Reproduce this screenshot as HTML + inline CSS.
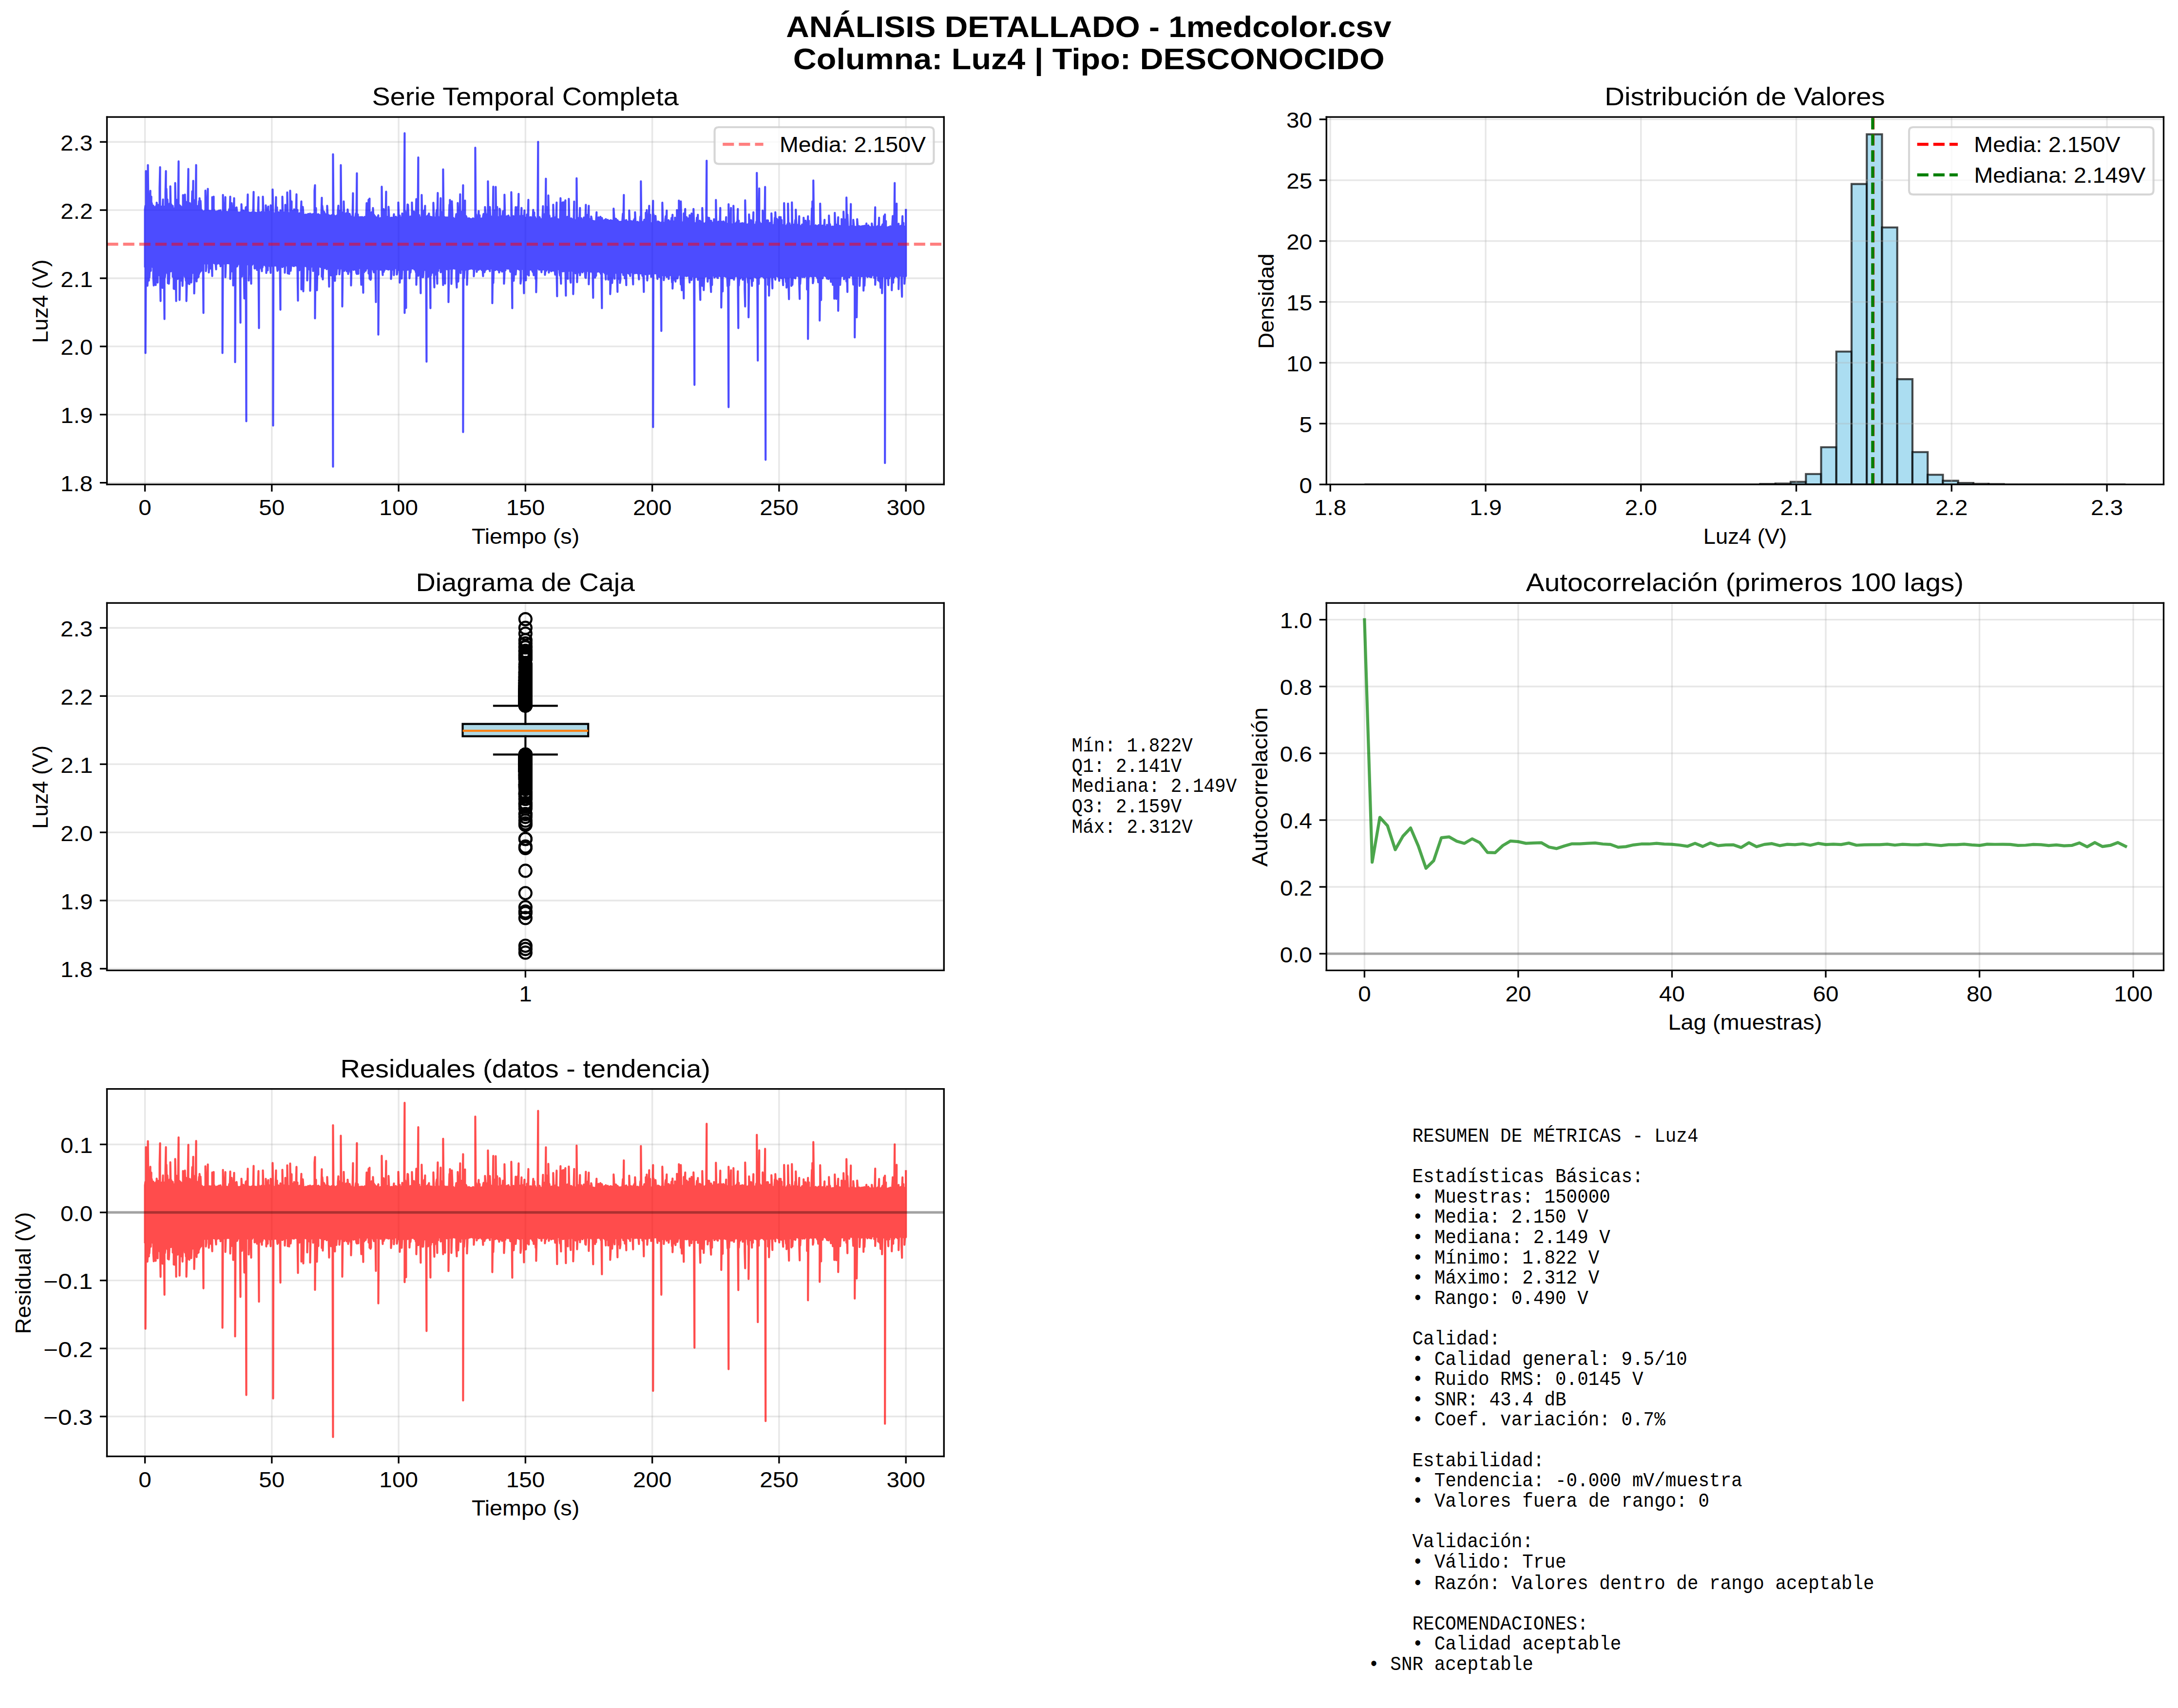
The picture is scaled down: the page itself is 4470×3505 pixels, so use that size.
<!DOCTYPE html>
<html><head><meta charset="utf-8"><title>Análisis detallado - 1medcolor.csv</title>
<style>html,body{margin:0;padding:0;background:#fff;overflow:hidden}svg{display:block}</style>
</head><body>
<svg width="4470" height="3505" viewBox="0 0 1072.8 841.2" version="1.1">
<defs>
<style type="text/css">*{stroke-linejoin: round; stroke-linecap: butt}</style>
</defs>
<g id="figure_1">
<g id="patch_1">
<path d="M 0 841.2 
L 1072.8 841.2 
L 1072.8 0 
L 0 0 
z
" style="fill: #ffffff"/>
</g>
<g id="axes_1">
<g id="patch_2">
<path d="M 52.68 238.60 
L 464.95 238.60 
L 464.95 57.64 
L 52.68 57.64 
z
" style="fill: #ffffff"/>
</g>
<g id="matplotlib.axis_1">
<g id="xtick_1">
<g id="line2d_1">
<path d="M 71.41 238.60 
L 71.41 57.64 
" clip-path="url(#pfc996ee8aa)" style="fill: none; stroke: #b0b0b0; stroke-opacity: 0.3; stroke-width: 0.8; stroke-linecap: square"/>
</g>
<g id="line2d_2">
<defs>
<path id="m7c25c535dc" d="M 0 0 
L 0 3.5 
" style="stroke: #000000; stroke-width: 0.8"/>
</defs>
<g>
<use href="#m7c25c535dc" x="71.41" y="238.60" style="stroke: #000000; stroke-width: 0.8"/>
</g>
</g>
</g>
<g id="xtick_2">
<g id="line2d_3">
<path d="M 133.88 238.60 
L 133.88 57.64 
" clip-path="url(#pfc996ee8aa)" style="fill: none; stroke: #b0b0b0; stroke-opacity: 0.3; stroke-width: 0.8; stroke-linecap: square"/>
</g>
<g id="line2d_4">
<g>
<use href="#m7c25c535dc" x="133.88" y="238.60" style="stroke: #000000; stroke-width: 0.8"/>
</g>
</g>
</g>
<g id="xtick_3">
<g id="line2d_5">
<path d="M 196.35 238.60 
L 196.35 57.64 
" clip-path="url(#pfc996ee8aa)" style="fill: none; stroke: #b0b0b0; stroke-opacity: 0.3; stroke-width: 0.8; stroke-linecap: square"/>
</g>
<g id="line2d_6">
<g>
<use href="#m7c25c535dc" x="196.35" y="238.60" style="stroke: #000000; stroke-width: 0.8"/>
</g>
</g>
</g>
<g id="xtick_4">
<g id="line2d_7">
<path d="M 258.81 238.60 
L 258.81 57.64 
" clip-path="url(#pfc996ee8aa)" style="fill: none; stroke: #b0b0b0; stroke-opacity: 0.3; stroke-width: 0.8; stroke-linecap: square"/>
</g>
<g id="line2d_8">
<g>
<use href="#m7c25c535dc" x="258.81" y="238.60" style="stroke: #000000; stroke-width: 0.8"/>
</g>
</g>
</g>
<g id="xtick_5">
<g id="line2d_9">
<path d="M 321.28 238.60 
L 321.28 57.64 
" clip-path="url(#pfc996ee8aa)" style="fill: none; stroke: #b0b0b0; stroke-opacity: 0.3; stroke-width: 0.8; stroke-linecap: square"/>
</g>
<g id="line2d_10">
<g>
<use href="#m7c25c535dc" x="321.28" y="238.60" style="stroke: #000000; stroke-width: 0.8"/>
</g>
</g>
</g>
<g id="xtick_6">
<g id="line2d_11">
<path d="M 383.74 238.60 
L 383.74 57.64 
" clip-path="url(#pfc996ee8aa)" style="fill: none; stroke: #b0b0b0; stroke-opacity: 0.3; stroke-width: 0.8; stroke-linecap: square"/>
</g>
<g id="line2d_12">
<g>
<use href="#m7c25c535dc" x="383.74" y="238.60" style="stroke: #000000; stroke-width: 0.8"/>
</g>
</g>
</g>
<g id="xtick_7">
<g id="line2d_13">
<path d="M 446.21 238.60 
L 446.21 57.64 
" clip-path="url(#pfc996ee8aa)" style="fill: none; stroke: #b0b0b0; stroke-opacity: 0.3; stroke-width: 0.8; stroke-linecap: square"/>
</g>
<g id="line2d_14">
<g>
<use href="#m7c25c535dc" x="446.21" y="238.60" style="stroke: #000000; stroke-width: 0.8"/>
</g>
</g>
</g>
</g>
<g id="matplotlib.axis_2">
<g id="ytick_1">
<g id="line2d_15">
<path d="M 52.68 237.76 
L 464.95 237.76 
" clip-path="url(#pfc996ee8aa)" style="fill: none; stroke: #b0b0b0; stroke-opacity: 0.3; stroke-width: 0.8; stroke-linecap: square"/>
</g>
<g id="line2d_16">
<defs>
<path id="mb258c49b38" d="M 0 0 
L -3.5 0 
" style="stroke: #000000; stroke-width: 0.8"/>
</defs>
<g>
<use href="#mb258c49b38" x="52.68" y="237.76" style="stroke: #000000; stroke-width: 0.8"/>
</g>
</g>
</g>
<g id="ytick_2">
<g id="line2d_17">
<path d="M 52.68 204.19 
L 464.95 204.19 
" clip-path="url(#pfc996ee8aa)" style="fill: none; stroke: #b0b0b0; stroke-opacity: 0.3; stroke-width: 0.8; stroke-linecap: square"/>
</g>
<g id="line2d_18">
<g>
<use href="#mb258c49b38" x="52.68" y="204.19" style="stroke: #000000; stroke-width: 0.8"/>
</g>
</g>
</g>
<g id="ytick_3">
<g id="line2d_19">
<path d="M 52.68 170.62 
L 464.95 170.62 
" clip-path="url(#pfc996ee8aa)" style="fill: none; stroke: #b0b0b0; stroke-opacity: 0.3; stroke-width: 0.8; stroke-linecap: square"/>
</g>
<g id="line2d_20">
<g>
<use href="#mb258c49b38" x="52.68" y="170.62" style="stroke: #000000; stroke-width: 0.8"/>
</g>
</g>
</g>
<g id="ytick_4">
<g id="line2d_21">
<path d="M 52.68 137.04 
L 464.95 137.04 
" clip-path="url(#pfc996ee8aa)" style="fill: none; stroke: #b0b0b0; stroke-opacity: 0.3; stroke-width: 0.8; stroke-linecap: square"/>
</g>
<g id="line2d_22">
<g>
<use href="#mb258c49b38" x="52.68" y="137.04" style="stroke: #000000; stroke-width: 0.8"/>
</g>
</g>
</g>
<g id="ytick_5">
<g id="line2d_23">
<path d="M 52.68 103.47 
L 464.95 103.47 
" clip-path="url(#pfc996ee8aa)" style="fill: none; stroke: #b0b0b0; stroke-opacity: 0.3; stroke-width: 0.8; stroke-linecap: square"/>
</g>
<g id="line2d_24">
<g>
<use href="#mb258c49b38" x="52.68" y="103.47" style="stroke: #000000; stroke-width: 0.8"/>
</g>
</g>
</g>
<g id="ytick_6">
<g id="line2d_25">
<path d="M 52.68 69.90 
L 464.95 69.90 
" clip-path="url(#pfc996ee8aa)" style="fill: none; stroke: #b0b0b0; stroke-opacity: 0.3; stroke-width: 0.8; stroke-linecap: square"/>
</g>
<g id="line2d_26">
<g>
<use href="#mb258c49b38" x="52.68" y="69.90" style="stroke: #000000; stroke-width: 0.8"/>
</g>
</g>
</g>
</g>
<g id="ts">
<path d="M 71.41 131.20 
L 71.41 103.12 
L 71.65 101.37 
L 71.65 173.87 
L 71.89 131.36 
L 71.89 84.28 
L 72.13 95.76 
L 72.13 130.62 
L 72.37 129.58 
L 72.37 101.44 
L 72.61 102.81 
L 72.61 140.74 
L 72.85 135.61 
L 72.85 81.29 
L 73.09 103.29 
L 73.09 135.78 
L 73.33 138.19 
L 73.33 102.63 
L 73.57 101.86 
L 73.57 136.66 
L 73.81 132.14 
L 73.81 100.90 
L 74.05 93.96 
L 74.05 133.02 
L 74.29 133.38 
L 74.29 100.57 
L 74.53 96.85 
L 74.53 130.32 
L 74.77 130.83 
L 74.77 100.03 
L 75.01 102.69 
L 75.01 131.04 
L 75.25 131.55 
L 75.25 102.08 
L 75.49 101.28 
L 75.49 136.65 
L 75.73 140.59 
L 75.73 103.20 
L 75.97 101.87 
L 75.97 132.51 
L 76.21 132.22 
L 76.21 102.40 
L 76.45 103.72 
L 76.45 130.67 
L 76.69 140.39 
L 76.69 103.32 
L 76.93 101.38 
L 76.93 133.29 
L 77.17 130.01 
L 77.17 99.77 
L 77.41 102.21 
L 77.41 138.42 
L 77.65 139.14 
L 77.65 103.32 
L 77.89 100.95 
L 77.89 133.10 
L 78.13 132.94 
L 78.13 102.79 
L 78.37 102.05 
L 78.37 130.60 
L 78.61 135.72 
L 78.61 92.55 
L 78.85 82.36 
L 78.85 134.28 
L 79.09 148.27 
L 79.09 102.39 
L 79.33 103.22 
L 79.33 132.04 
L 79.57 131.12 
L 79.57 101.78 
L 79.81 102.52 
L 79.81 131.00 
L 80.05 141.79 
L 80.05 103.15 
L 80.29 98.22 
L 80.29 135.05 
L 80.53 132.53 
L 80.53 102.16 
L 80.77 101.72 
L 80.77 133.81 
L 81.01 157.12 
L 81.01 103.97 
L 81.25 103.95 
L 81.25 136.53 
L 81.49 133.87 
L 81.49 95.18 
L 81.73 84.28 
L 81.73 130.38 
L 81.97 133.82 
L 81.97 92.99 
L 82.21 102.98 
L 82.21 130.24 
L 82.45 134.62 
L 82.45 98.24 
L 82.69 103.36 
L 82.69 139.49 
L 82.93 132.28 
L 82.93 101.78 
L 83.17 102.17 
L 83.17 139.74 
L 83.41 135.13 
L 83.41 100.56 
L 83.65 100.15 
L 83.65 131.28 
L 83.89 133.13 
L 83.89 91.74 
L 84.13 103.89 
L 84.13 133.65 
L 84.37 130.43 
L 84.37 100.61 
L 84.61 102.30 
L 84.61 133.24 
L 84.85 133.00 
L 84.85 101.75 
L 85.09 101.44 
L 85.09 136.32 
L 85.33 130.53 
L 85.33 102.85 
L 85.57 102.71 
L 85.57 142.22 
L 85.81 131.42 
L 85.81 104.20 
L 86.05 102.57 
L 86.05 135.28 
L 86.29 142.44 
L 86.29 90.14 
L 86.53 103.54 
L 86.53 130.28 
L 86.77 148.27 
L 86.77 102.97 
L 87.01 98.42 
L 87.01 131.09 
L 87.25 136.47 
L 87.25 101.80 
L 87.49 102.61 
L 87.49 137.37 
L 87.73 133.43 
L 87.73 99.93 
L 87.97 79.48 
L 87.97 132.11 
L 88.21 132.06 
L 88.21 102.75 
L 88.45 101.04 
L 88.45 147.74 
L 88.69 133.10 
L 88.69 104.01 
L 88.93 101.55 
L 88.93 135.98 
L 89.17 133.72 
L 89.17 101.90 
L 89.41 102.40 
L 89.41 138.24 
L 89.65 132.77 
L 89.65 101.98 
L 89.89 104.00 
L 89.89 140.80 
L 90.13 131.78 
L 90.13 96.08 
L 90.37 97.94 
L 90.37 132.09 
L 90.61 131.67 
L 90.61 103.77 
L 90.85 103.48 
L 90.85 133.38 
L 91.09 136.31 
L 91.09 95.84 
L 91.33 103.69 
L 91.33 130.64 
L 91.57 138.21 
L 91.57 99.38 
L 91.81 102.22 
L 91.81 148.27 
L 92.05 139.44 
L 92.05 102.88 
L 92.29 100.37 
L 92.29 139.70 
L 92.53 131.61 
L 92.53 98.41 
L 92.77 83.21 
L 92.77 131.76 
L 93.01 136.79 
L 93.01 104.08 
L 93.25 102.87 
L 93.25 139.90 
L 93.49 137.55 
L 93.49 100.04 
L 93.73 103.66 
L 93.73 134.15 
L 93.97 133.03 
L 93.97 103.66 
L 94.21 103.07 
L 94.21 139.11 
L 94.45 133.42 
L 94.45 102.94 
L 94.69 94.21 
L 94.69 133.46 
L 94.93 134.38 
L 94.93 103.67 
L 95.17 89.08 
L 95.17 133.43 
L 95.41 132.86 
L 95.41 98.38 
L 95.65 100.31 
L 95.65 144.51 
L 95.89 135.11 
L 95.89 103.65 
L 96.13 103.35 
L 96.13 132.37 
L 96.37 135.03 
L 96.37 101.17 
L 96.61 81.29 
L 96.61 134.94 
L 96.85 138.60 
L 96.85 102.54 
L 97.09 101.47 
L 97.09 130.99 
L 97.33 136.79 
L 97.33 103.34 
L 97.57 103.14 
L 97.57 130.64 
L 97.81 136.37 
L 97.81 102.59 
L 98.05 99.06 
L 98.05 134.96 
L 98.29 133.51 
L 98.29 97.61 
L 98.53 102.09 
L 98.53 133.96 
L 98.77 130.25 
L 98.77 98.95 
L 99.01 104.06 
L 99.01 133.40 
L 99.25 129.39 
L 99.25 103.73 
L 99.49 103.62 
L 99.49 132.07 
L 99.73 129.16 
L 99.73 104.44 
L 99.97 104.17 
L 99.97 129.07 
L 100.21 154.14 
L 100.21 104.11 
L 100.45 104.51 
L 100.45 129.01 
L 100.69 128.89 
L 100.69 103.96 
L 100.93 104.40 
L 100.93 129.78 
L 101.17 129.31 
L 101.17 93.87 
L 101.41 104.45 
L 101.41 133.54 
L 101.65 131.59 
L 101.65 102.44 
L 101.89 104.33 
L 101.89 129.46 
L 102.13 129.09 
L 102.13 100.84 
L 102.37 93.02 
L 102.37 129.74 
L 102.61 129.13 
L 102.61 104.43 
L 102.85 104.07 
L 102.85 134.20 
L 103.09 130.50 
L 103.09 103.84 
L 103.33 104.58 
L 103.33 129.97 
L 103.57 129.38 
L 103.57 104.54 
L 103.81 103.90 
L 103.81 132.27 
L 104.05 129.20 
L 104.05 104.54 
L 104.29 104.38 
L 104.29 129.11 
L 104.53 135.97 
L 104.53 97.07 
L 104.77 104.28 
L 104.77 129.44 
L 105.01 128.92 
L 105.01 104.32 
L 105.25 96.86 
L 105.25 129.53 
L 105.49 128.95 
L 105.49 103.35 
L 105.73 104.39 
L 105.73 129.35 
L 105.97 129.87 
L 105.97 104.11 
L 106.21 104.34 
L 106.21 129.78 
L 106.45 132.66 
L 106.45 104.66 
L 106.69 104.74 
L 106.69 129.59 
L 106.93 129.96 
L 106.93 104.05 
L 107.17 104.08 
L 107.17 129.48 
L 107.41 129.19 
L 107.41 104.66 
L 107.65 103.89 
L 107.65 129.44 
L 107.89 129.73 
L 107.89 103.69 
L 108.13 104.48 
L 108.13 129.91 
L 108.37 129.79 
L 108.37 104.50 
L 108.61 103.56 
L 108.61 131.16 
L 108.85 129.53 
L 108.85 104.37 
L 109.09 104.55 
L 109.09 129.08 
L 109.33 129.35 
L 109.33 104.80 
L 109.57 104.31 
L 109.57 173.87 
L 109.81 130.06 
L 109.81 96.01 
L 110.05 104.40 
L 110.05 129.16 
L 110.29 129.44 
L 110.29 104.82 
L 110.53 104.67 
L 110.53 129.81 
L 110.77 129.39 
L 110.77 104.85 
L 111.01 97.07 
L 111.01 136.54 
L 111.25 129.51 
L 111.25 104.53 
L 111.49 104.52 
L 111.49 129.27 
L 111.73 129.67 
L 111.73 104.33 
L 111.97 104.87 
L 111.97 129.19 
L 112.21 129.59 
L 112.21 104.86 
L 112.45 104.44 
L 112.45 129.53 
L 112.69 129.68 
L 112.69 104.29 
L 112.92 103.00 
L 112.92 129.26 
L 113.16 129.48 
L 113.16 104.72 
L 113.40 96.86 
L 113.40 137.37 
L 113.64 129.38 
L 113.64 104.80 
L 113.88 104.86 
L 113.88 129.26 
L 114.12 131.05 
L 114.12 100.03 
L 114.36 104.81 
L 114.36 133.67 
L 114.60 130.76 
L 114.60 104.65 
L 114.84 104.96 
L 114.84 140.59 
L 115.08 130.17 
L 115.08 104.29 
L 115.32 97.61 
L 115.32 131.27 
L 115.56 130.77 
L 115.56 102.23 
L 115.80 103.22 
L 115.80 178.35 
L 116.04 130.04 
L 116.04 104.42 
L 116.28 103.93 
L 116.28 130.21 
L 116.52 131.30 
L 116.52 102.14 
L 116.76 104.94 
L 116.76 131.25 
L 117.00 130.57 
L 117.00 104.49 
L 117.24 104.60 
L 117.24 129.70 
L 117.48 129.95 
L 117.48 104.93 
L 117.72 104.75 
L 117.72 129.70 
L 117.96 129.91 
L 117.96 104.94 
L 118.20 104.72 
L 118.20 129.96 
L 118.44 158.94 
L 118.44 104.46 
L 118.68 104.97 
L 118.68 129.73 
L 118.92 129.46 
L 118.92 100.59 
L 119.16 104.81 
L 119.16 136.21 
L 119.40 130.09 
L 119.40 103.94 
L 119.64 104.73 
L 119.64 129.67 
L 119.88 130.08 
L 119.88 103.65 
L 120.12 104.88 
L 120.12 129.65 
L 120.36 146.99 
L 120.36 105.07 
L 120.60 104.96 
L 120.60 131.63 
L 120.84 129.76 
L 120.84 104.34 
L 121.08 102.13 
L 121.08 130.02 
L 121.32 207.47 
L 121.32 101.95 
L 121.56 104.95 
L 121.56 130.32 
L 121.80 130.09 
L 121.80 104.82 
L 122.04 95.79 
L 122.04 130.10 
L 122.28 130.20 
L 122.28 104.55 
L 122.52 104.58 
L 122.52 138.15 
L 122.76 129.94 
L 122.76 104.97 
L 123.00 104.83 
L 123.00 129.61 
L 123.24 129.90 
L 123.24 104.92 
L 123.48 104.90 
L 123.48 129.82 
L 123.72 139.74 
L 123.72 104.71 
L 123.96 104.70 
L 123.96 130.06 
L 124.20 130.37 
L 124.20 105.05 
L 124.44 104.43 
L 124.44 129.71 
L 124.68 129.79 
L 124.68 104.81 
L 124.92 94.51 
L 124.92 129.76 
L 125.16 129.92 
L 125.16 104.64 
L 125.40 104.66 
L 125.40 132.23 
L 125.64 130.22 
L 125.64 104.74 
L 125.88 105.12 
L 125.88 130.00 
L 126.12 132.05 
L 126.12 104.85 
L 126.36 105.18 
L 126.36 130.09 
L 126.60 132.94 
L 126.60 104.84 
L 126.84 105.17 
L 126.84 130.09 
L 127.08 129.91 
L 127.08 104.46 
L 127.32 97.07 
L 127.32 131.09 
L 127.56 161.60 
L 127.56 104.29 
L 127.80 105.09 
L 127.80 132.39 
L 128.04 130.38 
L 128.04 104.74 
L 128.28 105.30 
L 128.28 130.43 
L 128.52 130.53 
L 128.52 105.13 
L 128.76 104.46 
L 128.76 131.12 
L 129.00 133.55 
L 129.00 104.92 
L 129.24 104.77 
L 129.24 131.75 
L 129.48 130.65 
L 129.48 96.86 
L 129.72 104.13 
L 129.72 129.95 
L 129.96 130.23 
L 129.96 104.46 
L 130.20 105.12 
L 130.20 130.45 
L 130.44 130.38 
L 130.44 104.97 
L 130.68 104.94 
L 130.68 129.93 
L 130.92 131.11 
L 130.92 101.10 
L 131.16 104.02 
L 131.16 134.45 
L 131.40 131.34 
L 131.40 104.86 
L 131.64 104.95 
L 131.64 130.08 
L 131.88 133.11 
L 131.88 104.07 
L 132.12 101.73 
L 132.12 130.13 
L 132.36 130.17 
L 132.36 104.88 
L 132.60 105.19 
L 132.60 130.13 
L 132.84 131.01 
L 132.84 104.31 
L 133.08 105.33 
L 133.08 130.37 
L 133.32 134.40 
L 133.32 101.12 
L 133.56 102.36 
L 133.56 130.13 
L 133.80 130.34 
L 133.80 105.25 
L 134.04 104.54 
L 134.04 130.94 
L 134.28 130.04 
L 134.28 93.34 
L 134.52 105.12 
L 134.52 209.60 
L 134.76 104.98 
L 135.00 105.50 
L 135.00 130.92 
L 135.24 130.62 
L 135.24 105.34 
L 135.48 105.34 
L 135.48 130.70 
L 135.72 130.23 
L 135.72 105.44 
L 135.96 97.07 
L 135.96 130.81 
L 136.20 130.19 
L 136.20 104.93 
L 136.44 102.12 
L 136.44 130.66 
L 136.68 133.37 
L 136.68 105.28 
L 136.92 104.85 
L 136.92 130.22 
L 137.16 132.78 
L 137.16 104.53 
L 137.40 104.79 
L 137.40 131.21 
L 137.64 130.39 
L 137.64 105.25 
L 137.88 105.18 
L 137.88 130.36 
L 138.12 152.54 
L 138.12 103.55 
L 138.36 105.33 
L 138.36 130.23 
L 138.60 130.36 
L 138.60 104.96 
L 138.84 105.48 
L 138.84 130.92 
L 139.08 131.54 
L 139.08 96.86 
L 139.32 105.55 
L 139.32 131.30 
L 139.56 131.04 
L 139.56 104.62 
L 139.80 105.30 
L 139.80 130.67 
L 140.04 130.30 
L 140.04 104.57 
L 140.28 105.40 
L 140.28 134.33 
L 140.52 130.55 
L 140.52 100.87 
L 140.76 105.13 
L 140.76 130.58 
L 141.00 130.72 
L 141.00 105.61 
L 141.24 105.28 
L 141.24 130.34 
L 141.48 130.47 
L 141.48 94.73 
L 141.72 105.12 
L 141.72 134.63 
L 141.96 133.55 
L 141.96 104.88 
L 142.20 105.05 
L 142.20 130.75 
L 142.44 134.86 
L 142.44 105.46 
L 142.68 105.67 
L 142.68 131.66 
L 142.92 132.76 
L 142.92 93.91 
L 143.16 105.03 
L 143.16 133.37 
L 143.40 130.80 
L 143.40 105.64 
L 143.64 99.21 
L 143.64 130.40 
L 143.88 130.50 
L 143.88 105.58 
L 144.12 105.21 
L 144.12 130.77 
L 144.36 130.93 
L 144.36 103.86 
L 144.60 105.66 
L 144.60 130.56 
L 144.84 131.06 
L 144.84 103.09 
L 145.08 105.68 
L 145.08 130.69 
L 145.32 130.58 
L 145.32 105.51 
L 145.56 105.12 
L 145.56 130.64 
L 145.80 130.75 
L 145.80 104.23 
L 146.04 95.69 
L 146.04 130.81 
L 146.28 130.62 
L 146.28 104.96 
L 146.52 103.37 
L 146.52 131.90 
L 146.76 148.06 
L 146.76 105.30 
L 147.00 105.65 
L 147.00 131.43 
L 147.24 131.29 
L 147.24 105.51 
L 147.48 105.06 
L 147.48 133.09 
L 147.72 131.16 
L 147.72 105.47 
L 147.96 105.80 
L 147.96 130.82 
L 148.20 130.72 
L 148.20 104.86 
L 148.44 99.21 
L 148.44 142.54 
L 148.68 131.29 
L 148.68 105.79 
L 148.92 105.61 
L 148.92 131.85 
L 149.16 131.65 
L 149.16 101.92 
L 149.40 105.19 
L 149.40 143.47 
L 149.64 130.62 
L 149.64 105.77 
L 149.88 105.81 
L 149.88 130.70 
L 150.12 130.98 
L 150.12 106.00 
L 150.36 106.05 
L 150.36 130.92 
L 150.60 130.68 
L 150.60 105.65 
L 150.84 106.07 
L 150.84 131.22 
L 151.08 130.93 
L 151.08 105.78 
L 151.32 105.75 
L 151.32 138.13 
L 151.56 131.01 
L 151.56 106.09 
L 151.80 105.37 
L 151.80 130.88 
L 152.04 131.02 
L 152.04 105.61 
L 152.28 105.58 
L 152.28 132.36 
L 152.52 132.88 
L 152.52 105.86 
L 152.76 105.20 
L 152.76 143.21 
L 153.00 131.06 
L 153.00 105.94 
L 153.24 105.85 
L 153.24 131.48 
L 153.48 130.87 
L 153.48 106.03 
L 153.72 105.55 
L 153.72 131.04 
L 153.96 131.23 
L 153.96 105.96 
L 154.20 106.06 
L 154.20 133.48 
L 154.44 131.01 
L 154.44 105.34 
L 154.68 105.93 
L 154.68 130.86 
L 154.92 132.63 
L 154.92 93.94 
L 155.16 91.21 
L 155.16 156.80 
L 155.40 131.24 
L 155.40 106.19 
L 155.64 102.48 
L 155.64 131.60 
L 155.87 131.42 
L 155.87 105.86 
L 156.11 106.18 
L 156.11 142.94 
L 156.35 131.12 
L 156.35 105.63 
L 156.59 106.00 
L 156.59 131.41 
L 156.83 135.26 
L 156.83 105.47 
L 157.07 106.03 
L 157.07 131.11 
L 157.31 131.28 
L 157.31 105.87 
L 157.55 106.00 
L 157.55 131.04 
L 157.79 131.00 
L 157.79 106.31 
L 158.03 106.47 
L 158.03 131.54 
L 158.27 131.53 
L 158.27 106.25 
L 158.51 97.40 
L 158.51 136.28 
L 158.75 131.05 
L 158.75 101.36 
L 158.99 104.05 
L 158.99 137.60 
L 159.23 131.23 
L 159.23 106.45 
L 159.47 104.17 
L 159.47 131.57 
L 159.71 131.24 
L 159.71 104.49 
L 159.95 105.79 
L 159.95 132.08 
L 160.19 131.23 
L 160.19 106.62 
L 160.43 105.52 
L 160.43 131.47 
L 160.67 131.50 
L 160.67 106.28 
L 160.91 106.23 
L 160.91 132.60 
L 161.15 131.21 
L 161.15 101.34 
L 161.39 106.20 
L 161.39 131.49 
L 161.63 131.57 
L 161.63 106.47 
L 161.87 105.91 
L 161.87 131.31 
L 162.11 141.19 
L 162.11 106.22 
L 162.35 106.22 
L 162.35 131.69 
L 162.59 131.16 
L 162.59 106.25 
L 162.83 106.44 
L 162.83 131.59 
L 163.07 135.63 
L 163.07 106.76 
L 163.31 106.06 
L 163.31 131.79 
L 163.55 131.37 
L 163.55 106.55 
L 163.79 105.84 
L 163.79 132.11 
L 164.03 229.86 
L 164.03 75.96 
L 164.27 106.10 
L 164.27 133.19 
L 164.51 131.26 
L 164.51 106.00 
L 164.75 106.74 
L 164.75 132.91 
L 164.99 138.31 
L 164.99 106.61 
L 165.23 106.48 
L 165.23 131.58 
L 165.47 132.30 
L 165.47 106.74 
L 165.71 106.68 
L 165.71 135.16 
L 165.95 131.27 
L 165.95 106.11 
L 166.19 106.86 
L 166.19 132.14 
L 166.43 132.15 
L 166.43 104.25 
L 166.67 101.30 
L 166.67 131.99 
L 166.91 132.03 
L 166.91 106.90 
L 167.15 103.84 
L 167.15 135.11 
L 167.39 132.67 
L 167.39 106.15 
L 167.63 106.56 
L 167.63 131.82 
L 167.87 132.17 
L 167.87 81.29 
L 168.11 106.65 
L 168.11 131.91 
L 168.35 131.98 
L 168.35 106.63 
L 168.59 104.67 
L 168.59 150.94 
L 168.83 131.99 
L 168.83 106.93 
L 169.07 106.72 
L 169.07 131.71 
L 169.31 132.00 
L 169.31 99.21 
L 169.55 107.16 
L 169.55 133.43 
L 169.79 132.60 
L 169.79 106.63 
L 170.03 106.85 
L 170.03 132.23 
L 170.27 132.11 
L 170.27 106.75 
L 170.51 105.00 
L 170.51 131.74 
L 170.75 133.58 
L 170.75 107.01 
L 170.99 106.77 
L 170.99 131.55 
L 171.23 131.96 
L 171.23 103.17 
L 171.47 106.25 
L 171.47 134.94 
L 171.71 131.51 
L 171.71 106.73 
L 171.95 106.97 
L 171.95 131.56 
L 172.19 132.40 
L 172.19 105.34 
L 172.43 106.13 
L 172.43 132.30 
L 172.67 134.08 
L 172.67 107.19 
L 172.91 106.75 
L 172.91 140.59 
L 173.15 131.90 
L 173.15 107.34 
L 173.39 106.96 
L 173.39 131.78 
L 173.63 132.28 
L 173.63 107.18 
L 173.87 95.15 
L 173.87 131.80 
L 174.11 132.92 
L 174.11 107.25 
L 174.35 107.44 
L 174.35 131.77 
L 174.59 131.95 
L 174.59 107.20 
L 174.83 107.44 
L 174.83 132.79 
L 175.07 132.18 
L 175.07 106.85 
L 175.31 105.08 
L 175.31 132.28 
L 175.55 134.55 
L 175.55 106.61 
L 175.79 85.34 
L 175.79 134.91 
L 176.03 131.92 
L 176.03 107.40 
L 176.27 105.64 
L 176.27 132.37 
L 176.51 134.83 
L 176.51 106.82 
L 176.75 107.01 
L 176.75 131.64 
L 176.99 131.89 
L 176.99 107.57 
L 177.23 107.26 
L 177.23 132.06 
L 177.47 132.08 
L 177.47 106.95 
L 177.71 107.46 
L 177.71 133.23 
L 177.95 140.27 
L 177.95 107.54 
L 178.19 106.97 
L 178.19 131.96 
L 178.43 131.92 
L 178.43 106.96 
L 178.67 107.10 
L 178.67 131.78 
L 178.91 144.19 
L 178.91 107.26 
L 179.15 107.17 
L 179.15 132.37 
L 179.39 134.02 
L 179.39 107.12 
L 179.63 106.84 
L 179.63 132.48 
L 179.87 132.66 
L 179.87 107.18 
L 180.11 107.58 
L 180.11 133.38 
L 180.35 131.91 
L 180.35 107.73 
L 180.59 100.06 
L 180.59 132.27 
L 180.83 132.13 
L 180.83 107.27 
L 181.07 107.79 
L 181.07 131.97 
L 181.31 131.96 
L 181.31 107.44 
L 181.55 98.35 
L 181.55 134.72 
L 181.79 133.76 
L 181.79 107.11 
L 182.03 97.80 
L 182.03 137.27 
L 182.27 132.35 
L 182.27 107.87 
L 182.51 107.43 
L 182.51 137.82 
L 182.75 137.09 
L 182.75 105.75 
L 182.99 104.56 
L 182.99 132.44 
L 183.23 132.36 
L 183.23 107.79 
L 183.47 107.92 
L 183.47 132.47 
L 183.71 132.74 
L 183.71 102.45 
L 183.95 106.81 
L 183.95 133.28 
L 184.19 134.14 
L 184.19 105.71 
L 184.43 107.47 
L 184.43 132.12 
L 184.67 133.25 
L 184.67 106.41 
L 184.91 107.37 
L 184.91 132.09 
L 185.15 148.80 
L 185.15 107.03 
L 185.39 107.21 
L 185.39 132.30 
L 185.63 132.31 
L 185.63 107.85 
L 185.87 107.68 
L 185.87 132.58 
L 186.11 132.36 
L 186.11 106.83 
L 186.35 106.02 
L 186.35 164.80 
L 186.59 132.40 
L 186.59 107.79 
L 186.83 107.57 
L 186.83 132.88 
L 187.07 131.94 
L 187.07 107.72 
L 187.31 107.46 
L 187.31 132.26 
L 187.55 132.83 
L 187.55 107.62 
L 187.79 107.31 
L 187.79 132.62 
L 188.03 132.55 
L 188.03 91.96 
L 188.27 107.78 
L 188.27 132.09 
L 188.51 135.47 
L 188.51 107.51 
L 188.75 107.24 
L 188.75 132.58 
L 188.99 133.91 
L 188.99 102.97 
L 189.23 107.82 
L 189.23 133.23 
L 189.47 132.90 
L 189.47 104.82 
L 189.71 107.37 
L 189.71 132.14 
L 189.95 132.00 
L 189.95 107.71 
L 190.19 94.41 
L 190.19 131.91 
L 190.43 132.49 
L 190.43 107.16 
L 190.67 107.12 
L 190.67 132.00 
L 190.91 132.18 
L 190.91 106.76 
L 191.15 107.39 
L 191.15 132.72 
L 191.39 132.76 
L 191.39 101.83 
L 191.63 106.71 
L 191.63 131.90 
L 191.87 131.97 
L 191.87 107.73 
L 192.11 107.31 
L 192.11 132.17 
L 192.35 132.78 
L 192.35 107.56 
L 192.59 107.37 
L 192.59 137.39 
L 192.83 134.82 
L 192.83 107.19 
L 193.07 107.27 
L 193.07 132.37 
L 193.31 132.80 
L 193.31 107.53 
L 193.55 107.62 
L 193.55 132.07 
L 193.79 132.45 
L 193.79 107.65 
L 194.03 105.52 
L 194.03 135.53 
L 194.27 132.02 
L 194.27 107.69 
L 194.51 107.66 
L 194.51 132.14 
L 194.75 132.03 
L 194.75 107.45 
L 194.99 106.76 
L 194.99 132.02 
L 195.23 132.10 
L 195.23 107.52 
L 195.47 107.32 
L 195.47 135.22 
L 195.71 134.05 
L 195.71 107.11 
L 195.95 107.59 
L 195.95 132.18 
L 196.19 132.46 
L 196.19 99.74 
L 196.43 107.33 
L 196.43 133.00 
L 196.67 132.24 
L 196.67 107.51 
L 196.91 106.18 
L 196.91 139.20 
L 197.15 132.15 
L 197.15 107.36 
L 197.39 107.08 
L 197.39 131.95 
L 197.63 132.52 
L 197.63 107.53 
L 197.87 107.46 
L 197.87 137.22 
L 198.11 131.97 
L 198.11 105.14 
L 198.35 107.28 
L 198.35 132.07 
L 198.59 132.52 
L 198.59 107.16 
L 198.82 107.18 
L 198.82 132.87 
L 199.06 132.00 
L 199.06 107.42 
L 199.30 65.61 
L 199.30 154.14 
L 199.54 132.80 
L 199.54 103.89 
L 199.78 107.46 
L 199.78 132.06 
L 200.02 151.68 
L 200.02 107.20 
L 200.26 106.83 
L 200.26 132.98 
L 200.50 132.89 
L 200.50 107.28 
L 200.74 100.71 
L 200.74 131.90 
L 200.98 132.75 
L 200.98 100.87 
L 201.22 106.91 
L 201.22 132.37 
L 201.46 132.32 
L 201.46 107.52 
L 201.70 107.03 
L 201.70 137.06 
L 201.94 132.49 
L 201.94 107.17 
L 202.18 106.63 
L 202.18 134.20 
L 202.42 131.93 
L 202.42 106.83 
L 202.66 106.83 
L 202.66 132.03 
L 202.90 132.09 
L 202.90 99.74 
L 203.14 107.05 
L 203.14 132.26 
L 203.38 132.10 
L 203.38 107.32 
L 203.62 106.59 
L 203.62 132.17 
L 203.86 132.10 
L 203.86 104.14 
L 204.10 107.05 
L 204.10 132.78 
L 204.34 132.53 
L 204.34 107.23 
L 204.58 106.49 
L 204.58 132.06 
L 204.82 133.99 
L 204.82 107.11 
L 205.06 98.08 
L 205.06 140.27 
L 205.30 131.91 
L 205.30 106.24 
L 205.54 106.78 
L 205.54 132.42 
L 205.78 134.04 
L 205.78 107.25 
L 206.02 77.56 
L 206.02 135.79 
L 206.26 132.05 
L 206.26 105.78 
L 206.50 105.98 
L 206.50 133.02 
L 206.74 132.99 
L 206.74 107.10 
L 206.98 107.24 
L 206.98 131.90 
L 207.22 144.40 
L 207.22 107.16 
L 207.46 106.95 
L 207.46 132.15 
L 207.70 132.06 
L 207.70 96.01 
L 207.94 107.20 
L 207.94 132.02 
L 208.18 136.52 
L 208.18 106.71 
L 208.42 106.55 
L 208.42 136.45 
L 208.66 132.76 
L 208.66 106.78 
L 208.90 103.63 
L 208.90 132.11 
L 209.14 132.15 
L 209.14 107.01 
L 209.38 101.34 
L 209.38 132.93 
L 209.62 132.08 
L 209.62 107.32 
L 209.86 106.99 
L 209.86 132.72 
L 210.10 178.13 
L 210.10 107.26 
L 210.34 106.52 
L 210.34 132.00 
L 210.58 133.51 
L 210.58 106.87 
L 210.82 106.11 
L 210.82 136.37 
L 211.06 132.04 
L 211.06 105.93 
L 211.30 105.15 
L 211.30 133.09 
L 211.54 132.59 
L 211.54 107.33 
L 211.78 106.73 
L 211.78 131.95 
L 212.02 151.79 
L 212.02 106.88 
L 212.26 107.03 
L 212.26 135.61 
L 212.50 132.23 
L 212.50 106.86 
L 212.74 107.37 
L 212.74 132.19 
L 212.98 134.29 
L 212.98 107.22 
L 213.22 107.43 
L 213.22 131.86 
L 213.46 132.87 
L 213.46 99.87 
L 213.70 106.71 
L 213.70 133.87 
L 213.94 141.55 
L 213.94 107.15 
L 214.18 107.47 
L 214.18 135.50 
L 214.42 131.90 
L 214.42 107.10 
L 214.66 107.17 
L 214.66 133.83 
L 214.90 132.20 
L 214.90 105.32 
L 215.14 103.43 
L 215.14 133.34 
L 215.38 139.74 
L 215.38 107.31 
L 215.62 95.03 
L 215.62 133.07 
L 215.86 133.41 
L 215.86 106.82 
L 216.10 107.46 
L 216.10 132.03 
L 216.34 131.92 
L 216.34 107.60 
L 216.58 107.63 
L 216.58 131.99 
L 216.82 132.22 
L 216.82 107.07 
L 217.06 97.61 
L 217.06 134.10 
L 217.30 133.81 
L 217.30 104.27 
L 217.54 107.15 
L 217.54 132.17 
L 217.78 131.99 
L 217.78 105.81 
L 218.02 105.77 
L 218.02 132.39 
L 218.26 140.40 
L 218.26 83.42 
L 218.50 106.50 
L 218.50 131.90 
L 218.74 134.76 
L 218.74 107.26 
L 218.98 106.90 
L 218.98 132.13 
L 219.22 139.66 
L 219.22 107.58 
L 219.46 107.73 
L 219.46 132.24 
L 219.70 132.41 
L 219.70 107.14 
L 219.94 107.59 
L 219.94 132.10 
L 220.18 132.60 
L 220.18 107.11 
L 220.42 107.18 
L 220.42 132.20 
L 220.66 132.13 
L 220.66 107.28 
L 220.90 107.10 
L 220.90 148.80 
L 221.14 131.96 
L 221.14 107.82 
L 221.38 100.85 
L 221.38 132.35 
L 221.62 131.97 
L 221.62 98.46 
L 221.86 105.86 
L 221.86 132.42 
L 222.10 132.00 
L 222.10 106.97 
L 222.34 107.77 
L 222.34 139.84 
L 222.58 132.46 
L 222.58 99.12 
L 222.82 105.18 
L 222.82 132.00 
L 223.06 132.26 
L 223.06 107.84 
L 223.30 107.33 
L 223.30 132.12 
L 223.54 131.86 
L 223.54 107.69 
L 223.78 107.79 
L 223.78 131.92 
L 224.02 132.31 
L 224.02 107.87 
L 224.26 107.93 
L 224.26 131.95 
L 224.50 132.07 
L 224.50 107.33 
L 224.74 105.44 
L 224.74 137.34 
L 224.98 141.61 
L 224.98 107.91 
L 225.22 107.89 
L 225.22 132.20 
L 225.46 132.01 
L 225.46 99.95 
L 225.70 106.89 
L 225.70 138.67 
L 225.94 131.91 
L 225.94 107.85 
L 226.18 106.59 
L 226.18 132.50 
L 226.42 132.23 
L 226.42 107.27 
L 226.66 95.69 
L 226.66 132.18 
L 226.90 134.52 
L 226.90 107.85 
L 227.14 107.64 
L 227.14 131.84 
L 227.38 132.46 
L 227.38 104.31 
L 227.62 107.80 
L 227.62 131.87 
L 227.86 132.96 
L 227.86 107.91 
L 228.10 91.21 
L 228.10 212.80 
L 228.34 107.97 
L 228.58 107.50 
L 228.58 136.91 
L 228.82 132.90 
L 228.82 107.00 
L 229.06 98.79 
L 229.06 132.95 
L 229.30 132.12 
L 229.30 107.86 
L 229.54 106.42 
L 229.54 132.10 
L 229.78 132.06 
L 229.78 106.96 
L 230.02 107.78 
L 230.02 140.27 
L 230.26 134.65 
L 230.26 107.70 
L 230.50 107.82 
L 230.50 131.85 
L 230.74 132.65 
L 230.74 107.95 
L 230.98 107.50 
L 230.98 132.31 
L 231.22 132.05 
L 231.22 107.95 
L 231.46 107.79 
L 231.46 132.42 
L 231.70 132.28 
L 231.70 108.22 
L 231.94 107.96 
L 231.94 132.19 
L 232.18 132.16 
L 232.18 108.19 
L 232.42 107.99 
L 232.42 132.20 
L 232.66 132.37 
L 232.66 107.74 
L 232.90 107.58 
L 232.90 132.07 
L 233.14 131.92 
L 233.14 107.60 
L 233.38 107.87 
L 233.38 136.05 
L 233.62 132.70 
L 233.62 108.00 
L 233.86 108.12 
L 233.86 132.62 
L 234.10 132.29 
L 234.10 72.76 
L 234.34 108.08 
L 234.34 132.15 
L 234.58 131.90 
L 234.58 105.64 
L 234.82 108.27 
L 234.82 133.90 
L 235.06 132.07 
L 235.06 107.42 
L 235.30 108.13 
L 235.30 132.68 
L 235.54 131.93 
L 235.54 108.21 
L 235.78 103.96 
L 235.78 132.85 
L 236.02 131.87 
L 236.02 107.92 
L 236.26 106.02 
L 236.26 132.19 
L 236.50 132.38 
L 236.50 108.07 
L 236.74 108.15 
L 236.74 132.21 
L 236.98 131.90 
L 236.98 107.66 
L 237.22 107.84 
L 237.22 132.95 
L 237.46 131.91 
L 237.46 107.56 
L 237.70 108.10 
L 237.70 132.31 
L 237.94 136.00 
L 237.94 106.63 
L 238.18 105.38 
L 238.18 132.07 
L 238.42 132.02 
L 238.42 106.01 
L 238.66 107.91 
L 238.66 134.06 
L 238.90 132.52 
L 238.90 101.95 
L 239.14 104.66 
L 239.14 132.22 
L 239.38 132.81 
L 239.38 107.94 
L 239.62 107.55 
L 239.62 132.16 
L 239.86 131.85 
L 239.86 107.76 
L 240.10 105.39 
L 240.10 131.96 
L 240.34 132.48 
L 240.34 89.29 
L 240.58 107.18 
L 240.58 132.14 
L 240.82 132.19 
L 240.82 107.33 
L 241.06 105.33 
L 241.06 132.11 
L 241.30 133.53 
L 241.30 101.95 
L 241.54 107.90 
L 241.54 132.35 
L 241.77 131.85 
L 241.77 106.53 
L 242.01 107.87 
L 242.01 132.14 
L 242.25 131.88 
L 242.25 107.37 
L 242.49 107.02 
L 242.49 149.34 
L 242.73 132.17 
L 242.73 107.55 
L 242.97 91.96 
L 242.97 139.37 
L 243.21 131.88 
L 243.21 107.45 
L 243.45 107.08 
L 243.45 132.11 
L 243.69 133.02 
L 243.69 103.57 
L 243.93 107.20 
L 243.93 133.00 
L 244.17 132.37 
L 244.17 92.06 
L 244.41 107.44 
L 244.41 131.99 
L 244.65 132.68 
L 244.65 107.74 
L 244.89 101.94 
L 244.89 132.57 
L 245.13 132.27 
L 245.13 106.80 
L 245.37 107.16 
L 245.37 133.07 
L 245.61 131.99 
L 245.61 107.56 
L 245.85 107.49 
L 245.85 134.22 
L 246.09 132.67 
L 246.09 102.80 
L 246.33 103.78 
L 246.33 132.21 
L 246.57 132.77 
L 246.57 106.91 
L 246.81 107.50 
L 246.81 133.15 
L 247.05 132.02 
L 247.05 107.30 
L 247.29 106.39 
L 247.29 133.80 
L 247.53 131.91 
L 247.53 106.81 
L 247.77 104.01 
L 247.77 132.28 
L 248.01 132.77 
L 248.01 107.23 
L 248.25 106.96 
L 248.25 139.74 
L 248.49 134.86 
L 248.49 95.88 
L 248.73 107.48 
L 248.73 132.07 
L 248.97 133.12 
L 248.97 107.43 
L 249.21 107.25 
L 249.21 132.10 
L 249.45 131.90 
L 249.45 106.68 
L 249.69 106.54 
L 249.69 132.12 
L 249.93 132.26 
L 249.93 107.02 
L 250.17 107.33 
L 250.17 132.29 
L 250.41 131.92 
L 250.41 106.16 
L 250.65 106.89 
L 250.65 132.30 
L 250.89 132.00 
L 250.89 107.08 
L 251.13 107.14 
L 251.13 132.45 
L 251.37 133.82 
L 251.37 107.21 
L 251.61 107.09 
L 251.61 131.92 
L 251.85 132.48 
L 251.85 94.62 
L 252.09 107.33 
L 252.09 131.92 
L 252.33 151.79 
L 252.33 106.99 
L 252.57 106.66 
L 252.57 137.06 
L 252.81 136.78 
L 252.81 106.47 
L 253.05 106.67 
L 253.05 138.30 
L 253.29 132.16 
L 253.29 107.02 
L 253.53 107.24 
L 253.53 132.80 
L 253.77 132.36 
L 253.77 107.01 
L 254.01 102.00 
L 254.01 135.20 
L 254.25 132.36 
L 254.25 106.74 
L 254.49 107.41 
L 254.49 131.95 
L 254.73 132.40 
L 254.73 107.25 
L 254.97 101.90 
L 254.97 132.22 
L 255.21 132.16 
L 255.21 107.45 
L 255.45 95.47 
L 255.45 132.58 
L 255.69 132.69 
L 255.69 107.42 
L 255.93 106.46 
L 255.93 132.90 
L 256.17 131.93 
L 256.17 107.47 
L 256.41 106.99 
L 256.41 139.68 
L 256.65 137.60 
L 256.65 107.45 
L 256.89 102.41 
L 256.89 132.07 
L 257.13 132.41 
L 257.13 107.37 
L 257.37 106.31 
L 257.37 132.15 
L 257.61 132.57 
L 257.61 107.25 
L 257.85 106.90 
L 257.85 132.46 
L 258.09 144.43 
L 258.09 107.55 
L 258.33 103.62 
L 258.33 132.39 
L 258.57 138.13 
L 258.57 107.59 
L 258.81 107.19 
L 258.81 132.63 
L 259.05 138.03 
L 259.05 107.36 
L 259.29 107.50 
L 259.29 132.00 
L 259.53 131.98 
L 259.53 105.68 
L 259.77 106.38 
L 259.77 135.19 
L 260.01 132.80 
L 260.01 107.59 
L 260.25 98.43 
L 260.25 132.14 
L 260.49 135.69 
L 260.49 107.10 
L 260.73 107.50 
L 260.73 132.97 
L 260.97 132.16 
L 260.97 107.05 
L 261.21 107.70 
L 261.21 132.55 
L 261.45 132.75 
L 261.45 106.95 
L 261.69 107.72 
L 261.69 132.47 
L 261.93 132.66 
L 261.93 107.79 
L 262.17 107.75 
L 262.17 133.31 
L 262.41 133.92 
L 262.41 107.83 
L 262.65 103.37 
L 262.65 133.08 
L 262.89 135.53 
L 262.89 106.89 
L 263.13 104.63 
L 263.13 132.92 
L 263.37 132.20 
L 263.37 107.87 
L 263.61 106.99 
L 263.61 132.10 
L 263.85 137.36 
L 263.85 107.88 
L 264.09 107.91 
L 264.09 143.91 
L 264.33 132.62 
L 264.33 107.79 
L 264.57 107.83 
L 264.57 132.12 
L 264.81 132.22 
L 264.81 107.86 
L 265.05 69.88 
L 265.05 132.13 
L 265.29 132.08 
L 265.29 107.80 
L 265.53 107.97 
L 265.53 132.81 
L 265.77 132.28 
L 265.77 106.92 
L 266.01 107.87 
L 266.01 132.42 
L 266.25 132.80 
L 266.25 107.97 
L 266.49 107.95 
L 266.49 132.10 
L 266.73 134.06 
L 266.73 108.05 
L 266.97 108.05 
L 266.97 132.48 
L 267.21 132.19 
L 267.21 107.52 
L 267.45 101.55 
L 267.45 132.78 
L 267.69 132.39 
L 267.69 107.17 
L 267.93 107.78 
L 267.93 132.18 
L 268.17 132.15 
L 268.17 105.50 
L 268.41 107.50 
L 268.41 135.38 
L 268.65 133.36 
L 268.65 108.16 
L 268.89 88.01 
L 268.89 132.33 
L 269.13 133.29 
L 269.13 101.75 
L 269.37 108.02 
L 269.37 132.76 
L 269.61 132.33 
L 269.61 108.03 
L 269.85 107.89 
L 269.85 132.55 
L 270.09 132.66 
L 270.09 96.23 
L 270.33 107.95 
L 270.33 134.28 
L 270.57 132.78 
L 270.57 106.11 
L 270.81 107.72 
L 270.81 132.93 
L 271.05 132.21 
L 271.05 107.63 
L 271.29 107.69 
L 271.29 132.37 
L 271.53 133.59 
L 271.53 108.10 
L 271.77 107.51 
L 271.77 133.31 
L 272.01 132.44 
L 272.01 107.89 
L 272.25 108.15 
L 272.25 132.52 
L 272.49 133.29 
L 272.49 100.81 
L 272.73 108.22 
L 272.73 132.48 
L 272.97 132.74 
L 272.97 108.32 
L 273.21 108.21 
L 273.21 132.45 
L 273.45 135.28 
L 273.45 107.87 
L 273.69 106.87 
L 273.69 133.09 
L 273.93 133.07 
L 273.93 107.83 
L 274.17 99.73 
L 274.17 132.96 
L 274.41 145.92 
L 274.41 108.17 
L 274.65 107.88 
L 274.65 132.51 
L 274.89 132.48 
L 274.89 108.28 
L 275.13 108.13 
L 275.13 132.38 
L 275.37 132.75 
L 275.37 108.29 
L 275.61 108.40 
L 275.61 133.95 
L 275.85 135.77 
L 275.85 108.22 
L 276.09 97.61 
L 276.09 134.10 
L 276.33 139.74 
L 276.33 107.59 
L 276.57 106.29 
L 276.57 132.59 
L 276.81 133.15 
L 276.81 108.42 
L 277.05 99.74 
L 277.05 132.86 
L 277.29 133.65 
L 277.29 108.18 
L 277.53 99.60 
L 277.53 133.54 
L 277.77 132.80 
L 277.77 107.95 
L 278.01 108.43 
L 278.01 132.68 
L 278.25 133.67 
L 278.25 100.38 
L 278.49 98.67 
L 278.49 132.88 
L 278.73 145.60 
L 278.73 108.46 
L 278.97 107.89 
L 278.97 132.98 
L 279.21 133.31 
L 279.21 108.46 
L 279.45 106.74 
L 279.45 132.58 
L 279.69 137.33 
L 279.69 108.43 
L 279.93 108.61 
L 279.93 133.56 
L 280.17 132.89 
L 280.17 97.93 
L 280.41 108.22 
L 280.41 133.29 
L 280.65 132.64 
L 280.65 107.60 
L 280.89 108.25 
L 280.89 137.30 
L 281.13 139.20 
L 281.13 108.12 
L 281.37 107.58 
L 281.37 132.76 
L 281.61 132.73 
L 281.61 108.63 
L 281.85 108.01 
L 281.85 132.93 
L 282.09 133.48 
L 282.09 108.42 
L 282.33 108.24 
L 282.33 144.86 
L 282.57 136.65 
L 282.57 108.73 
L 282.81 99.28 
L 282.81 132.96 
L 283.05 133.16 
L 283.05 108.25 
L 283.29 108.52 
L 283.29 133.53 
L 283.53 134.60 
L 283.53 108.44 
L 283.77 108.50 
L 283.77 132.86 
L 284.01 133.44 
L 284.01 87.80 
L 284.25 108.64 
L 284.25 138.97 
L 284.49 132.93 
L 284.49 108.38 
L 284.72 107.33 
L 284.72 133.64 
L 284.96 133.81 
L 284.96 108.73 
L 285.20 108.78 
L 285.20 132.89 
L 285.44 134.45 
L 285.44 108.55 
L 285.68 102.41 
L 285.68 135.57 
L 285.92 133.36 
L 285.92 108.30 
L 286.16 108.27 
L 286.16 133.23 
L 286.40 133.16 
L 286.40 107.47 
L 286.64 108.87 
L 286.64 132.85 
L 286.88 134.13 
L 286.88 108.54 
L 287.12 108.61 
L 287.12 133.20 
L 287.36 133.53 
L 287.36 108.86 
L 287.60 107.12 
L 287.60 133.15 
L 287.84 133.11 
L 287.84 108.66 
L 288.08 108.80 
L 288.08 133.51 
L 288.32 136.65 
L 288.32 108.78 
L 288.56 100.87 
L 288.56 136.89 
L 288.80 133.10 
L 288.80 107.63 
L 289.04 108.26 
L 289.04 133.23 
L 289.28 133.23 
L 289.28 105.84 
L 289.52 108.15 
L 289.52 133.43 
L 289.76 133.18 
L 289.76 106.72 
L 290.00 101.34 
L 290.00 140.02 
L 290.24 133.02 
L 290.24 107.73 
L 290.48 108.84 
L 290.48 133.64 
L 290.72 133.75 
L 290.72 108.63 
L 290.96 108.99 
L 290.96 133.35 
L 291.20 133.58 
L 291.20 106.62 
L 291.44 107.73 
L 291.44 133.07 
L 291.68 134.09 
L 291.68 108.81 
L 291.92 108.77 
L 291.92 134.27 
L 292.16 146.67 
L 292.16 108.85 
L 292.40 108.88 
L 292.40 133.50 
L 292.64 133.15 
L 292.64 109.07 
L 292.88 109.00 
L 292.88 133.38 
L 293.12 136.74 
L 293.12 109.00 
L 293.36 109.11 
L 293.36 134.40 
L 293.60 135.80 
L 293.60 108.69 
L 293.84 104.54 
L 293.84 133.31 
L 294.08 133.28 
L 294.08 109.11 
L 294.32 108.92 
L 294.32 133.80 
L 294.56 133.57 
L 294.56 108.91 
L 294.80 107.06 
L 294.80 133.31 
L 295.04 133.44 
L 295.04 108.91 
L 295.28 109.02 
L 295.28 133.88 
L 295.52 133.67 
L 295.52 108.54 
L 295.76 106.76 
L 295.76 134.06 
L 296.00 134.91 
L 296.00 109.24 
L 296.24 108.75 
L 296.24 134.81 
L 296.48 151.79 
L 296.48 107.33 
L 296.72 108.66 
L 296.72 133.95 
L 296.96 133.35 
L 296.96 109.09 
L 297.20 109.19 
L 297.20 133.72 
L 297.44 134.00 
L 297.44 109.26 
L 297.68 108.37 
L 297.68 133.63 
L 297.92 134.55 
L 297.92 108.47 
L 298.16 109.31 
L 298.16 133.47 
L 298.40 137.65 
L 298.40 107.90 
L 298.64 108.89 
L 298.64 135.05 
L 298.88 133.51 
L 298.88 109.20 
L 299.12 108.61 
L 299.12 133.48 
L 299.36 133.48 
L 299.36 108.23 
L 299.60 109.12 
L 299.60 137.72 
L 299.84 134.39 
L 299.84 109.11 
L 300.08 108.74 
L 300.08 133.92 
L 300.32 134.27 
L 300.32 108.71 
L 300.56 109.11 
L 300.56 144.86 
L 300.80 140.35 
L 300.80 108.44 
L 301.04 109.40 
L 301.04 133.75 
L 301.28 136.98 
L 301.28 108.63 
L 301.52 109.06 
L 301.52 139.36 
L 301.76 133.90 
L 301.76 108.83 
L 302.00 108.68 
L 302.00 135.39 
L 302.24 135.34 
L 302.24 102.74 
L 302.48 106.38 
L 302.48 133.87 
L 302.72 137.27 
L 302.72 107.43 
L 302.96 109.37 
L 302.96 133.98 
L 303.20 133.65 
L 303.20 109.27 
L 303.44 107.77 
L 303.44 134.35 
L 303.68 133.66 
L 303.68 108.53 
L 303.92 108.86 
L 303.92 133.65 
L 304.16 143.75 
L 304.16 108.45 
L 304.40 108.92 
L 304.40 137.59 
L 304.64 137.16 
L 304.64 109.11 
L 304.88 109.39 
L 304.88 133.70 
L 305.12 133.86 
L 305.12 109.27 
L 305.36 109.26 
L 305.36 139.37 
L 305.60 137.63 
L 305.60 109.29 
L 305.84 109.35 
L 305.84 133.79 
L 306.08 133.75 
L 306.08 109.18 
L 306.32 109.59 
L 306.32 134.13 
L 306.56 133.88 
L 306.56 108.52 
L 306.80 105.28 
L 306.80 133.89 
L 307.04 135.45 
L 307.04 109.02 
L 307.28 96.01 
L 307.28 134.08 
L 307.52 134.45 
L 307.52 108.41 
L 307.76 109.60 
L 307.76 137.07 
L 308.00 134.24 
L 308.00 109.18 
L 308.24 109.43 
L 308.24 134.02 
L 308.48 140.45 
L 308.48 108.40 
L 308.72 109.33 
L 308.72 134.59 
L 308.96 133.98 
L 308.96 109.69 
L 309.20 109.33 
L 309.20 134.39 
L 309.44 133.99 
L 309.44 109.20 
L 309.68 109.11 
L 309.68 134.75 
L 309.92 134.03 
L 309.92 103.66 
L 310.16 109.63 
L 310.16 134.16 
L 310.40 135.93 
L 310.40 109.67 
L 310.64 109.47 
L 310.64 134.19 
L 310.88 134.00 
L 310.88 108.84 
L 311.12 109.69 
L 311.12 134.06 
L 311.36 133.94 
L 311.36 109.23 
L 311.60 109.22 
L 311.60 134.09 
L 311.84 140.10 
L 311.84 109.47 
L 312.08 108.49 
L 312.08 134.85 
L 312.32 133.98 
L 312.32 108.91 
L 312.56 107.71 
L 312.56 134.31 
L 312.80 134.08 
L 312.80 104.54 
L 313.04 109.26 
L 313.04 134.55 
L 313.28 134.09 
L 313.28 109.79 
L 313.52 109.61 
L 313.52 134.25 
L 313.76 134.46 
L 313.76 109.43 
L 314.00 109.23 
L 314.00 134.48 
L 314.24 134.71 
L 314.24 109.79 
L 314.48 109.61 
L 314.48 134.30 
L 314.72 137.60 
L 314.72 109.81 
L 314.96 109.54 
L 314.96 134.37 
L 315.20 134.50 
L 315.20 109.67 
L 315.44 106.65 
L 315.44 134.60 
L 315.68 134.38 
L 315.68 89.29 
L 315.92 109.75 
L 315.92 134.72 
L 316.16 134.53 
L 316.16 109.93 
L 316.40 109.44 
L 316.40 135.81 
L 316.64 136.05 
L 316.64 109.84 
L 316.88 109.25 
L 316.88 134.20 
L 317.12 143.78 
L 317.12 109.73 
L 317.36 108.18 
L 317.36 134.34 
L 317.60 134.44 
L 317.60 110.02 
L 317.84 109.81 
L 317.84 134.58 
L 318.08 135.10 
L 318.08 104.75 
L 318.32 109.78 
L 318.32 134.32 
L 318.56 134.50 
L 318.56 103.47 
L 318.80 109.59 
L 318.80 138.14 
L 319.04 134.64 
L 319.04 109.31 
L 319.28 110.01 
L 319.28 134.35 
L 319.52 134.69 
L 319.52 109.85 
L 319.76 101.34 
L 319.76 134.86 
L 320.00 134.72 
L 320.00 110.07 
L 320.24 105.71 
L 320.24 134.42 
L 320.48 134.67 
L 320.48 110.04 
L 320.72 109.95 
L 320.72 136.38 
L 320.96 134.79 
L 320.96 110.07 
L 321.20 109.92 
L 321.20 134.52 
L 321.44 135.01 
L 321.44 109.56 
L 321.68 98.89 
L 321.68 210.35 
L 321.92 105.53 
L 322.16 109.92 
L 322.16 134.39 
L 322.40 134.61 
L 322.40 109.61 
L 322.64 110.20 
L 322.64 134.50 
L 322.88 134.59 
L 322.88 106.33 
L 323.12 110.13 
L 323.12 134.54 
L 323.36 134.44 
L 323.36 109.67 
L 323.60 109.86 
L 323.60 134.77 
L 323.84 137.38 
L 323.84 109.70 
L 324.08 109.06 
L 324.08 135.45 
L 324.32 134.93 
L 324.32 109.16 
L 324.56 109.48 
L 324.56 134.72 
L 324.80 136.43 
L 324.80 109.44 
L 325.04 110.14 
L 325.04 134.87 
L 325.28 134.95 
L 325.28 110.05 
L 325.52 109.82 
L 325.52 134.86 
L 325.76 162.99 
L 325.76 110.07 
L 326.00 109.46 
L 326.00 135.01 
L 326.24 135.00 
L 326.24 99.82 
L 326.48 108.41 
L 326.48 135.56 
L 326.72 134.67 
L 326.72 109.87 
L 326.96 109.77 
L 326.96 137.99 
L 327.20 134.88 
L 327.20 110.18 
L 327.44 110.19 
L 327.44 134.72 
L 327.67 134.86 
L 327.67 108.59 
L 327.91 106.44 
L 327.91 135.61 
L 328.15 134.61 
L 328.15 109.60 
L 328.39 103.69 
L 328.39 136.41 
L 328.63 134.88 
L 328.63 109.86 
L 328.87 108.57 
L 328.87 135.12 
L 329.11 134.95 
L 329.11 110.17 
L 329.35 108.46 
L 329.35 137.39 
L 329.59 134.74 
L 329.59 110.02 
L 329.83 110.26 
L 329.83 135.39 
L 330.07 135.13 
L 330.07 109.78 
L 330.31 108.93 
L 330.31 135.54 
L 330.55 134.98 
L 330.55 109.27 
L 330.79 107.30 
L 330.79 134.97 
L 331.03 139.10 
L 331.03 110.01 
L 331.27 105.77 
L 331.27 142.13 
L 331.51 135.02 
L 331.51 110.14 
L 331.75 109.96 
L 331.75 137.89 
L 331.99 135.28 
L 331.99 109.05 
L 332.23 110.33 
L 332.23 134.74 
L 332.47 135.18 
L 332.47 107.18 
L 332.71 109.90 
L 332.71 138.67 
L 332.95 135.28 
L 332.95 109.93 
L 333.19 110.31 
L 333.19 134.92 
L 333.43 134.88 
L 333.43 103.47 
L 333.67 110.01 
L 333.67 137.13 
L 333.91 135.96 
L 333.91 110.34 
L 334.15 109.93 
L 334.15 135.52 
L 334.39 134.78 
L 334.39 98.77 
L 334.63 110.35 
L 334.63 135.21 
L 334.87 135.00 
L 334.87 110.36 
L 335.11 109.99 
L 335.11 134.85 
L 335.35 140.05 
L 335.35 99.21 
L 335.59 109.73 
L 335.59 135.31 
L 335.83 142.94 
L 335.83 110.29 
L 336.07 109.73 
L 336.07 134.93 
L 336.31 135.35 
L 336.31 109.85 
L 336.55 109.36 
L 336.55 135.08 
L 336.79 147.00 
L 336.79 105.16 
L 337.03 109.75 
L 337.03 136.02 
L 337.27 135.19 
L 337.27 106.33 
L 337.51 102.94 
L 337.51 134.98 
L 337.75 135.16 
L 337.75 109.19 
L 337.99 110.36 
L 337.99 135.97 
L 338.23 135.47 
L 338.23 106.93 
L 338.47 109.33 
L 338.47 135.07 
L 338.71 135.80 
L 338.71 110.43 
L 338.95 110.00 
L 338.95 135.08 
L 339.19 134.97 
L 339.19 107.55 
L 339.43 109.57 
L 339.43 135.44 
L 339.67 139.13 
L 339.67 105.95 
L 339.91 110.17 
L 339.91 135.38 
L 340.15 135.21 
L 340.15 110.09 
L 340.39 110.03 
L 340.39 135.09 
L 340.63 137.89 
L 340.63 105.16 
L 340.87 107.29 
L 340.87 136.34 
L 341.11 135.23 
L 341.11 109.92 
L 341.35 109.87 
L 341.35 135.30 
L 341.59 135.08 
L 341.59 102.94 
L 341.83 110.19 
L 341.83 135.71 
L 342.07 189.55 
L 342.07 110.12 
L 342.31 109.96 
L 342.31 136.65 
L 342.55 135.96 
L 342.55 110.48 
L 342.79 110.13 
L 342.79 135.66 
L 343.03 136.35 
L 343.03 110.12 
L 343.27 107.21 
L 343.27 135.34 
L 343.51 135.23 
L 343.51 110.48 
L 343.75 105.77 
L 343.75 137.84 
L 343.99 135.32 
L 343.99 109.12 
L 344.23 110.47 
L 344.23 136.99 
L 344.47 136.21 
L 344.47 110.30 
L 344.71 108.70 
L 344.71 140.59 
L 344.95 147.69 
L 344.95 108.95 
L 345.19 110.52 
L 345.19 135.61 
L 345.43 136.10 
L 345.43 110.21 
L 345.67 110.25 
L 345.67 135.52 
L 345.91 140.79 
L 345.91 102.41 
L 346.15 110.58 
L 346.15 136.28 
L 346.39 135.88 
L 346.39 109.87 
L 346.63 110.42 
L 346.63 142.88 
L 346.87 135.14 
L 346.87 110.19 
L 347.11 110.37 
L 347.11 135.28 
L 347.35 135.22 
L 347.35 110.28 
L 347.59 109.66 
L 347.59 136.21 
L 347.83 135.30 
L 347.83 110.22 
L 348.07 79.16 
L 348.07 135.39 
L 348.31 135.82 
L 348.31 110.26 
L 348.55 107.14 
L 348.55 138.72 
L 348.79 135.55 
L 348.79 110.33 
L 349.03 110.55 
L 349.03 137.06 
L 349.27 135.57 
L 349.27 107.28 
L 349.51 110.39 
L 349.51 136.01 
L 349.75 136.99 
L 349.75 110.61 
L 349.99 110.41 
L 349.99 139.33 
L 350.23 143.79 
L 350.23 108.66 
L 350.47 109.71 
L 350.47 136.50 
L 350.71 140.36 
L 350.71 110.62 
L 350.95 110.59 
L 350.95 135.85 
L 351.19 135.43 
L 351.19 109.84 
L 351.43 109.47 
L 351.43 135.68 
L 351.67 135.74 
L 351.67 107.97 
L 351.91 110.38 
L 351.91 136.69 
L 352.15 135.82 
L 352.15 110.22 
L 352.39 110.09 
L 352.39 136.18 
L 352.63 136.04 
L 352.63 98.46 
L 352.87 110.59 
L 352.87 135.57 
L 353.11 135.46 
L 353.11 110.35 
L 353.35 110.30 
L 353.35 136.79 
L 353.59 136.95 
L 353.59 109.80 
L 353.83 109.17 
L 353.83 135.39 
L 354.07 135.80 
L 354.07 110.35 
L 354.31 110.24 
L 354.31 135.47 
L 354.55 135.63 
L 354.55 110.72 
L 354.79 102.41 
L 354.79 136.09 
L 355.03 136.07 
L 355.03 110.39 
L 355.27 109.13 
L 355.27 151.47 
L 355.51 135.64 
L 355.51 110.15 
L 355.75 110.17 
L 355.75 138.76 
L 355.99 143.49 
L 355.99 110.00 
L 356.23 109.05 
L 356.23 136.20 
L 356.47 135.77 
L 356.47 109.19 
L 356.71 110.49 
L 356.71 135.43 
L 356.95 135.94 
L 356.95 110.53 
L 357.19 110.14 
L 357.19 135.89 
L 357.43 136.25 
L 357.43 110.73 
L 357.67 106.92 
L 357.67 135.96 
L 357.91 135.86 
L 357.91 110.33 
L 358.15 110.24 
L 358.15 135.90 
L 358.39 140.90 
L 358.39 110.48 
L 358.63 110.39 
L 358.63 136.54 
L 358.87 200.53 
L 358.87 100.59 
L 359.11 110.66 
L 359.11 140.57 
L 359.35 135.75 
L 359.35 108.71 
L 359.59 110.31 
L 359.59 136.72 
L 359.83 137.02 
L 359.83 109.48 
L 360.07 102.41 
L 360.07 135.58 
L 360.31 135.64 
L 360.31 110.79 
L 360.55 110.82 
L 360.55 137.10 
L 360.79 135.89 
L 360.79 110.48 
L 361.03 110.51 
L 361.03 136.29 
L 361.27 136.52 
L 361.27 101.34 
L 361.51 110.83 
L 361.51 137.75 
L 361.75 135.71 
L 361.75 110.49 
L 361.99 110.39 
L 361.99 136.27 
L 362.23 135.60 
L 362.23 110.63 
L 362.47 109.97 
L 362.47 135.82 
L 362.71 135.61 
L 362.71 110.64 
L 362.95 109.30 
L 362.95 135.91 
L 363.19 136.37 
L 363.19 110.14 
L 363.43 102.94 
L 363.43 135.75 
L 363.67 161.60 
L 363.67 109.73 
L 363.91 108.67 
L 363.91 140.60 
L 364.15 136.51 
L 364.15 110.60 
L 364.39 110.24 
L 364.39 136.82 
L 364.63 137.16 
L 364.63 110.64 
L 364.87 110.08 
L 364.87 135.71 
L 365.11 135.91 
L 365.11 110.81 
L 365.35 110.55 
L 365.35 136.02 
L 365.59 136.67 
L 365.59 109.86 
L 365.83 110.55 
L 365.83 137.77 
L 366.07 137.68 
L 366.07 110.60 
L 366.31 110.89 
L 366.31 136.44 
L 366.55 136.14 
L 366.55 109.96 
L 366.79 110.72 
L 366.79 142.42 
L 367.03 150.94 
L 367.03 98.67 
L 367.27 109.89 
L 367.27 136.16 
L 367.51 136.23 
L 367.51 110.77 
L 367.75 110.53 
L 367.75 136.32 
L 367.99 136.33 
L 367.99 110.82 
L 368.23 110.78 
L 368.23 136.14 
L 368.47 139.29 
L 368.47 110.67 
L 368.71 110.23 
L 368.71 156.27 
L 368.95 139.00 
L 368.95 105.60 
L 369.19 110.33 
L 369.19 135.83 
L 369.43 136.24 
L 369.43 110.95 
L 369.67 109.26 
L 369.67 137.10 
L 369.91 136.49 
L 369.91 108.45 
L 370.15 110.56 
L 370.15 135.97 
L 370.39 140.80 
L 370.39 110.67 
L 370.62 110.60 
L 370.62 137.24 
L 370.86 138.41 
L 370.86 110.49 
L 371.10 104.54 
L 371.10 135.87 
L 371.34 136.07 
L 371.34 110.52 
L 371.58 110.92 
L 371.58 136.07 
L 371.82 136.45 
L 371.82 110.92 
L 372.06 111.00 
L 372.06 135.87 
L 372.30 136.33 
L 372.30 110.62 
L 372.54 109.16 
L 372.54 136.78 
L 372.78 135.87 
L 372.78 85.13 
L 373.02 110.52 
L 373.02 136.38 
L 373.26 177.60 
L 373.26 109.74 
L 373.50 110.82 
L 373.50 136.10 
L 373.74 139.87 
L 373.74 110.90 
L 373.98 92.81 
L 373.98 136.21 
L 374.22 136.61 
L 374.22 109.43 
L 374.46 110.71 
L 374.46 135.99 
L 374.70 135.87 
L 374.70 110.15 
L 374.94 110.80 
L 374.94 136.01 
L 375.18 136.15 
L 375.18 111.05 
L 375.42 110.07 
L 375.42 136.12 
L 375.66 136.10 
L 375.66 103.69 
L 375.90 111.05 
L 375.90 135.96 
L 376.14 136.62 
L 376.14 110.40 
L 376.38 108.70 
L 376.38 135.98 
L 376.62 137.12 
L 376.62 110.48 
L 376.86 92.06 
L 376.86 137.52 
L 377.10 226.45 
L 377.10 111.12 
L 377.34 110.37 
L 377.34 136.01 
L 377.58 136.37 
L 377.58 109.93 
L 377.82 108.49 
L 377.82 136.52 
L 378.06 136.20 
L 378.06 110.35 
L 378.30 108.55 
L 378.30 140.30 
L 378.54 135.78 
L 378.54 110.51 
L 378.78 111.09 
L 378.78 145.60 
L 379.02 136.21 
L 379.02 111.11 
L 379.26 109.75 
L 379.26 136.56 
L 379.50 135.99 
L 379.50 110.74 
L 379.74 110.49 
L 379.74 136.04 
L 379.98 136.12 
L 379.98 105.07 
L 380.22 110.75 
L 380.22 136.19 
L 380.46 142.04 
L 380.46 110.96 
L 380.70 110.93 
L 380.70 136.20 
L 380.94 136.37 
L 380.94 111.13 
L 381.18 110.99 
L 381.18 136.41 
L 381.42 135.94 
L 381.42 110.73 
L 381.66 107.22 
L 381.66 136.28 
L 381.90 137.76 
L 381.90 104.54 
L 382.14 109.95 
L 382.14 135.88 
L 382.38 135.95 
L 382.38 110.86 
L 382.62 107.76 
L 382.62 135.86 
L 382.86 135.82 
L 382.86 108.19 
L 383.10 111.27 
L 383.10 136.23 
L 383.34 135.71 
L 383.34 110.52 
L 383.58 111.23 
L 383.58 135.98 
L 383.82 138.31 
L 383.82 106.90 
L 384.06 111.24 
L 384.06 135.88 
L 384.30 135.79 
L 384.30 111.25 
L 384.54 106.94 
L 384.54 136.09 
L 384.78 136.97 
L 384.78 110.86 
L 385.02 108.38 
L 385.02 135.84 
L 385.26 136.22 
L 385.26 111.12 
L 385.50 110.99 
L 385.50 136.60 
L 385.74 140.45 
L 385.74 111.39 
L 385.98 110.77 
L 385.98 135.61 
L 386.22 135.67 
L 386.22 100.06 
L 386.46 111.08 
L 386.46 135.75 
L 386.70 136.66 
L 386.70 111.16 
L 386.94 111.31 
L 386.94 136.26 
L 387.18 138.93 
L 387.18 111.33 
L 387.42 111.39 
L 387.42 141.66 
L 387.66 136.43 
L 387.66 110.84 
L 387.90 110.32 
L 387.90 135.77 
L 388.14 135.86 
L 388.14 100.27 
L 388.38 110.94 
L 388.38 139.23 
L 388.62 147.33 
L 388.62 111.33 
L 388.86 109.97 
L 388.86 136.40 
L 389.10 136.07 
L 389.10 111.08 
L 389.34 111.36 
L 389.34 136.39 
L 389.58 135.92 
L 389.58 111.44 
L 389.82 110.83 
L 389.82 140.80 
L 390.06 136.42 
L 390.06 99.69 
L 390.30 111.16 
L 390.30 140.27 
L 390.54 135.72 
L 390.54 110.83 
L 390.78 111.46 
L 390.78 136.50 
L 391.02 135.91 
L 391.02 110.64 
L 391.26 111.28 
L 391.26 136.79 
L 391.50 136.06 
L 391.50 111.14 
L 391.74 108.35 
L 391.74 137.11 
L 391.98 135.52 
L 391.98 103.30 
L 392.22 110.79 
L 392.22 135.55 
L 392.46 135.53 
L 392.46 111.29 
L 392.70 110.75 
L 392.70 135.82 
L 392.94 135.81 
L 392.94 111.31 
L 393.18 111.23 
L 393.18 135.69 
L 393.42 136.30 
L 393.42 111.27 
L 393.66 106.46 
L 393.66 139.16 
L 393.90 147.23 
L 393.90 111.08 
L 394.14 111.41 
L 394.14 139.84 
L 394.38 135.68 
L 394.38 111.51 
L 394.62 111.49 
L 394.62 135.75 
L 394.86 135.57 
L 394.86 111.37 
L 395.10 110.57 
L 395.10 136.23 
L 395.34 136.46 
L 395.34 111.34 
L 395.58 111.28 
L 395.58 135.87 
L 395.82 136.27 
L 395.82 107.21 
L 396.06 111.00 
L 396.06 135.98 
L 396.30 136.45 
L 396.30 111.50 
L 396.54 111.18 
L 396.54 136.06 
L 396.78 135.50 
L 396.78 108.67 
L 397.02 111.58 
L 397.02 135.66 
L 397.26 135.42 
L 397.26 110.55 
L 397.50 111.57 
L 397.50 142.57 
L 397.74 136.80 
L 397.74 111.33 
L 397.98 106.52 
L 397.98 166.94 
L 398.22 135.73 
L 398.22 109.95 
L 398.46 108.73 
L 398.46 135.46 
L 398.70 136.22 
L 398.70 111.70 
L 398.94 111.71 
L 398.94 135.41 
L 399.18 135.57 
L 399.18 111.49 
L 399.42 111.26 
L 399.42 135.42 
L 399.66 136.10 
L 399.66 110.99 
L 399.90 102.58 
L 399.90 135.37 
L 400.14 135.71 
L 400.14 99.21 
L 400.38 111.44 
L 400.38 139.49 
L 400.62 138.48 
L 400.62 88.86 
L 400.86 108.75 
L 400.86 136.11 
L 401.10 135.39 
L 401.10 111.56 
L 401.34 111.33 
L 401.34 135.86 
L 401.58 135.52 
L 401.58 111.64 
L 401.82 111.00 
L 401.82 136.02 
L 402.06 135.39 
L 402.06 111.65 
L 402.30 111.51 
L 402.30 135.49 
L 402.54 136.91 
L 402.54 111.45 
L 402.78 111.52 
L 402.78 135.97 
L 403.02 139.03 
L 403.02 111.06 
L 403.26 110.90 
L 403.26 135.34 
L 403.50 135.30 
L 403.50 111.85 
L 403.74 111.74 
L 403.74 157.87 
L 403.98 135.70 
L 403.98 100.27 
L 404.22 111.79 
L 404.22 135.81 
L 404.46 147.75 
L 404.46 111.06 
L 404.70 111.78 
L 404.70 135.44 
L 404.94 135.43 
L 404.94 111.37 
L 405.18 111.14 
L 405.18 137.08 
L 405.42 135.55 
L 405.42 111.76 
L 405.66 111.74 
L 405.66 135.56 
L 405.90 135.68 
L 405.90 111.59 
L 406.14 108.27 
L 406.14 135.34 
L 406.38 135.78 
L 406.38 111.86 
L 406.62 111.86 
L 406.62 135.90 
L 406.86 136.15 
L 406.86 111.59 
L 407.10 111.83 
L 407.10 135.40 
L 407.34 137.21 
L 407.34 110.74 
L 407.58 111.84 
L 407.58 136.23 
L 407.82 135.43 
L 407.82 111.73 
L 408.06 111.71 
L 408.06 137.44 
L 408.30 136.63 
L 408.30 106.14 
L 408.54 111.66 
L 408.54 135.90 
L 408.78 135.23 
L 408.78 110.38 
L 409.02 111.89 
L 409.02 135.78 
L 409.26 138.83 
L 409.26 111.97 
L 409.50 111.85 
L 409.50 135.89 
L 409.74 136.11 
L 409.74 111.93 
L 409.98 111.61 
L 409.98 135.59 
L 410.22 140.32 
L 410.22 111.95 
L 410.46 111.84 
L 410.46 136.88 
L 410.70 136.17 
L 410.70 111.56 
L 410.94 111.95 
L 410.94 147.09 
L 411.18 135.82 
L 411.18 104.86 
L 411.42 111.33 
L 411.42 135.81 
L 411.66 135.49 
L 411.66 111.83 
L 411.90 110.63 
L 411.90 147.20 
L 412.14 138.13 
L 412.14 112.03 
L 412.38 111.67 
L 412.38 135.68 
L 412.62 136.51 
L 412.62 111.08 
L 412.86 106.98 
L 412.86 153.07 
L 413.10 135.72 
L 413.10 111.95 
L 413.34 111.15 
L 413.34 138.31 
L 413.57 135.30 
L 413.57 111.63 
L 413.81 111.35 
L 413.81 140.31 
L 414.05 135.82 
L 414.05 112.00 
L 414.29 111.49 
L 414.29 136.03 
L 414.53 135.21 
L 414.53 107.89 
L 414.77 111.04 
L 414.77 136.02 
L 415.01 135.23 
L 415.01 111.71 
L 415.25 111.44 
L 415.25 135.33 
L 415.49 135.27 
L 415.49 104.22 
L 415.73 111.55 
L 415.73 137.53 
L 415.97 135.24 
L 415.97 112.02 
L 416.21 112.06 
L 416.21 136.34 
L 416.45 135.44 
L 416.45 108.05 
L 416.69 110.64 
L 416.69 135.41 
L 416.93 138.65 
L 416.93 97.29 
L 417.17 111.21 
L 417.17 135.30 
L 417.41 143.79 
L 417.41 105.67 
L 417.65 111.41 
L 417.65 136.10 
L 417.89 135.30 
L 417.89 111.57 
L 418.13 111.87 
L 418.13 135.44 
L 418.37 136.66 
L 418.37 111.93 
L 418.61 111.84 
L 418.61 135.29 
L 418.85 135.65 
L 418.85 111.92 
L 419.09 100.49 
L 419.09 135.34 
L 419.33 135.70 
L 419.33 111.86 
L 419.57 111.34 
L 419.57 135.50 
L 419.81 135.32 
L 419.81 111.55 
L 420.05 111.44 
L 420.05 135.78 
L 420.29 140.15 
L 420.29 108.23 
L 420.53 110.72 
L 420.53 135.72 
L 420.77 136.75 
L 420.77 112.13 
L 421.01 112.07 
L 421.01 166.19 
L 421.25 135.50 
L 421.25 111.69 
L 421.49 111.78 
L 421.49 135.23 
L 421.73 135.25 
L 421.73 111.89 
L 421.97 112.11 
L 421.97 156.27 
L 422.21 135.65 
L 422.21 107.93 
L 422.45 111.21 
L 422.45 135.90 
L 422.69 135.83 
L 422.69 111.74 
L 422.93 111.72 
L 422.93 135.76 
L 423.17 135.21 
L 423.17 111.37 
L 423.41 112.08 
L 423.41 140.79 
L 423.65 135.49 
L 423.65 111.77 
L 423.89 112.00 
L 423.89 135.52 
L 424.13 135.28 
L 424.13 111.48 
L 424.37 112.01 
L 424.37 136.08 
L 424.61 136.02 
L 424.61 111.51 
L 424.85 112.05 
L 424.85 135.26 
L 425.09 135.34 
L 425.09 111.34 
L 425.33 111.42 
L 425.33 143.15 
L 425.57 135.65 
L 425.57 112.00 
L 425.81 111.20 
L 425.81 140.66 
L 426.05 135.23 
L 426.05 111.89 
L 426.29 111.95 
L 426.29 135.25 
L 426.53 135.37 
L 426.53 112.12 
L 426.77 110.07 
L 426.77 135.88 
L 427.01 135.31 
L 427.01 111.66 
L 427.25 111.55 
L 427.25 136.46 
L 427.49 135.44 
L 427.49 111.83 
L 427.73 111.01 
L 427.73 135.71 
L 427.97 135.93 
L 427.97 111.54 
L 428.21 112.01 
L 428.21 136.22 
L 428.45 135.51 
L 428.45 111.78 
L 428.69 112.17 
L 428.69 136.44 
L 428.93 135.38 
L 428.93 112.10 
L 429.17 112.17 
L 429.17 136.54 
L 429.41 135.39 
L 429.41 110.04 
L 429.65 111.71 
L 429.65 135.21 
L 429.89 135.44 
L 429.89 111.68 
L 430.13 112.10 
L 430.13 135.20 
L 430.37 135.20 
L 430.37 112.01 
L 430.61 112.03 
L 430.61 136.85 
L 430.85 136.18 
L 430.85 112.09 
L 431.09 102.09 
L 431.09 140.27 
L 431.33 135.22 
L 431.33 111.58 
L 431.57 112.09 
L 431.57 135.52 
L 431.81 135.23 
L 431.81 112.08 
L 432.05 111.98 
L 432.05 135.84 
L 432.29 135.58 
L 432.29 111.40 
L 432.53 111.55 
L 432.53 138.07 
L 432.77 135.29 
L 432.77 112.18 
L 433.01 107.21 
L 433.01 137.70 
L 433.25 138.64 
L 433.25 112.11 
L 433.49 111.97 
L 433.49 136.10 
L 433.73 141.73 
L 433.73 112.07 
L 433.97 111.72 
L 433.97 135.75 
L 434.21 137.43 
L 434.21 111.98 
L 434.45 111.20 
L 434.45 144.39 
L 434.69 135.30 
L 434.69 110.56 
L 434.93 111.24 
L 434.93 135.36 
L 435.17 135.67 
L 435.17 111.97 
L 435.41 106.40 
L 435.41 135.29 
L 435.65 136.31 
L 435.65 111.60 
L 435.89 105.61 
L 435.89 228.05 
L 436.13 111.71 
L 436.37 108.92 
L 436.37 135.52 
L 436.61 137.06 
L 436.61 112.21 
L 436.85 112.07 
L 436.85 135.70 
L 437.09 135.24 
L 437.09 112.03 
L 437.33 112.25 
L 437.33 135.63 
L 437.57 140.43 
L 437.57 111.90 
L 437.81 111.80 
L 437.81 135.30 
L 438.05 137.02 
L 438.05 112.09 
L 438.29 112.24 
L 438.29 135.80 
L 438.53 135.66 
L 438.53 111.46 
L 438.77 111.81 
L 438.77 135.25 
L 439.01 136.12 
L 439.01 112.06 
L 439.25 112.11 
L 439.25 142.94 
L 439.49 135.27 
L 439.49 111.08 
L 439.73 106.41 
L 439.73 135.37 
L 439.97 139.18 
L 439.97 112.12 
L 440.21 111.45 
L 440.21 136.32 
L 440.45 136.68 
L 440.45 112.30 
L 440.69 90.14 
L 440.69 136.05 
L 440.93 135.28 
L 440.93 111.69 
L 441.17 112.23 
L 441.17 135.26 
L 441.41 136.00 
L 441.41 111.14 
L 441.65 100.27 
L 441.65 135.20 
L 441.89 135.88 
L 441.89 111.72 
L 442.13 111.49 
L 442.13 136.55 
L 442.37 136.01 
L 442.37 112.30 
L 442.61 110.19 
L 442.61 142.40 
L 442.85 135.23 
L 442.85 111.93 
L 443.09 112.09 
L 443.09 135.49 
L 443.33 135.66 
L 443.33 111.36 
L 443.57 112.01 
L 443.57 135.73 
L 443.81 135.39 
L 443.81 111.18 
L 444.05 112.30 
L 444.05 140.16 
L 444.29 146.15 
L 444.29 112.21 
L 444.53 106.46 
L 444.53 136.18 
L 444.77 135.35 
L 444.77 112.27 
L 445.01 109.80 
L 445.01 135.61 
L 445.25 135.51 
L 445.25 112.20 
L 445.49 111.58 
L 445.49 139.74 
L 445.73 136.26 
L 445.73 112.16 
L 445.97 112.14 
L 445.97 135.39 
L 446.21 135.95 
L 446.21 103.39 
L 446.21 103.39 
" clip-path="url(#pfc996ee8aa)" style="fill: none; stroke: #0000ff; stroke-opacity: 0.7; stroke-linecap: square"/>
</g>
<g id="line2d_27">
<path d="M 52.68 120.26 
L 464.95 120.26 
" clip-path="url(#pfc996ee8aa)" style="fill: none; stroke-dasharray: 5.55,2.4; stroke-dashoffset: 0; stroke: #ff0000; stroke-opacity: 0.5; stroke-width: 1.5"/>
</g>
<g id="patch_3">
<path d="M 52.68 238.60 
L 52.68 57.64 
" style="fill: none; stroke: #000000; stroke-width: 0.8; stroke-linejoin: miter; stroke-linecap: square"/>
</g>
<g id="patch_4">
<path d="M 464.95 238.60 
L 464.95 57.64 
" style="fill: none; stroke: #000000; stroke-width: 0.8; stroke-linejoin: miter; stroke-linecap: square"/>
</g>
<g id="patch_5">
<path d="M 52.68 238.60 
L 464.95 238.60 
" style="fill: none; stroke: #000000; stroke-width: 0.8; stroke-linejoin: miter; stroke-linecap: square"/>
</g>
<g id="patch_6">
<path d="M 52.68 57.64 
L 464.95 57.64 
" style="fill: none; stroke: #000000; stroke-width: 0.8; stroke-linejoin: miter; stroke-linecap: square"/>
</g>
<g id="legend_1">
<g id="patch_7">
<path d="M 353.98 80.72 
L 457.95 80.72 
Q 459.95 80.72 459.95 78.72 
L 459.95 64.64 
Q 459.95 62.64 457.95 62.64 
L 353.98 62.64 
Q 351.98 62.64 351.98 64.64 
L 351.98 78.72 
Q 351.98 80.72 353.98 80.72 
z
" style="fill: #ffffff; fill-opacity: 0.8; stroke-opacity: 0.8; stroke: #cccccc; stroke-linejoin: miter"/>
</g>
<g id="line2d_28">
<path d="M 355.98 71.06 
L 365.98 71.06 
L 375.98 71.06 
" style="fill: none; stroke-dasharray: 5.55,2.4; stroke-dashoffset: 0; stroke: #ff0000; stroke-opacity: 0.5; stroke-width: 1.5"/>
</g>
</g>
</g>
<g id="axes_2">
<g id="patch_8">
<path d="M 653.35 238.60 
L 1065.72 238.60 
L 1065.72 57.64 
L 653.35 57.64 
z
" style="fill: #ffffff"/>
</g>
<g id="patch_9">
<path d="M 672.09 238.60 
L 679.59 238.60 
L 679.59 238.60 
L 672.09 238.60 
z
" clip-path="url(#p48c5f17e4d)" style="fill: #87ceeb; fill-opacity: 0.7; stroke-opacity: 0.7; stroke: #000000; stroke-linejoin: miter"/>
</g>
<g id="patch_10">
<path d="M 679.59 238.60 
L 687.09 238.60 
L 687.09 238.60 
L 679.59 238.60 
z
" clip-path="url(#p48c5f17e4d)" style="fill: #87ceeb; fill-opacity: 0.7; stroke-opacity: 0.7; stroke: #000000; stroke-linejoin: miter"/>
</g>
<g id="patch_11">
<path d="M 687.09 238.60 
L 694.58 238.60 
L 694.58 238.60 
L 687.09 238.60 
z
" clip-path="url(#p48c5f17e4d)" style="fill: #87ceeb; fill-opacity: 0.7; stroke-opacity: 0.7; stroke: #000000; stroke-linejoin: miter"/>
</g>
<g id="patch_12">
<path d="M 694.58 238.60 
L 702.08 238.60 
L 702.08 238.60 
L 694.58 238.60 
z
" clip-path="url(#p48c5f17e4d)" style="fill: #87ceeb; fill-opacity: 0.7; stroke-opacity: 0.7; stroke: #000000; stroke-linejoin: miter"/>
</g>
<g id="patch_13">
<path d="M 702.08 238.60 
L 709.58 238.60 
L 709.58 238.60 
L 702.08 238.60 
z
" clip-path="url(#p48c5f17e4d)" style="fill: #87ceeb; fill-opacity: 0.7; stroke-opacity: 0.7; stroke: #000000; stroke-linejoin: miter"/>
</g>
<g id="patch_14">
<path d="M 709.58 238.60 
L 717.08 238.60 
L 717.08 238.60 
L 709.58 238.60 
z
" clip-path="url(#p48c5f17e4d)" style="fill: #87ceeb; fill-opacity: 0.7; stroke-opacity: 0.7; stroke: #000000; stroke-linejoin: miter"/>
</g>
<g id="patch_15">
<path d="M 717.08 238.60 
L 724.57 238.60 
L 724.57 238.60 
L 717.08 238.60 
z
" clip-path="url(#p48c5f17e4d)" style="fill: #87ceeb; fill-opacity: 0.7; stroke-opacity: 0.7; stroke: #000000; stroke-linejoin: miter"/>
</g>
<g id="patch_16">
<path d="M 724.57 238.60 
L 732.07 238.60 
L 732.07 238.60 
L 724.57 238.60 
z
" clip-path="url(#p48c5f17e4d)" style="fill: #87ceeb; fill-opacity: 0.7; stroke-opacity: 0.7; stroke: #000000; stroke-linejoin: miter"/>
</g>
<g id="patch_17">
<path d="M 732.07 238.60 
L 739.57 238.60 
L 739.57 238.60 
L 732.07 238.60 
z
" clip-path="url(#p48c5f17e4d)" style="fill: #87ceeb; fill-opacity: 0.7; stroke-opacity: 0.7; stroke: #000000; stroke-linejoin: miter"/>
</g>
<g id="patch_18">
<path d="M 739.57 238.60 
L 747.07 238.60 
L 747.07 238.60 
L 739.57 238.60 
z
" clip-path="url(#p48c5f17e4d)" style="fill: #87ceeb; fill-opacity: 0.7; stroke-opacity: 0.7; stroke: #000000; stroke-linejoin: miter"/>
</g>
<g id="patch_19">
<path d="M 747.07 238.60 
L 754.56 238.60 
L 754.56 238.60 
L 747.07 238.60 
z
" clip-path="url(#p48c5f17e4d)" style="fill: #87ceeb; fill-opacity: 0.7; stroke-opacity: 0.7; stroke: #000000; stroke-linejoin: miter"/>
</g>
<g id="patch_20">
<path d="M 754.56 238.60 
L 762.06 238.60 
L 762.06 238.60 
L 754.56 238.60 
z
" clip-path="url(#p48c5f17e4d)" style="fill: #87ceeb; fill-opacity: 0.7; stroke-opacity: 0.7; stroke: #000000; stroke-linejoin: miter"/>
</g>
<g id="patch_21">
<path d="M 762.06 238.60 
L 769.56 238.60 
L 769.56 238.60 
L 762.06 238.60 
z
" clip-path="url(#p48c5f17e4d)" style="fill: #87ceeb; fill-opacity: 0.7; stroke-opacity: 0.7; stroke: #000000; stroke-linejoin: miter"/>
</g>
<g id="patch_22">
<path d="M 769.56 238.60 
L 777.06 238.60 
L 777.06 238.60 
L 769.56 238.60 
z
" clip-path="url(#p48c5f17e4d)" style="fill: #87ceeb; fill-opacity: 0.7; stroke-opacity: 0.7; stroke: #000000; stroke-linejoin: miter"/>
</g>
<g id="patch_23">
<path d="M 777.06 238.60 
L 784.56 238.60 
L 784.56 238.60 
L 777.06 238.60 
z
" clip-path="url(#p48c5f17e4d)" style="fill: #87ceeb; fill-opacity: 0.7; stroke-opacity: 0.7; stroke: #000000; stroke-linejoin: miter"/>
</g>
<g id="patch_24">
<path d="M 784.56 238.60 
L 792.05 238.60 
L 792.05 238.60 
L 784.56 238.60 
z
" clip-path="url(#p48c5f17e4d)" style="fill: #87ceeb; fill-opacity: 0.7; stroke-opacity: 0.7; stroke: #000000; stroke-linejoin: miter"/>
</g>
<g id="patch_25">
<path d="M 792.05 238.60 
L 799.55 238.60 
L 799.55 238.60 
L 792.05 238.60 
z
" clip-path="url(#p48c5f17e4d)" style="fill: #87ceeb; fill-opacity: 0.7; stroke-opacity: 0.7; stroke: #000000; stroke-linejoin: miter"/>
</g>
<g id="patch_26">
<path d="M 799.55 238.60 
L 807.05 238.60 
L 807.05 238.60 
L 799.55 238.60 
z
" clip-path="url(#p48c5f17e4d)" style="fill: #87ceeb; fill-opacity: 0.7; stroke-opacity: 0.7; stroke: #000000; stroke-linejoin: miter"/>
</g>
<g id="patch_27">
<path d="M 807.05 238.60 
L 814.55 238.60 
L 814.55 238.60 
L 807.05 238.60 
z
" clip-path="url(#p48c5f17e4d)" style="fill: #87ceeb; fill-opacity: 0.7; stroke-opacity: 0.7; stroke: #000000; stroke-linejoin: miter"/>
</g>
<g id="patch_28">
<path d="M 814.55 238.60 
L 822.04 238.60 
L 822.04 238.60 
L 814.55 238.60 
z
" clip-path="url(#p48c5f17e4d)" style="fill: #87ceeb; fill-opacity: 0.7; stroke-opacity: 0.7; stroke: #000000; stroke-linejoin: miter"/>
</g>
<g id="patch_29">
<path d="M 822.04 238.60 
L 829.54 238.60 
L 829.54 238.60 
L 822.04 238.60 
z
" clip-path="url(#p48c5f17e4d)" style="fill: #87ceeb; fill-opacity: 0.7; stroke-opacity: 0.7; stroke: #000000; stroke-linejoin: miter"/>
</g>
<g id="patch_30">
<path d="M 829.54 238.60 
L 837.04 238.60 
L 837.04 238.60 
L 829.54 238.60 
z
" clip-path="url(#p48c5f17e4d)" style="fill: #87ceeb; fill-opacity: 0.7; stroke-opacity: 0.7; stroke: #000000; stroke-linejoin: miter"/>
</g>
<g id="patch_31">
<path d="M 837.04 238.60 
L 844.54 238.60 
L 844.54 238.60 
L 837.04 238.60 
z
" clip-path="url(#p48c5f17e4d)" style="fill: #87ceeb; fill-opacity: 0.7; stroke-opacity: 0.7; stroke: #000000; stroke-linejoin: miter"/>
</g>
<g id="patch_32">
<path d="M 844.54 238.60 
L 852.03 238.60 
L 852.03 238.60 
L 844.54 238.60 
z
" clip-path="url(#p48c5f17e4d)" style="fill: #87ceeb; fill-opacity: 0.7; stroke-opacity: 0.7; stroke: #000000; stroke-linejoin: miter"/>
</g>
<g id="patch_33">
<path d="M 852.03 238.60 
L 859.53 238.60 
L 859.53 238.60 
L 852.03 238.60 
z
" clip-path="url(#p48c5f17e4d)" style="fill: #87ceeb; fill-opacity: 0.7; stroke-opacity: 0.7; stroke: #000000; stroke-linejoin: miter"/>
</g>
<g id="patch_34">
<path d="M 859.53 238.60 
L 867.03 238.60 
L 867.03 238.60 
L 859.53 238.60 
z
" clip-path="url(#p48c5f17e4d)" style="fill: #87ceeb; fill-opacity: 0.7; stroke-opacity: 0.7; stroke: #000000; stroke-linejoin: miter"/>
</g>
<g id="patch_35">
<path d="M 867.03 238.60 
L 874.53 238.60 
L 874.53 238.36 
L 867.03 238.36 
z
" clip-path="url(#p48c5f17e4d)" style="fill: #87ceeb; fill-opacity: 0.7; stroke-opacity: 0.7; stroke: #000000; stroke-linejoin: miter"/>
</g>
<g id="patch_36">
<path d="M 874.53 238.60 
L 882.02 238.60 
L 882.02 238.18 
L 874.53 238.18 
z
" clip-path="url(#p48c5f17e4d)" style="fill: #87ceeb; fill-opacity: 0.7; stroke-opacity: 0.7; stroke: #000000; stroke-linejoin: miter"/>
</g>
<g id="patch_37">
<path d="M 882.02 238.60 
L 889.52 238.60 
L 889.52 237.34 
L 882.02 237.34 
z
" clip-path="url(#p48c5f17e4d)" style="fill: #87ceeb; fill-opacity: 0.7; stroke-opacity: 0.7; stroke: #000000; stroke-linejoin: miter"/>
</g>
<g id="patch_38">
<path d="M 889.52 238.60 
L 897.02 238.60 
L 897.02 233.45 
L 889.52 233.45 
z
" clip-path="url(#p48c5f17e4d)" style="fill: #87ceeb; fill-opacity: 0.7; stroke-opacity: 0.7; stroke: #000000; stroke-linejoin: miter"/>
</g>
<g id="patch_39">
<path d="M 897.02 238.60 
L 904.52 238.60 
L 904.52 220.26 
L 897.02 220.26 
z
" clip-path="url(#p48c5f17e4d)" style="fill: #87ceeb; fill-opacity: 0.7; stroke-opacity: 0.7; stroke: #000000; stroke-linejoin: miter"/>
</g>
<g id="patch_40">
<path d="M 904.52 238.60 
L 912.01 238.60 
L 912.01 173.15 
L 904.52 173.15 
z
" clip-path="url(#p48c5f17e4d)" style="fill: #87ceeb; fill-opacity: 0.7; stroke-opacity: 0.7; stroke: #000000; stroke-linejoin: miter"/>
</g>
<g id="patch_41">
<path d="M 912.01 238.60 
L 919.51 238.60 
L 919.51 90.61 
L 912.01 90.61 
z
" clip-path="url(#p48c5f17e4d)" style="fill: #87ceeb; fill-opacity: 0.7; stroke-opacity: 0.7; stroke: #000000; stroke-linejoin: miter"/>
</g>
<g id="patch_42">
<path d="M 919.51 238.60 
L 927.01 238.60 
L 927.01 66.15 
L 919.51 66.15 
z
" clip-path="url(#p48c5f17e4d)" style="fill: #87ceeb; fill-opacity: 0.7; stroke-opacity: 0.7; stroke: #000000; stroke-linejoin: miter"/>
</g>
<g id="patch_43">
<path d="M 927.01 238.60 
L 934.51 238.60 
L 934.51 112.01 
L 927.01 112.01 
z
" clip-path="url(#p48c5f17e4d)" style="fill: #87ceeb; fill-opacity: 0.7; stroke-opacity: 0.7; stroke: #000000; stroke-linejoin: miter"/>
</g>
<g id="patch_44">
<path d="M 934.51 238.60 
L 942.00 238.60 
L 942.00 186.75 
L 934.51 186.75 
z
" clip-path="url(#p48c5f17e4d)" style="fill: #87ceeb; fill-opacity: 0.7; stroke-opacity: 0.7; stroke: #000000; stroke-linejoin: miter"/>
</g>
<g id="patch_45">
<path d="M 942.00 238.60 
L 949.50 238.60 
L 949.50 222.66 
L 942.00 222.66 
z
" clip-path="url(#p48c5f17e4d)" style="fill: #87ceeb; fill-opacity: 0.7; stroke-opacity: 0.7; stroke: #000000; stroke-linejoin: miter"/>
</g>
<g id="patch_46">
<path d="M 949.50 238.60 
L 957.00 238.60 
L 957.00 233.81 
L 949.50 233.81 
z
" clip-path="url(#p48c5f17e4d)" style="fill: #87ceeb; fill-opacity: 0.7; stroke-opacity: 0.7; stroke: #000000; stroke-linejoin: miter"/>
</g>
<g id="patch_47">
<path d="M 957.00 238.60 
L 964.50 238.60 
L 964.50 236.80 
L 957.00 236.80 
z
" clip-path="url(#p48c5f17e4d)" style="fill: #87ceeb; fill-opacity: 0.7; stroke-opacity: 0.7; stroke: #000000; stroke-linejoin: miter"/>
</g>
<g id="patch_48">
<path d="M 964.50 238.60 
L 972 238.60 
L 972 237.88 
L 964.50 237.88 
z
" clip-path="url(#p48c5f17e4d)" style="fill: #87ceeb; fill-opacity: 0.7; stroke-opacity: 0.7; stroke: #000000; stroke-linejoin: miter"/>
</g>
<g id="patch_49">
<path d="M 972 238.60 
L 979.49 238.60 
L 979.49 238.30 
L 972 238.30 
z
" clip-path="url(#p48c5f17e4d)" style="fill: #87ceeb; fill-opacity: 0.7; stroke-opacity: 0.7; stroke: #000000; stroke-linejoin: miter"/>
</g>
<g id="patch_50">
<path d="M 979.49 238.60 
L 986.99 238.60 
L 986.99 238.42 
L 979.49 238.42 
z
" clip-path="url(#p48c5f17e4d)" style="fill: #87ceeb; fill-opacity: 0.7; stroke-opacity: 0.7; stroke: #000000; stroke-linejoin: miter"/>
</g>
<g id="patch_51">
<path d="M 986.99 238.60 
L 994.49 238.60 
L 994.49 238.60 
L 986.99 238.60 
z
" clip-path="url(#p48c5f17e4d)" style="fill: #87ceeb; fill-opacity: 0.7; stroke-opacity: 0.7; stroke: #000000; stroke-linejoin: miter"/>
</g>
<g id="patch_52">
<path d="M 994.49 238.60 
L 1001.99 238.60 
L 1001.99 238.60 
L 994.49 238.60 
z
" clip-path="url(#p48c5f17e4d)" style="fill: #87ceeb; fill-opacity: 0.7; stroke-opacity: 0.7; stroke: #000000; stroke-linejoin: miter"/>
</g>
<g id="patch_53">
<path d="M 1001.99 238.60 
L 1009.48 238.60 
L 1009.48 238.60 
L 1001.99 238.60 
z
" clip-path="url(#p48c5f17e4d)" style="fill: #87ceeb; fill-opacity: 0.7; stroke-opacity: 0.7; stroke: #000000; stroke-linejoin: miter"/>
</g>
<g id="patch_54">
<path d="M 1009.48 238.60 
L 1016.98 238.60 
L 1016.98 238.60 
L 1009.48 238.60 
z
" clip-path="url(#p48c5f17e4d)" style="fill: #87ceeb; fill-opacity: 0.7; stroke-opacity: 0.7; stroke: #000000; stroke-linejoin: miter"/>
</g>
<g id="patch_55">
<path d="M 1016.98 238.60 
L 1024.48 238.60 
L 1024.48 238.60 
L 1016.98 238.60 
z
" clip-path="url(#p48c5f17e4d)" style="fill: #87ceeb; fill-opacity: 0.7; stroke-opacity: 0.7; stroke: #000000; stroke-linejoin: miter"/>
</g>
<g id="patch_56">
<path d="M 1024.48 238.60 
L 1031.98 238.60 
L 1031.98 238.60 
L 1024.48 238.60 
z
" clip-path="url(#p48c5f17e4d)" style="fill: #87ceeb; fill-opacity: 0.7; stroke-opacity: 0.7; stroke: #000000; stroke-linejoin: miter"/>
</g>
<g id="patch_57">
<path d="M 1031.98 238.60 
L 1039.47 238.60 
L 1039.47 238.60 
L 1031.98 238.60 
z
" clip-path="url(#p48c5f17e4d)" style="fill: #87ceeb; fill-opacity: 0.7; stroke-opacity: 0.7; stroke: #000000; stroke-linejoin: miter"/>
</g>
<g id="patch_58">
<path d="M 1039.47 238.60 
L 1046.97 238.60 
L 1046.97 238.60 
L 1039.47 238.60 
z
" clip-path="url(#p48c5f17e4d)" style="fill: #87ceeb; fill-opacity: 0.7; stroke-opacity: 0.7; stroke: #000000; stroke-linejoin: miter"/>
</g>
<g id="matplotlib.axis_3">
<g id="xtick_8">
<g id="line2d_29">
<path d="M 655.26 238.60 
L 655.26 57.64 
" clip-path="url(#p48c5f17e4d)" style="fill: none; stroke: #b0b0b0; stroke-opacity: 0.3; stroke-width: 0.8; stroke-linecap: square"/>
</g>
<g id="line2d_30">
<g>
<use href="#m7c25c535dc" x="655.26" y="238.60" style="stroke: #000000; stroke-width: 0.8"/>
</g>
</g>
</g>
<g id="xtick_9">
<g id="line2d_31">
<path d="M 731.77 238.60 
L 731.77 57.64 
" clip-path="url(#p48c5f17e4d)" style="fill: none; stroke: #b0b0b0; stroke-opacity: 0.3; stroke-width: 0.8; stroke-linecap: square"/>
</g>
<g id="line2d_32">
<g>
<use href="#m7c25c535dc" x="731.77" y="238.60" style="stroke: #000000; stroke-width: 0.8"/>
</g>
</g>
</g>
<g id="xtick_10">
<g id="line2d_33">
<path d="M 808.27 238.60 
L 808.27 57.64 
" clip-path="url(#p48c5f17e4d)" style="fill: none; stroke: #b0b0b0; stroke-opacity: 0.3; stroke-width: 0.8; stroke-linecap: square"/>
</g>
<g id="line2d_34">
<g>
<use href="#m7c25c535dc" x="808.27" y="238.60" style="stroke: #000000; stroke-width: 0.8"/>
</g>
</g>
</g>
<g id="xtick_11">
<g id="line2d_35">
<path d="M 884.78 238.60 
L 884.78 57.64 
" clip-path="url(#p48c5f17e4d)" style="fill: none; stroke: #b0b0b0; stroke-opacity: 0.3; stroke-width: 0.8; stroke-linecap: square"/>
</g>
<g id="line2d_36">
<g>
<use href="#m7c25c535dc" x="884.78" y="238.60" style="stroke: #000000; stroke-width: 0.8"/>
</g>
</g>
</g>
<g id="xtick_12">
<g id="line2d_37">
<path d="M 961.28 238.60 
L 961.28 57.64 
" clip-path="url(#p48c5f17e4d)" style="fill: none; stroke: #b0b0b0; stroke-opacity: 0.3; stroke-width: 0.8; stroke-linecap: square"/>
</g>
<g id="line2d_38">
<g>
<use href="#m7c25c535dc" x="961.28" y="238.60" style="stroke: #000000; stroke-width: 0.8"/>
</g>
</g>
</g>
<g id="xtick_13">
<g id="line2d_39">
<path d="M 1037.79 238.60 
L 1037.79 57.64 
" clip-path="url(#p48c5f17e4d)" style="fill: none; stroke: #b0b0b0; stroke-opacity: 0.3; stroke-width: 0.8; stroke-linecap: square"/>
</g>
<g id="line2d_40">
<g>
<use href="#m7c25c535dc" x="1037.79" y="238.60" style="stroke: #000000; stroke-width: 0.8"/>
</g>
</g>
</g>
</g>
<g id="matplotlib.axis_4">
<g id="ytick_7">
<g id="line2d_41">
<path d="M 653.35 238.60 
L 1065.72 238.60 
" clip-path="url(#p48c5f17e4d)" style="fill: none; stroke: #b0b0b0; stroke-opacity: 0.3; stroke-width: 0.8; stroke-linecap: square"/>
</g>
<g id="line2d_42">
<g>
<use href="#mb258c49b38" x="653.35" y="238.60" style="stroke: #000000; stroke-width: 0.8"/>
</g>
</g>
</g>
<g id="ytick_8">
<g id="line2d_43">
<path d="M 653.35 208.63 
L 1065.72 208.63 
" clip-path="url(#p48c5f17e4d)" style="fill: none; stroke: #b0b0b0; stroke-opacity: 0.3; stroke-width: 0.8; stroke-linecap: square"/>
</g>
<g id="line2d_44">
<g>
<use href="#mb258c49b38" x="653.35" y="208.63" style="stroke: #000000; stroke-width: 0.8"/>
</g>
</g>
</g>
<g id="ytick_9">
<g id="line2d_45">
<path d="M 653.35 178.66 
L 1065.72 178.66 
" clip-path="url(#p48c5f17e4d)" style="fill: none; stroke: #b0b0b0; stroke-opacity: 0.3; stroke-width: 0.8; stroke-linecap: square"/>
</g>
<g id="line2d_46">
<g>
<use href="#mb258c49b38" x="653.35" y="178.66" style="stroke: #000000; stroke-width: 0.8"/>
</g>
</g>
</g>
<g id="ytick_10">
<g id="line2d_47">
<path d="M 653.35 148.69 
L 1065.72 148.69 
" clip-path="url(#p48c5f17e4d)" style="fill: none; stroke: #b0b0b0; stroke-opacity: 0.3; stroke-width: 0.8; stroke-linecap: square"/>
</g>
<g id="line2d_48">
<g>
<use href="#mb258c49b38" x="653.35" y="148.69" style="stroke: #000000; stroke-width: 0.8"/>
</g>
</g>
</g>
<g id="ytick_11">
<g id="line2d_49">
<path d="M 653.35 118.72 
L 1065.72 118.72 
" clip-path="url(#p48c5f17e4d)" style="fill: none; stroke: #b0b0b0; stroke-opacity: 0.3; stroke-width: 0.8; stroke-linecap: square"/>
</g>
<g id="line2d_50">
<g>
<use href="#mb258c49b38" x="653.35" y="118.72" style="stroke: #000000; stroke-width: 0.8"/>
</g>
</g>
</g>
<g id="ytick_12">
<g id="line2d_51">
<path d="M 653.35 88.75 
L 1065.72 88.75 
" clip-path="url(#p48c5f17e4d)" style="fill: none; stroke: #b0b0b0; stroke-opacity: 0.3; stroke-width: 0.8; stroke-linecap: square"/>
</g>
<g id="line2d_52">
<g>
<use href="#mb258c49b38" x="653.35" y="88.75" style="stroke: #000000; stroke-width: 0.8"/>
</g>
</g>
</g>
<g id="ytick_13">
<g id="line2d_53">
<path d="M 653.35 58.78 
L 1065.72 58.78 
" clip-path="url(#p48c5f17e4d)" style="fill: none; stroke: #b0b0b0; stroke-opacity: 0.3; stroke-width: 0.8; stroke-linecap: square"/>
</g>
<g id="line2d_54">
<g>
<use href="#mb258c49b38" x="653.35" y="58.78" style="stroke: #000000; stroke-width: 0.8"/>
</g>
</g>
</g>
</g>
<g id="line2d_55">
<path d="M 922.57 238.60 
L 922.57 57.64 
" clip-path="url(#p48c5f17e4d)" style="fill: none; stroke-dasharray: 5.55,2.4; stroke-dashoffset: 0; stroke: #ff0000; stroke-width: 1.5"/>
</g>
<g id="line2d_56">
<path d="M 922.42 238.60 
L 922.42 57.64 
" clip-path="url(#p48c5f17e4d)" style="fill: none; stroke-dasharray: 5.55,2.4; stroke-dashoffset: 0; stroke: #008000; stroke-width: 1.5"/>
</g>
<g id="patch_59">
<path d="M 653.35 238.60 
L 653.35 57.64 
" style="fill: none; stroke: #000000; stroke-width: 0.8; stroke-linejoin: miter; stroke-linecap: square"/>
</g>
<g id="patch_60">
<path d="M 1065.72 238.60 
L 1065.72 57.64 
" style="fill: none; stroke: #000000; stroke-width: 0.8; stroke-linejoin: miter; stroke-linecap: square"/>
</g>
<g id="patch_61">
<path d="M 653.35 238.60 
L 1065.72 238.60 
" style="fill: none; stroke: #000000; stroke-width: 0.8; stroke-linejoin: miter; stroke-linecap: square"/>
</g>
<g id="patch_62">
<path d="M 653.35 57.64 
L 1065.72 57.64 
" style="fill: none; stroke: #000000; stroke-width: 0.8; stroke-linejoin: miter; stroke-linecap: square"/>
</g>
<g id="legend_2">
<g id="patch_63">
<path d="M 942.33 95.80 
L 1058.72 95.80 
Q 1060.72 95.80 1060.72 93.80 
L 1060.72 64.64 
Q 1060.72 62.64 1058.72 62.64 
L 942.33 62.64 
Q 940.33 62.64 940.33 64.64 
L 940.33 93.80 
Q 940.33 95.80 942.33 95.80 
z
" style="fill: #ffffff; fill-opacity: 0.8; stroke-opacity: 0.8; stroke: #cccccc; stroke-linejoin: miter"/>
</g>
<g id="line2d_57">
<path d="M 944.33 71.06 
L 954.33 71.06 
L 964.33 71.06 
" style="fill: none; stroke-dasharray: 5.55,2.4; stroke-dashoffset: 0; stroke: #ff0000; stroke-width: 1.5"/>
</g>
<g id="line2d_58">
<path d="M 944.33 86.14 
L 954.33 86.14 
L 964.33 86.14 
" style="fill: none; stroke-dasharray: 5.55,2.4; stroke-dashoffset: 0; stroke: #008000; stroke-width: 1.5"/>
</g>
</g>
</g>
<g id="axes_3">
<g id="patch_64">
<path d="M 52.68 477.93 
L 464.95 477.93 
L 464.95 296.97 
L 52.68 296.97 
z
" style="fill: #ffffff"/>
</g>
<g id="matplotlib.axis_5">
<g id="xtick_14">
<g id="line2d_59">
<path d="M 258.81 477.93 
L 258.81 296.97 
" clip-path="url(#p7c2e4f9756)" style="fill: none; stroke: #b0b0b0; stroke-opacity: 0.3; stroke-width: 0.8; stroke-linecap: square"/>
</g>
<g id="line2d_60">
<g>
<use href="#m7c25c535dc" x="258.81" y="477.93" style="stroke: #000000; stroke-width: 0.8"/>
</g>
</g>
</g>
</g>
<g id="matplotlib.axis_6">
<g id="ytick_14">
<g id="line2d_61">
<path d="M 52.68 477.09 
L 464.95 477.09 
" clip-path="url(#p7c2e4f9756)" style="fill: none; stroke: #b0b0b0; stroke-opacity: 0.3; stroke-width: 0.8; stroke-linecap: square"/>
</g>
<g id="line2d_62">
<g>
<use href="#mb258c49b38" x="52.68" y="477.09" style="stroke: #000000; stroke-width: 0.8"/>
</g>
</g>
</g>
<g id="ytick_15">
<g id="line2d_63">
<path d="M 52.68 443.52 
L 464.95 443.52 
" clip-path="url(#p7c2e4f9756)" style="fill: none; stroke: #b0b0b0; stroke-opacity: 0.3; stroke-width: 0.8; stroke-linecap: square"/>
</g>
<g id="line2d_64">
<g>
<use href="#mb258c49b38" x="52.68" y="443.52" style="stroke: #000000; stroke-width: 0.8"/>
</g>
</g>
</g>
<g id="ytick_16">
<g id="line2d_65">
<path d="M 52.68 409.95 
L 464.95 409.95 
" clip-path="url(#p7c2e4f9756)" style="fill: none; stroke: #b0b0b0; stroke-opacity: 0.3; stroke-width: 0.8; stroke-linecap: square"/>
</g>
<g id="line2d_66">
<g>
<use href="#mb258c49b38" x="52.68" y="409.95" style="stroke: #000000; stroke-width: 0.8"/>
</g>
</g>
</g>
<g id="ytick_17">
<g id="line2d_67">
<path d="M 52.68 376.37 
L 464.95 376.37 
" clip-path="url(#p7c2e4f9756)" style="fill: none; stroke: #b0b0b0; stroke-opacity: 0.3; stroke-width: 0.8; stroke-linecap: square"/>
</g>
<g id="line2d_68">
<g>
<use href="#mb258c49b38" x="52.68" y="376.37" style="stroke: #000000; stroke-width: 0.8"/>
</g>
</g>
</g>
<g id="ytick_18">
<g id="line2d_69">
<path d="M 52.68 342.80 
L 464.95 342.80 
" clip-path="url(#p7c2e4f9756)" style="fill: none; stroke: #b0b0b0; stroke-opacity: 0.3; stroke-width: 0.8; stroke-linecap: square"/>
</g>
<g id="line2d_70">
<g>
<use href="#mb258c49b38" x="52.68" y="342.80" style="stroke: #000000; stroke-width: 0.8"/>
</g>
</g>
</g>
<g id="ytick_19">
<g id="line2d_71">
<path d="M 52.68 309.23 
L 464.95 309.23 
" clip-path="url(#p7c2e4f9756)" style="fill: none; stroke: #b0b0b0; stroke-opacity: 0.3; stroke-width: 0.8; stroke-linecap: square"/>
</g>
<g id="line2d_72">
<g>
<use href="#mb258c49b38" x="52.68" y="309.23" style="stroke: #000000; stroke-width: 0.8"/>
</g>
</g>
</g>
</g>
<g id="patch_65">
<path d="M 227.89 362.61 
L 289.73 362.61 
L 289.73 356.56 
L 227.89 356.56 
L 227.89 362.61 
z
" clip-path="url(#p7c2e4f9756)" style="fill: #add8e6; stroke: #000000; stroke-linejoin: miter"/>
</g>
<g id="line2d_73">
<path d="M 258.81 362.61 
L 258.81 371.60 
" clip-path="url(#p7c2e4f9756)" style="fill: none; stroke: #000000; stroke-linecap: square"/>
</g>
<g id="line2d_74">
<path d="M 258.81 356.56 
L 258.81 347.60 
" clip-path="url(#p7c2e4f9756)" style="fill: none; stroke: #000000; stroke-linecap: square"/>
</g>
<g id="line2d_75">
<path d="M 243.35 371.60 
L 274.27 371.60 
" clip-path="url(#p7c2e4f9756)" style="fill: none; stroke: #000000; stroke-linecap: square"/>
</g>
<g id="line2d_76">
<path d="M 243.35 347.60 
L 274.27 347.60 
" clip-path="url(#p7c2e4f9756)" style="fill: none; stroke: #000000; stroke-linecap: square"/>
</g>
<g id="line2d_77">
<defs>
<path id="mf7107f1a10" d="M 0 3 
C 0.79 3 1.55 2.68 2.12 2.12 
C 2.68 1.55 3 0.79 3 0 
C 3 -0.79 2.68 -1.55 2.12 -2.12 
C 1.55 -2.68 0.79 -3 0 -3 
C -0.79 -3 -1.55 -2.68 -2.12 -2.12 
C -2.68 -1.55 -3 -0.79 -3 0 
C -3 0.79 -2.68 1.55 -2.12 2.12 
C -1.55 2.68 -0.79 3 0 3 
z
" style="stroke: #000000"/>
</defs>
<g clip-path="url(#p7c2e4f9756)">
<use href="#mf7107f1a10" x="258.81" y="342.44" style="fill-opacity: 0; stroke: #000000"/>
<use href="#mf7107f1a10" x="258.81" y="340.70" style="fill-opacity: 0; stroke: #000000"/>
<use href="#mf7107f1a10" x="258.81" y="323.60" style="fill-opacity: 0; stroke: #000000"/>
<use href="#mf7107f1a10" x="258.81" y="335.09" style="fill-opacity: 0; stroke: #000000"/>
<use href="#mf7107f1a10" x="258.81" y="340.77" style="fill-opacity: 0; stroke: #000000"/>
<use href="#mf7107f1a10" x="258.81" y="342.14" style="fill-opacity: 0; stroke: #000000"/>
<use href="#mf7107f1a10" x="258.81" y="320.62" style="fill-opacity: 0; stroke: #000000"/>
<use href="#mf7107f1a10" x="258.81" y="342.62" style="fill-opacity: 0; stroke: #000000"/>
<use href="#mf7107f1a10" x="258.81" y="341.95" style="fill-opacity: 0; stroke: #000000"/>
<use href="#mf7107f1a10" x="258.81" y="341.19" style="fill-opacity: 0; stroke: #000000"/>
<use href="#mf7107f1a10" x="258.81" y="340.23" style="fill-opacity: 0; stroke: #000000"/>
<use href="#mf7107f1a10" x="258.81" y="333.29" style="fill-opacity: 0; stroke: #000000"/>
<use href="#mf7107f1a10" x="258.81" y="339.90" style="fill-opacity: 0; stroke: #000000"/>
<use href="#mf7107f1a10" x="258.81" y="336.18" style="fill-opacity: 0; stroke: #000000"/>
<use href="#mf7107f1a10" x="258.81" y="339.36" style="fill-opacity: 0; stroke: #000000"/>
<use href="#mf7107f1a10" x="258.81" y="342.02" style="fill-opacity: 0; stroke: #000000"/>
<use href="#mf7107f1a10" x="258.81" y="341.41" style="fill-opacity: 0; stroke: #000000"/>
<use href="#mf7107f1a10" x="258.81" y="340.61" style="fill-opacity: 0; stroke: #000000"/>
<use href="#mf7107f1a10" x="258.81" y="342.53" style="fill-opacity: 0; stroke: #000000"/>
<use href="#mf7107f1a10" x="258.81" y="341.20" style="fill-opacity: 0; stroke: #000000"/>
<use href="#mf7107f1a10" x="258.81" y="341.73" style="fill-opacity: 0; stroke: #000000"/>
<use href="#mf7107f1a10" x="258.81" y="343.04" style="fill-opacity: 0; stroke: #000000"/>
<use href="#mf7107f1a10" x="258.81" y="342.65" style="fill-opacity: 0; stroke: #000000"/>
<use href="#mf7107f1a10" x="258.81" y="340.71" style="fill-opacity: 0; stroke: #000000"/>
<use href="#mf7107f1a10" x="258.81" y="339.09" style="fill-opacity: 0; stroke: #000000"/>
<use href="#mf7107f1a10" x="258.81" y="341.54" style="fill-opacity: 0; stroke: #000000"/>
<use href="#mf7107f1a10" x="258.81" y="342.64" style="fill-opacity: 0; stroke: #000000"/>
<use href="#mf7107f1a10" x="258.81" y="340.28" style="fill-opacity: 0; stroke: #000000"/>
<use href="#mf7107f1a10" x="258.81" y="342.11" style="fill-opacity: 0; stroke: #000000"/>
<use href="#mf7107f1a10" x="258.81" y="341.38" style="fill-opacity: 0; stroke: #000000"/>
<use href="#mf7107f1a10" x="258.81" y="331.88" style="fill-opacity: 0; stroke: #000000"/>
<use href="#mf7107f1a10" x="258.81" y="321.68" style="fill-opacity: 0; stroke: #000000"/>
<use href="#mf7107f1a10" x="258.81" y="341.72" style="fill-opacity: 0; stroke: #000000"/>
<use href="#mf7107f1a10" x="258.81" y="342.55" style="fill-opacity: 0; stroke: #000000"/>
<use href="#mf7107f1a10" x="258.81" y="341.11" style="fill-opacity: 0; stroke: #000000"/>
<use href="#mf7107f1a10" x="258.81" y="341.85" style="fill-opacity: 0; stroke: #000000"/>
<use href="#mf7107f1a10" x="258.81" y="342.48" style="fill-opacity: 0; stroke: #000000"/>
<use href="#mf7107f1a10" x="258.81" y="337.55" style="fill-opacity: 0; stroke: #000000"/>
<use href="#mf7107f1a10" x="258.81" y="341.49" style="fill-opacity: 0; stroke: #000000"/>
<use href="#mf7107f1a10" x="258.81" y="341.05" style="fill-opacity: 0; stroke: #000000"/>
<use href="#mf7107f1a10" x="258.81" y="343.30" style="fill-opacity: 0; stroke: #000000"/>
<use href="#mf7107f1a10" x="258.81" y="343.28" style="fill-opacity: 0; stroke: #000000"/>
<use href="#mf7107f1a10" x="258.81" y="334.51" style="fill-opacity: 0; stroke: #000000"/>
<use href="#mf7107f1a10" x="258.81" y="323.60" style="fill-opacity: 0; stroke: #000000"/>
<use href="#mf7107f1a10" x="258.81" y="332.32" style="fill-opacity: 0; stroke: #000000"/>
<use href="#mf7107f1a10" x="258.81" y="342.31" style="fill-opacity: 0; stroke: #000000"/>
<use href="#mf7107f1a10" x="258.81" y="337.56" style="fill-opacity: 0; stroke: #000000"/>
<use href="#mf7107f1a10" x="258.81" y="342.69" style="fill-opacity: 0; stroke: #000000"/>
<use href="#mf7107f1a10" x="258.81" y="341.11" style="fill-opacity: 0; stroke: #000000"/>
<use href="#mf7107f1a10" x="258.81" y="341.50" style="fill-opacity: 0; stroke: #000000"/>
<use href="#mf7107f1a10" x="258.81" y="339.89" style="fill-opacity: 0; stroke: #000000"/>
<use href="#mf7107f1a10" x="258.81" y="339.48" style="fill-opacity: 0; stroke: #000000"/>
<use href="#mf7107f1a10" x="258.81" y="331.07" style="fill-opacity: 0; stroke: #000000"/>
<use href="#mf7107f1a10" x="258.81" y="343.22" style="fill-opacity: 0; stroke: #000000"/>
<use href="#mf7107f1a10" x="258.81" y="339.94" style="fill-opacity: 0; stroke: #000000"/>
<use href="#mf7107f1a10" x="258.81" y="341.63" style="fill-opacity: 0; stroke: #000000"/>
<use href="#mf7107f1a10" x="258.81" y="341.08" style="fill-opacity: 0; stroke: #000000"/>
<use href="#mf7107f1a10" x="258.81" y="340.77" style="fill-opacity: 0; stroke: #000000"/>
<use href="#mf7107f1a10" x="258.81" y="342.18" style="fill-opacity: 0; stroke: #000000"/>
<use href="#mf7107f1a10" x="258.81" y="342.04" style="fill-opacity: 0; stroke: #000000"/>
<use href="#mf7107f1a10" x="258.81" y="343.52" style="fill-opacity: 0; stroke: #000000"/>
<use href="#mf7107f1a10" x="258.81" y="341.90" style="fill-opacity: 0; stroke: #000000"/>
<use href="#mf7107f1a10" x="258.81" y="329.47" style="fill-opacity: 0; stroke: #000000"/>
<use href="#mf7107f1a10" x="258.81" y="342.87" style="fill-opacity: 0; stroke: #000000"/>
<use href="#mf7107f1a10" x="258.81" y="342.30" style="fill-opacity: 0; stroke: #000000"/>
<use href="#mf7107f1a10" x="258.81" y="337.75" style="fill-opacity: 0; stroke: #000000"/>
<use href="#mf7107f1a10" x="258.81" y="341.13" style="fill-opacity: 0; stroke: #000000"/>
<use href="#mf7107f1a10" x="258.81" y="341.93" style="fill-opacity: 0; stroke: #000000"/>
<use href="#mf7107f1a10" x="258.81" y="339.26" style="fill-opacity: 0; stroke: #000000"/>
<use href="#mf7107f1a10" x="258.81" y="318.80" style="fill-opacity: 0; stroke: #000000"/>
<use href="#mf7107f1a10" x="258.81" y="342.08" style="fill-opacity: 0; stroke: #000000"/>
<use href="#mf7107f1a10" x="258.81" y="340.37" style="fill-opacity: 0; stroke: #000000"/>
<use href="#mf7107f1a10" x="258.81" y="343.33" style="fill-opacity: 0; stroke: #000000"/>
<use href="#mf7107f1a10" x="258.81" y="340.88" style="fill-opacity: 0; stroke: #000000"/>
<use href="#mf7107f1a10" x="258.81" y="341.23" style="fill-opacity: 0; stroke: #000000"/>
<use href="#mf7107f1a10" x="258.81" y="341.72" style="fill-opacity: 0; stroke: #000000"/>
<use href="#mf7107f1a10" x="258.81" y="341.31" style="fill-opacity: 0; stroke: #000000"/>
<use href="#mf7107f1a10" x="258.81" y="343.33" style="fill-opacity: 0; stroke: #000000"/>
<use href="#mf7107f1a10" x="258.81" y="335.40" style="fill-opacity: 0; stroke: #000000"/>
<use href="#mf7107f1a10" x="258.81" y="337.27" style="fill-opacity: 0; stroke: #000000"/>
<use href="#mf7107f1a10" x="258.81" y="343.09" style="fill-opacity: 0; stroke: #000000"/>
<use href="#mf7107f1a10" x="258.81" y="342.80" style="fill-opacity: 0; stroke: #000000"/>
<use href="#mf7107f1a10" x="258.81" y="335.17" style="fill-opacity: 0; stroke: #000000"/>
<use href="#mf7107f1a10" x="258.81" y="343.01" style="fill-opacity: 0; stroke: #000000"/>
<use href="#mf7107f1a10" x="258.81" y="338.71" style="fill-opacity: 0; stroke: #000000"/>
<use href="#mf7107f1a10" x="258.81" y="341.55" style="fill-opacity: 0; stroke: #000000"/>
<use href="#mf7107f1a10" x="258.81" y="342.21" style="fill-opacity: 0; stroke: #000000"/>
<use href="#mf7107f1a10" x="258.81" y="339.70" style="fill-opacity: 0; stroke: #000000"/>
<use href="#mf7107f1a10" x="258.81" y="337.74" style="fill-opacity: 0; stroke: #000000"/>
<use href="#mf7107f1a10" x="258.81" y="322.54" style="fill-opacity: 0; stroke: #000000"/>
<use href="#mf7107f1a10" x="258.81" y="343.41" style="fill-opacity: 0; stroke: #000000"/>
<use href="#mf7107f1a10" x="258.81" y="342.19" style="fill-opacity: 0; stroke: #000000"/>
<use href="#mf7107f1a10" x="258.81" y="339.36" style="fill-opacity: 0; stroke: #000000"/>
<use href="#mf7107f1a10" x="258.81" y="342.99" style="fill-opacity: 0; stroke: #000000"/>
<use href="#mf7107f1a10" x="258.81" y="342.99" style="fill-opacity: 0; stroke: #000000"/>
<use href="#mf7107f1a10" x="258.81" y="342.40" style="fill-opacity: 0; stroke: #000000"/>
<use href="#mf7107f1a10" x="258.81" y="342.27" style="fill-opacity: 0; stroke: #000000"/>
<use href="#mf7107f1a10" x="258.81" y="333.53" style="fill-opacity: 0; stroke: #000000"/>
<use href="#mf7107f1a10" x="258.81" y="343.00" style="fill-opacity: 0; stroke: #000000"/>
<use href="#mf7107f1a10" x="258.81" y="328.40" style="fill-opacity: 0; stroke: #000000"/>
<use href="#mf7107f1a10" x="258.81" y="337.70" style="fill-opacity: 0; stroke: #000000"/>
<use href="#mf7107f1a10" x="258.81" y="339.63" style="fill-opacity: 0; stroke: #000000"/>
<use href="#mf7107f1a10" x="258.81" y="342.98" style="fill-opacity: 0; stroke: #000000"/>
<use href="#mf7107f1a10" x="258.81" y="342.68" style="fill-opacity: 0; stroke: #000000"/>
<use href="#mf7107f1a10" x="258.81" y="340.50" style="fill-opacity: 0; stroke: #000000"/>
<use href="#mf7107f1a10" x="258.81" y="320.62" style="fill-opacity: 0; stroke: #000000"/>
<use href="#mf7107f1a10" x="258.81" y="341.87" style="fill-opacity: 0; stroke: #000000"/>
<use href="#mf7107f1a10" x="258.81" y="340.80" style="fill-opacity: 0; stroke: #000000"/>
<use href="#mf7107f1a10" x="258.81" y="342.67" style="fill-opacity: 0; stroke: #000000"/>
<use href="#mf7107f1a10" x="258.81" y="342.47" style="fill-opacity: 0; stroke: #000000"/>
<use href="#mf7107f1a10" x="258.81" y="341.92" style="fill-opacity: 0; stroke: #000000"/>
<use href="#mf7107f1a10" x="258.81" y="338.38" style="fill-opacity: 0; stroke: #000000"/>
<use href="#mf7107f1a10" x="258.81" y="336.94" style="fill-opacity: 0; stroke: #000000"/>
<use href="#mf7107f1a10" x="258.81" y="341.41" style="fill-opacity: 0; stroke: #000000"/>
<use href="#mf7107f1a10" x="258.81" y="338.28" style="fill-opacity: 0; stroke: #000000"/>
<use href="#mf7107f1a10" x="258.81" y="343.38" style="fill-opacity: 0; stroke: #000000"/>
<use href="#mf7107f1a10" x="258.81" y="343.06" style="fill-opacity: 0; stroke: #000000"/>
<use href="#mf7107f1a10" x="258.81" y="342.94" style="fill-opacity: 0; stroke: #000000"/>
<use href="#mf7107f1a10" x="258.81" y="343.77" style="fill-opacity: 0; stroke: #000000"/>
<use href="#mf7107f1a10" x="258.81" y="343.50" style="fill-opacity: 0; stroke: #000000"/>
<use href="#mf7107f1a10" x="258.81" y="343.43" style="fill-opacity: 0; stroke: #000000"/>
<use href="#mf7107f1a10" x="258.81" y="343.84" style="fill-opacity: 0; stroke: #000000"/>
<use href="#mf7107f1a10" x="258.81" y="343.29" style="fill-opacity: 0; stroke: #000000"/>
<use href="#mf7107f1a10" x="258.81" y="343.73" style="fill-opacity: 0; stroke: #000000"/>
<use href="#mf7107f1a10" x="258.81" y="333.20" style="fill-opacity: 0; stroke: #000000"/>
<use href="#mf7107f1a10" x="258.81" y="343.78" style="fill-opacity: 0; stroke: #000000"/>
<use href="#mf7107f1a10" x="258.81" y="341.76" style="fill-opacity: 0; stroke: #000000"/>
<use href="#mf7107f1a10" x="258.81" y="343.66" style="fill-opacity: 0; stroke: #000000"/>
<use href="#mf7107f1a10" x="258.81" y="340.17" style="fill-opacity: 0; stroke: #000000"/>
<use href="#mf7107f1a10" x="258.81" y="332.35" style="fill-opacity: 0; stroke: #000000"/>
<use href="#mf7107f1a10" x="258.81" y="343.76" style="fill-opacity: 0; stroke: #000000"/>
<use href="#mf7107f1a10" x="258.81" y="343.40" style="fill-opacity: 0; stroke: #000000"/>
<use href="#mf7107f1a10" x="258.81" y="343.17" style="fill-opacity: 0; stroke: #000000"/>
<use href="#mf7107f1a10" x="258.81" y="343.91" style="fill-opacity: 0; stroke: #000000"/>
<use href="#mf7107f1a10" x="258.81" y="343.87" style="fill-opacity: 0; stroke: #000000"/>
<use href="#mf7107f1a10" x="258.81" y="343.23" style="fill-opacity: 0; stroke: #000000"/>
<use href="#mf7107f1a10" x="258.81" y="343.87" style="fill-opacity: 0; stroke: #000000"/>
<use href="#mf7107f1a10" x="258.81" y="343.70" style="fill-opacity: 0; stroke: #000000"/>
<use href="#mf7107f1a10" x="258.81" y="336.40" style="fill-opacity: 0; stroke: #000000"/>
<use href="#mf7107f1a10" x="258.81" y="343.61" style="fill-opacity: 0; stroke: #000000"/>
<use href="#mf7107f1a10" x="258.81" y="343.65" style="fill-opacity: 0; stroke: #000000"/>
<use href="#mf7107f1a10" x="258.81" y="336.19" style="fill-opacity: 0; stroke: #000000"/>
<use href="#mf7107f1a10" x="258.81" y="342.68" style="fill-opacity: 0; stroke: #000000"/>
<use href="#mf7107f1a10" x="258.81" y="343.72" style="fill-opacity: 0; stroke: #000000"/>
<use href="#mf7107f1a10" x="258.81" y="343.44" style="fill-opacity: 0; stroke: #000000"/>
<use href="#mf7107f1a10" x="258.81" y="343.67" style="fill-opacity: 0; stroke: #000000"/>
<use href="#mf7107f1a10" x="258.81" y="343.99" style="fill-opacity: 0; stroke: #000000"/>
<use href="#mf7107f1a10" x="258.81" y="344.07" style="fill-opacity: 0; stroke: #000000"/>
<use href="#mf7107f1a10" x="258.81" y="343.37" style="fill-opacity: 0; stroke: #000000"/>
<use href="#mf7107f1a10" x="258.81" y="343.41" style="fill-opacity: 0; stroke: #000000"/>
<use href="#mf7107f1a10" x="258.81" y="343.99" style="fill-opacity: 0; stroke: #000000"/>
<use href="#mf7107f1a10" x="258.81" y="343.22" style="fill-opacity: 0; stroke: #000000"/>
<use href="#mf7107f1a10" x="258.81" y="343.02" style="fill-opacity: 0; stroke: #000000"/>
<use href="#mf7107f1a10" x="258.81" y="343.80" style="fill-opacity: 0; stroke: #000000"/>
<use href="#mf7107f1a10" x="258.81" y="343.82" style="fill-opacity: 0; stroke: #000000"/>
<use href="#mf7107f1a10" x="258.81" y="342.88" style="fill-opacity: 0; stroke: #000000"/>
<use href="#mf7107f1a10" x="258.81" y="343.70" style="fill-opacity: 0; stroke: #000000"/>
<use href="#mf7107f1a10" x="258.81" y="343.88" style="fill-opacity: 0; stroke: #000000"/>
<use href="#mf7107f1a10" x="258.81" y="344.13" style="fill-opacity: 0; stroke: #000000"/>
<use href="#mf7107f1a10" x="258.81" y="343.64" style="fill-opacity: 0; stroke: #000000"/>
<use href="#mf7107f1a10" x="258.81" y="335.34" style="fill-opacity: 0; stroke: #000000"/>
<use href="#mf7107f1a10" x="258.81" y="343.73" style="fill-opacity: 0; stroke: #000000"/>
<use href="#mf7107f1a10" x="258.81" y="344.14" style="fill-opacity: 0; stroke: #000000"/>
<use href="#mf7107f1a10" x="258.81" y="344.00" style="fill-opacity: 0; stroke: #000000"/>
<use href="#mf7107f1a10" x="258.81" y="344.18" style="fill-opacity: 0; stroke: #000000"/>
<use href="#mf7107f1a10" x="258.81" y="336.40" style="fill-opacity: 0; stroke: #000000"/>
<use href="#mf7107f1a10" x="258.81" y="343.86" style="fill-opacity: 0; stroke: #000000"/>
<use href="#mf7107f1a10" x="258.81" y="343.85" style="fill-opacity: 0; stroke: #000000"/>
<use href="#mf7107f1a10" x="258.81" y="343.65" style="fill-opacity: 0; stroke: #000000"/>
<use href="#mf7107f1a10" x="258.81" y="344.20" style="fill-opacity: 0; stroke: #000000"/>
<use href="#mf7107f1a10" x="258.81" y="344.19" style="fill-opacity: 0; stroke: #000000"/>
<use href="#mf7107f1a10" x="258.81" y="343.77" style="fill-opacity: 0; stroke: #000000"/>
<use href="#mf7107f1a10" x="258.81" y="343.62" style="fill-opacity: 0; stroke: #000000"/>
<use href="#mf7107f1a10" x="258.81" y="342.33" style="fill-opacity: 0; stroke: #000000"/>
<use href="#mf7107f1a10" x="258.81" y="344.05" style="fill-opacity: 0; stroke: #000000"/>
<use href="#mf7107f1a10" x="258.81" y="336.19" style="fill-opacity: 0; stroke: #000000"/>
<use href="#mf7107f1a10" x="258.81" y="344.12" style="fill-opacity: 0; stroke: #000000"/>
<use href="#mf7107f1a10" x="258.81" y="344.19" style="fill-opacity: 0; stroke: #000000"/>
<use href="#mf7107f1a10" x="258.81" y="339.35" style="fill-opacity: 0; stroke: #000000"/>
<use href="#mf7107f1a10" x="258.81" y="344.14" style="fill-opacity: 0; stroke: #000000"/>
<use href="#mf7107f1a10" x="258.81" y="343.97" style="fill-opacity: 0; stroke: #000000"/>
<use href="#mf7107f1a10" x="258.81" y="344.29" style="fill-opacity: 0; stroke: #000000"/>
<use href="#mf7107f1a10" x="258.81" y="343.62" style="fill-opacity: 0; stroke: #000000"/>
<use href="#mf7107f1a10" x="258.81" y="336.94" style="fill-opacity: 0; stroke: #000000"/>
<use href="#mf7107f1a10" x="258.81" y="341.56" style="fill-opacity: 0; stroke: #000000"/>
<use href="#mf7107f1a10" x="258.81" y="342.55" style="fill-opacity: 0; stroke: #000000"/>
<use href="#mf7107f1a10" x="258.81" y="343.75" style="fill-opacity: 0; stroke: #000000"/>
<use href="#mf7107f1a10" x="258.81" y="343.26" style="fill-opacity: 0; stroke: #000000"/>
<use href="#mf7107f1a10" x="258.81" y="341.47" style="fill-opacity: 0; stroke: #000000"/>
<use href="#mf7107f1a10" x="258.81" y="344.27" style="fill-opacity: 0; stroke: #000000"/>
<use href="#mf7107f1a10" x="258.81" y="343.82" style="fill-opacity: 0; stroke: #000000"/>
<use href="#mf7107f1a10" x="258.81" y="343.92" style="fill-opacity: 0; stroke: #000000"/>
<use href="#mf7107f1a10" x="258.81" y="344.26" style="fill-opacity: 0; stroke: #000000"/>
<use href="#mf7107f1a10" x="258.81" y="344.08" style="fill-opacity: 0; stroke: #000000"/>
<use href="#mf7107f1a10" x="258.81" y="344.27" style="fill-opacity: 0; stroke: #000000"/>
<use href="#mf7107f1a10" x="258.81" y="344.05" style="fill-opacity: 0; stroke: #000000"/>
<use href="#mf7107f1a10" x="258.81" y="343.79" style="fill-opacity: 0; stroke: #000000"/>
<use href="#mf7107f1a10" x="258.81" y="344.30" style="fill-opacity: 0; stroke: #000000"/>
<use href="#mf7107f1a10" x="258.81" y="339.92" style="fill-opacity: 0; stroke: #000000"/>
<use href="#mf7107f1a10" x="258.81" y="344.14" style="fill-opacity: 0; stroke: #000000"/>
<use href="#mf7107f1a10" x="258.81" y="343.27" style="fill-opacity: 0; stroke: #000000"/>
<use href="#mf7107f1a10" x="258.81" y="344.06" style="fill-opacity: 0; stroke: #000000"/>
<use href="#mf7107f1a10" x="258.81" y="342.98" style="fill-opacity: 0; stroke: #000000"/>
<use href="#mf7107f1a10" x="258.81" y="344.21" style="fill-opacity: 0; stroke: #000000"/>
<use href="#mf7107f1a10" x="258.81" y="344.40" style="fill-opacity: 0; stroke: #000000"/>
<use href="#mf7107f1a10" x="258.81" y="344.28" style="fill-opacity: 0; stroke: #000000"/>
<use href="#mf7107f1a10" x="258.81" y="343.66" style="fill-opacity: 0; stroke: #000000"/>
<use href="#mf7107f1a10" x="258.81" y="341.46" style="fill-opacity: 0; stroke: #000000"/>
<use href="#mf7107f1a10" x="258.81" y="341.28" style="fill-opacity: 0; stroke: #000000"/>
<use href="#mf7107f1a10" x="258.81" y="344.28" style="fill-opacity: 0; stroke: #000000"/>
<use href="#mf7107f1a10" x="258.81" y="344.15" style="fill-opacity: 0; stroke: #000000"/>
<use href="#mf7107f1a10" x="258.81" y="335.12" style="fill-opacity: 0; stroke: #000000"/>
<use href="#mf7107f1a10" x="258.81" y="343.88" style="fill-opacity: 0; stroke: #000000"/>
<use href="#mf7107f1a10" x="258.81" y="343.91" style="fill-opacity: 0; stroke: #000000"/>
<use href="#mf7107f1a10" x="258.81" y="344.30" style="fill-opacity: 0; stroke: #000000"/>
<use href="#mf7107f1a10" x="258.81" y="344.15" style="fill-opacity: 0; stroke: #000000"/>
<use href="#mf7107f1a10" x="258.81" y="344.25" style="fill-opacity: 0; stroke: #000000"/>
<use href="#mf7107f1a10" x="258.81" y="344.23" style="fill-opacity: 0; stroke: #000000"/>
<use href="#mf7107f1a10" x="258.81" y="344.04" style="fill-opacity: 0; stroke: #000000"/>
<use href="#mf7107f1a10" x="258.81" y="344.03" style="fill-opacity: 0; stroke: #000000"/>
<use href="#mf7107f1a10" x="258.81" y="344.38" style="fill-opacity: 0; stroke: #000000"/>
<use href="#mf7107f1a10" x="258.81" y="343.76" style="fill-opacity: 0; stroke: #000000"/>
<use href="#mf7107f1a10" x="258.81" y="344.14" style="fill-opacity: 0; stroke: #000000"/>
<use href="#mf7107f1a10" x="258.81" y="333.84" style="fill-opacity: 0; stroke: #000000"/>
<use href="#mf7107f1a10" x="258.81" y="343.97" style="fill-opacity: 0; stroke: #000000"/>
<use href="#mf7107f1a10" x="258.81" y="343.99" style="fill-opacity: 0; stroke: #000000"/>
<use href="#mf7107f1a10" x="258.81" y="344.07" style="fill-opacity: 0; stroke: #000000"/>
<use href="#mf7107f1a10" x="258.81" y="344.45" style="fill-opacity: 0; stroke: #000000"/>
<use href="#mf7107f1a10" x="258.81" y="344.18" style="fill-opacity: 0; stroke: #000000"/>
<use href="#mf7107f1a10" x="258.81" y="344.51" style="fill-opacity: 0; stroke: #000000"/>
<use href="#mf7107f1a10" x="258.81" y="344.16" style="fill-opacity: 0; stroke: #000000"/>
<use href="#mf7107f1a10" x="258.81" y="344.49" style="fill-opacity: 0; stroke: #000000"/>
<use href="#mf7107f1a10" x="258.81" y="343.79" style="fill-opacity: 0; stroke: #000000"/>
<use href="#mf7107f1a10" x="258.81" y="336.40" style="fill-opacity: 0; stroke: #000000"/>
<use href="#mf7107f1a10" x="258.81" y="343.62" style="fill-opacity: 0; stroke: #000000"/>
<use href="#mf7107f1a10" x="258.81" y="344.42" style="fill-opacity: 0; stroke: #000000"/>
<use href="#mf7107f1a10" x="258.81" y="344.06" style="fill-opacity: 0; stroke: #000000"/>
<use href="#mf7107f1a10" x="258.81" y="344.62" style="fill-opacity: 0; stroke: #000000"/>
<use href="#mf7107f1a10" x="258.81" y="344.46" style="fill-opacity: 0; stroke: #000000"/>
<use href="#mf7107f1a10" x="258.81" y="343.79" style="fill-opacity: 0; stroke: #000000"/>
<use href="#mf7107f1a10" x="258.81" y="344.25" style="fill-opacity: 0; stroke: #000000"/>
<use href="#mf7107f1a10" x="258.81" y="344.09" style="fill-opacity: 0; stroke: #000000"/>
<use href="#mf7107f1a10" x="258.81" y="336.19" style="fill-opacity: 0; stroke: #000000"/>
<use href="#mf7107f1a10" x="258.81" y="343.46" style="fill-opacity: 0; stroke: #000000"/>
<use href="#mf7107f1a10" x="258.81" y="343.79" style="fill-opacity: 0; stroke: #000000"/>
<use href="#mf7107f1a10" x="258.81" y="344.45" style="fill-opacity: 0; stroke: #000000"/>
<use href="#mf7107f1a10" x="258.81" y="344.30" style="fill-opacity: 0; stroke: #000000"/>
<use href="#mf7107f1a10" x="258.81" y="344.27" style="fill-opacity: 0; stroke: #000000"/>
<use href="#mf7107f1a10" x="258.81" y="340.43" style="fill-opacity: 0; stroke: #000000"/>
<use href="#mf7107f1a10" x="258.81" y="343.34" style="fill-opacity: 0; stroke: #000000"/>
<use href="#mf7107f1a10" x="258.81" y="344.18" style="fill-opacity: 0; stroke: #000000"/>
<use href="#mf7107f1a10" x="258.81" y="344.28" style="fill-opacity: 0; stroke: #000000"/>
<use href="#mf7107f1a10" x="258.81" y="343.40" style="fill-opacity: 0; stroke: #000000"/>
<use href="#mf7107f1a10" x="258.81" y="341.06" style="fill-opacity: 0; stroke: #000000"/>
<use href="#mf7107f1a10" x="258.81" y="344.21" style="fill-opacity: 0; stroke: #000000"/>
<use href="#mf7107f1a10" x="258.81" y="344.52" style="fill-opacity: 0; stroke: #000000"/>
<use href="#mf7107f1a10" x="258.81" y="343.64" style="fill-opacity: 0; stroke: #000000"/>
<use href="#mf7107f1a10" x="258.81" y="344.66" style="fill-opacity: 0; stroke: #000000"/>
<use href="#mf7107f1a10" x="258.81" y="340.45" style="fill-opacity: 0; stroke: #000000"/>
<use href="#mf7107f1a10" x="258.81" y="341.68" style="fill-opacity: 0; stroke: #000000"/>
<use href="#mf7107f1a10" x="258.81" y="344.58" style="fill-opacity: 0; stroke: #000000"/>
<use href="#mf7107f1a10" x="258.81" y="343.86" style="fill-opacity: 0; stroke: #000000"/>
<use href="#mf7107f1a10" x="258.81" y="332.67" style="fill-opacity: 0; stroke: #000000"/>
<use href="#mf7107f1a10" x="258.81" y="344.45" style="fill-opacity: 0; stroke: #000000"/>
<use href="#mf7107f1a10" x="258.81" y="344.31" style="fill-opacity: 0; stroke: #000000"/>
<use href="#mf7107f1a10" x="258.81" y="344.83" style="fill-opacity: 0; stroke: #000000"/>
<use href="#mf7107f1a10" x="258.81" y="344.67" style="fill-opacity: 0; stroke: #000000"/>
<use href="#mf7107f1a10" x="258.81" y="344.67" style="fill-opacity: 0; stroke: #000000"/>
<use href="#mf7107f1a10" x="258.81" y="344.77" style="fill-opacity: 0; stroke: #000000"/>
<use href="#mf7107f1a10" x="258.81" y="336.40" style="fill-opacity: 0; stroke: #000000"/>
<use href="#mf7107f1a10" x="258.81" y="344.26" style="fill-opacity: 0; stroke: #000000"/>
<use href="#mf7107f1a10" x="258.81" y="341.45" style="fill-opacity: 0; stroke: #000000"/>
<use href="#mf7107f1a10" x="258.81" y="344.60" style="fill-opacity: 0; stroke: #000000"/>
<use href="#mf7107f1a10" x="258.81" y="344.18" style="fill-opacity: 0; stroke: #000000"/>
<use href="#mf7107f1a10" x="258.81" y="343.86" style="fill-opacity: 0; stroke: #000000"/>
<use href="#mf7107f1a10" x="258.81" y="344.12" style="fill-opacity: 0; stroke: #000000"/>
<use href="#mf7107f1a10" x="258.81" y="344.58" style="fill-opacity: 0; stroke: #000000"/>
<use href="#mf7107f1a10" x="258.81" y="344.50" style="fill-opacity: 0; stroke: #000000"/>
<use href="#mf7107f1a10" x="258.81" y="342.88" style="fill-opacity: 0; stroke: #000000"/>
<use href="#mf7107f1a10" x="258.81" y="344.66" style="fill-opacity: 0; stroke: #000000"/>
<use href="#mf7107f1a10" x="258.81" y="344.29" style="fill-opacity: 0; stroke: #000000"/>
<use href="#mf7107f1a10" x="258.81" y="344.81" style="fill-opacity: 0; stroke: #000000"/>
<use href="#mf7107f1a10" x="258.81" y="336.19" style="fill-opacity: 0; stroke: #000000"/>
<use href="#mf7107f1a10" x="258.81" y="344.88" style="fill-opacity: 0; stroke: #000000"/>
<use href="#mf7107f1a10" x="258.81" y="343.94" style="fill-opacity: 0; stroke: #000000"/>
<use href="#mf7107f1a10" x="258.81" y="344.63" style="fill-opacity: 0; stroke: #000000"/>
<use href="#mf7107f1a10" x="258.81" y="343.90" style="fill-opacity: 0; stroke: #000000"/>
<use href="#mf7107f1a10" x="258.81" y="344.73" style="fill-opacity: 0; stroke: #000000"/>
<use href="#mf7107f1a10" x="258.81" y="340.20" style="fill-opacity: 0; stroke: #000000"/>
<use href="#mf7107f1a10" x="258.81" y="344.46" style="fill-opacity: 0; stroke: #000000"/>
<use href="#mf7107f1a10" x="258.81" y="344.94" style="fill-opacity: 0; stroke: #000000"/>
<use href="#mf7107f1a10" x="258.81" y="344.61" style="fill-opacity: 0; stroke: #000000"/>
<use href="#mf7107f1a10" x="258.81" y="334.06" style="fill-opacity: 0; stroke: #000000"/>
<use href="#mf7107f1a10" x="258.81" y="344.45" style="fill-opacity: 0; stroke: #000000"/>
<use href="#mf7107f1a10" x="258.81" y="344.20" style="fill-opacity: 0; stroke: #000000"/>
<use href="#mf7107f1a10" x="258.81" y="344.37" style="fill-opacity: 0; stroke: #000000"/>
<use href="#mf7107f1a10" x="258.81" y="344.79" style="fill-opacity: 0; stroke: #000000"/>
<use href="#mf7107f1a10" x="258.81" y="345.00" style="fill-opacity: 0; stroke: #000000"/>
<use href="#mf7107f1a10" x="258.81" y="333.24" style="fill-opacity: 0; stroke: #000000"/>
<use href="#mf7107f1a10" x="258.81" y="344.36" style="fill-opacity: 0; stroke: #000000"/>
<use href="#mf7107f1a10" x="258.81" y="344.97" style="fill-opacity: 0; stroke: #000000"/>
<use href="#mf7107f1a10" x="258.81" y="338.54" style="fill-opacity: 0; stroke: #000000"/>
<use href="#mf7107f1a10" x="258.81" y="344.90" style="fill-opacity: 0; stroke: #000000"/>
<use href="#mf7107f1a10" x="258.81" y="344.54" style="fill-opacity: 0; stroke: #000000"/>
<use href="#mf7107f1a10" x="258.81" y="343.19" style="fill-opacity: 0; stroke: #000000"/>
<use href="#mf7107f1a10" x="258.81" y="344.99" style="fill-opacity: 0; stroke: #000000"/>
<use href="#mf7107f1a10" x="258.81" y="342.42" style="fill-opacity: 0; stroke: #000000"/>
<use href="#mf7107f1a10" x="258.81" y="345.00" style="fill-opacity: 0; stroke: #000000"/>
<use href="#mf7107f1a10" x="258.81" y="344.84" style="fill-opacity: 0; stroke: #000000"/>
<use href="#mf7107f1a10" x="258.81" y="344.44" style="fill-opacity: 0; stroke: #000000"/>
<use href="#mf7107f1a10" x="258.81" y="343.56" style="fill-opacity: 0; stroke: #000000"/>
<use href="#mf7107f1a10" x="258.81" y="335.02" style="fill-opacity: 0; stroke: #000000"/>
<use href="#mf7107f1a10" x="258.81" y="344.29" style="fill-opacity: 0; stroke: #000000"/>
<use href="#mf7107f1a10" x="258.81" y="342.70" style="fill-opacity: 0; stroke: #000000"/>
<use href="#mf7107f1a10" x="258.81" y="344.63" style="fill-opacity: 0; stroke: #000000"/>
<use href="#mf7107f1a10" x="258.81" y="344.98" style="fill-opacity: 0; stroke: #000000"/>
<use href="#mf7107f1a10" x="258.81" y="344.84" style="fill-opacity: 0; stroke: #000000"/>
<use href="#mf7107f1a10" x="258.81" y="344.39" style="fill-opacity: 0; stroke: #000000"/>
<use href="#mf7107f1a10" x="258.81" y="344.80" style="fill-opacity: 0; stroke: #000000"/>
<use href="#mf7107f1a10" x="258.81" y="345.13" style="fill-opacity: 0; stroke: #000000"/>
<use href="#mf7107f1a10" x="258.81" y="344.19" style="fill-opacity: 0; stroke: #000000"/>
<use href="#mf7107f1a10" x="258.81" y="338.54" style="fill-opacity: 0; stroke: #000000"/>
<use href="#mf7107f1a10" x="258.81" y="345.12" style="fill-opacity: 0; stroke: #000000"/>
<use href="#mf7107f1a10" x="258.81" y="344.94" style="fill-opacity: 0; stroke: #000000"/>
<use href="#mf7107f1a10" x="258.81" y="341.25" style="fill-opacity: 0; stroke: #000000"/>
<use href="#mf7107f1a10" x="258.81" y="344.52" style="fill-opacity: 0; stroke: #000000"/>
<use href="#mf7107f1a10" x="258.81" y="345.10" style="fill-opacity: 0; stroke: #000000"/>
<use href="#mf7107f1a10" x="258.81" y="345.14" style="fill-opacity: 0; stroke: #000000"/>
<use href="#mf7107f1a10" x="258.81" y="345.33" style="fill-opacity: 0; stroke: #000000"/>
<use href="#mf7107f1a10" x="258.81" y="345.38" style="fill-opacity: 0; stroke: #000000"/>
<use href="#mf7107f1a10" x="258.81" y="344.98" style="fill-opacity: 0; stroke: #000000"/>
<use href="#mf7107f1a10" x="258.81" y="345.40" style="fill-opacity: 0; stroke: #000000"/>
<use href="#mf7107f1a10" x="258.81" y="345.10" style="fill-opacity: 0; stroke: #000000"/>
<use href="#mf7107f1a10" x="258.81" y="345.08" style="fill-opacity: 0; stroke: #000000"/>
<use href="#mf7107f1a10" x="258.81" y="345.42" style="fill-opacity: 0; stroke: #000000"/>
<use href="#mf7107f1a10" x="258.81" y="344.69" style="fill-opacity: 0; stroke: #000000"/>
<use href="#mf7107f1a10" x="258.81" y="344.94" style="fill-opacity: 0; stroke: #000000"/>
<use href="#mf7107f1a10" x="258.81" y="344.91" style="fill-opacity: 0; stroke: #000000"/>
<use href="#mf7107f1a10" x="258.81" y="345.19" style="fill-opacity: 0; stroke: #000000"/>
<use href="#mf7107f1a10" x="258.81" y="344.53" style="fill-opacity: 0; stroke: #000000"/>
<use href="#mf7107f1a10" x="258.81" y="345.27" style="fill-opacity: 0; stroke: #000000"/>
<use href="#mf7107f1a10" x="258.81" y="345.17" style="fill-opacity: 0; stroke: #000000"/>
<use href="#mf7107f1a10" x="258.81" y="345.36" style="fill-opacity: 0; stroke: #000000"/>
<use href="#mf7107f1a10" x="258.81" y="344.88" style="fill-opacity: 0; stroke: #000000"/>
<use href="#mf7107f1a10" x="258.81" y="345.29" style="fill-opacity: 0; stroke: #000000"/>
<use href="#mf7107f1a10" x="258.81" y="345.39" style="fill-opacity: 0; stroke: #000000"/>
<use href="#mf7107f1a10" x="258.81" y="344.67" style="fill-opacity: 0; stroke: #000000"/>
<use href="#mf7107f1a10" x="258.81" y="345.26" style="fill-opacity: 0; stroke: #000000"/>
<use href="#mf7107f1a10" x="258.81" y="333.27" style="fill-opacity: 0; stroke: #000000"/>
<use href="#mf7107f1a10" x="258.81" y="330.54" style="fill-opacity: 0; stroke: #000000"/>
<use href="#mf7107f1a10" x="258.81" y="345.51" style="fill-opacity: 0; stroke: #000000"/>
<use href="#mf7107f1a10" x="258.81" y="341.81" style="fill-opacity: 0; stroke: #000000"/>
<use href="#mf7107f1a10" x="258.81" y="345.19" style="fill-opacity: 0; stroke: #000000"/>
<use href="#mf7107f1a10" x="258.81" y="345.51" style="fill-opacity: 0; stroke: #000000"/>
<use href="#mf7107f1a10" x="258.81" y="344.96" style="fill-opacity: 0; stroke: #000000"/>
<use href="#mf7107f1a10" x="258.81" y="345.33" style="fill-opacity: 0; stroke: #000000"/>
<use href="#mf7107f1a10" x="258.81" y="344.80" style="fill-opacity: 0; stroke: #000000"/>
<use href="#mf7107f1a10" x="258.81" y="345.36" style="fill-opacity: 0; stroke: #000000"/>
<use href="#mf7107f1a10" x="258.81" y="345.20" style="fill-opacity: 0; stroke: #000000"/>
<use href="#mf7107f1a10" x="258.81" y="345.33" style="fill-opacity: 0; stroke: #000000"/>
<use href="#mf7107f1a10" x="258.81" y="345.64" style="fill-opacity: 0; stroke: #000000"/>
<use href="#mf7107f1a10" x="258.81" y="345.80" style="fill-opacity: 0; stroke: #000000"/>
<use href="#mf7107f1a10" x="258.81" y="345.58" style="fill-opacity: 0; stroke: #000000"/>
<use href="#mf7107f1a10" x="258.81" y="336.73" style="fill-opacity: 0; stroke: #000000"/>
<use href="#mf7107f1a10" x="258.81" y="340.69" style="fill-opacity: 0; stroke: #000000"/>
<use href="#mf7107f1a10" x="258.81" y="343.37" style="fill-opacity: 0; stroke: #000000"/>
<use href="#mf7107f1a10" x="258.81" y="345.78" style="fill-opacity: 0; stroke: #000000"/>
<use href="#mf7107f1a10" x="258.81" y="343.50" style="fill-opacity: 0; stroke: #000000"/>
<use href="#mf7107f1a10" x="258.81" y="343.82" style="fill-opacity: 0; stroke: #000000"/>
<use href="#mf7107f1a10" x="258.81" y="345.12" style="fill-opacity: 0; stroke: #000000"/>
<use href="#mf7107f1a10" x="258.81" y="345.95" style="fill-opacity: 0; stroke: #000000"/>
<use href="#mf7107f1a10" x="258.81" y="344.85" style="fill-opacity: 0; stroke: #000000"/>
<use href="#mf7107f1a10" x="258.81" y="345.61" style="fill-opacity: 0; stroke: #000000"/>
<use href="#mf7107f1a10" x="258.81" y="345.56" style="fill-opacity: 0; stroke: #000000"/>
<use href="#mf7107f1a10" x="258.81" y="340.67" style="fill-opacity: 0; stroke: #000000"/>
<use href="#mf7107f1a10" x="258.81" y="345.53" style="fill-opacity: 0; stroke: #000000"/>
<use href="#mf7107f1a10" x="258.81" y="345.80" style="fill-opacity: 0; stroke: #000000"/>
<use href="#mf7107f1a10" x="258.81" y="345.24" style="fill-opacity: 0; stroke: #000000"/>
<use href="#mf7107f1a10" x="258.81" y="345.55" style="fill-opacity: 0; stroke: #000000"/>
<use href="#mf7107f1a10" x="258.81" y="345.55" style="fill-opacity: 0; stroke: #000000"/>
<use href="#mf7107f1a10" x="258.81" y="345.58" style="fill-opacity: 0; stroke: #000000"/>
<use href="#mf7107f1a10" x="258.81" y="345.77" style="fill-opacity: 0; stroke: #000000"/>
<use href="#mf7107f1a10" x="258.81" y="346.09" style="fill-opacity: 0; stroke: #000000"/>
<use href="#mf7107f1a10" x="258.81" y="345.39" style="fill-opacity: 0; stroke: #000000"/>
<use href="#mf7107f1a10" x="258.81" y="345.88" style="fill-opacity: 0; stroke: #000000"/>
<use href="#mf7107f1a10" x="258.81" y="345.17" style="fill-opacity: 0; stroke: #000000"/>
<use href="#mf7107f1a10" x="258.81" y="315.28" style="fill-opacity: 0; stroke: #000000"/>
<use href="#mf7107f1a10" x="258.81" y="345.43" style="fill-opacity: 0; stroke: #000000"/>
<use href="#mf7107f1a10" x="258.81" y="345.32" style="fill-opacity: 0; stroke: #000000"/>
<use href="#mf7107f1a10" x="258.81" y="346.06" style="fill-opacity: 0; stroke: #000000"/>
<use href="#mf7107f1a10" x="258.81" y="345.94" style="fill-opacity: 0; stroke: #000000"/>
<use href="#mf7107f1a10" x="258.81" y="345.81" style="fill-opacity: 0; stroke: #000000"/>
<use href="#mf7107f1a10" x="258.81" y="346.07" style="fill-opacity: 0; stroke: #000000"/>
<use href="#mf7107f1a10" x="258.81" y="346.01" style="fill-opacity: 0; stroke: #000000"/>
<use href="#mf7107f1a10" x="258.81" y="345.43" style="fill-opacity: 0; stroke: #000000"/>
<use href="#mf7107f1a10" x="258.81" y="346.19" style="fill-opacity: 0; stroke: #000000"/>
<use href="#mf7107f1a10" x="258.81" y="343.57" style="fill-opacity: 0; stroke: #000000"/>
<use href="#mf7107f1a10" x="258.81" y="340.63" style="fill-opacity: 0; stroke: #000000"/>
<use href="#mf7107f1a10" x="258.81" y="346.23" style="fill-opacity: 0; stroke: #000000"/>
<use href="#mf7107f1a10" x="258.81" y="343.17" style="fill-opacity: 0; stroke: #000000"/>
<use href="#mf7107f1a10" x="258.81" y="345.48" style="fill-opacity: 0; stroke: #000000"/>
<use href="#mf7107f1a10" x="258.81" y="345.89" style="fill-opacity: 0; stroke: #000000"/>
<use href="#mf7107f1a10" x="258.81" y="320.62" style="fill-opacity: 0; stroke: #000000"/>
<use href="#mf7107f1a10" x="258.81" y="345.98" style="fill-opacity: 0; stroke: #000000"/>
<use href="#mf7107f1a10" x="258.81" y="345.96" style="fill-opacity: 0; stroke: #000000"/>
<use href="#mf7107f1a10" x="258.81" y="344.00" style="fill-opacity: 0; stroke: #000000"/>
<use href="#mf7107f1a10" x="258.81" y="346.26" style="fill-opacity: 0; stroke: #000000"/>
<use href="#mf7107f1a10" x="258.81" y="346.04" style="fill-opacity: 0; stroke: #000000"/>
<use href="#mf7107f1a10" x="258.81" y="338.54" style="fill-opacity: 0; stroke: #000000"/>
<use href="#mf7107f1a10" x="258.81" y="346.49" style="fill-opacity: 0; stroke: #000000"/>
<use href="#mf7107f1a10" x="258.81" y="345.96" style="fill-opacity: 0; stroke: #000000"/>
<use href="#mf7107f1a10" x="258.81" y="346.18" style="fill-opacity: 0; stroke: #000000"/>
<use href="#mf7107f1a10" x="258.81" y="346.08" style="fill-opacity: 0; stroke: #000000"/>
<use href="#mf7107f1a10" x="258.81" y="344.33" style="fill-opacity: 0; stroke: #000000"/>
<use href="#mf7107f1a10" x="258.81" y="346.34" style="fill-opacity: 0; stroke: #000000"/>
<use href="#mf7107f1a10" x="258.81" y="346.10" style="fill-opacity: 0; stroke: #000000"/>
<use href="#mf7107f1a10" x="258.81" y="342.50" style="fill-opacity: 0; stroke: #000000"/>
<use href="#mf7107f1a10" x="258.81" y="345.58" style="fill-opacity: 0; stroke: #000000"/>
<use href="#mf7107f1a10" x="258.81" y="346.06" style="fill-opacity: 0; stroke: #000000"/>
<use href="#mf7107f1a10" x="258.81" y="346.29" style="fill-opacity: 0; stroke: #000000"/>
<use href="#mf7107f1a10" x="258.81" y="344.66" style="fill-opacity: 0; stroke: #000000"/>
<use href="#mf7107f1a10" x="258.81" y="345.46" style="fill-opacity: 0; stroke: #000000"/>
<use href="#mf7107f1a10" x="258.81" y="346.52" style="fill-opacity: 0; stroke: #000000"/>
<use href="#mf7107f1a10" x="258.81" y="346.07" style="fill-opacity: 0; stroke: #000000"/>
<use href="#mf7107f1a10" x="258.81" y="346.67" style="fill-opacity: 0; stroke: #000000"/>
<use href="#mf7107f1a10" x="258.81" y="346.28" style="fill-opacity: 0; stroke: #000000"/>
<use href="#mf7107f1a10" x="258.81" y="346.50" style="fill-opacity: 0; stroke: #000000"/>
<use href="#mf7107f1a10" x="258.81" y="334.48" style="fill-opacity: 0; stroke: #000000"/>
<use href="#mf7107f1a10" x="258.81" y="346.58" style="fill-opacity: 0; stroke: #000000"/>
<use href="#mf7107f1a10" x="258.81" y="346.77" style="fill-opacity: 0; stroke: #000000"/>
<use href="#mf7107f1a10" x="258.81" y="346.53" style="fill-opacity: 0; stroke: #000000"/>
<use href="#mf7107f1a10" x="258.81" y="346.77" style="fill-opacity: 0; stroke: #000000"/>
<use href="#mf7107f1a10" x="258.81" y="346.18" style="fill-opacity: 0; stroke: #000000"/>
<use href="#mf7107f1a10" x="258.81" y="344.41" style="fill-opacity: 0; stroke: #000000"/>
<use href="#mf7107f1a10" x="258.81" y="345.93" style="fill-opacity: 0; stroke: #000000"/>
<use href="#mf7107f1a10" x="258.81" y="324.67" style="fill-opacity: 0; stroke: #000000"/>
<use href="#mf7107f1a10" x="258.81" y="346.73" style="fill-opacity: 0; stroke: #000000"/>
<use href="#mf7107f1a10" x="258.81" y="344.97" style="fill-opacity: 0; stroke: #000000"/>
<use href="#mf7107f1a10" x="258.81" y="346.14" style="fill-opacity: 0; stroke: #000000"/>
<use href="#mf7107f1a10" x="258.81" y="346.33" style="fill-opacity: 0; stroke: #000000"/>
<use href="#mf7107f1a10" x="258.81" y="346.89" style="fill-opacity: 0; stroke: #000000"/>
<use href="#mf7107f1a10" x="258.81" y="346.59" style="fill-opacity: 0; stroke: #000000"/>
<use href="#mf7107f1a10" x="258.81" y="346.28" style="fill-opacity: 0; stroke: #000000"/>
<use href="#mf7107f1a10" x="258.81" y="346.79" style="fill-opacity: 0; stroke: #000000"/>
<use href="#mf7107f1a10" x="258.81" y="346.87" style="fill-opacity: 0; stroke: #000000"/>
<use href="#mf7107f1a10" x="258.81" y="346.30" style="fill-opacity: 0; stroke: #000000"/>
<use href="#mf7107f1a10" x="258.81" y="346.29" style="fill-opacity: 0; stroke: #000000"/>
<use href="#mf7107f1a10" x="258.81" y="346.42" style="fill-opacity: 0; stroke: #000000"/>
<use href="#mf7107f1a10" x="258.81" y="346.58" style="fill-opacity: 0; stroke: #000000"/>
<use href="#mf7107f1a10" x="258.81" y="346.50" style="fill-opacity: 0; stroke: #000000"/>
<use href="#mf7107f1a10" x="258.81" y="346.45" style="fill-opacity: 0; stroke: #000000"/>
<use href="#mf7107f1a10" x="258.81" y="346.17" style="fill-opacity: 0; stroke: #000000"/>
<use href="#mf7107f1a10" x="258.81" y="346.51" style="fill-opacity: 0; stroke: #000000"/>
<use href="#mf7107f1a10" x="258.81" y="346.91" style="fill-opacity: 0; stroke: #000000"/>
<use href="#mf7107f1a10" x="258.81" y="347.06" style="fill-opacity: 0; stroke: #000000"/>
<use href="#mf7107f1a10" x="258.81" y="339.39" style="fill-opacity: 0; stroke: #000000"/>
<use href="#mf7107f1a10" x="258.81" y="346.60" style="fill-opacity: 0; stroke: #000000"/>
<use href="#mf7107f1a10" x="258.81" y="347.11" style="fill-opacity: 0; stroke: #000000"/>
<use href="#mf7107f1a10" x="258.81" y="346.77" style="fill-opacity: 0; stroke: #000000"/>
<use href="#mf7107f1a10" x="258.81" y="337.68" style="fill-opacity: 0; stroke: #000000"/>
<use href="#mf7107f1a10" x="258.81" y="346.44" style="fill-opacity: 0; stroke: #000000"/>
<use href="#mf7107f1a10" x="258.81" y="337.13" style="fill-opacity: 0; stroke: #000000"/>
<use href="#mf7107f1a10" x="258.81" y="347.20" style="fill-opacity: 0; stroke: #000000"/>
<use href="#mf7107f1a10" x="258.81" y="346.76" style="fill-opacity: 0; stroke: #000000"/>
<use href="#mf7107f1a10" x="258.81" y="345.08" style="fill-opacity: 0; stroke: #000000"/>
<use href="#mf7107f1a10" x="258.81" y="343.89" style="fill-opacity: 0; stroke: #000000"/>
<use href="#mf7107f1a10" x="258.81" y="347.12" style="fill-opacity: 0; stroke: #000000"/>
<use href="#mf7107f1a10" x="258.81" y="347.25" style="fill-opacity: 0; stroke: #000000"/>
<use href="#mf7107f1a10" x="258.81" y="341.77" style="fill-opacity: 0; stroke: #000000"/>
<use href="#mf7107f1a10" x="258.81" y="346.14" style="fill-opacity: 0; stroke: #000000"/>
<use href="#mf7107f1a10" x="258.81" y="345.04" style="fill-opacity: 0; stroke: #000000"/>
<use href="#mf7107f1a10" x="258.81" y="346.80" style="fill-opacity: 0; stroke: #000000"/>
<use href="#mf7107f1a10" x="258.81" y="345.74" style="fill-opacity: 0; stroke: #000000"/>
<use href="#mf7107f1a10" x="258.81" y="346.70" style="fill-opacity: 0; stroke: #000000"/>
<use href="#mf7107f1a10" x="258.81" y="346.35" style="fill-opacity: 0; stroke: #000000"/>
<use href="#mf7107f1a10" x="258.81" y="346.54" style="fill-opacity: 0; stroke: #000000"/>
<use href="#mf7107f1a10" x="258.81" y="347.18" style="fill-opacity: 0; stroke: #000000"/>
<use href="#mf7107f1a10" x="258.81" y="347.01" style="fill-opacity: 0; stroke: #000000"/>
<use href="#mf7107f1a10" x="258.81" y="346.16" style="fill-opacity: 0; stroke: #000000"/>
<use href="#mf7107f1a10" x="258.81" y="345.35" style="fill-opacity: 0; stroke: #000000"/>
<use href="#mf7107f1a10" x="258.81" y="347.12" style="fill-opacity: 0; stroke: #000000"/>
<use href="#mf7107f1a10" x="258.81" y="346.90" style="fill-opacity: 0; stroke: #000000"/>
<use href="#mf7107f1a10" x="258.81" y="347.05" style="fill-opacity: 0; stroke: #000000"/>
<use href="#mf7107f1a10" x="258.81" y="346.78" style="fill-opacity: 0; stroke: #000000"/>
<use href="#mf7107f1a10" x="258.81" y="346.95" style="fill-opacity: 0; stroke: #000000"/>
<use href="#mf7107f1a10" x="258.81" y="346.63" style="fill-opacity: 0; stroke: #000000"/>
<use href="#mf7107f1a10" x="258.81" y="331.28" style="fill-opacity: 0; stroke: #000000"/>
<use href="#mf7107f1a10" x="258.81" y="347.11" style="fill-opacity: 0; stroke: #000000"/>
<use href="#mf7107f1a10" x="258.81" y="346.84" style="fill-opacity: 0; stroke: #000000"/>
<use href="#mf7107f1a10" x="258.81" y="346.56" style="fill-opacity: 0; stroke: #000000"/>
<use href="#mf7107f1a10" x="258.81" y="342.30" style="fill-opacity: 0; stroke: #000000"/>
<use href="#mf7107f1a10" x="258.81" y="347.14" style="fill-opacity: 0; stroke: #000000"/>
<use href="#mf7107f1a10" x="258.81" y="344.14" style="fill-opacity: 0; stroke: #000000"/>
<use href="#mf7107f1a10" x="258.81" y="346.70" style="fill-opacity: 0; stroke: #000000"/>
<use href="#mf7107f1a10" x="258.81" y="347.03" style="fill-opacity: 0; stroke: #000000"/>
<use href="#mf7107f1a10" x="258.81" y="333.74" style="fill-opacity: 0; stroke: #000000"/>
<use href="#mf7107f1a10" x="258.81" y="346.48" style="fill-opacity: 0; stroke: #000000"/>
<use href="#mf7107f1a10" x="258.81" y="346.45" style="fill-opacity: 0; stroke: #000000"/>
<use href="#mf7107f1a10" x="258.81" y="346.09" style="fill-opacity: 0; stroke: #000000"/>
<use href="#mf7107f1a10" x="258.81" y="346.71" style="fill-opacity: 0; stroke: #000000"/>
<use href="#mf7107f1a10" x="258.81" y="341.16" style="fill-opacity: 0; stroke: #000000"/>
<use href="#mf7107f1a10" x="258.81" y="346.04" style="fill-opacity: 0; stroke: #000000"/>
<use href="#mf7107f1a10" x="258.81" y="347.06" style="fill-opacity: 0; stroke: #000000"/>
<use href="#mf7107f1a10" x="258.81" y="346.64" style="fill-opacity: 0; stroke: #000000"/>
<use href="#mf7107f1a10" x="258.81" y="346.89" style="fill-opacity: 0; stroke: #000000"/>
<use href="#mf7107f1a10" x="258.81" y="346.70" style="fill-opacity: 0; stroke: #000000"/>
<use href="#mf7107f1a10" x="258.81" y="346.52" style="fill-opacity: 0; stroke: #000000"/>
<use href="#mf7107f1a10" x="258.81" y="346.60" style="fill-opacity: 0; stroke: #000000"/>
<use href="#mf7107f1a10" x="258.81" y="346.86" style="fill-opacity: 0; stroke: #000000"/>
<use href="#mf7107f1a10" x="258.81" y="346.95" style="fill-opacity: 0; stroke: #000000"/>
<use href="#mf7107f1a10" x="258.81" y="346.98" style="fill-opacity: 0; stroke: #000000"/>
<use href="#mf7107f1a10" x="258.81" y="344.84" style="fill-opacity: 0; stroke: #000000"/>
<use href="#mf7107f1a10" x="258.81" y="347.02" style="fill-opacity: 0; stroke: #000000"/>
<use href="#mf7107f1a10" x="258.81" y="346.99" style="fill-opacity: 0; stroke: #000000"/>
<use href="#mf7107f1a10" x="258.81" y="346.77" style="fill-opacity: 0; stroke: #000000"/>
<use href="#mf7107f1a10" x="258.81" y="346.08" style="fill-opacity: 0; stroke: #000000"/>
<use href="#mf7107f1a10" x="258.81" y="346.85" style="fill-opacity: 0; stroke: #000000"/>
<use href="#mf7107f1a10" x="258.81" y="346.65" style="fill-opacity: 0; stroke: #000000"/>
<use href="#mf7107f1a10" x="258.81" y="346.44" style="fill-opacity: 0; stroke: #000000"/>
<use href="#mf7107f1a10" x="258.81" y="346.92" style="fill-opacity: 0; stroke: #000000"/>
<use href="#mf7107f1a10" x="258.81" y="339.07" style="fill-opacity: 0; stroke: #000000"/>
<use href="#mf7107f1a10" x="258.81" y="346.66" style="fill-opacity: 0; stroke: #000000"/>
<use href="#mf7107f1a10" x="258.81" y="346.84" style="fill-opacity: 0; stroke: #000000"/>
<use href="#mf7107f1a10" x="258.81" y="345.51" style="fill-opacity: 0; stroke: #000000"/>
<use href="#mf7107f1a10" x="258.81" y="346.68" style="fill-opacity: 0; stroke: #000000"/>
<use href="#mf7107f1a10" x="258.81" y="346.41" style="fill-opacity: 0; stroke: #000000"/>
<use href="#mf7107f1a10" x="258.81" y="346.86" style="fill-opacity: 0; stroke: #000000"/>
<use href="#mf7107f1a10" x="258.81" y="346.79" style="fill-opacity: 0; stroke: #000000"/>
<use href="#mf7107f1a10" x="258.81" y="344.47" style="fill-opacity: 0; stroke: #000000"/>
<use href="#mf7107f1a10" x="258.81" y="346.61" style="fill-opacity: 0; stroke: #000000"/>
<use href="#mf7107f1a10" x="258.81" y="346.49" style="fill-opacity: 0; stroke: #000000"/>
<use href="#mf7107f1a10" x="258.81" y="346.51" style="fill-opacity: 0; stroke: #000000"/>
<use href="#mf7107f1a10" x="258.81" y="346.74" style="fill-opacity: 0; stroke: #000000"/>
<use href="#mf7107f1a10" x="258.81" y="304.94" style="fill-opacity: 0; stroke: #000000"/>
<use href="#mf7107f1a10" x="258.81" y="343.22" style="fill-opacity: 0; stroke: #000000"/>
<use href="#mf7107f1a10" x="258.81" y="346.79" style="fill-opacity: 0; stroke: #000000"/>
<use href="#mf7107f1a10" x="258.81" y="346.53" style="fill-opacity: 0; stroke: #000000"/>
<use href="#mf7107f1a10" x="258.81" y="346.16" style="fill-opacity: 0; stroke: #000000"/>
<use href="#mf7107f1a10" x="258.81" y="346.61" style="fill-opacity: 0; stroke: #000000"/>
<use href="#mf7107f1a10" x="258.81" y="340.04" style="fill-opacity: 0; stroke: #000000"/>
<use href="#mf7107f1a10" x="258.81" y="340.20" style="fill-opacity: 0; stroke: #000000"/>
<use href="#mf7107f1a10" x="258.81" y="346.24" style="fill-opacity: 0; stroke: #000000"/>
<use href="#mf7107f1a10" x="258.81" y="346.85" style="fill-opacity: 0; stroke: #000000"/>
<use href="#mf7107f1a10" x="258.81" y="346.35" style="fill-opacity: 0; stroke: #000000"/>
<use href="#mf7107f1a10" x="258.81" y="346.49" style="fill-opacity: 0; stroke: #000000"/>
<use href="#mf7107f1a10" x="258.81" y="345.96" style="fill-opacity: 0; stroke: #000000"/>
<use href="#mf7107f1a10" x="258.81" y="346.16" style="fill-opacity: 0; stroke: #000000"/>
<use href="#mf7107f1a10" x="258.81" y="346.15" style="fill-opacity: 0; stroke: #000000"/>
<use href="#mf7107f1a10" x="258.81" y="339.07" style="fill-opacity: 0; stroke: #000000"/>
<use href="#mf7107f1a10" x="258.81" y="346.38" style="fill-opacity: 0; stroke: #000000"/>
<use href="#mf7107f1a10" x="258.81" y="346.64" style="fill-opacity: 0; stroke: #000000"/>
<use href="#mf7107f1a10" x="258.81" y="345.92" style="fill-opacity: 0; stroke: #000000"/>
<use href="#mf7107f1a10" x="258.81" y="343.46" style="fill-opacity: 0; stroke: #000000"/>
<use href="#mf7107f1a10" x="258.81" y="346.38" style="fill-opacity: 0; stroke: #000000"/>
<use href="#mf7107f1a10" x="258.81" y="346.55" style="fill-opacity: 0; stroke: #000000"/>
<use href="#mf7107f1a10" x="258.81" y="345.81" style="fill-opacity: 0; stroke: #000000"/>
<use href="#mf7107f1a10" x="258.81" y="346.44" style="fill-opacity: 0; stroke: #000000"/>
<use href="#mf7107f1a10" x="258.81" y="337.41" style="fill-opacity: 0; stroke: #000000"/>
<use href="#mf7107f1a10" x="258.81" y="345.57" style="fill-opacity: 0; stroke: #000000"/>
<use href="#mf7107f1a10" x="258.81" y="346.11" style="fill-opacity: 0; stroke: #000000"/>
<use href="#mf7107f1a10" x="258.81" y="346.58" style="fill-opacity: 0; stroke: #000000"/>
<use href="#mf7107f1a10" x="258.81" y="316.88" style="fill-opacity: 0; stroke: #000000"/>
<use href="#mf7107f1a10" x="258.81" y="345.11" style="fill-opacity: 0; stroke: #000000"/>
<use href="#mf7107f1a10" x="258.81" y="345.31" style="fill-opacity: 0; stroke: #000000"/>
<use href="#mf7107f1a10" x="258.81" y="346.43" style="fill-opacity: 0; stroke: #000000"/>
<use href="#mf7107f1a10" x="258.81" y="346.57" style="fill-opacity: 0; stroke: #000000"/>
<use href="#mf7107f1a10" x="258.81" y="346.49" style="fill-opacity: 0; stroke: #000000"/>
<use href="#mf7107f1a10" x="258.81" y="346.28" style="fill-opacity: 0; stroke: #000000"/>
<use href="#mf7107f1a10" x="258.81" y="335.34" style="fill-opacity: 0; stroke: #000000"/>
<use href="#mf7107f1a10" x="258.81" y="346.53" style="fill-opacity: 0; stroke: #000000"/>
<use href="#mf7107f1a10" x="258.81" y="346.04" style="fill-opacity: 0; stroke: #000000"/>
<use href="#mf7107f1a10" x="258.81" y="345.88" style="fill-opacity: 0; stroke: #000000"/>
<use href="#mf7107f1a10" x="258.81" y="346.11" style="fill-opacity: 0; stroke: #000000"/>
<use href="#mf7107f1a10" x="258.81" y="342.95" style="fill-opacity: 0; stroke: #000000"/>
<use href="#mf7107f1a10" x="258.81" y="346.34" style="fill-opacity: 0; stroke: #000000"/>
<use href="#mf7107f1a10" x="258.81" y="340.67" style="fill-opacity: 0; stroke: #000000"/>
<use href="#mf7107f1a10" x="258.81" y="346.64" style="fill-opacity: 0; stroke: #000000"/>
<use href="#mf7107f1a10" x="258.81" y="346.32" style="fill-opacity: 0; stroke: #000000"/>
<use href="#mf7107f1a10" x="258.81" y="346.59" style="fill-opacity: 0; stroke: #000000"/>
<use href="#mf7107f1a10" x="258.81" y="345.85" style="fill-opacity: 0; stroke: #000000"/>
<use href="#mf7107f1a10" x="258.81" y="346.20" style="fill-opacity: 0; stroke: #000000"/>
<use href="#mf7107f1a10" x="258.81" y="345.44" style="fill-opacity: 0; stroke: #000000"/>
<use href="#mf7107f1a10" x="258.81" y="345.26" style="fill-opacity: 0; stroke: #000000"/>
<use href="#mf7107f1a10" x="258.81" y="344.48" style="fill-opacity: 0; stroke: #000000"/>
<use href="#mf7107f1a10" x="258.81" y="346.65" style="fill-opacity: 0; stroke: #000000"/>
<use href="#mf7107f1a10" x="258.81" y="346.06" style="fill-opacity: 0; stroke: #000000"/>
<use href="#mf7107f1a10" x="258.81" y="346.21" style="fill-opacity: 0; stroke: #000000"/>
<use href="#mf7107f1a10" x="258.81" y="346.36" style="fill-opacity: 0; stroke: #000000"/>
<use href="#mf7107f1a10" x="258.81" y="346.18" style="fill-opacity: 0; stroke: #000000"/>
<use href="#mf7107f1a10" x="258.81" y="346.70" style="fill-opacity: 0; stroke: #000000"/>
<use href="#mf7107f1a10" x="258.81" y="346.55" style="fill-opacity: 0; stroke: #000000"/>
<use href="#mf7107f1a10" x="258.81" y="346.76" style="fill-opacity: 0; stroke: #000000"/>
<use href="#mf7107f1a10" x="258.81" y="339.20" style="fill-opacity: 0; stroke: #000000"/>
<use href="#mf7107f1a10" x="258.81" y="346.04" style="fill-opacity: 0; stroke: #000000"/>
<use href="#mf7107f1a10" x="258.81" y="346.48" style="fill-opacity: 0; stroke: #000000"/>
<use href="#mf7107f1a10" x="258.81" y="346.79" style="fill-opacity: 0; stroke: #000000"/>
<use href="#mf7107f1a10" x="258.81" y="346.42" style="fill-opacity: 0; stroke: #000000"/>
<use href="#mf7107f1a10" x="258.81" y="346.50" style="fill-opacity: 0; stroke: #000000"/>
<use href="#mf7107f1a10" x="258.81" y="344.65" style="fill-opacity: 0; stroke: #000000"/>
<use href="#mf7107f1a10" x="258.81" y="342.76" style="fill-opacity: 0; stroke: #000000"/>
<use href="#mf7107f1a10" x="258.81" y="346.64" style="fill-opacity: 0; stroke: #000000"/>
<use href="#mf7107f1a10" x="258.81" y="334.35" style="fill-opacity: 0; stroke: #000000"/>
<use href="#mf7107f1a10" x="258.81" y="346.15" style="fill-opacity: 0; stroke: #000000"/>
<use href="#mf7107f1a10" x="258.81" y="346.79" style="fill-opacity: 0; stroke: #000000"/>
<use href="#mf7107f1a10" x="258.81" y="346.92" style="fill-opacity: 0; stroke: #000000"/>
<use href="#mf7107f1a10" x="258.81" y="346.96" style="fill-opacity: 0; stroke: #000000"/>
<use href="#mf7107f1a10" x="258.81" y="346.39" style="fill-opacity: 0; stroke: #000000"/>
<use href="#mf7107f1a10" x="258.81" y="336.94" style="fill-opacity: 0; stroke: #000000"/>
<use href="#mf7107f1a10" x="258.81" y="343.59" style="fill-opacity: 0; stroke: #000000"/>
<use href="#mf7107f1a10" x="258.81" y="346.47" style="fill-opacity: 0; stroke: #000000"/>
<use href="#mf7107f1a10" x="258.81" y="345.14" style="fill-opacity: 0; stroke: #000000"/>
<use href="#mf7107f1a10" x="258.81" y="345.10" style="fill-opacity: 0; stroke: #000000"/>
<use href="#mf7107f1a10" x="258.81" y="322.75" style="fill-opacity: 0; stroke: #000000"/>
<use href="#mf7107f1a10" x="258.81" y="345.83" style="fill-opacity: 0; stroke: #000000"/>
<use href="#mf7107f1a10" x="258.81" y="346.59" style="fill-opacity: 0; stroke: #000000"/>
<use href="#mf7107f1a10" x="258.81" y="346.23" style="fill-opacity: 0; stroke: #000000"/>
<use href="#mf7107f1a10" x="258.81" y="346.91" style="fill-opacity: 0; stroke: #000000"/>
<use href="#mf7107f1a10" x="258.81" y="347.06" style="fill-opacity: 0; stroke: #000000"/>
<use href="#mf7107f1a10" x="258.81" y="346.47" style="fill-opacity: 0; stroke: #000000"/>
<use href="#mf7107f1a10" x="258.81" y="346.92" style="fill-opacity: 0; stroke: #000000"/>
<use href="#mf7107f1a10" x="258.81" y="346.44" style="fill-opacity: 0; stroke: #000000"/>
<use href="#mf7107f1a10" x="258.81" y="346.51" style="fill-opacity: 0; stroke: #000000"/>
<use href="#mf7107f1a10" x="258.81" y="346.61" style="fill-opacity: 0; stroke: #000000"/>
<use href="#mf7107f1a10" x="258.81" y="346.42" style="fill-opacity: 0; stroke: #000000"/>
<use href="#mf7107f1a10" x="258.81" y="347.15" style="fill-opacity: 0; stroke: #000000"/>
<use href="#mf7107f1a10" x="258.81" y="340.18" style="fill-opacity: 0; stroke: #000000"/>
<use href="#mf7107f1a10" x="258.81" y="337.79" style="fill-opacity: 0; stroke: #000000"/>
<use href="#mf7107f1a10" x="258.81" y="345.19" style="fill-opacity: 0; stroke: #000000"/>
<use href="#mf7107f1a10" x="258.81" y="346.30" style="fill-opacity: 0; stroke: #000000"/>
<use href="#mf7107f1a10" x="258.81" y="347.10" style="fill-opacity: 0; stroke: #000000"/>
<use href="#mf7107f1a10" x="258.81" y="338.45" style="fill-opacity: 0; stroke: #000000"/>
<use href="#mf7107f1a10" x="258.81" y="344.51" style="fill-opacity: 0; stroke: #000000"/>
<use href="#mf7107f1a10" x="258.81" y="347.17" style="fill-opacity: 0; stroke: #000000"/>
<use href="#mf7107f1a10" x="258.81" y="346.66" style="fill-opacity: 0; stroke: #000000"/>
<use href="#mf7107f1a10" x="258.81" y="347.02" style="fill-opacity: 0; stroke: #000000"/>
<use href="#mf7107f1a10" x="258.81" y="347.12" style="fill-opacity: 0; stroke: #000000"/>
<use href="#mf7107f1a10" x="258.81" y="347.20" style="fill-opacity: 0; stroke: #000000"/>
<use href="#mf7107f1a10" x="258.81" y="347.26" style="fill-opacity: 0; stroke: #000000"/>
<use href="#mf7107f1a10" x="258.81" y="346.66" style="fill-opacity: 0; stroke: #000000"/>
<use href="#mf7107f1a10" x="258.81" y="344.77" style="fill-opacity: 0; stroke: #000000"/>
<use href="#mf7107f1a10" x="258.81" y="347.24" style="fill-opacity: 0; stroke: #000000"/>
<use href="#mf7107f1a10" x="258.81" y="347.22" style="fill-opacity: 0; stroke: #000000"/>
<use href="#mf7107f1a10" x="258.81" y="339.28" style="fill-opacity: 0; stroke: #000000"/>
<use href="#mf7107f1a10" x="258.81" y="346.22" style="fill-opacity: 0; stroke: #000000"/>
<use href="#mf7107f1a10" x="258.81" y="347.18" style="fill-opacity: 0; stroke: #000000"/>
<use href="#mf7107f1a10" x="258.81" y="345.92" style="fill-opacity: 0; stroke: #000000"/>
<use href="#mf7107f1a10" x="258.81" y="346.60" style="fill-opacity: 0; stroke: #000000"/>
<use href="#mf7107f1a10" x="258.81" y="335.02" style="fill-opacity: 0; stroke: #000000"/>
<use href="#mf7107f1a10" x="258.81" y="347.18" style="fill-opacity: 0; stroke: #000000"/>
<use href="#mf7107f1a10" x="258.81" y="346.97" style="fill-opacity: 0; stroke: #000000"/>
<use href="#mf7107f1a10" x="258.81" y="343.64" style="fill-opacity: 0; stroke: #000000"/>
<use href="#mf7107f1a10" x="258.81" y="347.12" style="fill-opacity: 0; stroke: #000000"/>
<use href="#mf7107f1a10" x="258.81" y="347.23" style="fill-opacity: 0; stroke: #000000"/>
<use href="#mf7107f1a10" x="258.81" y="330.54" style="fill-opacity: 0; stroke: #000000"/>
<use href="#mf7107f1a10" x="258.81" y="347.30" style="fill-opacity: 0; stroke: #000000"/>
<use href="#mf7107f1a10" x="258.81" y="346.82" style="fill-opacity: 0; stroke: #000000"/>
<use href="#mf7107f1a10" x="258.81" y="346.33" style="fill-opacity: 0; stroke: #000000"/>
<use href="#mf7107f1a10" x="258.81" y="338.12" style="fill-opacity: 0; stroke: #000000"/>
<use href="#mf7107f1a10" x="258.81" y="347.19" style="fill-opacity: 0; stroke: #000000"/>
<use href="#mf7107f1a10" x="258.81" y="345.74" style="fill-opacity: 0; stroke: #000000"/>
<use href="#mf7107f1a10" x="258.81" y="346.29" style="fill-opacity: 0; stroke: #000000"/>
<use href="#mf7107f1a10" x="258.81" y="347.11" style="fill-opacity: 0; stroke: #000000"/>
<use href="#mf7107f1a10" x="258.81" y="347.03" style="fill-opacity: 0; stroke: #000000"/>
<use href="#mf7107f1a10" x="258.81" y="347.14" style="fill-opacity: 0; stroke: #000000"/>
<use href="#mf7107f1a10" x="258.81" y="347.27" style="fill-opacity: 0; stroke: #000000"/>
<use href="#mf7107f1a10" x="258.81" y="346.83" style="fill-opacity: 0; stroke: #000000"/>
<use href="#mf7107f1a10" x="258.81" y="347.28" style="fill-opacity: 0; stroke: #000000"/>
<use href="#mf7107f1a10" x="258.81" y="347.12" style="fill-opacity: 0; stroke: #000000"/>
<use href="#mf7107f1a10" x="258.81" y="347.29" style="fill-opacity: 0; stroke: #000000"/>
<use href="#mf7107f1a10" x="258.81" y="347.32" style="fill-opacity: 0; stroke: #000000"/>
<use href="#mf7107f1a10" x="258.81" y="347.07" style="fill-opacity: 0; stroke: #000000"/>
<use href="#mf7107f1a10" x="258.81" y="346.91" style="fill-opacity: 0; stroke: #000000"/>
<use href="#mf7107f1a10" x="258.81" y="346.93" style="fill-opacity: 0; stroke: #000000"/>
<use href="#mf7107f1a10" x="258.81" y="347.20" style="fill-opacity: 0; stroke: #000000"/>
<use href="#mf7107f1a10" x="258.81" y="347.33" style="fill-opacity: 0; stroke: #000000"/>
<use href="#mf7107f1a10" x="258.81" y="347.44" style="fill-opacity: 0; stroke: #000000"/>
<use href="#mf7107f1a10" x="258.81" y="312.08" style="fill-opacity: 0; stroke: #000000"/>
<use href="#mf7107f1a10" x="258.81" y="347.41" style="fill-opacity: 0; stroke: #000000"/>
<use href="#mf7107f1a10" x="258.81" y="344.97" style="fill-opacity: 0; stroke: #000000"/>
<use href="#mf7107f1a10" x="258.81" y="346.75" style="fill-opacity: 0; stroke: #000000"/>
<use href="#mf7107f1a10" x="258.81" y="347.46" style="fill-opacity: 0; stroke: #000000"/>
<use href="#mf7107f1a10" x="258.81" y="343.29" style="fill-opacity: 0; stroke: #000000"/>
<use href="#mf7107f1a10" x="258.81" y="347.25" style="fill-opacity: 0; stroke: #000000"/>
<use href="#mf7107f1a10" x="258.81" y="345.35" style="fill-opacity: 0; stroke: #000000"/>
<use href="#mf7107f1a10" x="258.81" y="347.40" style="fill-opacity: 0; stroke: #000000"/>
<use href="#mf7107f1a10" x="258.81" y="347.48" style="fill-opacity: 0; stroke: #000000"/>
<use href="#mf7107f1a10" x="258.81" y="346.98" style="fill-opacity: 0; stroke: #000000"/>
<use href="#mf7107f1a10" x="258.81" y="347.17" style="fill-opacity: 0; stroke: #000000"/>
<use href="#mf7107f1a10" x="258.81" y="346.89" style="fill-opacity: 0; stroke: #000000"/>
<use href="#mf7107f1a10" x="258.81" y="347.43" style="fill-opacity: 0; stroke: #000000"/>
<use href="#mf7107f1a10" x="258.81" y="345.96" style="fill-opacity: 0; stroke: #000000"/>
<use href="#mf7107f1a10" x="258.81" y="344.70" style="fill-opacity: 0; stroke: #000000"/>
<use href="#mf7107f1a10" x="258.81" y="345.34" style="fill-opacity: 0; stroke: #000000"/>
<use href="#mf7107f1a10" x="258.81" y="347.24" style="fill-opacity: 0; stroke: #000000"/>
<use href="#mf7107f1a10" x="258.81" y="341.28" style="fill-opacity: 0; stroke: #000000"/>
<use href="#mf7107f1a10" x="258.81" y="343.99" style="fill-opacity: 0; stroke: #000000"/>
<use href="#mf7107f1a10" x="258.81" y="347.27" style="fill-opacity: 0; stroke: #000000"/>
<use href="#mf7107f1a10" x="258.81" y="346.88" style="fill-opacity: 0; stroke: #000000"/>
<use href="#mf7107f1a10" x="258.81" y="347.08" style="fill-opacity: 0; stroke: #000000"/>
<use href="#mf7107f1a10" x="258.81" y="344.72" style="fill-opacity: 0; stroke: #000000"/>
<use href="#mf7107f1a10" x="258.81" y="328.62" style="fill-opacity: 0; stroke: #000000"/>
<use href="#mf7107f1a10" x="258.81" y="346.51" style="fill-opacity: 0; stroke: #000000"/>
<use href="#mf7107f1a10" x="258.81" y="346.65" style="fill-opacity: 0; stroke: #000000"/>
<use href="#mf7107f1a10" x="258.81" y="344.66" style="fill-opacity: 0; stroke: #000000"/>
<use href="#mf7107f1a10" x="258.81" y="341.28" style="fill-opacity: 0; stroke: #000000"/>
<use href="#mf7107f1a10" x="258.81" y="347.23" style="fill-opacity: 0; stroke: #000000"/>
<use href="#mf7107f1a10" x="258.81" y="345.86" style="fill-opacity: 0; stroke: #000000"/>
<use href="#mf7107f1a10" x="258.81" y="347.19" style="fill-opacity: 0; stroke: #000000"/>
<use href="#mf7107f1a10" x="258.81" y="346.69" style="fill-opacity: 0; stroke: #000000"/>
<use href="#mf7107f1a10" x="258.81" y="346.35" style="fill-opacity: 0; stroke: #000000"/>
<use href="#mf7107f1a10" x="258.81" y="346.87" style="fill-opacity: 0; stroke: #000000"/>
<use href="#mf7107f1a10" x="258.81" y="331.28" style="fill-opacity: 0; stroke: #000000"/>
<use href="#mf7107f1a10" x="258.81" y="346.78" style="fill-opacity: 0; stroke: #000000"/>
<use href="#mf7107f1a10" x="258.81" y="346.40" style="fill-opacity: 0; stroke: #000000"/>
<use href="#mf7107f1a10" x="258.81" y="342.90" style="fill-opacity: 0; stroke: #000000"/>
<use href="#mf7107f1a10" x="258.81" y="346.52" style="fill-opacity: 0; stroke: #000000"/>
<use href="#mf7107f1a10" x="258.81" y="331.39" style="fill-opacity: 0; stroke: #000000"/>
<use href="#mf7107f1a10" x="258.81" y="346.77" style="fill-opacity: 0; stroke: #000000"/>
<use href="#mf7107f1a10" x="258.81" y="347.07" style="fill-opacity: 0; stroke: #000000"/>
<use href="#mf7107f1a10" x="258.81" y="341.27" style="fill-opacity: 0; stroke: #000000"/>
<use href="#mf7107f1a10" x="258.81" y="346.13" style="fill-opacity: 0; stroke: #000000"/>
<use href="#mf7107f1a10" x="258.81" y="346.49" style="fill-opacity: 0; stroke: #000000"/>
<use href="#mf7107f1a10" x="258.81" y="346.89" style="fill-opacity: 0; stroke: #000000"/>
<use href="#mf7107f1a10" x="258.81" y="346.82" style="fill-opacity: 0; stroke: #000000"/>
<use href="#mf7107f1a10" x="258.81" y="342.13" style="fill-opacity: 0; stroke: #000000"/>
<use href="#mf7107f1a10" x="258.81" y="343.11" style="fill-opacity: 0; stroke: #000000"/>
<use href="#mf7107f1a10" x="258.81" y="346.24" style="fill-opacity: 0; stroke: #000000"/>
<use href="#mf7107f1a10" x="258.81" y="346.83" style="fill-opacity: 0; stroke: #000000"/>
<use href="#mf7107f1a10" x="258.81" y="346.62" style="fill-opacity: 0; stroke: #000000"/>
<use href="#mf7107f1a10" x="258.81" y="345.71" style="fill-opacity: 0; stroke: #000000"/>
<use href="#mf7107f1a10" x="258.81" y="346.14" style="fill-opacity: 0; stroke: #000000"/>
<use href="#mf7107f1a10" x="258.81" y="343.34" style="fill-opacity: 0; stroke: #000000"/>
<use href="#mf7107f1a10" x="258.81" y="346.56" style="fill-opacity: 0; stroke: #000000"/>
<use href="#mf7107f1a10" x="258.81" y="346.29" style="fill-opacity: 0; stroke: #000000"/>
<use href="#mf7107f1a10" x="258.81" y="335.21" style="fill-opacity: 0; stroke: #000000"/>
<use href="#mf7107f1a10" x="258.81" y="346.81" style="fill-opacity: 0; stroke: #000000"/>
<use href="#mf7107f1a10" x="258.81" y="346.76" style="fill-opacity: 0; stroke: #000000"/>
<use href="#mf7107f1a10" x="258.81" y="346.57" style="fill-opacity: 0; stroke: #000000"/>
<use href="#mf7107f1a10" x="258.81" y="346.01" style="fill-opacity: 0; stroke: #000000"/>
<use href="#mf7107f1a10" x="258.81" y="345.87" style="fill-opacity: 0; stroke: #000000"/>
<use href="#mf7107f1a10" x="258.81" y="346.35" style="fill-opacity: 0; stroke: #000000"/>
<use href="#mf7107f1a10" x="258.81" y="346.66" style="fill-opacity: 0; stroke: #000000"/>
<use href="#mf7107f1a10" x="258.81" y="345.49" style="fill-opacity: 0; stroke: #000000"/>
<use href="#mf7107f1a10" x="258.81" y="346.21" style="fill-opacity: 0; stroke: #000000"/>
<use href="#mf7107f1a10" x="258.81" y="346.40" style="fill-opacity: 0; stroke: #000000"/>
<use href="#mf7107f1a10" x="258.81" y="346.46" style="fill-opacity: 0; stroke: #000000"/>
<use href="#mf7107f1a10" x="258.81" y="346.54" style="fill-opacity: 0; stroke: #000000"/>
<use href="#mf7107f1a10" x="258.81" y="346.41" style="fill-opacity: 0; stroke: #000000"/>
<use href="#mf7107f1a10" x="258.81" y="333.95" style="fill-opacity: 0; stroke: #000000"/>
<use href="#mf7107f1a10" x="258.81" y="346.66" style="fill-opacity: 0; stroke: #000000"/>
<use href="#mf7107f1a10" x="258.81" y="346.32" style="fill-opacity: 0; stroke: #000000"/>
<use href="#mf7107f1a10" x="258.81" y="345.99" style="fill-opacity: 0; stroke: #000000"/>
<use href="#mf7107f1a10" x="258.81" y="345.79" style="fill-opacity: 0; stroke: #000000"/>
<use href="#mf7107f1a10" x="258.81" y="345.99" style="fill-opacity: 0; stroke: #000000"/>
<use href="#mf7107f1a10" x="258.81" y="346.35" style="fill-opacity: 0; stroke: #000000"/>
<use href="#mf7107f1a10" x="258.81" y="346.57" style="fill-opacity: 0; stroke: #000000"/>
<use href="#mf7107f1a10" x="258.81" y="346.34" style="fill-opacity: 0; stroke: #000000"/>
<use href="#mf7107f1a10" x="258.81" y="341.32" style="fill-opacity: 0; stroke: #000000"/>
<use href="#mf7107f1a10" x="258.81" y="346.07" style="fill-opacity: 0; stroke: #000000"/>
<use href="#mf7107f1a10" x="258.81" y="346.73" style="fill-opacity: 0; stroke: #000000"/>
<use href="#mf7107f1a10" x="258.81" y="346.57" style="fill-opacity: 0; stroke: #000000"/>
<use href="#mf7107f1a10" x="258.81" y="341.23" style="fill-opacity: 0; stroke: #000000"/>
<use href="#mf7107f1a10" x="258.81" y="346.78" style="fill-opacity: 0; stroke: #000000"/>
<use href="#mf7107f1a10" x="258.81" y="334.80" style="fill-opacity: 0; stroke: #000000"/>
<use href="#mf7107f1a10" x="258.81" y="346.75" style="fill-opacity: 0; stroke: #000000"/>
<use href="#mf7107f1a10" x="258.81" y="345.79" style="fill-opacity: 0; stroke: #000000"/>
<use href="#mf7107f1a10" x="258.81" y="346.80" style="fill-opacity: 0; stroke: #000000"/>
<use href="#mf7107f1a10" x="258.81" y="346.31" style="fill-opacity: 0; stroke: #000000"/>
<use href="#mf7107f1a10" x="258.81" y="346.78" style="fill-opacity: 0; stroke: #000000"/>
<use href="#mf7107f1a10" x="258.81" y="341.74" style="fill-opacity: 0; stroke: #000000"/>
<use href="#mf7107f1a10" x="258.81" y="346.70" style="fill-opacity: 0; stroke: #000000"/>
<use href="#mf7107f1a10" x="258.81" y="345.64" style="fill-opacity: 0; stroke: #000000"/>
<use href="#mf7107f1a10" x="258.81" y="346.57" style="fill-opacity: 0; stroke: #000000"/>
<use href="#mf7107f1a10" x="258.81" y="346.23" style="fill-opacity: 0; stroke: #000000"/>
<use href="#mf7107f1a10" x="258.81" y="346.87" style="fill-opacity: 0; stroke: #000000"/>
<use href="#mf7107f1a10" x="258.81" y="342.95" style="fill-opacity: 0; stroke: #000000"/>
<use href="#mf7107f1a10" x="258.81" y="346.92" style="fill-opacity: 0; stroke: #000000"/>
<use href="#mf7107f1a10" x="258.81" y="346.51" style="fill-opacity: 0; stroke: #000000"/>
<use href="#mf7107f1a10" x="258.81" y="346.69" style="fill-opacity: 0; stroke: #000000"/>
<use href="#mf7107f1a10" x="258.81" y="346.82" style="fill-opacity: 0; stroke: #000000"/>
<use href="#mf7107f1a10" x="258.81" y="345.01" style="fill-opacity: 0; stroke: #000000"/>
<use href="#mf7107f1a10" x="258.81" y="345.71" style="fill-opacity: 0; stroke: #000000"/>
<use href="#mf7107f1a10" x="258.81" y="346.92" style="fill-opacity: 0; stroke: #000000"/>
<use href="#mf7107f1a10" x="258.81" y="337.76" style="fill-opacity: 0; stroke: #000000"/>
<use href="#mf7107f1a10" x="258.81" y="346.43" style="fill-opacity: 0; stroke: #000000"/>
<use href="#mf7107f1a10" x="258.81" y="346.83" style="fill-opacity: 0; stroke: #000000"/>
<use href="#mf7107f1a10" x="258.81" y="346.37" style="fill-opacity: 0; stroke: #000000"/>
<use href="#mf7107f1a10" x="258.81" y="347.03" style="fill-opacity: 0; stroke: #000000"/>
<use href="#mf7107f1a10" x="258.81" y="346.28" style="fill-opacity: 0; stroke: #000000"/>
<use href="#mf7107f1a10" x="258.81" y="347.05" style="fill-opacity: 0; stroke: #000000"/>
<use href="#mf7107f1a10" x="258.81" y="347.12" style="fill-opacity: 0; stroke: #000000"/>
<use href="#mf7107f1a10" x="258.81" y="347.08" style="fill-opacity: 0; stroke: #000000"/>
<use href="#mf7107f1a10" x="258.81" y="347.16" style="fill-opacity: 0; stroke: #000000"/>
<use href="#mf7107f1a10" x="258.81" y="342.70" style="fill-opacity: 0; stroke: #000000"/>
<use href="#mf7107f1a10" x="258.81" y="346.22" style="fill-opacity: 0; stroke: #000000"/>
<use href="#mf7107f1a10" x="258.81" y="343.96" style="fill-opacity: 0; stroke: #000000"/>
<use href="#mf7107f1a10" x="258.81" y="347.19" style="fill-opacity: 0; stroke: #000000"/>
<use href="#mf7107f1a10" x="258.81" y="346.31" style="fill-opacity: 0; stroke: #000000"/>
<use href="#mf7107f1a10" x="258.81" y="347.21" style="fill-opacity: 0; stroke: #000000"/>
<use href="#mf7107f1a10" x="258.81" y="347.24" style="fill-opacity: 0; stroke: #000000"/>
<use href="#mf7107f1a10" x="258.81" y="347.12" style="fill-opacity: 0; stroke: #000000"/>
<use href="#mf7107f1a10" x="258.81" y="347.15" style="fill-opacity: 0; stroke: #000000"/>
<use href="#mf7107f1a10" x="258.81" y="347.19" style="fill-opacity: 0; stroke: #000000"/>
<use href="#mf7107f1a10" x="258.81" y="309.21" style="fill-opacity: 0; stroke: #000000"/>
<use href="#mf7107f1a10" x="258.81" y="347.13" style="fill-opacity: 0; stroke: #000000"/>
<use href="#mf7107f1a10" x="258.81" y="347.30" style="fill-opacity: 0; stroke: #000000"/>
<use href="#mf7107f1a10" x="258.81" y="346.25" style="fill-opacity: 0; stroke: #000000"/>
<use href="#mf7107f1a10" x="258.81" y="347.20" style="fill-opacity: 0; stroke: #000000"/>
<use href="#mf7107f1a10" x="258.81" y="347.30" style="fill-opacity: 0; stroke: #000000"/>
<use href="#mf7107f1a10" x="258.81" y="347.28" style="fill-opacity: 0; stroke: #000000"/>
<use href="#mf7107f1a10" x="258.81" y="347.38" style="fill-opacity: 0; stroke: #000000"/>
<use href="#mf7107f1a10" x="258.81" y="347.38" style="fill-opacity: 0; stroke: #000000"/>
<use href="#mf7107f1a10" x="258.81" y="346.85" style="fill-opacity: 0; stroke: #000000"/>
<use href="#mf7107f1a10" x="258.81" y="340.88" style="fill-opacity: 0; stroke: #000000"/>
<use href="#mf7107f1a10" x="258.81" y="346.50" style="fill-opacity: 0; stroke: #000000"/>
<use href="#mf7107f1a10" x="258.81" y="347.11" style="fill-opacity: 0; stroke: #000000"/>
<use href="#mf7107f1a10" x="258.81" y="344.83" style="fill-opacity: 0; stroke: #000000"/>
<use href="#mf7107f1a10" x="258.81" y="346.82" style="fill-opacity: 0; stroke: #000000"/>
<use href="#mf7107f1a10" x="258.81" y="347.49" style="fill-opacity: 0; stroke: #000000"/>
<use href="#mf7107f1a10" x="258.81" y="327.34" style="fill-opacity: 0; stroke: #000000"/>
<use href="#mf7107f1a10" x="258.81" y="341.08" style="fill-opacity: 0; stroke: #000000"/>
<use href="#mf7107f1a10" x="258.81" y="347.35" style="fill-opacity: 0; stroke: #000000"/>
<use href="#mf7107f1a10" x="258.81" y="347.36" style="fill-opacity: 0; stroke: #000000"/>
<use href="#mf7107f1a10" x="258.81" y="347.22" style="fill-opacity: 0; stroke: #000000"/>
<use href="#mf7107f1a10" x="258.81" y="335.56" style="fill-opacity: 0; stroke: #000000"/>
<use href="#mf7107f1a10" x="258.81" y="347.28" style="fill-opacity: 0; stroke: #000000"/>
<use href="#mf7107f1a10" x="258.81" y="345.44" style="fill-opacity: 0; stroke: #000000"/>
<use href="#mf7107f1a10" x="258.81" y="347.05" style="fill-opacity: 0; stroke: #000000"/>
<use href="#mf7107f1a10" x="258.81" y="346.96" style="fill-opacity: 0; stroke: #000000"/>
<use href="#mf7107f1a10" x="258.81" y="347.02" style="fill-opacity: 0; stroke: #000000"/>
<use href="#mf7107f1a10" x="258.81" y="347.43" style="fill-opacity: 0; stroke: #000000"/>
<use href="#mf7107f1a10" x="258.81" y="346.84" style="fill-opacity: 0; stroke: #000000"/>
<use href="#mf7107f1a10" x="258.81" y="347.22" style="fill-opacity: 0; stroke: #000000"/>
<use href="#mf7107f1a10" x="258.81" y="347.48" style="fill-opacity: 0; stroke: #000000"/>
<use href="#mf7107f1a10" x="258.81" y="340.14" style="fill-opacity: 0; stroke: #000000"/>
<use href="#mf7107f1a10" x="258.81" y="347.20" style="fill-opacity: 0; stroke: #000000"/>
<use href="#mf7107f1a10" x="258.81" y="346.20" style="fill-opacity: 0; stroke: #000000"/>
<use href="#mf7107f1a10" x="258.81" y="347.15" style="fill-opacity: 0; stroke: #000000"/>
<use href="#mf7107f1a10" x="258.81" y="339.05" style="fill-opacity: 0; stroke: #000000"/>
<use href="#mf7107f1a10" x="258.81" y="347.21" style="fill-opacity: 0; stroke: #000000"/>
<use href="#mf7107f1a10" x="258.81" y="347.45" style="fill-opacity: 0; stroke: #000000"/>
<use href="#mf7107f1a10" x="258.81" y="336.94" style="fill-opacity: 0; stroke: #000000"/>
<use href="#mf7107f1a10" x="258.81" y="346.92" style="fill-opacity: 0; stroke: #000000"/>
<use href="#mf7107f1a10" x="258.81" y="345.62" style="fill-opacity: 0; stroke: #000000"/>
<use href="#mf7107f1a10" x="258.81" y="339.07" style="fill-opacity: 0; stroke: #000000"/>
<use href="#mf7107f1a10" x="258.81" y="338.93" style="fill-opacity: 0; stroke: #000000"/>
<use href="#mf7107f1a10" x="258.81" y="347.28" style="fill-opacity: 0; stroke: #000000"/>
<use href="#mf7107f1a10" x="258.81" y="339.71" style="fill-opacity: 0; stroke: #000000"/>
<use href="#mf7107f1a10" x="258.81" y="338.00" style="fill-opacity: 0; stroke: #000000"/>
<use href="#mf7107f1a10" x="258.81" y="347.22" style="fill-opacity: 0; stroke: #000000"/>
<use href="#mf7107f1a10" x="258.81" y="346.07" style="fill-opacity: 0; stroke: #000000"/>
<use href="#mf7107f1a10" x="258.81" y="337.26" style="fill-opacity: 0; stroke: #000000"/>
<use href="#mf7107f1a10" x="258.81" y="346.92" style="fill-opacity: 0; stroke: #000000"/>
<use href="#mf7107f1a10" x="258.81" y="347.45" style="fill-opacity: 0; stroke: #000000"/>
<use href="#mf7107f1a10" x="258.81" y="346.91" style="fill-opacity: 0; stroke: #000000"/>
<use href="#mf7107f1a10" x="258.81" y="347.34" style="fill-opacity: 0; stroke: #000000"/>
<use href="#mf7107f1a10" x="258.81" y="338.61" style="fill-opacity: 0; stroke: #000000"/>
<use href="#mf7107f1a10" x="258.81" y="327.12" style="fill-opacity: 0; stroke: #000000"/>
<use href="#mf7107f1a10" x="258.81" y="346.66" style="fill-opacity: 0; stroke: #000000"/>
<use href="#mf7107f1a10" x="258.81" y="341.74" style="fill-opacity: 0; stroke: #000000"/>
<use href="#mf7107f1a10" x="258.81" y="346.80" style="fill-opacity: 0; stroke: #000000"/>
<use href="#mf7107f1a10" x="258.81" y="346.45" style="fill-opacity: 0; stroke: #000000"/>
<use href="#mf7107f1a10" x="258.81" y="340.20" style="fill-opacity: 0; stroke: #000000"/>
<use href="#mf7107f1a10" x="258.81" y="346.95" style="fill-opacity: 0; stroke: #000000"/>
<use href="#mf7107f1a10" x="258.81" y="345.16" style="fill-opacity: 0; stroke: #000000"/>
<use href="#mf7107f1a10" x="258.81" y="347.47" style="fill-opacity: 0; stroke: #000000"/>
<use href="#mf7107f1a10" x="258.81" y="346.05" style="fill-opacity: 0; stroke: #000000"/>
<use href="#mf7107f1a10" x="258.81" y="340.67" style="fill-opacity: 0; stroke: #000000"/>
<use href="#mf7107f1a10" x="258.81" y="347.06" style="fill-opacity: 0; stroke: #000000"/>
<use href="#mf7107f1a10" x="258.81" y="345.94" style="fill-opacity: 0; stroke: #000000"/>
<use href="#mf7107f1a10" x="258.81" y="347.05" style="fill-opacity: 0; stroke: #000000"/>
<use href="#mf7107f1a10" x="258.81" y="343.87" style="fill-opacity: 0; stroke: #000000"/>
<use href="#mf7107f1a10" x="258.81" y="346.39" style="fill-opacity: 0; stroke: #000000"/>
<use href="#mf7107f1a10" x="258.81" y="346.09" style="fill-opacity: 0; stroke: #000000"/>
<use href="#mf7107f1a10" x="258.81" y="346.66" style="fill-opacity: 0; stroke: #000000"/>
<use href="#mf7107f1a10" x="258.81" y="347.23" style="fill-opacity: 0; stroke: #000000"/>
<use href="#mf7107f1a10" x="258.81" y="342.07" style="fill-opacity: 0; stroke: #000000"/>
<use href="#mf7107f1a10" x="258.81" y="345.71" style="fill-opacity: 0; stroke: #000000"/>
<use href="#mf7107f1a10" x="258.81" y="346.76" style="fill-opacity: 0; stroke: #000000"/>
<use href="#mf7107f1a10" x="258.81" y="347.09" style="fill-opacity: 0; stroke: #000000"/>
<use href="#mf7107f1a10" x="258.81" y="344.61" style="fill-opacity: 0; stroke: #000000"/>
<use href="#mf7107f1a10" x="258.81" y="335.34" style="fill-opacity: 0; stroke: #000000"/>
<use href="#mf7107f1a10" x="258.81" y="342.99" style="fill-opacity: 0; stroke: #000000"/>
<use href="#mf7107f1a10" x="258.81" y="347.04" style="fill-opacity: 0; stroke: #000000"/>
<use href="#mf7107f1a10" x="258.81" y="343.87" style="fill-opacity: 0; stroke: #000000"/>
<use href="#mf7107f1a10" x="258.81" y="345.97" style="fill-opacity: 0; stroke: #000000"/>
<use href="#mf7107f1a10" x="258.81" y="328.62" style="fill-opacity: 0; stroke: #000000"/>
<use href="#mf7107f1a10" x="258.81" y="344.08" style="fill-opacity: 0; stroke: #000000"/>
<use href="#mf7107f1a10" x="258.81" y="342.80" style="fill-opacity: 0; stroke: #000000"/>
<use href="#mf7107f1a10" x="258.81" y="340.67" style="fill-opacity: 0; stroke: #000000"/>
<use href="#mf7107f1a10" x="258.81" y="345.03" style="fill-opacity: 0; stroke: #000000"/>
<use href="#mf7107f1a10" x="258.81" y="338.22" style="fill-opacity: 0; stroke: #000000"/>
<use href="#mf7107f1a10" x="258.81" y="344.86" style="fill-opacity: 0; stroke: #000000"/>
<use href="#mf7107f1a10" x="258.81" y="345.66" style="fill-opacity: 0; stroke: #000000"/>
<use href="#mf7107f1a10" x="258.81" y="339.14" style="fill-opacity: 0; stroke: #000000"/>
<use href="#mf7107f1a10" x="258.81" y="345.76" style="fill-opacity: 0; stroke: #000000"/>
<use href="#mf7107f1a10" x="258.81" y="343.02" style="fill-opacity: 0; stroke: #000000"/>
<use href="#mf7107f1a10" x="258.81" y="346.63" style="fill-opacity: 0; stroke: #000000"/>
<use href="#mf7107f1a10" x="258.81" y="345.10" style="fill-opacity: 0; stroke: #000000"/>
<use href="#mf7107f1a10" x="258.81" y="346.50" style="fill-opacity: 0; stroke: #000000"/>
<use href="#mf7107f1a10" x="258.81" y="342.80" style="fill-opacity: 0; stroke: #000000"/>
<use href="#mf7107f1a10" x="258.81" y="338.10" style="fill-opacity: 0; stroke: #000000"/>
<use href="#mf7107f1a10" x="258.81" y="338.54" style="fill-opacity: 0; stroke: #000000"/>
<use href="#mf7107f1a10" x="258.81" y="344.49" style="fill-opacity: 0; stroke: #000000"/>
<use href="#mf7107f1a10" x="258.81" y="345.66" style="fill-opacity: 0; stroke: #000000"/>
<use href="#mf7107f1a10" x="258.81" y="342.27" style="fill-opacity: 0; stroke: #000000"/>
<use href="#mf7107f1a10" x="258.81" y="346.26" style="fill-opacity: 0; stroke: #000000"/>
<use href="#mf7107f1a10" x="258.81" y="346.88" style="fill-opacity: 0; stroke: #000000"/>
<use href="#mf7107f1a10" x="258.81" y="345.28" style="fill-opacity: 0; stroke: #000000"/>
<use href="#mf7107f1a10" x="258.81" y="344.49" style="fill-opacity: 0; stroke: #000000"/>
<use href="#mf7107f1a10" x="258.81" y="346.62" style="fill-opacity: 0; stroke: #000000"/>
<use href="#mf7107f1a10" x="258.81" y="342.27" style="fill-opacity: 0; stroke: #000000"/>
<use href="#mf7107f1a10" x="258.81" y="346.54" style="fill-opacity: 0; stroke: #000000"/>
<use href="#mf7107f1a10" x="258.81" y="345.10" style="fill-opacity: 0; stroke: #000000"/>
<use href="#mf7107f1a10" x="258.81" y="341.74" style="fill-opacity: 0; stroke: #000000"/>
<use href="#mf7107f1a10" x="258.81" y="318.48" style="fill-opacity: 0; stroke: #000000"/>
<use href="#mf7107f1a10" x="258.81" y="346.47" style="fill-opacity: 0; stroke: #000000"/>
<use href="#mf7107f1a10" x="258.81" y="346.61" style="fill-opacity: 0; stroke: #000000"/>
<use href="#mf7107f1a10" x="258.81" y="347.29" style="fill-opacity: 0; stroke: #000000"/>
<use href="#mf7107f1a10" x="258.81" y="337.79" style="fill-opacity: 0; stroke: #000000"/>
<use href="#mf7107f1a10" x="258.81" y="341.74" style="fill-opacity: 0; stroke: #000000"/>
<use href="#mf7107f1a10" x="258.81" y="346.25" style="fill-opacity: 0; stroke: #000000"/>
<use href="#mf7107f1a10" x="258.81" y="339.92" style="fill-opacity: 0; stroke: #000000"/>
<use href="#mf7107f1a10" x="258.81" y="341.74" style="fill-opacity: 0; stroke: #000000"/>
<use href="#mf7107f1a10" x="258.81" y="340.67" style="fill-opacity: 0; stroke: #000000"/>
<use href="#mf7107f1a10" x="258.81" y="342.27" style="fill-opacity: 0; stroke: #000000"/>
<use href="#mf7107f1a10" x="258.81" y="338.00" style="fill-opacity: 0; stroke: #000000"/>
<use href="#mf7107f1a10" x="258.81" y="344.93" style="fill-opacity: 0; stroke: #000000"/>
<use href="#mf7107f1a10" x="258.81" y="343.87" style="fill-opacity: 0; stroke: #000000"/>
<use href="#mf7107f1a10" x="258.81" y="324.46" style="fill-opacity: 0; stroke: #000000"/>
<use href="#mf7107f1a10" x="258.81" y="332.14" style="fill-opacity: 0; stroke: #000000"/>
<use href="#mf7107f1a10" x="258.81" y="343.02" style="fill-opacity: 0; stroke: #000000"/>
<use href="#mf7107f1a10" x="258.81" y="331.39" style="fill-opacity: 0; stroke: #000000"/>
<use href="#mf7107f1a10" x="258.81" y="344.40" style="fill-opacity: 0; stroke: #000000"/>
<use href="#mf7107f1a10" x="258.81" y="346.55" style="fill-opacity: 0; stroke: #000000"/>
<use href="#mf7107f1a10" x="258.81" y="343.87" style="fill-opacity: 0; stroke: #000000"/>
<use href="#mf7107f1a10" x="258.81" y="347.09" style="fill-opacity: 0; stroke: #000000"/>
<use href="#mf7107f1a10" x="258.81" y="346.23" style="fill-opacity: 0; stroke: #000000"/>
<use href="#mf7107f1a10" x="258.81" y="346.27" style="fill-opacity: 0; stroke: #000000"/>
<use href="#mf7107f1a10" x="258.81" y="339.39" style="fill-opacity: 0; stroke: #000000"/>
<use href="#mf7107f1a10" x="258.81" y="339.60" style="fill-opacity: 0; stroke: #000000"/>
<use href="#mf7107f1a10" x="258.81" y="339.02" style="fill-opacity: 0; stroke: #000000"/>
<use href="#mf7107f1a10" x="258.81" y="342.63" style="fill-opacity: 0; stroke: #000000"/>
<use href="#mf7107f1a10" x="258.81" y="345.79" style="fill-opacity: 0; stroke: #000000"/>
<use href="#mf7107f1a10" x="258.81" y="346.54" style="fill-opacity: 0; stroke: #000000"/>
<use href="#mf7107f1a10" x="258.81" y="345.85" style="fill-opacity: 0; stroke: #000000"/>
<use href="#mf7107f1a10" x="258.81" y="341.91" style="fill-opacity: 0; stroke: #000000"/>
<use href="#mf7107f1a10" x="258.81" y="338.54" style="fill-opacity: 0; stroke: #000000"/>
<use href="#mf7107f1a10" x="258.81" y="328.19" style="fill-opacity: 0; stroke: #000000"/>
<use href="#mf7107f1a10" x="258.81" y="339.60" style="fill-opacity: 0; stroke: #000000"/>
<use href="#mf7107f1a10" x="258.81" y="345.47" style="fill-opacity: 0; stroke: #000000"/>
<use href="#mf7107f1a10" x="258.81" y="344.19" style="fill-opacity: 0; stroke: #000000"/>
<use href="#mf7107f1a10" x="258.81" y="346.30" style="fill-opacity: 0; stroke: #000000"/>
<use href="#mf7107f1a10" x="258.81" y="347.22" style="fill-opacity: 0; stroke: #000000"/>
<use href="#mf7107f1a10" x="258.81" y="343.55" style="fill-opacity: 0; stroke: #000000"/>
<use href="#mf7107f1a10" x="258.81" y="347.37" style="fill-opacity: 0; stroke: #000000"/>
<use href="#mf7107f1a10" x="258.81" y="336.62" style="fill-opacity: 0; stroke: #000000"/>
<use href="#mf7107f1a10" x="258.81" y="345.00" style="fill-opacity: 0; stroke: #000000"/>
<use href="#mf7107f1a10" x="258.81" y="339.82" style="fill-opacity: 0; stroke: #000000"/>
<use href="#mf7107f1a10" x="258.81" y="347.26" style="fill-opacity: 0; stroke: #000000"/>
<use href="#mf7107f1a10" x="258.81" y="341.42" style="fill-opacity: 0; stroke: #000000"/>
<use href="#mf7107f1a10" x="258.81" y="346.54" style="fill-opacity: 0; stroke: #000000"/>
<use href="#mf7107f1a10" x="258.81" y="345.73" style="fill-opacity: 0; stroke: #000000"/>
<use href="#mf7107f1a10" x="258.81" y="344.94" style="fill-opacity: 0; stroke: #000000"/>
<use href="#mf7107f1a10" x="258.81" y="345.74" style="fill-opacity: 0; stroke: #000000"/>
<use href="#mf7107f1a10" x="258.81" y="329.47" style="fill-opacity: 0; stroke: #000000"/>
<use href="#mf7107f1a10" x="258.81" y="339.60" style="fill-opacity: 0; stroke: #000000"/>
<use href="#mf7107f1a10" x="258.81" y="345.79" style="fill-opacity: 0; stroke: #000000"/>
<use href="#mf7107f1a10" x="258.81" y="342.71" style="fill-opacity: 0; stroke: #000000"/>
<use href="#mf7107f1a10" x="258.81" y="413.20" style="fill-opacity: 0; stroke: #000000"/>
<use href="#mf7107f1a10" x="258.81" y="380.07" style="fill-opacity: 0; stroke: #000000"/>
<use href="#mf7107f1a10" x="258.81" y="374.94" style="fill-opacity: 0; stroke: #000000"/>
<use href="#mf7107f1a10" x="258.81" y="375.11" style="fill-opacity: 0; stroke: #000000"/>
<use href="#mf7107f1a10" x="258.81" y="377.52" style="fill-opacity: 0; stroke: #000000"/>
<use href="#mf7107f1a10" x="258.81" y="375.98" style="fill-opacity: 0; stroke: #000000"/>
<use href="#mf7107f1a10" x="258.81" y="372.35" style="fill-opacity: 0; stroke: #000000"/>
<use href="#mf7107f1a10" x="258.81" y="372.71" style="fill-opacity: 0; stroke: #000000"/>
<use href="#mf7107f1a10" x="258.81" y="375.98" style="fill-opacity: 0; stroke: #000000"/>
<use href="#mf7107f1a10" x="258.81" y="379.92" style="fill-opacity: 0; stroke: #000000"/>
<use href="#mf7107f1a10" x="258.81" y="371.84" style="fill-opacity: 0; stroke: #000000"/>
<use href="#mf7107f1a10" x="258.81" y="379.71" style="fill-opacity: 0; stroke: #000000"/>
<use href="#mf7107f1a10" x="258.81" y="372.62" style="fill-opacity: 0; stroke: #000000"/>
<use href="#mf7107f1a10" x="258.81" y="377.75" style="fill-opacity: 0; stroke: #000000"/>
<use href="#mf7107f1a10" x="258.81" y="378.47" style="fill-opacity: 0; stroke: #000000"/>
<use href="#mf7107f1a10" x="258.81" y="372.43" style="fill-opacity: 0; stroke: #000000"/>
<use href="#mf7107f1a10" x="258.81" y="372.26" style="fill-opacity: 0; stroke: #000000"/>
<use href="#mf7107f1a10" x="258.81" y="375.04" style="fill-opacity: 0; stroke: #000000"/>
<use href="#mf7107f1a10" x="258.81" y="373.61" style="fill-opacity: 0; stroke: #000000"/>
<use href="#mf7107f1a10" x="258.81" y="387.60" style="fill-opacity: 0; stroke: #000000"/>
<use href="#mf7107f1a10" x="258.81" y="381.12" style="fill-opacity: 0; stroke: #000000"/>
<use href="#mf7107f1a10" x="258.81" y="374.38" style="fill-opacity: 0; stroke: #000000"/>
<use href="#mf7107f1a10" x="258.81" y="371.86" style="fill-opacity: 0; stroke: #000000"/>
<use href="#mf7107f1a10" x="258.81" y="373.14" style="fill-opacity: 0; stroke: #000000"/>
<use href="#mf7107f1a10" x="258.81" y="396.45" style="fill-opacity: 0; stroke: #000000"/>
<use href="#mf7107f1a10" x="258.81" y="375.86" style="fill-opacity: 0; stroke: #000000"/>
<use href="#mf7107f1a10" x="258.81" y="373.20" style="fill-opacity: 0; stroke: #000000"/>
<use href="#mf7107f1a10" x="258.81" y="373.15" style="fill-opacity: 0; stroke: #000000"/>
<use href="#mf7107f1a10" x="258.81" y="373.95" style="fill-opacity: 0; stroke: #000000"/>
<use href="#mf7107f1a10" x="258.81" y="378.81" style="fill-opacity: 0; stroke: #000000"/>
<use href="#mf7107f1a10" x="258.81" y="379.07" style="fill-opacity: 0; stroke: #000000"/>
<use href="#mf7107f1a10" x="258.81" y="374.46" style="fill-opacity: 0; stroke: #000000"/>
<use href="#mf7107f1a10" x="258.81" y="372.46" style="fill-opacity: 0; stroke: #000000"/>
<use href="#mf7107f1a10" x="258.81" y="372.97" style="fill-opacity: 0; stroke: #000000"/>
<use href="#mf7107f1a10" x="258.81" y="372.57" style="fill-opacity: 0; stroke: #000000"/>
<use href="#mf7107f1a10" x="258.81" y="372.33" style="fill-opacity: 0; stroke: #000000"/>
<use href="#mf7107f1a10" x="258.81" y="375.65" style="fill-opacity: 0; stroke: #000000"/>
<use href="#mf7107f1a10" x="258.81" y="381.55" style="fill-opacity: 0; stroke: #000000"/>
<use href="#mf7107f1a10" x="258.81" y="374.61" style="fill-opacity: 0; stroke: #000000"/>
<use href="#mf7107f1a10" x="258.81" y="381.77" style="fill-opacity: 0; stroke: #000000"/>
<use href="#mf7107f1a10" x="258.81" y="387.60" style="fill-opacity: 0; stroke: #000000"/>
<use href="#mf7107f1a10" x="258.81" y="375.79" style="fill-opacity: 0; stroke: #000000"/>
<use href="#mf7107f1a10" x="258.81" y="376.70" style="fill-opacity: 0; stroke: #000000"/>
<use href="#mf7107f1a10" x="258.81" y="372.76" style="fill-opacity: 0; stroke: #000000"/>
<use href="#mf7107f1a10" x="258.81" y="387.07" style="fill-opacity: 0; stroke: #000000"/>
<use href="#mf7107f1a10" x="258.81" y="372.42" style="fill-opacity: 0; stroke: #000000"/>
<use href="#mf7107f1a10" x="258.81" y="375.31" style="fill-opacity: 0; stroke: #000000"/>
<use href="#mf7107f1a10" x="258.81" y="373.04" style="fill-opacity: 0; stroke: #000000"/>
<use href="#mf7107f1a10" x="258.81" y="377.57" style="fill-opacity: 0; stroke: #000000"/>
<use href="#mf7107f1a10" x="258.81" y="372.10" style="fill-opacity: 0; stroke: #000000"/>
<use href="#mf7107f1a10" x="258.81" y="380.13" style="fill-opacity: 0; stroke: #000000"/>
<use href="#mf7107f1a10" x="258.81" y="372.71" style="fill-opacity: 0; stroke: #000000"/>
<use href="#mf7107f1a10" x="258.81" y="375.63" style="fill-opacity: 0; stroke: #000000"/>
<use href="#mf7107f1a10" x="258.81" y="377.54" style="fill-opacity: 0; stroke: #000000"/>
<use href="#mf7107f1a10" x="258.81" y="387.60" style="fill-opacity: 0; stroke: #000000"/>
<use href="#mf7107f1a10" x="258.81" y="378.76" style="fill-opacity: 0; stroke: #000000"/>
<use href="#mf7107f1a10" x="258.81" y="379.02" style="fill-opacity: 0; stroke: #000000"/>
<use href="#mf7107f1a10" x="258.81" y="376.12" style="fill-opacity: 0; stroke: #000000"/>
<use href="#mf7107f1a10" x="258.81" y="379.23" style="fill-opacity: 0; stroke: #000000"/>
<use href="#mf7107f1a10" x="258.81" y="376.88" style="fill-opacity: 0; stroke: #000000"/>
<use href="#mf7107f1a10" x="258.81" y="373.47" style="fill-opacity: 0; stroke: #000000"/>
<use href="#mf7107f1a10" x="258.81" y="372.36" style="fill-opacity: 0; stroke: #000000"/>
<use href="#mf7107f1a10" x="258.81" y="378.44" style="fill-opacity: 0; stroke: #000000"/>
<use href="#mf7107f1a10" x="258.81" y="372.75" style="fill-opacity: 0; stroke: #000000"/>
<use href="#mf7107f1a10" x="258.81" y="372.78" style="fill-opacity: 0; stroke: #000000"/>
<use href="#mf7107f1a10" x="258.81" y="373.70" style="fill-opacity: 0; stroke: #000000"/>
<use href="#mf7107f1a10" x="258.81" y="372.76" style="fill-opacity: 0; stroke: #000000"/>
<use href="#mf7107f1a10" x="258.81" y="372.19" style="fill-opacity: 0; stroke: #000000"/>
<use href="#mf7107f1a10" x="258.81" y="383.84" style="fill-opacity: 0; stroke: #000000"/>
<use href="#mf7107f1a10" x="258.81" y="374.44" style="fill-opacity: 0; stroke: #000000"/>
<use href="#mf7107f1a10" x="258.81" y="371.70" style="fill-opacity: 0; stroke: #000000"/>
<use href="#mf7107f1a10" x="258.81" y="374.36" style="fill-opacity: 0; stroke: #000000"/>
<use href="#mf7107f1a10" x="258.81" y="374.27" style="fill-opacity: 0; stroke: #000000"/>
<use href="#mf7107f1a10" x="258.81" y="377.92" style="fill-opacity: 0; stroke: #000000"/>
<use href="#mf7107f1a10" x="258.81" y="376.12" style="fill-opacity: 0; stroke: #000000"/>
<use href="#mf7107f1a10" x="258.81" y="375.70" style="fill-opacity: 0; stroke: #000000"/>
<use href="#mf7107f1a10" x="258.81" y="374.29" style="fill-opacity: 0; stroke: #000000"/>
<use href="#mf7107f1a10" x="258.81" y="372.84" style="fill-opacity: 0; stroke: #000000"/>
<use href="#mf7107f1a10" x="258.81" y="373.29" style="fill-opacity: 0; stroke: #000000"/>
<use href="#mf7107f1a10" x="258.81" y="372.73" style="fill-opacity: 0; stroke: #000000"/>
<use href="#mf7107f1a10" x="258.81" y="393.46" style="fill-opacity: 0; stroke: #000000"/>
<use href="#mf7107f1a10" x="258.81" y="372.87" style="fill-opacity: 0; stroke: #000000"/>
<use href="#mf7107f1a10" x="258.81" y="373.53" style="fill-opacity: 0; stroke: #000000"/>
<use href="#mf7107f1a10" x="258.81" y="375.30" style="fill-opacity: 0; stroke: #000000"/>
<use href="#mf7107f1a10" x="258.81" y="371.98" style="fill-opacity: 0; stroke: #000000"/>
<use href="#mf7107f1a10" x="258.81" y="413.20" style="fill-opacity: 0; stroke: #000000"/>
<use href="#mf7107f1a10" x="258.81" y="375.87" style="fill-opacity: 0; stroke: #000000"/>
<use href="#mf7107f1a10" x="258.81" y="376.70" style="fill-opacity: 0; stroke: #000000"/>
<use href="#mf7107f1a10" x="258.81" y="373.00" style="fill-opacity: 0; stroke: #000000"/>
<use href="#mf7107f1a10" x="258.81" y="379.92" style="fill-opacity: 0; stroke: #000000"/>
<use href="#mf7107f1a10" x="258.81" y="417.68" style="fill-opacity: 0; stroke: #000000"/>
<use href="#mf7107f1a10" x="258.81" y="398.26" style="fill-opacity: 0; stroke: #000000"/>
<use href="#mf7107f1a10" x="258.81" y="375.54" style="fill-opacity: 0; stroke: #000000"/>
<use href="#mf7107f1a10" x="258.81" y="386.32" style="fill-opacity: 0; stroke: #000000"/>
<use href="#mf7107f1a10" x="258.81" y="446.79" style="fill-opacity: 0; stroke: #000000"/>
<use href="#mf7107f1a10" x="258.81" y="377.48" style="fill-opacity: 0; stroke: #000000"/>
<use href="#mf7107f1a10" x="258.81" y="379.07" style="fill-opacity: 0; stroke: #000000"/>
<use href="#mf7107f1a10" x="258.81" y="372.27" style="fill-opacity: 0; stroke: #000000"/>
<use href="#mf7107f1a10" x="258.81" y="400.93" style="fill-opacity: 0; stroke: #000000"/>
<use href="#mf7107f1a10" x="258.81" y="371.71" style="fill-opacity: 0; stroke: #000000"/>
<use href="#mf7107f1a10" x="258.81" y="372.88" style="fill-opacity: 0; stroke: #000000"/>
<use href="#mf7107f1a10" x="258.81" y="373.78" style="fill-opacity: 0; stroke: #000000"/>
<use href="#mf7107f1a10" x="258.81" y="372.43" style="fill-opacity: 0; stroke: #000000"/>
<use href="#mf7107f1a10" x="258.81" y="373.73" style="fill-opacity: 0; stroke: #000000"/>
<use href="#mf7107f1a10" x="258.81" y="448.93" style="fill-opacity: 0; stroke: #000000"/>
<use href="#mf7107f1a10" x="258.81" y="372.70" style="fill-opacity: 0; stroke: #000000"/>
<use href="#mf7107f1a10" x="258.81" y="372.11" style="fill-opacity: 0; stroke: #000000"/>
<use href="#mf7107f1a10" x="258.81" y="391.86" style="fill-opacity: 0; stroke: #000000"/>
<use href="#mf7107f1a10" x="258.81" y="373.66" style="fill-opacity: 0; stroke: #000000"/>
<use href="#mf7107f1a10" x="258.81" y="373.96" style="fill-opacity: 0; stroke: #000000"/>
<use href="#mf7107f1a10" x="258.81" y="372.88" style="fill-opacity: 0; stroke: #000000"/>
<use href="#mf7107f1a10" x="258.81" y="374.19" style="fill-opacity: 0; stroke: #000000"/>
<use href="#mf7107f1a10" x="258.81" y="372.09" style="fill-opacity: 0; stroke: #000000"/>
<use href="#mf7107f1a10" x="258.81" y="372.69" style="fill-opacity: 0; stroke: #000000"/>
<use href="#mf7107f1a10" x="258.81" y="387.39" style="fill-opacity: 0; stroke: #000000"/>
<use href="#mf7107f1a10" x="258.81" y="372.42" style="fill-opacity: 0; stroke: #000000"/>
<use href="#mf7107f1a10" x="258.81" y="381.87" style="fill-opacity: 0; stroke: #000000"/>
<use href="#mf7107f1a10" x="258.81" y="382.80" style="fill-opacity: 0; stroke: #000000"/>
<use href="#mf7107f1a10" x="258.81" y="377.46" style="fill-opacity: 0; stroke: #000000"/>
<use href="#mf7107f1a10" x="258.81" y="371.69" style="fill-opacity: 0; stroke: #000000"/>
<use href="#mf7107f1a10" x="258.81" y="372.21" style="fill-opacity: 0; stroke: #000000"/>
<use href="#mf7107f1a10" x="258.81" y="382.54" style="fill-opacity: 0; stroke: #000000"/>
<use href="#mf7107f1a10" x="258.81" y="372.81" style="fill-opacity: 0; stroke: #000000"/>
<use href="#mf7107f1a10" x="258.81" y="371.95" style="fill-opacity: 0; stroke: #000000"/>
<use href="#mf7107f1a10" x="258.81" y="396.13" style="fill-opacity: 0; stroke: #000000"/>
<use href="#mf7107f1a10" x="258.81" y="382.27" style="fill-opacity: 0; stroke: #000000"/>
<use href="#mf7107f1a10" x="258.81" y="374.58" style="fill-opacity: 0; stroke: #000000"/>
<use href="#mf7107f1a10" x="258.81" y="375.61" style="fill-opacity: 0; stroke: #000000"/>
<use href="#mf7107f1a10" x="258.81" y="376.93" style="fill-opacity: 0; stroke: #000000"/>
<use href="#mf7107f1a10" x="258.81" y="371.93" style="fill-opacity: 0; stroke: #000000"/>
<use href="#mf7107f1a10" x="258.81" y="380.52" style="fill-opacity: 0; stroke: #000000"/>
<use href="#mf7107f1a10" x="258.81" y="374.96" style="fill-opacity: 0; stroke: #000000"/>
<use href="#mf7107f1a10" x="258.81" y="469.19" style="fill-opacity: 0; stroke: #000000"/>
<use href="#mf7107f1a10" x="258.81" y="372.52" style="fill-opacity: 0; stroke: #000000"/>
<use href="#mf7107f1a10" x="258.81" y="372.24" style="fill-opacity: 0; stroke: #000000"/>
<use href="#mf7107f1a10" x="258.81" y="377.64" style="fill-opacity: 0; stroke: #000000"/>
<use href="#mf7107f1a10" x="258.81" y="374.49" style="fill-opacity: 0; stroke: #000000"/>
<use href="#mf7107f1a10" x="258.81" y="374.44" style="fill-opacity: 0; stroke: #000000"/>
<use href="#mf7107f1a10" x="258.81" y="372.00" style="fill-opacity: 0; stroke: #000000"/>
<use href="#mf7107f1a10" x="258.81" y="390.26" style="fill-opacity: 0; stroke: #000000"/>
<use href="#mf7107f1a10" x="258.81" y="372.76" style="fill-opacity: 0; stroke: #000000"/>
<use href="#mf7107f1a10" x="258.81" y="371.93" style="fill-opacity: 0; stroke: #000000"/>
<use href="#mf7107f1a10" x="258.81" y="372.90" style="fill-opacity: 0; stroke: #000000"/>
<use href="#mf7107f1a10" x="258.81" y="374.26" style="fill-opacity: 0; stroke: #000000"/>
<use href="#mf7107f1a10" x="258.81" y="371.73" style="fill-opacity: 0; stroke: #000000"/>
<use href="#mf7107f1a10" x="258.81" y="373.41" style="fill-opacity: 0; stroke: #000000"/>
<use href="#mf7107f1a10" x="258.81" y="379.92" style="fill-opacity: 0; stroke: #000000"/>
<use href="#mf7107f1a10" x="258.81" y="372.25" style="fill-opacity: 0; stroke: #000000"/>
<use href="#mf7107f1a10" x="258.81" y="372.12" style="fill-opacity: 0; stroke: #000000"/>
<use href="#mf7107f1a10" x="258.81" y="373.88" style="fill-opacity: 0; stroke: #000000"/>
<use href="#mf7107f1a10" x="258.81" y="374.24" style="fill-opacity: 0; stroke: #000000"/>
<use href="#mf7107f1a10" x="258.81" y="371.70" style="fill-opacity: 0; stroke: #000000"/>
<use href="#mf7107f1a10" x="258.81" y="374.15" style="fill-opacity: 0; stroke: #000000"/>
<use href="#mf7107f1a10" x="258.81" y="372.55" style="fill-opacity: 0; stroke: #000000"/>
<use href="#mf7107f1a10" x="258.81" y="379.60" style="fill-opacity: 0; stroke: #000000"/>
<use href="#mf7107f1a10" x="258.81" y="383.52" style="fill-opacity: 0; stroke: #000000"/>
<use href="#mf7107f1a10" x="258.81" y="371.70" style="fill-opacity: 0; stroke: #000000"/>
<use href="#mf7107f1a10" x="258.81" y="373.35" style="fill-opacity: 0; stroke: #000000"/>
<use href="#mf7107f1a10" x="258.81" y="371.81" style="fill-opacity: 0; stroke: #000000"/>
<use href="#mf7107f1a10" x="258.81" y="371.99" style="fill-opacity: 0; stroke: #000000"/>
<use href="#mf7107f1a10" x="258.81" y="372.70" style="fill-opacity: 0; stroke: #000000"/>
<use href="#mf7107f1a10" x="258.81" y="374.05" style="fill-opacity: 0; stroke: #000000"/>
<use href="#mf7107f1a10" x="258.81" y="373.08" style="fill-opacity: 0; stroke: #000000"/>
<use href="#mf7107f1a10" x="258.81" y="376.60" style="fill-opacity: 0; stroke: #000000"/>
<use href="#mf7107f1a10" x="258.81" y="371.67" style="fill-opacity: 0; stroke: #000000"/>
<use href="#mf7107f1a10" x="258.81" y="377.15" style="fill-opacity: 0; stroke: #000000"/>
<use href="#mf7107f1a10" x="258.81" y="376.42" style="fill-opacity: 0; stroke: #000000"/>
<use href="#mf7107f1a10" x="258.81" y="371.77" style="fill-opacity: 0; stroke: #000000"/>
<use href="#mf7107f1a10" x="258.81" y="371.68" style="fill-opacity: 0; stroke: #000000"/>
<use href="#mf7107f1a10" x="258.81" y="371.80" style="fill-opacity: 0; stroke: #000000"/>
<use href="#mf7107f1a10" x="258.81" y="372.07" style="fill-opacity: 0; stroke: #000000"/>
<use href="#mf7107f1a10" x="258.81" y="372.61" style="fill-opacity: 0; stroke: #000000"/>
<use href="#mf7107f1a10" x="258.81" y="373.47" style="fill-opacity: 0; stroke: #000000"/>
<use href="#mf7107f1a10" x="258.81" y="372.58" style="fill-opacity: 0; stroke: #000000"/>
<use href="#mf7107f1a10" x="258.81" y="388.13" style="fill-opacity: 0; stroke: #000000"/>
<use href="#mf7107f1a10" x="258.81" y="371.91" style="fill-opacity: 0; stroke: #000000"/>
<use href="#mf7107f1a10" x="258.81" y="371.68" style="fill-opacity: 0; stroke: #000000"/>
<use href="#mf7107f1a10" x="258.81" y="404.13" style="fill-opacity: 0; stroke: #000000"/>
<use href="#mf7107f1a10" x="258.81" y="371.73" style="fill-opacity: 0; stroke: #000000"/>
<use href="#mf7107f1a10" x="258.81" y="372.20" style="fill-opacity: 0; stroke: #000000"/>
<use href="#mf7107f1a10" x="258.81" y="372.16" style="fill-opacity: 0; stroke: #000000"/>
<use href="#mf7107f1a10" x="258.81" y="371.95" style="fill-opacity: 0; stroke: #000000"/>
<use href="#mf7107f1a10" x="258.81" y="371.88" style="fill-opacity: 0; stroke: #000000"/>
<use href="#mf7107f1a10" x="258.81" y="374.80" style="fill-opacity: 0; stroke: #000000"/>
<use href="#mf7107f1a10" x="258.81" y="371.91" style="fill-opacity: 0; stroke: #000000"/>
<use href="#mf7107f1a10" x="258.81" y="373.24" style="fill-opacity: 0; stroke: #000000"/>
<use href="#mf7107f1a10" x="258.81" y="372.56" style="fill-opacity: 0; stroke: #000000"/>
<use href="#mf7107f1a10" x="258.81" y="372.23" style="fill-opacity: 0; stroke: #000000"/>
<use href="#mf7107f1a10" x="258.81" y="371.82" style="fill-opacity: 0; stroke: #000000"/>
<use href="#mf7107f1a10" x="258.81" y="372.05" style="fill-opacity: 0; stroke: #000000"/>
<use href="#mf7107f1a10" x="258.81" y="372.08" style="fill-opacity: 0; stroke: #000000"/>
<use href="#mf7107f1a10" x="258.81" y="372.11" style="fill-opacity: 0; stroke: #000000"/>
<use href="#mf7107f1a10" x="258.81" y="376.72" style="fill-opacity: 0; stroke: #000000"/>
<use href="#mf7107f1a10" x="258.81" y="374.15" style="fill-opacity: 0; stroke: #000000"/>
<use href="#mf7107f1a10" x="258.81" y="371.70" style="fill-opacity: 0; stroke: #000000"/>
<use href="#mf7107f1a10" x="258.81" y="372.13" style="fill-opacity: 0; stroke: #000000"/>
<use href="#mf7107f1a10" x="258.81" y="371.78" style="fill-opacity: 0; stroke: #000000"/>
<use href="#mf7107f1a10" x="258.81" y="374.86" style="fill-opacity: 0; stroke: #000000"/>
<use href="#mf7107f1a10" x="258.81" y="374.55" style="fill-opacity: 0; stroke: #000000"/>
<use href="#mf7107f1a10" x="258.81" y="373.38" style="fill-opacity: 0; stroke: #000000"/>
<use href="#mf7107f1a10" x="258.81" y="371.79" style="fill-opacity: 0; stroke: #000000"/>
<use href="#mf7107f1a10" x="258.81" y="372.33" style="fill-opacity: 0; stroke: #000000"/>
<use href="#mf7107f1a10" x="258.81" y="378.53" style="fill-opacity: 0; stroke: #000000"/>
<use href="#mf7107f1a10" x="258.81" y="371.85" style="fill-opacity: 0; stroke: #000000"/>
<use href="#mf7107f1a10" x="258.81" y="376.54" style="fill-opacity: 0; stroke: #000000"/>
<use href="#mf7107f1a10" x="258.81" y="371.85" style="fill-opacity: 0; stroke: #000000"/>
<use href="#mf7107f1a10" x="258.81" y="372.20" style="fill-opacity: 0; stroke: #000000"/>
<use href="#mf7107f1a10" x="258.81" y="393.46" style="fill-opacity: 0; stroke: #000000"/>
<use href="#mf7107f1a10" x="258.81" y="372.12" style="fill-opacity: 0; stroke: #000000"/>
<use href="#mf7107f1a10" x="258.81" y="391.01" style="fill-opacity: 0; stroke: #000000"/>
<use href="#mf7107f1a10" x="258.81" y="372.30" style="fill-opacity: 0; stroke: #000000"/>
<use href="#mf7107f1a10" x="258.81" y="372.22" style="fill-opacity: 0; stroke: #000000"/>
<use href="#mf7107f1a10" x="258.81" y="372.08" style="fill-opacity: 0; stroke: #000000"/>
<use href="#mf7107f1a10" x="258.81" y="371.70" style="fill-opacity: 0; stroke: #000000"/>
<use href="#mf7107f1a10" x="258.81" y="376.39" style="fill-opacity: 0; stroke: #000000"/>
<use href="#mf7107f1a10" x="258.81" y="371.82" style="fill-opacity: 0; stroke: #000000"/>
<use href="#mf7107f1a10" x="258.81" y="373.53" style="fill-opacity: 0; stroke: #000000"/>
<use href="#mf7107f1a10" x="258.81" y="372.11" style="fill-opacity: 0; stroke: #000000"/>
<use href="#mf7107f1a10" x="258.81" y="371.86" style="fill-opacity: 0; stroke: #000000"/>
<use href="#mf7107f1a10" x="258.81" y="373.32" style="fill-opacity: 0; stroke: #000000"/>
<use href="#mf7107f1a10" x="258.81" y="379.60" style="fill-opacity: 0; stroke: #000000"/>
<use href="#mf7107f1a10" x="258.81" y="371.74" style="fill-opacity: 0; stroke: #000000"/>
<use href="#mf7107f1a10" x="258.81" y="373.37" style="fill-opacity: 0; stroke: #000000"/>
<use href="#mf7107f1a10" x="258.81" y="375.12" style="fill-opacity: 0; stroke: #000000"/>
<use href="#mf7107f1a10" x="258.81" y="372.34" style="fill-opacity: 0; stroke: #000000"/>
<use href="#mf7107f1a10" x="258.81" y="372.32" style="fill-opacity: 0; stroke: #000000"/>
<use href="#mf7107f1a10" x="258.81" y="383.73" style="fill-opacity: 0; stroke: #000000"/>
<use href="#mf7107f1a10" x="258.81" y="375.85" style="fill-opacity: 0; stroke: #000000"/>
<use href="#mf7107f1a10" x="258.81" y="375.77" style="fill-opacity: 0; stroke: #000000"/>
<use href="#mf7107f1a10" x="258.81" y="372.09" style="fill-opacity: 0; stroke: #000000"/>
<use href="#mf7107f1a10" x="258.81" y="372.26" style="fill-opacity: 0; stroke: #000000"/>
<use href="#mf7107f1a10" x="258.81" y="372.05" style="fill-opacity: 0; stroke: #000000"/>
<use href="#mf7107f1a10" x="258.81" y="417.46" style="fill-opacity: 0; stroke: #000000"/>
<use href="#mf7107f1a10" x="258.81" y="372.84" style="fill-opacity: 0; stroke: #000000"/>
<use href="#mf7107f1a10" x="258.81" y="375.70" style="fill-opacity: 0; stroke: #000000"/>
<use href="#mf7107f1a10" x="258.81" y="372.42" style="fill-opacity: 0; stroke: #000000"/>
<use href="#mf7107f1a10" x="258.81" y="371.92" style="fill-opacity: 0; stroke: #000000"/>
<use href="#mf7107f1a10" x="258.81" y="391.12" style="fill-opacity: 0; stroke: #000000"/>
<use href="#mf7107f1a10" x="258.81" y="374.94" style="fill-opacity: 0; stroke: #000000"/>
<use href="#mf7107f1a10" x="258.81" y="373.62" style="fill-opacity: 0; stroke: #000000"/>
<use href="#mf7107f1a10" x="258.81" y="372.20" style="fill-opacity: 0; stroke: #000000"/>
<use href="#mf7107f1a10" x="258.81" y="373.20" style="fill-opacity: 0; stroke: #000000"/>
<use href="#mf7107f1a10" x="258.81" y="380.88" style="fill-opacity: 0; stroke: #000000"/>
<use href="#mf7107f1a10" x="258.81" y="374.83" style="fill-opacity: 0; stroke: #000000"/>
<use href="#mf7107f1a10" x="258.81" y="373.15" style="fill-opacity: 0; stroke: #000000"/>
<use href="#mf7107f1a10" x="258.81" y="372.66" style="fill-opacity: 0; stroke: #000000"/>
<use href="#mf7107f1a10" x="258.81" y="379.07" style="fill-opacity: 0; stroke: #000000"/>
<use href="#mf7107f1a10" x="258.81" y="372.39" style="fill-opacity: 0; stroke: #000000"/>
<use href="#mf7107f1a10" x="258.81" y="372.74" style="fill-opacity: 0; stroke: #000000"/>
<use href="#mf7107f1a10" x="258.81" y="373.43" style="fill-opacity: 0; stroke: #000000"/>
<use href="#mf7107f1a10" x="258.81" y="373.14" style="fill-opacity: 0; stroke: #000000"/>
<use href="#mf7107f1a10" x="258.81" y="371.72" style="fill-opacity: 0; stroke: #000000"/>
<use href="#mf7107f1a10" x="258.81" y="379.73" style="fill-opacity: 0; stroke: #000000"/>
<use href="#mf7107f1a10" x="258.81" y="374.08" style="fill-opacity: 0; stroke: #000000"/>
<use href="#mf7107f1a10" x="258.81" y="378.99" style="fill-opacity: 0; stroke: #000000"/>
<use href="#mf7107f1a10" x="258.81" y="371.74" style="fill-opacity: 0; stroke: #000000"/>
<use href="#mf7107f1a10" x="258.81" y="371.93" style="fill-opacity: 0; stroke: #000000"/>
<use href="#mf7107f1a10" x="258.81" y="388.13" style="fill-opacity: 0; stroke: #000000"/>
<use href="#mf7107f1a10" x="258.81" y="371.68" style="fill-opacity: 0; stroke: #000000"/>
<use href="#mf7107f1a10" x="258.81" y="371.75" style="fill-opacity: 0; stroke: #000000"/>
<use href="#mf7107f1a10" x="258.81" y="379.17" style="fill-opacity: 0; stroke: #000000"/>
<use href="#mf7107f1a10" x="258.81" y="371.78" style="fill-opacity: 0; stroke: #000000"/>
<use href="#mf7107f1a10" x="258.81" y="376.67" style="fill-opacity: 0; stroke: #000000"/>
<use href="#mf7107f1a10" x="258.81" y="380.94" style="fill-opacity: 0; stroke: #000000"/>
<use href="#mf7107f1a10" x="258.81" y="378.00" style="fill-opacity: 0; stroke: #000000"/>
<use href="#mf7107f1a10" x="258.81" y="371.82" style="fill-opacity: 0; stroke: #000000"/>
<use href="#mf7107f1a10" x="258.81" y="373.85" style="fill-opacity: 0; stroke: #000000"/>
<use href="#mf7107f1a10" x="258.81" y="371.79" style="fill-opacity: 0; stroke: #000000"/>
<use href="#mf7107f1a10" x="258.81" y="372.29" style="fill-opacity: 0; stroke: #000000"/>
<use href="#mf7107f1a10" x="258.81" y="452.13" style="fill-opacity: 0; stroke: #000000"/>
<use href="#mf7107f1a10" x="258.81" y="371.67" style="fill-opacity: 0; stroke: #000000"/>
<use href="#mf7107f1a10" x="258.81" y="376.24" style="fill-opacity: 0; stroke: #000000"/>
<use href="#mf7107f1a10" x="258.81" y="372.23" style="fill-opacity: 0; stroke: #000000"/>
<use href="#mf7107f1a10" x="258.81" y="372.28" style="fill-opacity: 0; stroke: #000000"/>
<use href="#mf7107f1a10" x="258.81" y="379.60" style="fill-opacity: 0; stroke: #000000"/>
<use href="#mf7107f1a10" x="258.81" y="373.98" style="fill-opacity: 0; stroke: #000000"/>
<use href="#mf7107f1a10" x="258.81" y="371.98" style="fill-opacity: 0; stroke: #000000"/>
<use href="#mf7107f1a10" x="258.81" y="371.75" style="fill-opacity: 0; stroke: #000000"/>
<use href="#mf7107f1a10" x="258.81" y="371.69" style="fill-opacity: 0; stroke: #000000"/>
<use href="#mf7107f1a10" x="258.81" y="375.38" style="fill-opacity: 0; stroke: #000000"/>
<use href="#mf7107f1a10" x="258.81" y="372.03" style="fill-opacity: 0; stroke: #000000"/>
<use href="#mf7107f1a10" x="258.81" y="371.95" style="fill-opacity: 0; stroke: #000000"/>
<use href="#mf7107f1a10" x="258.81" y="373.23" style="fill-opacity: 0; stroke: #000000"/>
<use href="#mf7107f1a10" x="258.81" y="372.00" style="fill-opacity: 0; stroke: #000000"/>
<use href="#mf7107f1a10" x="258.81" y="372.18" style="fill-opacity: 0; stroke: #000000"/>
<use href="#mf7107f1a10" x="258.81" y="371.71" style="fill-opacity: 0; stroke: #000000"/>
<use href="#mf7107f1a10" x="258.81" y="372.28" style="fill-opacity: 0; stroke: #000000"/>
<use href="#mf7107f1a10" x="258.81" y="375.33" style="fill-opacity: 0; stroke: #000000"/>
<use href="#mf7107f1a10" x="258.81" y="373.38" style="fill-opacity: 0; stroke: #000000"/>
<use href="#mf7107f1a10" x="258.81" y="371.85" style="fill-opacity: 0; stroke: #000000"/>
<use href="#mf7107f1a10" x="258.81" y="372.13" style="fill-opacity: 0; stroke: #000000"/>
<use href="#mf7107f1a10" x="258.81" y="371.81" style="fill-opacity: 0; stroke: #000000"/>
<use href="#mf7107f1a10" x="258.81" y="372.85" style="fill-opacity: 0; stroke: #000000"/>
<use href="#mf7107f1a10" x="258.81" y="371.67" style="fill-opacity: 0; stroke: #000000"/>
<use href="#mf7107f1a10" x="258.81" y="388.66" style="fill-opacity: 0; stroke: #000000"/>
<use href="#mf7107f1a10" x="258.81" y="378.70" style="fill-opacity: 0; stroke: #000000"/>
<use href="#mf7107f1a10" x="258.81" y="372.35" style="fill-opacity: 0; stroke: #000000"/>
<use href="#mf7107f1a10" x="258.81" y="372.33" style="fill-opacity: 0; stroke: #000000"/>
<use href="#mf7107f1a10" x="258.81" y="371.70" style="fill-opacity: 0; stroke: #000000"/>
<use href="#mf7107f1a10" x="258.81" y="372.01" style="fill-opacity: 0; stroke: #000000"/>
<use href="#mf7107f1a10" x="258.81" y="371.90" style="fill-opacity: 0; stroke: #000000"/>
<use href="#mf7107f1a10" x="258.81" y="372.39" style="fill-opacity: 0; stroke: #000000"/>
<use href="#mf7107f1a10" x="258.81" y="373.55" style="fill-opacity: 0; stroke: #000000"/>
<use href="#mf7107f1a10" x="258.81" y="372.00" style="fill-opacity: 0; stroke: #000000"/>
<use href="#mf7107f1a10" x="258.81" y="372.10" style="fill-opacity: 0; stroke: #000000"/>
<use href="#mf7107f1a10" x="258.81" y="372.47" style="fill-opacity: 0; stroke: #000000"/>
<use href="#mf7107f1a10" x="258.81" y="373.13" style="fill-opacity: 0; stroke: #000000"/>
<use href="#mf7107f1a10" x="258.81" y="372.10" style="fill-opacity: 0; stroke: #000000"/>
<use href="#mf7107f1a10" x="258.81" y="379.07" style="fill-opacity: 0; stroke: #000000"/>
<use href="#mf7107f1a10" x="258.81" y="374.19" style="fill-opacity: 0; stroke: #000000"/>
<use href="#mf7107f1a10" x="258.81" y="372.45" style="fill-opacity: 0; stroke: #000000"/>
<use href="#mf7107f1a10" x="258.81" y="371.77" style="fill-opacity: 0; stroke: #000000"/>
<use href="#mf7107f1a10" x="258.81" y="373.15" style="fill-opacity: 0; stroke: #000000"/>
<use href="#mf7107f1a10" x="258.81" y="371.81" style="fill-opacity: 0; stroke: #000000"/>
<use href="#mf7107f1a10" x="258.81" y="391.12" style="fill-opacity: 0; stroke: #000000"/>
<use href="#mf7107f1a10" x="258.81" y="376.39" style="fill-opacity: 0; stroke: #000000"/>
<use href="#mf7107f1a10" x="258.81" y="376.11" style="fill-opacity: 0; stroke: #000000"/>
<use href="#mf7107f1a10" x="258.81" y="377.62" style="fill-opacity: 0; stroke: #000000"/>
<use href="#mf7107f1a10" x="258.81" y="372.13" style="fill-opacity: 0; stroke: #000000"/>
<use href="#mf7107f1a10" x="258.81" y="371.69" style="fill-opacity: 0; stroke: #000000"/>
<use href="#mf7107f1a10" x="258.81" y="374.53" style="fill-opacity: 0; stroke: #000000"/>
<use href="#mf7107f1a10" x="258.81" y="371.69" style="fill-opacity: 0; stroke: #000000"/>
<use href="#mf7107f1a10" x="258.81" y="371.73" style="fill-opacity: 0; stroke: #000000"/>
<use href="#mf7107f1a10" x="258.81" y="371.91" style="fill-opacity: 0; stroke: #000000"/>
<use href="#mf7107f1a10" x="258.81" y="372.01" style="fill-opacity: 0; stroke: #000000"/>
<use href="#mf7107f1a10" x="258.81" y="372.23" style="fill-opacity: 0; stroke: #000000"/>
<use href="#mf7107f1a10" x="258.81" y="379.00" style="fill-opacity: 0; stroke: #000000"/>
<use href="#mf7107f1a10" x="258.81" y="376.93" style="fill-opacity: 0; stroke: #000000"/>
<use href="#mf7107f1a10" x="258.81" y="371.74" style="fill-opacity: 0; stroke: #000000"/>
<use href="#mf7107f1a10" x="258.81" y="371.90" style="fill-opacity: 0; stroke: #000000"/>
<use href="#mf7107f1a10" x="258.81" y="371.79" style="fill-opacity: 0; stroke: #000000"/>
<use href="#mf7107f1a10" x="258.81" y="383.76" style="fill-opacity: 0; stroke: #000000"/>
<use href="#mf7107f1a10" x="258.81" y="371.72" style="fill-opacity: 0; stroke: #000000"/>
<use href="#mf7107f1a10" x="258.81" y="377.45" style="fill-opacity: 0; stroke: #000000"/>
<use href="#mf7107f1a10" x="258.81" y="371.96" style="fill-opacity: 0; stroke: #000000"/>
<use href="#mf7107f1a10" x="258.81" y="377.36" style="fill-opacity: 0; stroke: #000000"/>
<use href="#mf7107f1a10" x="258.81" y="374.52" style="fill-opacity: 0; stroke: #000000"/>
<use href="#mf7107f1a10" x="258.81" y="372.12" style="fill-opacity: 0; stroke: #000000"/>
<use href="#mf7107f1a10" x="258.81" y="375.02" style="fill-opacity: 0; stroke: #000000"/>
<use href="#mf7107f1a10" x="258.81" y="372.30" style="fill-opacity: 0; stroke: #000000"/>
<use href="#mf7107f1a10" x="258.81" y="371.88" style="fill-opacity: 0; stroke: #000000"/>
<use href="#mf7107f1a10" x="258.81" y="372.08" style="fill-opacity: 0; stroke: #000000"/>
<use href="#mf7107f1a10" x="258.81" y="371.80" style="fill-opacity: 0; stroke: #000000"/>
<use href="#mf7107f1a10" x="258.81" y="371.99" style="fill-opacity: 0; stroke: #000000"/>
<use href="#mf7107f1a10" x="258.81" y="372.64" style="fill-opacity: 0; stroke: #000000"/>
<use href="#mf7107f1a10" x="258.81" y="373.25" style="fill-opacity: 0; stroke: #000000"/>
<use href="#mf7107f1a10" x="258.81" y="372.41" style="fill-opacity: 0; stroke: #000000"/>
<use href="#mf7107f1a10" x="258.81" y="374.86" style="fill-opacity: 0; stroke: #000000"/>
<use href="#mf7107f1a10" x="258.81" y="372.25" style="fill-opacity: 0; stroke: #000000"/>
<use href="#mf7107f1a10" x="258.81" y="376.69" style="fill-opacity: 0; stroke: #000000"/>
<use href="#mf7107f1a10" x="258.81" y="383.24" style="fill-opacity: 0; stroke: #000000"/>
<use href="#mf7107f1a10" x="258.81" y="371.95" style="fill-opacity: 0; stroke: #000000"/>
<use href="#mf7107f1a10" x="258.81" y="372.14" style="fill-opacity: 0; stroke: #000000"/>
<use href="#mf7107f1a10" x="258.81" y="371.75" style="fill-opacity: 0; stroke: #000000"/>
<use href="#mf7107f1a10" x="258.81" y="372.13" style="fill-opacity: 0; stroke: #000000"/>
<use href="#mf7107f1a10" x="258.81" y="373.39" style="fill-opacity: 0; stroke: #000000"/>
<use href="#mf7107f1a10" x="258.81" y="371.80" style="fill-opacity: 0; stroke: #000000"/>
<use href="#mf7107f1a10" x="258.81" y="372.10" style="fill-opacity: 0; stroke: #000000"/>
<use href="#mf7107f1a10" x="258.81" y="371.71" style="fill-opacity: 0; stroke: #000000"/>
<use href="#mf7107f1a10" x="258.81" y="374.71" style="fill-opacity: 0; stroke: #000000"/>
<use href="#mf7107f1a10" x="258.81" y="372.69" style="fill-opacity: 0; stroke: #000000"/>
<use href="#mf7107f1a10" x="258.81" y="372.62" style="fill-opacity: 0; stroke: #000000"/>
<use href="#mf7107f1a10" x="258.81" y="372.09" style="fill-opacity: 0; stroke: #000000"/>
<use href="#mf7107f1a10" x="258.81" y="371.88" style="fill-opacity: 0; stroke: #000000"/>
<use href="#mf7107f1a10" x="258.81" y="371.99" style="fill-opacity: 0; stroke: #000000"/>
<use href="#mf7107f1a10" x="258.81" y="373.61" style="fill-opacity: 0; stroke: #000000"/>
<use href="#mf7107f1a10" x="258.81" y="372.11" style="fill-opacity: 0; stroke: #000000"/>
<use href="#mf7107f1a10" x="258.81" y="372.26" style="fill-opacity: 0; stroke: #000000"/>
<use href="#mf7107f1a10" x="258.81" y="371.70" style="fill-opacity: 0; stroke: #000000"/>
<use href="#mf7107f1a10" x="258.81" y="372.92" style="fill-opacity: 0; stroke: #000000"/>
<use href="#mf7107f1a10" x="258.81" y="372.64" style="fill-opacity: 0; stroke: #000000"/>
<use href="#mf7107f1a10" x="258.81" y="371.76" style="fill-opacity: 0; stroke: #000000"/>
<use href="#mf7107f1a10" x="258.81" y="371.84" style="fill-opacity: 0; stroke: #000000"/>
<use href="#mf7107f1a10" x="258.81" y="372.62" style="fill-opacity: 0; stroke: #000000"/>
<use href="#mf7107f1a10" x="258.81" y="371.81" style="fill-opacity: 0; stroke: #000000"/>
<use href="#mf7107f1a10" x="258.81" y="372.07" style="fill-opacity: 0; stroke: #000000"/>
<use href="#mf7107f1a10" x="258.81" y="371.78" style="fill-opacity: 0; stroke: #000000"/>
<use href="#mf7107f1a10" x="258.81" y="374.61" style="fill-opacity: 0; stroke: #000000"/>
<use href="#mf7107f1a10" x="258.81" y="372.42" style="fill-opacity: 0; stroke: #000000"/>
<use href="#mf7107f1a10" x="258.81" y="372.40" style="fill-opacity: 0; stroke: #000000"/>
<use href="#mf7107f1a10" x="258.81" y="372.29" style="fill-opacity: 0; stroke: #000000"/>
<use href="#mf7107f1a10" x="258.81" y="385.25" style="fill-opacity: 0; stroke: #000000"/>
<use href="#mf7107f1a10" x="258.81" y="371.83" style="fill-opacity: 0; stroke: #000000"/>
<use href="#mf7107f1a10" x="258.81" y="371.81" style="fill-opacity: 0; stroke: #000000"/>
<use href="#mf7107f1a10" x="258.81" y="371.70" style="fill-opacity: 0; stroke: #000000"/>
<use href="#mf7107f1a10" x="258.81" y="372.08" style="fill-opacity: 0; stroke: #000000"/>
<use href="#mf7107f1a10" x="258.81" y="373.28" style="fill-opacity: 0; stroke: #000000"/>
<use href="#mf7107f1a10" x="258.81" y="375.09" style="fill-opacity: 0; stroke: #000000"/>
<use href="#mf7107f1a10" x="258.81" y="373.43" style="fill-opacity: 0; stroke: #000000"/>
<use href="#mf7107f1a10" x="258.81" y="379.07" style="fill-opacity: 0; stroke: #000000"/>
<use href="#mf7107f1a10" x="258.81" y="371.92" style="fill-opacity: 0; stroke: #000000"/>
<use href="#mf7107f1a10" x="258.81" y="372.48" style="fill-opacity: 0; stroke: #000000"/>
<use href="#mf7107f1a10" x="258.81" y="372.19" style="fill-opacity: 0; stroke: #000000"/>
<use href="#mf7107f1a10" x="258.81" y="372.98" style="fill-opacity: 0; stroke: #000000"/>
<use href="#mf7107f1a10" x="258.81" y="372.87" style="fill-opacity: 0; stroke: #000000"/>
<use href="#mf7107f1a10" x="258.81" y="372.13" style="fill-opacity: 0; stroke: #000000"/>
<use href="#mf7107f1a10" x="258.81" y="372.01" style="fill-opacity: 0; stroke: #000000"/>
<use href="#mf7107f1a10" x="258.81" y="372.99" style="fill-opacity: 0; stroke: #000000"/>
<use href="#mf7107f1a10" x="258.81" y="372.20" style="fill-opacity: 0; stroke: #000000"/>
<use href="#mf7107f1a10" x="258.81" y="384.93" style="fill-opacity: 0; stroke: #000000"/>
<use href="#mf7107f1a10" x="258.81" y="372.31" style="fill-opacity: 0; stroke: #000000"/>
<use href="#mf7107f1a10" x="258.81" y="372.64" style="fill-opacity: 0; stroke: #000000"/>
<use href="#mf7107f1a10" x="258.81" y="371.90" style="fill-opacity: 0; stroke: #000000"/>
<use href="#mf7107f1a10" x="258.81" y="376.66" style="fill-opacity: 0; stroke: #000000"/>
<use href="#mf7107f1a10" x="258.81" y="372.89" style="fill-opacity: 0; stroke: #000000"/>
<use href="#mf7107f1a10" x="258.81" y="372.22" style="fill-opacity: 0; stroke: #000000"/>
<use href="#mf7107f1a10" x="258.81" y="372.61" style="fill-opacity: 0; stroke: #000000"/>
<use href="#mf7107f1a10" x="258.81" y="371.97" style="fill-opacity: 0; stroke: #000000"/>
<use href="#mf7107f1a10" x="258.81" y="376.63" style="fill-opacity: 0; stroke: #000000"/>
<use href="#mf7107f1a10" x="258.81" y="378.53" style="fill-opacity: 0; stroke: #000000"/>
<use href="#mf7107f1a10" x="258.81" y="372.09" style="fill-opacity: 0; stroke: #000000"/>
<use href="#mf7107f1a10" x="258.81" y="372.06" style="fill-opacity: 0; stroke: #000000"/>
<use href="#mf7107f1a10" x="258.81" y="372.26" style="fill-opacity: 0; stroke: #000000"/>
<use href="#mf7107f1a10" x="258.81" y="372.81" style="fill-opacity: 0; stroke: #000000"/>
<use href="#mf7107f1a10" x="258.81" y="384.19" style="fill-opacity: 0; stroke: #000000"/>
<use href="#mf7107f1a10" x="258.81" y="375.98" style="fill-opacity: 0; stroke: #000000"/>
<use href="#mf7107f1a10" x="258.81" y="372.29" style="fill-opacity: 0; stroke: #000000"/>
<use href="#mf7107f1a10" x="258.81" y="372.49" style="fill-opacity: 0; stroke: #000000"/>
<use href="#mf7107f1a10" x="258.81" y="372.85" style="fill-opacity: 0; stroke: #000000"/>
<use href="#mf7107f1a10" x="258.81" y="373.93" style="fill-opacity: 0; stroke: #000000"/>
<use href="#mf7107f1a10" x="258.81" y="372.19" style="fill-opacity: 0; stroke: #000000"/>
<use href="#mf7107f1a10" x="258.81" y="372.77" style="fill-opacity: 0; stroke: #000000"/>
<use href="#mf7107f1a10" x="258.81" y="378.30" style="fill-opacity: 0; stroke: #000000"/>
<use href="#mf7107f1a10" x="258.81" y="372.26" style="fill-opacity: 0; stroke: #000000"/>
<use href="#mf7107f1a10" x="258.81" y="372.96" style="fill-opacity: 0; stroke: #000000"/>
<use href="#mf7107f1a10" x="258.81" y="373.13" style="fill-opacity: 0; stroke: #000000"/>
<use href="#mf7107f1a10" x="258.81" y="372.21" style="fill-opacity: 0; stroke: #000000"/>
<use href="#mf7107f1a10" x="258.81" y="373.77" style="fill-opacity: 0; stroke: #000000"/>
<use href="#mf7107f1a10" x="258.81" y="374.90" style="fill-opacity: 0; stroke: #000000"/>
<use href="#mf7107f1a10" x="258.81" y="372.69" style="fill-opacity: 0; stroke: #000000"/>
<use href="#mf7107f1a10" x="258.81" y="372.56" style="fill-opacity: 0; stroke: #000000"/>
<use href="#mf7107f1a10" x="258.81" y="372.49" style="fill-opacity: 0; stroke: #000000"/>
<use href="#mf7107f1a10" x="258.81" y="372.17" style="fill-opacity: 0; stroke: #000000"/>
<use href="#mf7107f1a10" x="258.81" y="373.46" style="fill-opacity: 0; stroke: #000000"/>
<use href="#mf7107f1a10" x="258.81" y="372.53" style="fill-opacity: 0; stroke: #000000"/>
<use href="#mf7107f1a10" x="258.81" y="372.86" style="fill-opacity: 0; stroke: #000000"/>
<use href="#mf7107f1a10" x="258.81" y="372.48" style="fill-opacity: 0; stroke: #000000"/>
<use href="#mf7107f1a10" x="258.81" y="372.44" style="fill-opacity: 0; stroke: #000000"/>
<use href="#mf7107f1a10" x="258.81" y="372.84" style="fill-opacity: 0; stroke: #000000"/>
<use href="#mf7107f1a10" x="258.81" y="375.98" style="fill-opacity: 0; stroke: #000000"/>
<use href="#mf7107f1a10" x="258.81" y="376.21" style="fill-opacity: 0; stroke: #000000"/>
<use href="#mf7107f1a10" x="258.81" y="372.43" style="fill-opacity: 0; stroke: #000000"/>
<use href="#mf7107f1a10" x="258.81" y="372.56" style="fill-opacity: 0; stroke: #000000"/>
<use href="#mf7107f1a10" x="258.81" y="372.56" style="fill-opacity: 0; stroke: #000000"/>
<use href="#mf7107f1a10" x="258.81" y="372.76" style="fill-opacity: 0; stroke: #000000"/>
<use href="#mf7107f1a10" x="258.81" y="372.51" style="fill-opacity: 0; stroke: #000000"/>
<use href="#mf7107f1a10" x="258.81" y="379.35" style="fill-opacity: 0; stroke: #000000"/>
<use href="#mf7107f1a10" x="258.81" y="372.35" style="fill-opacity: 0; stroke: #000000"/>
<use href="#mf7107f1a10" x="258.81" y="372.97" style="fill-opacity: 0; stroke: #000000"/>
<use href="#mf7107f1a10" x="258.81" y="373.07" style="fill-opacity: 0; stroke: #000000"/>
<use href="#mf7107f1a10" x="258.81" y="372.68" style="fill-opacity: 0; stroke: #000000"/>
<use href="#mf7107f1a10" x="258.81" y="372.91" style="fill-opacity: 0; stroke: #000000"/>
<use href="#mf7107f1a10" x="258.81" y="372.39" style="fill-opacity: 0; stroke: #000000"/>
<use href="#mf7107f1a10" x="258.81" y="373.42" style="fill-opacity: 0; stroke: #000000"/>
<use href="#mf7107f1a10" x="258.81" y="373.60" style="fill-opacity: 0; stroke: #000000"/>
<use href="#mf7107f1a10" x="258.81" y="386.00" style="fill-opacity: 0; stroke: #000000"/>
<use href="#mf7107f1a10" x="258.81" y="372.83" style="fill-opacity: 0; stroke: #000000"/>
<use href="#mf7107f1a10" x="258.81" y="372.48" style="fill-opacity: 0; stroke: #000000"/>
<use href="#mf7107f1a10" x="258.81" y="372.71" style="fill-opacity: 0; stroke: #000000"/>
<use href="#mf7107f1a10" x="258.81" y="376.07" style="fill-opacity: 0; stroke: #000000"/>
<use href="#mf7107f1a10" x="258.81" y="373.72" style="fill-opacity: 0; stroke: #000000"/>
<use href="#mf7107f1a10" x="258.81" y="375.13" style="fill-opacity: 0; stroke: #000000"/>
<use href="#mf7107f1a10" x="258.81" y="372.64" style="fill-opacity: 0; stroke: #000000"/>
<use href="#mf7107f1a10" x="258.81" y="372.61" style="fill-opacity: 0; stroke: #000000"/>
<use href="#mf7107f1a10" x="258.81" y="373.12" style="fill-opacity: 0; stroke: #000000"/>
<use href="#mf7107f1a10" x="258.81" y="372.90" style="fill-opacity: 0; stroke: #000000"/>
<use href="#mf7107f1a10" x="258.81" y="372.64" style="fill-opacity: 0; stroke: #000000"/>
<use href="#mf7107f1a10" x="258.81" y="372.77" style="fill-opacity: 0; stroke: #000000"/>
<use href="#mf7107f1a10" x="258.81" y="373.21" style="fill-opacity: 0; stroke: #000000"/>
<use href="#mf7107f1a10" x="258.81" y="373.00" style="fill-opacity: 0; stroke: #000000"/>
<use href="#mf7107f1a10" x="258.81" y="373.38" style="fill-opacity: 0; stroke: #000000"/>
<use href="#mf7107f1a10" x="258.81" y="374.24" style="fill-opacity: 0; stroke: #000000"/>
<use href="#mf7107f1a10" x="258.81" y="374.13" style="fill-opacity: 0; stroke: #000000"/>
<use href="#mf7107f1a10" x="258.81" y="391.12" style="fill-opacity: 0; stroke: #000000"/>
<use href="#mf7107f1a10" x="258.81" y="373.28" style="fill-opacity: 0; stroke: #000000"/>
<use href="#mf7107f1a10" x="258.81" y="372.68" style="fill-opacity: 0; stroke: #000000"/>
<use href="#mf7107f1a10" x="258.81" y="373.05" style="fill-opacity: 0; stroke: #000000"/>
<use href="#mf7107f1a10" x="258.81" y="373.33" style="fill-opacity: 0; stroke: #000000"/>
<use href="#mf7107f1a10" x="258.81" y="372.95" style="fill-opacity: 0; stroke: #000000"/>
<use href="#mf7107f1a10" x="258.81" y="373.88" style="fill-opacity: 0; stroke: #000000"/>
<use href="#mf7107f1a10" x="258.81" y="372.80" style="fill-opacity: 0; stroke: #000000"/>
<use href="#mf7107f1a10" x="258.81" y="376.98" style="fill-opacity: 0; stroke: #000000"/>
<use href="#mf7107f1a10" x="258.81" y="374.38" style="fill-opacity: 0; stroke: #000000"/>
<use href="#mf7107f1a10" x="258.81" y="372.84" style="fill-opacity: 0; stroke: #000000"/>
<use href="#mf7107f1a10" x="258.81" y="372.81" style="fill-opacity: 0; stroke: #000000"/>
<use href="#mf7107f1a10" x="258.81" y="372.81" style="fill-opacity: 0; stroke: #000000"/>
<use href="#mf7107f1a10" x="258.81" y="377.05" style="fill-opacity: 0; stroke: #000000"/>
<use href="#mf7107f1a10" x="258.81" y="373.72" style="fill-opacity: 0; stroke: #000000"/>
<use href="#mf7107f1a10" x="258.81" y="373.24" style="fill-opacity: 0; stroke: #000000"/>
<use href="#mf7107f1a10" x="258.81" y="373.60" style="fill-opacity: 0; stroke: #000000"/>
<use href="#mf7107f1a10" x="258.81" y="384.19" style="fill-opacity: 0; stroke: #000000"/>
<use href="#mf7107f1a10" x="258.81" y="379.68" style="fill-opacity: 0; stroke: #000000"/>
<use href="#mf7107f1a10" x="258.81" y="373.08" style="fill-opacity: 0; stroke: #000000"/>
<use href="#mf7107f1a10" x="258.81" y="376.30" style="fill-opacity: 0; stroke: #000000"/>
<use href="#mf7107f1a10" x="258.81" y="378.69" style="fill-opacity: 0; stroke: #000000"/>
<use href="#mf7107f1a10" x="258.81" y="373.23" style="fill-opacity: 0; stroke: #000000"/>
<use href="#mf7107f1a10" x="258.81" y="374.72" style="fill-opacity: 0; stroke: #000000"/>
<use href="#mf7107f1a10" x="258.81" y="374.67" style="fill-opacity: 0; stroke: #000000"/>
<use href="#mf7107f1a10" x="258.81" y="373.20" style="fill-opacity: 0; stroke: #000000"/>
<use href="#mf7107f1a10" x="258.81" y="376.60" style="fill-opacity: 0; stroke: #000000"/>
<use href="#mf7107f1a10" x="258.81" y="373.30" style="fill-opacity: 0; stroke: #000000"/>
<use href="#mf7107f1a10" x="258.81" y="372.98" style="fill-opacity: 0; stroke: #000000"/>
<use href="#mf7107f1a10" x="258.81" y="373.68" style="fill-opacity: 0; stroke: #000000"/>
<use href="#mf7107f1a10" x="258.81" y="372.99" style="fill-opacity: 0; stroke: #000000"/>
<use href="#mf7107f1a10" x="258.81" y="372.97" style="fill-opacity: 0; stroke: #000000"/>
<use href="#mf7107f1a10" x="258.81" y="383.08" style="fill-opacity: 0; stroke: #000000"/>
<use href="#mf7107f1a10" x="258.81" y="376.92" style="fill-opacity: 0; stroke: #000000"/>
<use href="#mf7107f1a10" x="258.81" y="376.49" style="fill-opacity: 0; stroke: #000000"/>
<use href="#mf7107f1a10" x="258.81" y="373.03" style="fill-opacity: 0; stroke: #000000"/>
<use href="#mf7107f1a10" x="258.81" y="373.19" style="fill-opacity: 0; stroke: #000000"/>
<use href="#mf7107f1a10" x="258.81" y="378.69" style="fill-opacity: 0; stroke: #000000"/>
<use href="#mf7107f1a10" x="258.81" y="376.96" style="fill-opacity: 0; stroke: #000000"/>
<use href="#mf7107f1a10" x="258.81" y="373.11" style="fill-opacity: 0; stroke: #000000"/>
<use href="#mf7107f1a10" x="258.81" y="373.07" style="fill-opacity: 0; stroke: #000000"/>
<use href="#mf7107f1a10" x="258.81" y="373.46" style="fill-opacity: 0; stroke: #000000"/>
<use href="#mf7107f1a10" x="258.81" y="373.21" style="fill-opacity: 0; stroke: #000000"/>
<use href="#mf7107f1a10" x="258.81" y="373.22" style="fill-opacity: 0; stroke: #000000"/>
<use href="#mf7107f1a10" x="258.81" y="374.78" style="fill-opacity: 0; stroke: #000000"/>
<use href="#mf7107f1a10" x="258.81" y="373.40" style="fill-opacity: 0; stroke: #000000"/>
<use href="#mf7107f1a10" x="258.81" y="373.78" style="fill-opacity: 0; stroke: #000000"/>
<use href="#mf7107f1a10" x="258.81" y="376.40" style="fill-opacity: 0; stroke: #000000"/>
<use href="#mf7107f1a10" x="258.81" y="373.56" style="fill-opacity: 0; stroke: #000000"/>
<use href="#mf7107f1a10" x="258.81" y="373.34" style="fill-opacity: 0; stroke: #000000"/>
<use href="#mf7107f1a10" x="258.81" y="379.78" style="fill-opacity: 0; stroke: #000000"/>
<use href="#mf7107f1a10" x="258.81" y="373.92" style="fill-opacity: 0; stroke: #000000"/>
<use href="#mf7107f1a10" x="258.81" y="373.31" style="fill-opacity: 0; stroke: #000000"/>
<use href="#mf7107f1a10" x="258.81" y="373.71" style="fill-opacity: 0; stroke: #000000"/>
<use href="#mf7107f1a10" x="258.81" y="373.32" style="fill-opacity: 0; stroke: #000000"/>
<use href="#mf7107f1a10" x="258.81" y="374.08" style="fill-opacity: 0; stroke: #000000"/>
<use href="#mf7107f1a10" x="258.81" y="373.36" style="fill-opacity: 0; stroke: #000000"/>
<use href="#mf7107f1a10" x="258.81" y="373.49" style="fill-opacity: 0; stroke: #000000"/>
<use href="#mf7107f1a10" x="258.81" y="375.25" style="fill-opacity: 0; stroke: #000000"/>
<use href="#mf7107f1a10" x="258.81" y="373.52" style="fill-opacity: 0; stroke: #000000"/>
<use href="#mf7107f1a10" x="258.81" y="373.33" style="fill-opacity: 0; stroke: #000000"/>
<use href="#mf7107f1a10" x="258.81" y="373.39" style="fill-opacity: 0; stroke: #000000"/>
<use href="#mf7107f1a10" x="258.81" y="373.27" style="fill-opacity: 0; stroke: #000000"/>
<use href="#mf7107f1a10" x="258.81" y="373.42" style="fill-opacity: 0; stroke: #000000"/>
<use href="#mf7107f1a10" x="258.81" y="379.43" style="fill-opacity: 0; stroke: #000000"/>
<use href="#mf7107f1a10" x="258.81" y="374.18" style="fill-opacity: 0; stroke: #000000"/>
<use href="#mf7107f1a10" x="258.81" y="373.31" style="fill-opacity: 0; stroke: #000000"/>
<use href="#mf7107f1a10" x="258.81" y="373.64" style="fill-opacity: 0; stroke: #000000"/>
<use href="#mf7107f1a10" x="258.81" y="373.41" style="fill-opacity: 0; stroke: #000000"/>
<use href="#mf7107f1a10" x="258.81" y="373.88" style="fill-opacity: 0; stroke: #000000"/>
<use href="#mf7107f1a10" x="258.81" y="373.42" style="fill-opacity: 0; stroke: #000000"/>
<use href="#mf7107f1a10" x="258.81" y="373.58" style="fill-opacity: 0; stroke: #000000"/>
<use href="#mf7107f1a10" x="258.81" y="373.79" style="fill-opacity: 0; stroke: #000000"/>
<use href="#mf7107f1a10" x="258.81" y="373.80" style="fill-opacity: 0; stroke: #000000"/>
<use href="#mf7107f1a10" x="258.81" y="374.04" style="fill-opacity: 0; stroke: #000000"/>
<use href="#mf7107f1a10" x="258.81" y="373.62" style="fill-opacity: 0; stroke: #000000"/>
<use href="#mf7107f1a10" x="258.81" y="376.93" style="fill-opacity: 0; stroke: #000000"/>
<use href="#mf7107f1a10" x="258.81" y="373.70" style="fill-opacity: 0; stroke: #000000"/>
<use href="#mf7107f1a10" x="258.81" y="373.83" style="fill-opacity: 0; stroke: #000000"/>
<use href="#mf7107f1a10" x="258.81" y="373.92" style="fill-opacity: 0; stroke: #000000"/>
<use href="#mf7107f1a10" x="258.81" y="373.71" style="fill-opacity: 0; stroke: #000000"/>
<use href="#mf7107f1a10" x="258.81" y="374.05" style="fill-opacity: 0; stroke: #000000"/>
<use href="#mf7107f1a10" x="258.81" y="373.85" style="fill-opacity: 0; stroke: #000000"/>
<use href="#mf7107f1a10" x="258.81" y="375.14" style="fill-opacity: 0; stroke: #000000"/>
<use href="#mf7107f1a10" x="258.81" y="375.38" style="fill-opacity: 0; stroke: #000000"/>
<use href="#mf7107f1a10" x="258.81" y="373.53" style="fill-opacity: 0; stroke: #000000"/>
<use href="#mf7107f1a10" x="258.81" y="383.11" style="fill-opacity: 0; stroke: #000000"/>
<use href="#mf7107f1a10" x="258.81" y="373.67" style="fill-opacity: 0; stroke: #000000"/>
<use href="#mf7107f1a10" x="258.81" y="373.77" style="fill-opacity: 0; stroke: #000000"/>
<use href="#mf7107f1a10" x="258.81" y="373.91" style="fill-opacity: 0; stroke: #000000"/>
<use href="#mf7107f1a10" x="258.81" y="374.42" style="fill-opacity: 0; stroke: #000000"/>
<use href="#mf7107f1a10" x="258.81" y="373.65" style="fill-opacity: 0; stroke: #000000"/>
<use href="#mf7107f1a10" x="258.81" y="373.83" style="fill-opacity: 0; stroke: #000000"/>
<use href="#mf7107f1a10" x="258.81" y="377.47" style="fill-opacity: 0; stroke: #000000"/>
<use href="#mf7107f1a10" x="258.81" y="373.97" style="fill-opacity: 0; stroke: #000000"/>
<use href="#mf7107f1a10" x="258.81" y="373.68" style="fill-opacity: 0; stroke: #000000"/>
<use href="#mf7107f1a10" x="258.81" y="374.02" style="fill-opacity: 0; stroke: #000000"/>
<use href="#mf7107f1a10" x="258.81" y="374.19" style="fill-opacity: 0; stroke: #000000"/>
<use href="#mf7107f1a10" x="258.81" y="374.05" style="fill-opacity: 0; stroke: #000000"/>
<use href="#mf7107f1a10" x="258.81" y="373.75" style="fill-opacity: 0; stroke: #000000"/>
<use href="#mf7107f1a10" x="258.81" y="374.00" style="fill-opacity: 0; stroke: #000000"/>
<use href="#mf7107f1a10" x="258.81" y="375.70" style="fill-opacity: 0; stroke: #000000"/>
<use href="#mf7107f1a10" x="258.81" y="374.12" style="fill-opacity: 0; stroke: #000000"/>
<use href="#mf7107f1a10" x="258.81" y="373.85" style="fill-opacity: 0; stroke: #000000"/>
<use href="#mf7107f1a10" x="258.81" y="374.34" style="fill-opacity: 0; stroke: #000000"/>
<use href="#mf7107f1a10" x="258.81" y="449.67" style="fill-opacity: 0; stroke: #000000"/>
<use href="#mf7107f1a10" x="258.81" y="374.53" style="fill-opacity: 0; stroke: #000000"/>
<use href="#mf7107f1a10" x="258.81" y="373.72" style="fill-opacity: 0; stroke: #000000"/>
<use href="#mf7107f1a10" x="258.81" y="373.93" style="fill-opacity: 0; stroke: #000000"/>
<use href="#mf7107f1a10" x="258.81" y="373.82" style="fill-opacity: 0; stroke: #000000"/>
<use href="#mf7107f1a10" x="258.81" y="373.92" style="fill-opacity: 0; stroke: #000000"/>
<use href="#mf7107f1a10" x="258.81" y="373.87" style="fill-opacity: 0; stroke: #000000"/>
<use href="#mf7107f1a10" x="258.81" y="373.77" style="fill-opacity: 0; stroke: #000000"/>
<use href="#mf7107f1a10" x="258.81" y="374.10" style="fill-opacity: 0; stroke: #000000"/>
<use href="#mf7107f1a10" x="258.81" y="376.71" style="fill-opacity: 0; stroke: #000000"/>
<use href="#mf7107f1a10" x="258.81" y="374.78" style="fill-opacity: 0; stroke: #000000"/>
<use href="#mf7107f1a10" x="258.81" y="374.26" style="fill-opacity: 0; stroke: #000000"/>
<use href="#mf7107f1a10" x="258.81" y="374.05" style="fill-opacity: 0; stroke: #000000"/>
<use href="#mf7107f1a10" x="258.81" y="375.76" style="fill-opacity: 0; stroke: #000000"/>
<use href="#mf7107f1a10" x="258.81" y="374.20" style="fill-opacity: 0; stroke: #000000"/>
<use href="#mf7107f1a10" x="258.81" y="374.28" style="fill-opacity: 0; stroke: #000000"/>
<use href="#mf7107f1a10" x="258.81" y="374.19" style="fill-opacity: 0; stroke: #000000"/>
<use href="#mf7107f1a10" x="258.81" y="402.32" style="fill-opacity: 0; stroke: #000000"/>
<use href="#mf7107f1a10" x="258.81" y="374.34" style="fill-opacity: 0; stroke: #000000"/>
<use href="#mf7107f1a10" x="258.81" y="374.33" style="fill-opacity: 0; stroke: #000000"/>
<use href="#mf7107f1a10" x="258.81" y="374.88" style="fill-opacity: 0; stroke: #000000"/>
<use href="#mf7107f1a10" x="258.81" y="373.99" style="fill-opacity: 0; stroke: #000000"/>
<use href="#mf7107f1a10" x="258.81" y="377.31" style="fill-opacity: 0; stroke: #000000"/>
<use href="#mf7107f1a10" x="258.81" y="374.21" style="fill-opacity: 0; stroke: #000000"/>
<use href="#mf7107f1a10" x="258.81" y="374.05" style="fill-opacity: 0; stroke: #000000"/>
<use href="#mf7107f1a10" x="258.81" y="374.19" style="fill-opacity: 0; stroke: #000000"/>
<use href="#mf7107f1a10" x="258.81" y="374.94" style="fill-opacity: 0; stroke: #000000"/>
<use href="#mf7107f1a10" x="258.81" y="373.94" style="fill-opacity: 0; stroke: #000000"/>
<use href="#mf7107f1a10" x="258.81" y="375.74" style="fill-opacity: 0; stroke: #000000"/>
<use href="#mf7107f1a10" x="258.81" y="374.21" style="fill-opacity: 0; stroke: #000000"/>
<use href="#mf7107f1a10" x="258.81" y="374.45" style="fill-opacity: 0; stroke: #000000"/>
<use href="#mf7107f1a10" x="258.81" y="374.28" style="fill-opacity: 0; stroke: #000000"/>
<use href="#mf7107f1a10" x="258.81" y="376.72" style="fill-opacity: 0; stroke: #000000"/>
<use href="#mf7107f1a10" x="258.81" y="374.07" style="fill-opacity: 0; stroke: #000000"/>
<use href="#mf7107f1a10" x="258.81" y="374.72" style="fill-opacity: 0; stroke: #000000"/>
<use href="#mf7107f1a10" x="258.81" y="374.46" style="fill-opacity: 0; stroke: #000000"/>
<use href="#mf7107f1a10" x="258.81" y="374.87" style="fill-opacity: 0; stroke: #000000"/>
<use href="#mf7107f1a10" x="258.81" y="374.31" style="fill-opacity: 0; stroke: #000000"/>
<use href="#mf7107f1a10" x="258.81" y="374.30" style="fill-opacity: 0; stroke: #000000"/>
<use href="#mf7107f1a10" x="258.81" y="378.43" style="fill-opacity: 0; stroke: #000000"/>
<use href="#mf7107f1a10" x="258.81" y="381.45" style="fill-opacity: 0; stroke: #000000"/>
<use href="#mf7107f1a10" x="258.81" y="374.35" style="fill-opacity: 0; stroke: #000000"/>
<use href="#mf7107f1a10" x="258.81" y="377.22" style="fill-opacity: 0; stroke: #000000"/>
<use href="#mf7107f1a10" x="258.81" y="374.61" style="fill-opacity: 0; stroke: #000000"/>
<use href="#mf7107f1a10" x="258.81" y="374.07" style="fill-opacity: 0; stroke: #000000"/>
<use href="#mf7107f1a10" x="258.81" y="374.50" style="fill-opacity: 0; stroke: #000000"/>
<use href="#mf7107f1a10" x="258.81" y="378.00" style="fill-opacity: 0; stroke: #000000"/>
<use href="#mf7107f1a10" x="258.81" y="374.61" style="fill-opacity: 0; stroke: #000000"/>
<use href="#mf7107f1a10" x="258.81" y="374.25" style="fill-opacity: 0; stroke: #000000"/>
<use href="#mf7107f1a10" x="258.81" y="374.21" style="fill-opacity: 0; stroke: #000000"/>
<use href="#mf7107f1a10" x="258.81" y="376.46" style="fill-opacity: 0; stroke: #000000"/>
<use href="#mf7107f1a10" x="258.81" y="375.28" style="fill-opacity: 0; stroke: #000000"/>
<use href="#mf7107f1a10" x="258.81" y="374.85" style="fill-opacity: 0; stroke: #000000"/>
<use href="#mf7107f1a10" x="258.81" y="374.11" style="fill-opacity: 0; stroke: #000000"/>
<use href="#mf7107f1a10" x="258.81" y="374.54" style="fill-opacity: 0; stroke: #000000"/>
<use href="#mf7107f1a10" x="258.81" y="374.33" style="fill-opacity: 0; stroke: #000000"/>
<use href="#mf7107f1a10" x="258.81" y="374.18" style="fill-opacity: 0; stroke: #000000"/>
<use href="#mf7107f1a10" x="258.81" y="379.38" style="fill-opacity: 0; stroke: #000000"/>
<use href="#mf7107f1a10" x="258.81" y="374.64" style="fill-opacity: 0; stroke: #000000"/>
<use href="#mf7107f1a10" x="258.81" y="382.27" style="fill-opacity: 0; stroke: #000000"/>
<use href="#mf7107f1a10" x="258.81" y="374.26" style="fill-opacity: 0; stroke: #000000"/>
<use href="#mf7107f1a10" x="258.81" y="374.68" style="fill-opacity: 0; stroke: #000000"/>
<use href="#mf7107f1a10" x="258.81" y="374.41" style="fill-opacity: 0; stroke: #000000"/>
<use href="#mf7107f1a10" x="258.81" y="386.33" style="fill-opacity: 0; stroke: #000000"/>
<use href="#mf7107f1a10" x="258.81" y="375.35" style="fill-opacity: 0; stroke: #000000"/>
<use href="#mf7107f1a10" x="258.81" y="374.52" style="fill-opacity: 0; stroke: #000000"/>
<use href="#mf7107f1a10" x="258.81" y="374.31" style="fill-opacity: 0; stroke: #000000"/>
<use href="#mf7107f1a10" x="258.81" y="374.49" style="fill-opacity: 0; stroke: #000000"/>
<use href="#mf7107f1a10" x="258.81" y="375.30" style="fill-opacity: 0; stroke: #000000"/>
<use href="#mf7107f1a10" x="258.81" y="374.80" style="fill-opacity: 0; stroke: #000000"/>
<use href="#mf7107f1a10" x="258.81" y="374.40" style="fill-opacity: 0; stroke: #000000"/>
<use href="#mf7107f1a10" x="258.81" y="375.13" style="fill-opacity: 0; stroke: #000000"/>
<use href="#mf7107f1a10" x="258.81" y="374.41" style="fill-opacity: 0; stroke: #000000"/>
<use href="#mf7107f1a10" x="258.81" y="374.30" style="fill-opacity: 0; stroke: #000000"/>
<use href="#mf7107f1a10" x="258.81" y="374.77" style="fill-opacity: 0; stroke: #000000"/>
<use href="#mf7107f1a10" x="258.81" y="378.46" style="fill-opacity: 0; stroke: #000000"/>
<use href="#mf7107f1a10" x="258.81" y="374.71" style="fill-opacity: 0; stroke: #000000"/>
<use href="#mf7107f1a10" x="258.81" y="374.54" style="fill-opacity: 0; stroke: #000000"/>
<use href="#mf7107f1a10" x="258.81" y="374.42" style="fill-opacity: 0; stroke: #000000"/>
<use href="#mf7107f1a10" x="258.81" y="377.22" style="fill-opacity: 0; stroke: #000000"/>
<use href="#mf7107f1a10" x="258.81" y="375.67" style="fill-opacity: 0; stroke: #000000"/>
<use href="#mf7107f1a10" x="258.81" y="374.56" style="fill-opacity: 0; stroke: #000000"/>
<use href="#mf7107f1a10" x="258.81" y="374.62" style="fill-opacity: 0; stroke: #000000"/>
<use href="#mf7107f1a10" x="258.81" y="374.41" style="fill-opacity: 0; stroke: #000000"/>
<use href="#mf7107f1a10" x="258.81" y="375.03" style="fill-opacity: 0; stroke: #000000"/>
<use href="#mf7107f1a10" x="258.81" y="428.87" style="fill-opacity: 0; stroke: #000000"/>
<use href="#mf7107f1a10" x="258.81" y="375.98" style="fill-opacity: 0; stroke: #000000"/>
<use href="#mf7107f1a10" x="258.81" y="375.29" style="fill-opacity: 0; stroke: #000000"/>
<use href="#mf7107f1a10" x="258.81" y="374.99" style="fill-opacity: 0; stroke: #000000"/>
<use href="#mf7107f1a10" x="258.81" y="375.68" style="fill-opacity: 0; stroke: #000000"/>
<use href="#mf7107f1a10" x="258.81" y="374.67" style="fill-opacity: 0; stroke: #000000"/>
<use href="#mf7107f1a10" x="258.81" y="374.56" style="fill-opacity: 0; stroke: #000000"/>
<use href="#mf7107f1a10" x="258.81" y="377.17" style="fill-opacity: 0; stroke: #000000"/>
<use href="#mf7107f1a10" x="258.81" y="374.65" style="fill-opacity: 0; stroke: #000000"/>
<use href="#mf7107f1a10" x="258.81" y="376.32" style="fill-opacity: 0; stroke: #000000"/>
<use href="#mf7107f1a10" x="258.81" y="375.53" style="fill-opacity: 0; stroke: #000000"/>
<use href="#mf7107f1a10" x="258.81" y="379.92" style="fill-opacity: 0; stroke: #000000"/>
<use href="#mf7107f1a10" x="258.81" y="387.01" style="fill-opacity: 0; stroke: #000000"/>
<use href="#mf7107f1a10" x="258.81" y="374.94" style="fill-opacity: 0; stroke: #000000"/>
<use href="#mf7107f1a10" x="258.81" y="375.42" style="fill-opacity: 0; stroke: #000000"/>
<use href="#mf7107f1a10" x="258.81" y="374.85" style="fill-opacity: 0; stroke: #000000"/>
<use href="#mf7107f1a10" x="258.81" y="380.11" style="fill-opacity: 0; stroke: #000000"/>
<use href="#mf7107f1a10" x="258.81" y="375.61" style="fill-opacity: 0; stroke: #000000"/>
<use href="#mf7107f1a10" x="258.81" y="375.20" style="fill-opacity: 0; stroke: #000000"/>
<use href="#mf7107f1a10" x="258.81" y="382.21" style="fill-opacity: 0; stroke: #000000"/>
<use href="#mf7107f1a10" x="258.81" y="374.47" style="fill-opacity: 0; stroke: #000000"/>
<use href="#mf7107f1a10" x="258.81" y="374.61" style="fill-opacity: 0; stroke: #000000"/>
<use href="#mf7107f1a10" x="258.81" y="374.55" style="fill-opacity: 0; stroke: #000000"/>
<use href="#mf7107f1a10" x="258.81" y="375.54" style="fill-opacity: 0; stroke: #000000"/>
<use href="#mf7107f1a10" x="258.81" y="374.63" style="fill-opacity: 0; stroke: #000000"/>
<use href="#mf7107f1a10" x="258.81" y="374.72" style="fill-opacity: 0; stroke: #000000"/>
<use href="#mf7107f1a10" x="258.81" y="375.15" style="fill-opacity: 0; stroke: #000000"/>
<use href="#mf7107f1a10" x="258.81" y="378.05" style="fill-opacity: 0; stroke: #000000"/>
<use href="#mf7107f1a10" x="258.81" y="374.88" style="fill-opacity: 0; stroke: #000000"/>
<use href="#mf7107f1a10" x="258.81" y="376.39" style="fill-opacity: 0; stroke: #000000"/>
<use href="#mf7107f1a10" x="258.81" y="374.90" style="fill-opacity: 0; stroke: #000000"/>
<use href="#mf7107f1a10" x="258.81" y="375.34" style="fill-opacity: 0; stroke: #000000"/>
<use href="#mf7107f1a10" x="258.81" y="376.32" style="fill-opacity: 0; stroke: #000000"/>
<use href="#mf7107f1a10" x="258.81" y="378.66" style="fill-opacity: 0; stroke: #000000"/>
<use href="#mf7107f1a10" x="258.81" y="383.12" style="fill-opacity: 0; stroke: #000000"/>
<use href="#mf7107f1a10" x="258.81" y="375.83" style="fill-opacity: 0; stroke: #000000"/>
<use href="#mf7107f1a10" x="258.81" y="379.69" style="fill-opacity: 0; stroke: #000000"/>
<use href="#mf7107f1a10" x="258.81" y="375.18" style="fill-opacity: 0; stroke: #000000"/>
<use href="#mf7107f1a10" x="258.81" y="374.76" style="fill-opacity: 0; stroke: #000000"/>
<use href="#mf7107f1a10" x="258.81" y="375.01" style="fill-opacity: 0; stroke: #000000"/>
<use href="#mf7107f1a10" x="258.81" y="375.07" style="fill-opacity: 0; stroke: #000000"/>
<use href="#mf7107f1a10" x="258.81" y="376.01" style="fill-opacity: 0; stroke: #000000"/>
<use href="#mf7107f1a10" x="258.81" y="375.15" style="fill-opacity: 0; stroke: #000000"/>
<use href="#mf7107f1a10" x="258.81" y="375.51" style="fill-opacity: 0; stroke: #000000"/>
<use href="#mf7107f1a10" x="258.81" y="375.37" style="fill-opacity: 0; stroke: #000000"/>
<use href="#mf7107f1a10" x="258.81" y="374.90" style="fill-opacity: 0; stroke: #000000"/>
<use href="#mf7107f1a10" x="258.81" y="374.79" style="fill-opacity: 0; stroke: #000000"/>
<use href="#mf7107f1a10" x="258.81" y="376.12" style="fill-opacity: 0; stroke: #000000"/>
<use href="#mf7107f1a10" x="258.81" y="376.28" style="fill-opacity: 0; stroke: #000000"/>
<use href="#mf7107f1a10" x="258.81" y="374.72" style="fill-opacity: 0; stroke: #000000"/>
<use href="#mf7107f1a10" x="258.81" y="375.13" style="fill-opacity: 0; stroke: #000000"/>
<use href="#mf7107f1a10" x="258.81" y="374.80" style="fill-opacity: 0; stroke: #000000"/>
<use href="#mf7107f1a10" x="258.81" y="374.96" style="fill-opacity: 0; stroke: #000000"/>
<use href="#mf7107f1a10" x="258.81" y="375.42" style="fill-opacity: 0; stroke: #000000"/>
<use href="#mf7107f1a10" x="258.81" y="375.40" style="fill-opacity: 0; stroke: #000000"/>
<use href="#mf7107f1a10" x="258.81" y="390.80" style="fill-opacity: 0; stroke: #000000"/>
<use href="#mf7107f1a10" x="258.81" y="374.97" style="fill-opacity: 0; stroke: #000000"/>
<use href="#mf7107f1a10" x="258.81" y="378.09" style="fill-opacity: 0; stroke: #000000"/>
<use href="#mf7107f1a10" x="258.81" y="382.82" style="fill-opacity: 0; stroke: #000000"/>
<use href="#mf7107f1a10" x="258.81" y="375.53" style="fill-opacity: 0; stroke: #000000"/>
<use href="#mf7107f1a10" x="258.81" y="375.10" style="fill-opacity: 0; stroke: #000000"/>
<use href="#mf7107f1a10" x="258.81" y="374.76" style="fill-opacity: 0; stroke: #000000"/>
<use href="#mf7107f1a10" x="258.81" y="375.27" style="fill-opacity: 0; stroke: #000000"/>
<use href="#mf7107f1a10" x="258.81" y="375.22" style="fill-opacity: 0; stroke: #000000"/>
<use href="#mf7107f1a10" x="258.81" y="375.58" style="fill-opacity: 0; stroke: #000000"/>
<use href="#mf7107f1a10" x="258.81" y="375.29" style="fill-opacity: 0; stroke: #000000"/>
<use href="#mf7107f1a10" x="258.81" y="375.19" style="fill-opacity: 0; stroke: #000000"/>
<use href="#mf7107f1a10" x="258.81" y="375.23" style="fill-opacity: 0; stroke: #000000"/>
<use href="#mf7107f1a10" x="258.81" y="380.23" style="fill-opacity: 0; stroke: #000000"/>
<use href="#mf7107f1a10" x="258.81" y="375.87" style="fill-opacity: 0; stroke: #000000"/>
<use href="#mf7107f1a10" x="258.81" y="439.86" style="fill-opacity: 0; stroke: #000000"/>
<use href="#mf7107f1a10" x="258.81" y="379.90" style="fill-opacity: 0; stroke: #000000"/>
<use href="#mf7107f1a10" x="258.81" y="375.08" style="fill-opacity: 0; stroke: #000000"/>
<use href="#mf7107f1a10" x="258.81" y="376.05" style="fill-opacity: 0; stroke: #000000"/>
<use href="#mf7107f1a10" x="258.81" y="376.35" style="fill-opacity: 0; stroke: #000000"/>
<use href="#mf7107f1a10" x="258.81" y="374.91" style="fill-opacity: 0; stroke: #000000"/>
<use href="#mf7107f1a10" x="258.81" y="374.97" style="fill-opacity: 0; stroke: #000000"/>
<use href="#mf7107f1a10" x="258.81" y="376.43" style="fill-opacity: 0; stroke: #000000"/>
<use href="#mf7107f1a10" x="258.81" y="375.22" style="fill-opacity: 0; stroke: #000000"/>
<use href="#mf7107f1a10" x="258.81" y="375.61" style="fill-opacity: 0; stroke: #000000"/>
<use href="#mf7107f1a10" x="258.81" y="375.85" style="fill-opacity: 0; stroke: #000000"/>
<use href="#mf7107f1a10" x="258.81" y="377.08" style="fill-opacity: 0; stroke: #000000"/>
<use href="#mf7107f1a10" x="258.81" y="375.03" style="fill-opacity: 0; stroke: #000000"/>
<use href="#mf7107f1a10" x="258.81" y="375.60" style="fill-opacity: 0; stroke: #000000"/>
<use href="#mf7107f1a10" x="258.81" y="374.92" style="fill-opacity: 0; stroke: #000000"/>
<use href="#mf7107f1a10" x="258.81" y="375.15" style="fill-opacity: 0; stroke: #000000"/>
<use href="#mf7107f1a10" x="258.81" y="374.94" style="fill-opacity: 0; stroke: #000000"/>
<use href="#mf7107f1a10" x="258.81" y="375.24" style="fill-opacity: 0; stroke: #000000"/>
<use href="#mf7107f1a10" x="258.81" y="375.70" style="fill-opacity: 0; stroke: #000000"/>
<use href="#mf7107f1a10" x="258.81" y="375.08" style="fill-opacity: 0; stroke: #000000"/>
<use href="#mf7107f1a10" x="258.81" y="400.93" style="fill-opacity: 0; stroke: #000000"/>
<use href="#mf7107f1a10" x="258.81" y="379.93" style="fill-opacity: 0; stroke: #000000"/>
<use href="#mf7107f1a10" x="258.81" y="375.84" style="fill-opacity: 0; stroke: #000000"/>
<use href="#mf7107f1a10" x="258.81" y="376.14" style="fill-opacity: 0; stroke: #000000"/>
<use href="#mf7107f1a10" x="258.81" y="376.49" style="fill-opacity: 0; stroke: #000000"/>
<use href="#mf7107f1a10" x="258.81" y="375.04" style="fill-opacity: 0; stroke: #000000"/>
<use href="#mf7107f1a10" x="258.81" y="375.23" style="fill-opacity: 0; stroke: #000000"/>
<use href="#mf7107f1a10" x="258.81" y="375.35" style="fill-opacity: 0; stroke: #000000"/>
<use href="#mf7107f1a10" x="258.81" y="376.00" style="fill-opacity: 0; stroke: #000000"/>
<use href="#mf7107f1a10" x="258.81" y="377.10" style="fill-opacity: 0; stroke: #000000"/>
<use href="#mf7107f1a10" x="258.81" y="377.01" style="fill-opacity: 0; stroke: #000000"/>
<use href="#mf7107f1a10" x="258.81" y="375.77" style="fill-opacity: 0; stroke: #000000"/>
<use href="#mf7107f1a10" x="258.81" y="375.47" style="fill-opacity: 0; stroke: #000000"/>
<use href="#mf7107f1a10" x="258.81" y="381.75" style="fill-opacity: 0; stroke: #000000"/>
<use href="#mf7107f1a10" x="258.81" y="390.26" style="fill-opacity: 0; stroke: #000000"/>
<use href="#mf7107f1a10" x="258.81" y="375.48" style="fill-opacity: 0; stroke: #000000"/>
<use href="#mf7107f1a10" x="258.81" y="375.56" style="fill-opacity: 0; stroke: #000000"/>
<use href="#mf7107f1a10" x="258.81" y="375.65" style="fill-opacity: 0; stroke: #000000"/>
<use href="#mf7107f1a10" x="258.81" y="375.66" style="fill-opacity: 0; stroke: #000000"/>
<use href="#mf7107f1a10" x="258.81" y="375.47" style="fill-opacity: 0; stroke: #000000"/>
<use href="#mf7107f1a10" x="258.81" y="378.62" style="fill-opacity: 0; stroke: #000000"/>
<use href="#mf7107f1a10" x="258.81" y="395.60" style="fill-opacity: 0; stroke: #000000"/>
<use href="#mf7107f1a10" x="258.81" y="378.33" style="fill-opacity: 0; stroke: #000000"/>
<use href="#mf7107f1a10" x="258.81" y="375.16" style="fill-opacity: 0; stroke: #000000"/>
<use href="#mf7107f1a10" x="258.81" y="375.57" style="fill-opacity: 0; stroke: #000000"/>
<use href="#mf7107f1a10" x="258.81" y="376.43" style="fill-opacity: 0; stroke: #000000"/>
<use href="#mf7107f1a10" x="258.81" y="375.82" style="fill-opacity: 0; stroke: #000000"/>
<use href="#mf7107f1a10" x="258.81" y="375.29" style="fill-opacity: 0; stroke: #000000"/>
<use href="#mf7107f1a10" x="258.81" y="380.13" style="fill-opacity: 0; stroke: #000000"/>
<use href="#mf7107f1a10" x="258.81" y="376.57" style="fill-opacity: 0; stroke: #000000"/>
<use href="#mf7107f1a10" x="258.81" y="377.74" style="fill-opacity: 0; stroke: #000000"/>
<use href="#mf7107f1a10" x="258.81" y="375.20" style="fill-opacity: 0; stroke: #000000"/>
<use href="#mf7107f1a10" x="258.81" y="375.39" style="fill-opacity: 0; stroke: #000000"/>
<use href="#mf7107f1a10" x="258.81" y="375.39" style="fill-opacity: 0; stroke: #000000"/>
<use href="#mf7107f1a10" x="258.81" y="375.77" style="fill-opacity: 0; stroke: #000000"/>
<use href="#mf7107f1a10" x="258.81" y="375.20" style="fill-opacity: 0; stroke: #000000"/>
<use href="#mf7107f1a10" x="258.81" y="375.66" style="fill-opacity: 0; stroke: #000000"/>
<use href="#mf7107f1a10" x="258.81" y="376.11" style="fill-opacity: 0; stroke: #000000"/>
<use href="#mf7107f1a10" x="258.81" y="375.20" style="fill-opacity: 0; stroke: #000000"/>
<use href="#mf7107f1a10" x="258.81" y="375.71" style="fill-opacity: 0; stroke: #000000"/>
<use href="#mf7107f1a10" x="258.81" y="416.93" style="fill-opacity: 0; stroke: #000000"/>
<use href="#mf7107f1a10" x="258.81" y="375.43" style="fill-opacity: 0; stroke: #000000"/>
<use href="#mf7107f1a10" x="258.81" y="379.20" style="fill-opacity: 0; stroke: #000000"/>
<use href="#mf7107f1a10" x="258.81" y="375.54" style="fill-opacity: 0; stroke: #000000"/>
<use href="#mf7107f1a10" x="258.81" y="375.94" style="fill-opacity: 0; stroke: #000000"/>
<use href="#mf7107f1a10" x="258.81" y="375.32" style="fill-opacity: 0; stroke: #000000"/>
<use href="#mf7107f1a10" x="258.81" y="375.20" style="fill-opacity: 0; stroke: #000000"/>
<use href="#mf7107f1a10" x="258.81" y="375.34" style="fill-opacity: 0; stroke: #000000"/>
<use href="#mf7107f1a10" x="258.81" y="375.47" style="fill-opacity: 0; stroke: #000000"/>
<use href="#mf7107f1a10" x="258.81" y="375.45" style="fill-opacity: 0; stroke: #000000"/>
<use href="#mf7107f1a10" x="258.81" y="375.42" style="fill-opacity: 0; stroke: #000000"/>
<use href="#mf7107f1a10" x="258.81" y="375.29" style="fill-opacity: 0; stroke: #000000"/>
<use href="#mf7107f1a10" x="258.81" y="375.95" style="fill-opacity: 0; stroke: #000000"/>
<use href="#mf7107f1a10" x="258.81" y="375.31" style="fill-opacity: 0; stroke: #000000"/>
<use href="#mf7107f1a10" x="258.81" y="376.45" style="fill-opacity: 0; stroke: #000000"/>
<use href="#mf7107f1a10" x="258.81" y="376.84" style="fill-opacity: 0; stroke: #000000"/>
<use href="#mf7107f1a10" x="258.81" y="465.78" style="fill-opacity: 0; stroke: #000000"/>
<use href="#mf7107f1a10" x="258.81" y="375.34" style="fill-opacity: 0; stroke: #000000"/>
<use href="#mf7107f1a10" x="258.81" y="375.70" style="fill-opacity: 0; stroke: #000000"/>
<use href="#mf7107f1a10" x="258.81" y="375.85" style="fill-opacity: 0; stroke: #000000"/>
<use href="#mf7107f1a10" x="258.81" y="375.53" style="fill-opacity: 0; stroke: #000000"/>
<use href="#mf7107f1a10" x="258.81" y="379.63" style="fill-opacity: 0; stroke: #000000"/>
<use href="#mf7107f1a10" x="258.81" y="375.10" style="fill-opacity: 0; stroke: #000000"/>
<use href="#mf7107f1a10" x="258.81" y="384.93" style="fill-opacity: 0; stroke: #000000"/>
<use href="#mf7107f1a10" x="258.81" y="375.54" style="fill-opacity: 0; stroke: #000000"/>
<use href="#mf7107f1a10" x="258.81" y="375.89" style="fill-opacity: 0; stroke: #000000"/>
<use href="#mf7107f1a10" x="258.81" y="375.31" style="fill-opacity: 0; stroke: #000000"/>
<use href="#mf7107f1a10" x="258.81" y="375.37" style="fill-opacity: 0; stroke: #000000"/>
<use href="#mf7107f1a10" x="258.81" y="375.44" style="fill-opacity: 0; stroke: #000000"/>
<use href="#mf7107f1a10" x="258.81" y="375.52" style="fill-opacity: 0; stroke: #000000"/>
<use href="#mf7107f1a10" x="258.81" y="381.36" style="fill-opacity: 0; stroke: #000000"/>
<use href="#mf7107f1a10" x="258.81" y="375.53" style="fill-opacity: 0; stroke: #000000"/>
<use href="#mf7107f1a10" x="258.81" y="375.70" style="fill-opacity: 0; stroke: #000000"/>
<use href="#mf7107f1a10" x="258.81" y="375.73" style="fill-opacity: 0; stroke: #000000"/>
<use href="#mf7107f1a10" x="258.81" y="375.27" style="fill-opacity: 0; stroke: #000000"/>
<use href="#mf7107f1a10" x="258.81" y="375.60" style="fill-opacity: 0; stroke: #000000"/>
<use href="#mf7107f1a10" x="258.81" y="377.09" style="fill-opacity: 0; stroke: #000000"/>
<use href="#mf7107f1a10" x="258.81" y="375.20" style="fill-opacity: 0; stroke: #000000"/>
<use href="#mf7107f1a10" x="258.81" y="375.28" style="fill-opacity: 0; stroke: #000000"/>
<use href="#mf7107f1a10" x="258.81" y="375.19" style="fill-opacity: 0; stroke: #000000"/>
<use href="#mf7107f1a10" x="258.81" y="375.15" style="fill-opacity: 0; stroke: #000000"/>
<use href="#mf7107f1a10" x="258.81" y="375.56" style="fill-opacity: 0; stroke: #000000"/>
<use href="#mf7107f1a10" x="258.81" y="375.04" style="fill-opacity: 0; stroke: #000000"/>
<use href="#mf7107f1a10" x="258.81" y="375.31" style="fill-opacity: 0; stroke: #000000"/>
<use href="#mf7107f1a10" x="258.81" y="377.64" style="fill-opacity: 0; stroke: #000000"/>
<use href="#mf7107f1a10" x="258.81" y="375.21" style="fill-opacity: 0; stroke: #000000"/>
<use href="#mf7107f1a10" x="258.81" y="375.12" style="fill-opacity: 0; stroke: #000000"/>
<use href="#mf7107f1a10" x="258.81" y="375.42" style="fill-opacity: 0; stroke: #000000"/>
<use href="#mf7107f1a10" x="258.81" y="376.30" style="fill-opacity: 0; stroke: #000000"/>
<use href="#mf7107f1a10" x="258.81" y="375.17" style="fill-opacity: 0; stroke: #000000"/>
<use href="#mf7107f1a10" x="258.81" y="375.55" style="fill-opacity: 0; stroke: #000000"/>
<use href="#mf7107f1a10" x="258.81" y="375.93" style="fill-opacity: 0; stroke: #000000"/>
<use href="#mf7107f1a10" x="258.81" y="379.77" style="fill-opacity: 0; stroke: #000000"/>
<use href="#mf7107f1a10" x="258.81" y="374.94" style="fill-opacity: 0; stroke: #000000"/>
<use href="#mf7107f1a10" x="258.81" y="374.99" style="fill-opacity: 0; stroke: #000000"/>
<use href="#mf7107f1a10" x="258.81" y="375.08" style="fill-opacity: 0; stroke: #000000"/>
<use href="#mf7107f1a10" x="258.81" y="375.99" style="fill-opacity: 0; stroke: #000000"/>
<use href="#mf7107f1a10" x="258.81" y="375.59" style="fill-opacity: 0; stroke: #000000"/>
<use href="#mf7107f1a10" x="258.81" y="378.25" style="fill-opacity: 0; stroke: #000000"/>
<use href="#mf7107f1a10" x="258.81" y="380.99" style="fill-opacity: 0; stroke: #000000"/>
<use href="#mf7107f1a10" x="258.81" y="375.75" style="fill-opacity: 0; stroke: #000000"/>
<use href="#mf7107f1a10" x="258.81" y="375.10" style="fill-opacity: 0; stroke: #000000"/>
<use href="#mf7107f1a10" x="258.81" y="375.19" style="fill-opacity: 0; stroke: #000000"/>
<use href="#mf7107f1a10" x="258.81" y="378.55" style="fill-opacity: 0; stroke: #000000"/>
<use href="#mf7107f1a10" x="258.81" y="386.66" style="fill-opacity: 0; stroke: #000000"/>
<use href="#mf7107f1a10" x="258.81" y="375.73" style="fill-opacity: 0; stroke: #000000"/>
<use href="#mf7107f1a10" x="258.81" y="375.40" style="fill-opacity: 0; stroke: #000000"/>
<use href="#mf7107f1a10" x="258.81" y="375.72" style="fill-opacity: 0; stroke: #000000"/>
<use href="#mf7107f1a10" x="258.81" y="375.25" style="fill-opacity: 0; stroke: #000000"/>
<use href="#mf7107f1a10" x="258.81" y="380.13" style="fill-opacity: 0; stroke: #000000"/>
<use href="#mf7107f1a10" x="258.81" y="375.75" style="fill-opacity: 0; stroke: #000000"/>
<use href="#mf7107f1a10" x="258.81" y="379.60" style="fill-opacity: 0; stroke: #000000"/>
<use href="#mf7107f1a10" x="258.81" y="375.05" style="fill-opacity: 0; stroke: #000000"/>
<use href="#mf7107f1a10" x="258.81" y="375.82" style="fill-opacity: 0; stroke: #000000"/>
<use href="#mf7107f1a10" x="258.81" y="375.23" style="fill-opacity: 0; stroke: #000000"/>
<use href="#mf7107f1a10" x="258.81" y="376.12" style="fill-opacity: 0; stroke: #000000"/>
<use href="#mf7107f1a10" x="258.81" y="375.39" style="fill-opacity: 0; stroke: #000000"/>
<use href="#mf7107f1a10" x="258.81" y="376.44" style="fill-opacity: 0; stroke: #000000"/>
<use href="#mf7107f1a10" x="258.81" y="374.85" style="fill-opacity: 0; stroke: #000000"/>
<use href="#mf7107f1a10" x="258.81" y="374.88" style="fill-opacity: 0; stroke: #000000"/>
<use href="#mf7107f1a10" x="258.81" y="374.85" style="fill-opacity: 0; stroke: #000000"/>
<use href="#mf7107f1a10" x="258.81" y="375.15" style="fill-opacity: 0; stroke: #000000"/>
<use href="#mf7107f1a10" x="258.81" y="375.14" style="fill-opacity: 0; stroke: #000000"/>
<use href="#mf7107f1a10" x="258.81" y="375.02" style="fill-opacity: 0; stroke: #000000"/>
<use href="#mf7107f1a10" x="258.81" y="375.63" style="fill-opacity: 0; stroke: #000000"/>
<use href="#mf7107f1a10" x="258.81" y="378.49" style="fill-opacity: 0; stroke: #000000"/>
<use href="#mf7107f1a10" x="258.81" y="386.56" style="fill-opacity: 0; stroke: #000000"/>
<use href="#mf7107f1a10" x="258.81" y="379.17" style="fill-opacity: 0; stroke: #000000"/>
<use href="#mf7107f1a10" x="258.81" y="375.01" style="fill-opacity: 0; stroke: #000000"/>
<use href="#mf7107f1a10" x="258.81" y="375.08" style="fill-opacity: 0; stroke: #000000"/>
<use href="#mf7107f1a10" x="258.81" y="374.90" style="fill-opacity: 0; stroke: #000000"/>
<use href="#mf7107f1a10" x="258.81" y="375.55" style="fill-opacity: 0; stroke: #000000"/>
<use href="#mf7107f1a10" x="258.81" y="375.79" style="fill-opacity: 0; stroke: #000000"/>
<use href="#mf7107f1a10" x="258.81" y="375.20" style="fill-opacity: 0; stroke: #000000"/>
<use href="#mf7107f1a10" x="258.81" y="375.60" style="fill-opacity: 0; stroke: #000000"/>
<use href="#mf7107f1a10" x="258.81" y="375.31" style="fill-opacity: 0; stroke: #000000"/>
<use href="#mf7107f1a10" x="258.81" y="375.78" style="fill-opacity: 0; stroke: #000000"/>
<use href="#mf7107f1a10" x="258.81" y="375.39" style="fill-opacity: 0; stroke: #000000"/>
<use href="#mf7107f1a10" x="258.81" y="374.83" style="fill-opacity: 0; stroke: #000000"/>
<use href="#mf7107f1a10" x="258.81" y="374.99" style="fill-opacity: 0; stroke: #000000"/>
<use href="#mf7107f1a10" x="258.81" y="374.75" style="fill-opacity: 0; stroke: #000000"/>
<use href="#mf7107f1a10" x="258.81" y="381.90" style="fill-opacity: 0; stroke: #000000"/>
<use href="#mf7107f1a10" x="258.81" y="376.13" style="fill-opacity: 0; stroke: #000000"/>
<use href="#mf7107f1a10" x="258.81" y="406.26" style="fill-opacity: 0; stroke: #000000"/>
<use href="#mf7107f1a10" x="258.81" y="375.06" style="fill-opacity: 0; stroke: #000000"/>
<use href="#mf7107f1a10" x="258.81" y="374.79" style="fill-opacity: 0; stroke: #000000"/>
<use href="#mf7107f1a10" x="258.81" y="375.55" style="fill-opacity: 0; stroke: #000000"/>
<use href="#mf7107f1a10" x="258.81" y="374.74" style="fill-opacity: 0; stroke: #000000"/>
<use href="#mf7107f1a10" x="258.81" y="374.90" style="fill-opacity: 0; stroke: #000000"/>
<use href="#mf7107f1a10" x="258.81" y="374.75" style="fill-opacity: 0; stroke: #000000"/>
<use href="#mf7107f1a10" x="258.81" y="375.43" style="fill-opacity: 0; stroke: #000000"/>
<use href="#mf7107f1a10" x="258.81" y="374.70" style="fill-opacity: 0; stroke: #000000"/>
<use href="#mf7107f1a10" x="258.81" y="375.04" style="fill-opacity: 0; stroke: #000000"/>
<use href="#mf7107f1a10" x="258.81" y="378.82" style="fill-opacity: 0; stroke: #000000"/>
<use href="#mf7107f1a10" x="258.81" y="377.81" style="fill-opacity: 0; stroke: #000000"/>
<use href="#mf7107f1a10" x="258.81" y="375.44" style="fill-opacity: 0; stroke: #000000"/>
<use href="#mf7107f1a10" x="258.81" y="374.72" style="fill-opacity: 0; stroke: #000000"/>
<use href="#mf7107f1a10" x="258.81" y="375.18" style="fill-opacity: 0; stroke: #000000"/>
<use href="#mf7107f1a10" x="258.81" y="374.84" style="fill-opacity: 0; stroke: #000000"/>
<use href="#mf7107f1a10" x="258.81" y="375.35" style="fill-opacity: 0; stroke: #000000"/>
<use href="#mf7107f1a10" x="258.81" y="374.72" style="fill-opacity: 0; stroke: #000000"/>
<use href="#mf7107f1a10" x="258.81" y="374.82" style="fill-opacity: 0; stroke: #000000"/>
<use href="#mf7107f1a10" x="258.81" y="376.24" style="fill-opacity: 0; stroke: #000000"/>
<use href="#mf7107f1a10" x="258.81" y="375.29" style="fill-opacity: 0; stroke: #000000"/>
<use href="#mf7107f1a10" x="258.81" y="378.35" style="fill-opacity: 0; stroke: #000000"/>
<use href="#mf7107f1a10" x="258.81" y="374.67" style="fill-opacity: 0; stroke: #000000"/>
<use href="#mf7107f1a10" x="258.81" y="374.63" style="fill-opacity: 0; stroke: #000000"/>
<use href="#mf7107f1a10" x="258.81" y="397.20" style="fill-opacity: 0; stroke: #000000"/>
<use href="#mf7107f1a10" x="258.81" y="375.03" style="fill-opacity: 0; stroke: #000000"/>
<use href="#mf7107f1a10" x="258.81" y="375.14" style="fill-opacity: 0; stroke: #000000"/>
<use href="#mf7107f1a10" x="258.81" y="387.07" style="fill-opacity: 0; stroke: #000000"/>
<use href="#mf7107f1a10" x="258.81" y="374.77" style="fill-opacity: 0; stroke: #000000"/>
<use href="#mf7107f1a10" x="258.81" y="374.76" style="fill-opacity: 0; stroke: #000000"/>
<use href="#mf7107f1a10" x="258.81" y="376.41" style="fill-opacity: 0; stroke: #000000"/>
<use href="#mf7107f1a10" x="258.81" y="374.87" style="fill-opacity: 0; stroke: #000000"/>
<use href="#mf7107f1a10" x="258.81" y="374.89" style="fill-opacity: 0; stroke: #000000"/>
<use href="#mf7107f1a10" x="258.81" y="375.01" style="fill-opacity: 0; stroke: #000000"/>
<use href="#mf7107f1a10" x="258.81" y="374.66" style="fill-opacity: 0; stroke: #000000"/>
<use href="#mf7107f1a10" x="258.81" y="375.11" style="fill-opacity: 0; stroke: #000000"/>
<use href="#mf7107f1a10" x="258.81" y="375.23" style="fill-opacity: 0; stroke: #000000"/>
<use href="#mf7107f1a10" x="258.81" y="375.48" style="fill-opacity: 0; stroke: #000000"/>
<use href="#mf7107f1a10" x="258.81" y="374.73" style="fill-opacity: 0; stroke: #000000"/>
<use href="#mf7107f1a10" x="258.81" y="376.54" style="fill-opacity: 0; stroke: #000000"/>
<use href="#mf7107f1a10" x="258.81" y="375.56" style="fill-opacity: 0; stroke: #000000"/>
<use href="#mf7107f1a10" x="258.81" y="374.76" style="fill-opacity: 0; stroke: #000000"/>
<use href="#mf7107f1a10" x="258.81" y="376.77" style="fill-opacity: 0; stroke: #000000"/>
<use href="#mf7107f1a10" x="258.81" y="375.96" style="fill-opacity: 0; stroke: #000000"/>
<use href="#mf7107f1a10" x="258.81" y="375.23" style="fill-opacity: 0; stroke: #000000"/>
<use href="#mf7107f1a10" x="258.81" y="374.56" style="fill-opacity: 0; stroke: #000000"/>
<use href="#mf7107f1a10" x="258.81" y="375.11" style="fill-opacity: 0; stroke: #000000"/>
<use href="#mf7107f1a10" x="258.81" y="378.15" style="fill-opacity: 0; stroke: #000000"/>
<use href="#mf7107f1a10" x="258.81" y="375.21" style="fill-opacity: 0; stroke: #000000"/>
<use href="#mf7107f1a10" x="258.81" y="375.44" style="fill-opacity: 0; stroke: #000000"/>
<use href="#mf7107f1a10" x="258.81" y="374.92" style="fill-opacity: 0; stroke: #000000"/>
<use href="#mf7107f1a10" x="258.81" y="379.65" style="fill-opacity: 0; stroke: #000000"/>
<use href="#mf7107f1a10" x="258.81" y="376.21" style="fill-opacity: 0; stroke: #000000"/>
<use href="#mf7107f1a10" x="258.81" y="375.50" style="fill-opacity: 0; stroke: #000000"/>
<use href="#mf7107f1a10" x="258.81" y="386.42" style="fill-opacity: 0; stroke: #000000"/>
<use href="#mf7107f1a10" x="258.81" y="375.15" style="fill-opacity: 0; stroke: #000000"/>
<use href="#mf7107f1a10" x="258.81" y="375.14" style="fill-opacity: 0; stroke: #000000"/>
<use href="#mf7107f1a10" x="258.81" y="374.82" style="fill-opacity: 0; stroke: #000000"/>
<use href="#mf7107f1a10" x="258.81" y="386.53" style="fill-opacity: 0; stroke: #000000"/>
<use href="#mf7107f1a10" x="258.81" y="377.46" style="fill-opacity: 0; stroke: #000000"/>
<use href="#mf7107f1a10" x="258.81" y="375.01" style="fill-opacity: 0; stroke: #000000"/>
<use href="#mf7107f1a10" x="258.81" y="375.84" style="fill-opacity: 0; stroke: #000000"/>
<use href="#mf7107f1a10" x="258.81" y="392.40" style="fill-opacity: 0; stroke: #000000"/>
<use href="#mf7107f1a10" x="258.81" y="375.05" style="fill-opacity: 0; stroke: #000000"/>
<use href="#mf7107f1a10" x="258.81" y="377.64" style="fill-opacity: 0; stroke: #000000"/>
<use href="#mf7107f1a10" x="258.81" y="374.63" style="fill-opacity: 0; stroke: #000000"/>
<use href="#mf7107f1a10" x="258.81" y="379.64" style="fill-opacity: 0; stroke: #000000"/>
<use href="#mf7107f1a10" x="258.81" y="375.15" style="fill-opacity: 0; stroke: #000000"/>
<use href="#mf7107f1a10" x="258.81" y="375.36" style="fill-opacity: 0; stroke: #000000"/>
<use href="#mf7107f1a10" x="258.81" y="374.53" style="fill-opacity: 0; stroke: #000000"/>
<use href="#mf7107f1a10" x="258.81" y="375.35" style="fill-opacity: 0; stroke: #000000"/>
<use href="#mf7107f1a10" x="258.81" y="374.55" style="fill-opacity: 0; stroke: #000000"/>
<use href="#mf7107f1a10" x="258.81" y="374.65" style="fill-opacity: 0; stroke: #000000"/>
<use href="#mf7107f1a10" x="258.81" y="374.59" style="fill-opacity: 0; stroke: #000000"/>
<use href="#mf7107f1a10" x="258.81" y="376.85" style="fill-opacity: 0; stroke: #000000"/>
<use href="#mf7107f1a10" x="258.81" y="374.57" style="fill-opacity: 0; stroke: #000000"/>
<use href="#mf7107f1a10" x="258.81" y="375.67" style="fill-opacity: 0; stroke: #000000"/>
<use href="#mf7107f1a10" x="258.81" y="374.76" style="fill-opacity: 0; stroke: #000000"/>
<use href="#mf7107f1a10" x="258.81" y="374.74" style="fill-opacity: 0; stroke: #000000"/>
<use href="#mf7107f1a10" x="258.81" y="377.98" style="fill-opacity: 0; stroke: #000000"/>
<use href="#mf7107f1a10" x="258.81" y="374.63" style="fill-opacity: 0; stroke: #000000"/>
<use href="#mf7107f1a10" x="258.81" y="383.12" style="fill-opacity: 0; stroke: #000000"/>
<use href="#mf7107f1a10" x="258.81" y="375.43" style="fill-opacity: 0; stroke: #000000"/>
<use href="#mf7107f1a10" x="258.81" y="374.63" style="fill-opacity: 0; stroke: #000000"/>
<use href="#mf7107f1a10" x="258.81" y="374.77" style="fill-opacity: 0; stroke: #000000"/>
<use href="#mf7107f1a10" x="258.81" y="375.99" style="fill-opacity: 0; stroke: #000000"/>
<use href="#mf7107f1a10" x="258.81" y="374.62" style="fill-opacity: 0; stroke: #000000"/>
<use href="#mf7107f1a10" x="258.81" y="374.98" style="fill-opacity: 0; stroke: #000000"/>
<use href="#mf7107f1a10" x="258.81" y="374.67" style="fill-opacity: 0; stroke: #000000"/>
<use href="#mf7107f1a10" x="258.81" y="375.03" style="fill-opacity: 0; stroke: #000000"/>
<use href="#mf7107f1a10" x="258.81" y="374.83" style="fill-opacity: 0; stroke: #000000"/>
<use href="#mf7107f1a10" x="258.81" y="374.65" style="fill-opacity: 0; stroke: #000000"/>
<use href="#mf7107f1a10" x="258.81" y="375.11" style="fill-opacity: 0; stroke: #000000"/>
<use href="#mf7107f1a10" x="258.81" y="379.48" style="fill-opacity: 0; stroke: #000000"/>
<use href="#mf7107f1a10" x="258.81" y="375.04" style="fill-opacity: 0; stroke: #000000"/>
<use href="#mf7107f1a10" x="258.81" y="376.08" style="fill-opacity: 0; stroke: #000000"/>
<use href="#mf7107f1a10" x="258.81" y="405.52" style="fill-opacity: 0; stroke: #000000"/>
<use href="#mf7107f1a10" x="258.81" y="374.83" style="fill-opacity: 0; stroke: #000000"/>
<use href="#mf7107f1a10" x="258.81" y="374.55" style="fill-opacity: 0; stroke: #000000"/>
<use href="#mf7107f1a10" x="258.81" y="374.58" style="fill-opacity: 0; stroke: #000000"/>
<use href="#mf7107f1a10" x="258.81" y="395.60" style="fill-opacity: 0; stroke: #000000"/>
<use href="#mf7107f1a10" x="258.81" y="374.98" style="fill-opacity: 0; stroke: #000000"/>
<use href="#mf7107f1a10" x="258.81" y="375.23" style="fill-opacity: 0; stroke: #000000"/>
<use href="#mf7107f1a10" x="258.81" y="375.16" style="fill-opacity: 0; stroke: #000000"/>
<use href="#mf7107f1a10" x="258.81" y="375.09" style="fill-opacity: 0; stroke: #000000"/>
<use href="#mf7107f1a10" x="258.81" y="374.53" style="fill-opacity: 0; stroke: #000000"/>
<use href="#mf7107f1a10" x="258.81" y="380.11" style="fill-opacity: 0; stroke: #000000"/>
<use href="#mf7107f1a10" x="258.81" y="374.82" style="fill-opacity: 0; stroke: #000000"/>
<use href="#mf7107f1a10" x="258.81" y="374.84" style="fill-opacity: 0; stroke: #000000"/>
<use href="#mf7107f1a10" x="258.81" y="374.61" style="fill-opacity: 0; stroke: #000000"/>
<use href="#mf7107f1a10" x="258.81" y="375.41" style="fill-opacity: 0; stroke: #000000"/>
<use href="#mf7107f1a10" x="258.81" y="375.35" style="fill-opacity: 0; stroke: #000000"/>
<use href="#mf7107f1a10" x="258.81" y="374.59" style="fill-opacity: 0; stroke: #000000"/>
<use href="#mf7107f1a10" x="258.81" y="374.66" style="fill-opacity: 0; stroke: #000000"/>
<use href="#mf7107f1a10" x="258.81" y="382.48" style="fill-opacity: 0; stroke: #000000"/>
<use href="#mf7107f1a10" x="258.81" y="374.98" style="fill-opacity: 0; stroke: #000000"/>
<use href="#mf7107f1a10" x="258.81" y="379.99" style="fill-opacity: 0; stroke: #000000"/>
<use href="#mf7107f1a10" x="258.81" y="374.56" style="fill-opacity: 0; stroke: #000000"/>
<use href="#mf7107f1a10" x="258.81" y="374.58" style="fill-opacity: 0; stroke: #000000"/>
<use href="#mf7107f1a10" x="258.81" y="374.70" style="fill-opacity: 0; stroke: #000000"/>
<use href="#mf7107f1a10" x="258.81" y="375.21" style="fill-opacity: 0; stroke: #000000"/>
<use href="#mf7107f1a10" x="258.81" y="374.64" style="fill-opacity: 0; stroke: #000000"/>
<use href="#mf7107f1a10" x="258.81" y="375.79" style="fill-opacity: 0; stroke: #000000"/>
<use href="#mf7107f1a10" x="258.81" y="374.77" style="fill-opacity: 0; stroke: #000000"/>
<use href="#mf7107f1a10" x="258.81" y="375.04" style="fill-opacity: 0; stroke: #000000"/>
<use href="#mf7107f1a10" x="258.81" y="375.25" style="fill-opacity: 0; stroke: #000000"/>
<use href="#mf7107f1a10" x="258.81" y="375.55" style="fill-opacity: 0; stroke: #000000"/>
<use href="#mf7107f1a10" x="258.81" y="374.84" style="fill-opacity: 0; stroke: #000000"/>
<use href="#mf7107f1a10" x="258.81" y="375.77" style="fill-opacity: 0; stroke: #000000"/>
<use href="#mf7107f1a10" x="258.81" y="374.71" style="fill-opacity: 0; stroke: #000000"/>
<use href="#mf7107f1a10" x="258.81" y="375.86" style="fill-opacity: 0; stroke: #000000"/>
<use href="#mf7107f1a10" x="258.81" y="374.72" style="fill-opacity: 0; stroke: #000000"/>
<use href="#mf7107f1a10" x="258.81" y="374.54" style="fill-opacity: 0; stroke: #000000"/>
<use href="#mf7107f1a10" x="258.81" y="374.77" style="fill-opacity: 0; stroke: #000000"/>
<use href="#mf7107f1a10" x="258.81" y="374.53" style="fill-opacity: 0; stroke: #000000"/>
<use href="#mf7107f1a10" x="258.81" y="374.53" style="fill-opacity: 0; stroke: #000000"/>
<use href="#mf7107f1a10" x="258.81" y="376.18" style="fill-opacity: 0; stroke: #000000"/>
<use href="#mf7107f1a10" x="258.81" y="375.51" style="fill-opacity: 0; stroke: #000000"/>
<use href="#mf7107f1a10" x="258.81" y="379.60" style="fill-opacity: 0; stroke: #000000"/>
<use href="#mf7107f1a10" x="258.81" y="374.54" style="fill-opacity: 0; stroke: #000000"/>
<use href="#mf7107f1a10" x="258.81" y="374.85" style="fill-opacity: 0; stroke: #000000"/>
<use href="#mf7107f1a10" x="258.81" y="374.56" style="fill-opacity: 0; stroke: #000000"/>
<use href="#mf7107f1a10" x="258.81" y="375.16" style="fill-opacity: 0; stroke: #000000"/>
<use href="#mf7107f1a10" x="258.81" y="374.91" style="fill-opacity: 0; stroke: #000000"/>
<use href="#mf7107f1a10" x="258.81" y="377.39" style="fill-opacity: 0; stroke: #000000"/>
<use href="#mf7107f1a10" x="258.81" y="374.62" style="fill-opacity: 0; stroke: #000000"/>
<use href="#mf7107f1a10" x="258.81" y="377.02" style="fill-opacity: 0; stroke: #000000"/>
<use href="#mf7107f1a10" x="258.81" y="377.96" style="fill-opacity: 0; stroke: #000000"/>
<use href="#mf7107f1a10" x="258.81" y="375.43" style="fill-opacity: 0; stroke: #000000"/>
<use href="#mf7107f1a10" x="258.81" y="381.06" style="fill-opacity: 0; stroke: #000000"/>
<use href="#mf7107f1a10" x="258.81" y="375.08" style="fill-opacity: 0; stroke: #000000"/>
<use href="#mf7107f1a10" x="258.81" y="376.76" style="fill-opacity: 0; stroke: #000000"/>
<use href="#mf7107f1a10" x="258.81" y="383.72" style="fill-opacity: 0; stroke: #000000"/>
<use href="#mf7107f1a10" x="258.81" y="374.63" style="fill-opacity: 0; stroke: #000000"/>
<use href="#mf7107f1a10" x="258.81" y="374.69" style="fill-opacity: 0; stroke: #000000"/>
<use href="#mf7107f1a10" x="258.81" y="374.99" style="fill-opacity: 0; stroke: #000000"/>
<use href="#mf7107f1a10" x="258.81" y="374.62" style="fill-opacity: 0; stroke: #000000"/>
<use href="#mf7107f1a10" x="258.81" y="375.64" style="fill-opacity: 0; stroke: #000000"/>
<use href="#mf7107f1a10" x="258.81" y="467.38" style="fill-opacity: 0; stroke: #000000"/>
<use href="#mf7107f1a10" x="258.81" y="374.82" style="fill-opacity: 0; stroke: #000000"/>
<use href="#mf7107f1a10" x="258.81" y="374.85" style="fill-opacity: 0; stroke: #000000"/>
<use href="#mf7107f1a10" x="258.81" y="376.39" style="fill-opacity: 0; stroke: #000000"/>
<use href="#mf7107f1a10" x="258.81" y="375.03" style="fill-opacity: 0; stroke: #000000"/>
<use href="#mf7107f1a10" x="258.81" y="374.57" style="fill-opacity: 0; stroke: #000000"/>
<use href="#mf7107f1a10" x="258.81" y="374.95" style="fill-opacity: 0; stroke: #000000"/>
<use href="#mf7107f1a10" x="258.81" y="379.76" style="fill-opacity: 0; stroke: #000000"/>
<use href="#mf7107f1a10" x="258.81" y="374.63" style="fill-opacity: 0; stroke: #000000"/>
<use href="#mf7107f1a10" x="258.81" y="376.35" style="fill-opacity: 0; stroke: #000000"/>
<use href="#mf7107f1a10" x="258.81" y="375.13" style="fill-opacity: 0; stroke: #000000"/>
<use href="#mf7107f1a10" x="258.81" y="374.99" style="fill-opacity: 0; stroke: #000000"/>
<use href="#mf7107f1a10" x="258.81" y="374.57" style="fill-opacity: 0; stroke: #000000"/>
<use href="#mf7107f1a10" x="258.81" y="375.45" style="fill-opacity: 0; stroke: #000000"/>
<use href="#mf7107f1a10" x="258.81" y="382.27" style="fill-opacity: 0; stroke: #000000"/>
<use href="#mf7107f1a10" x="258.81" y="374.60" style="fill-opacity: 0; stroke: #000000"/>
<use href="#mf7107f1a10" x="258.81" y="374.70" style="fill-opacity: 0; stroke: #000000"/>
<use href="#mf7107f1a10" x="258.81" y="378.51" style="fill-opacity: 0; stroke: #000000"/>
<use href="#mf7107f1a10" x="258.81" y="375.65" style="fill-opacity: 0; stroke: #000000"/>
<use href="#mf7107f1a10" x="258.81" y="376.01" style="fill-opacity: 0; stroke: #000000"/>
<use href="#mf7107f1a10" x="258.81" y="375.38" style="fill-opacity: 0; stroke: #000000"/>
<use href="#mf7107f1a10" x="258.81" y="374.61" style="fill-opacity: 0; stroke: #000000"/>
<use href="#mf7107f1a10" x="258.81" y="374.58" style="fill-opacity: 0; stroke: #000000"/>
<use href="#mf7107f1a10" x="258.81" y="375.32" style="fill-opacity: 0; stroke: #000000"/>
<use href="#mf7107f1a10" x="258.81" y="374.53" style="fill-opacity: 0; stroke: #000000"/>
<use href="#mf7107f1a10" x="258.81" y="375.20" style="fill-opacity: 0; stroke: #000000"/>
<use href="#mf7107f1a10" x="258.81" y="375.88" style="fill-opacity: 0; stroke: #000000"/>
<use href="#mf7107f1a10" x="258.81" y="375.34" style="fill-opacity: 0; stroke: #000000"/>
<use href="#mf7107f1a10" x="258.81" y="381.73" style="fill-opacity: 0; stroke: #000000"/>
<use href="#mf7107f1a10" x="258.81" y="374.56" style="fill-opacity: 0; stroke: #000000"/>
<use href="#mf7107f1a10" x="258.81" y="374.82" style="fill-opacity: 0; stroke: #000000"/>
<use href="#mf7107f1a10" x="258.81" y="374.99" style="fill-opacity: 0; stroke: #000000"/>
<use href="#mf7107f1a10" x="258.81" y="375.05" style="fill-opacity: 0; stroke: #000000"/>
<use href="#mf7107f1a10" x="258.81" y="374.72" style="fill-opacity: 0; stroke: #000000"/>
<use href="#mf7107f1a10" x="258.81" y="379.49" style="fill-opacity: 0; stroke: #000000"/>
<use href="#mf7107f1a10" x="258.81" y="385.48" style="fill-opacity: 0; stroke: #000000"/>
<use href="#mf7107f1a10" x="258.81" y="375.51" style="fill-opacity: 0; stroke: #000000"/>
<use href="#mf7107f1a10" x="258.81" y="374.68" style="fill-opacity: 0; stroke: #000000"/>
<use href="#mf7107f1a10" x="258.81" y="374.93" style="fill-opacity: 0; stroke: #000000"/>
<use href="#mf7107f1a10" x="258.81" y="374.84" style="fill-opacity: 0; stroke: #000000"/>
<use href="#mf7107f1a10" x="258.81" y="379.07" style="fill-opacity: 0; stroke: #000000"/>
<use href="#mf7107f1a10" x="258.81" y="375.59" style="fill-opacity: 0; stroke: #000000"/>
<use href="#mf7107f1a10" x="258.81" y="374.71" style="fill-opacity: 0; stroke: #000000"/>
<use href="#mf7107f1a10" x="258.81" y="375.28" style="fill-opacity: 0; stroke: #000000"/>
</g>
</g>
<g id="line2d_78">
<path d="M 227.89 359.92 
L 289.73 359.92 
" clip-path="url(#p7c2e4f9756)" style="fill: none; stroke: #ff7f0e"/>
</g>
<g id="patch_66">
<path d="M 52.68 477.93 
L 52.68 296.97 
" style="fill: none; stroke: #000000; stroke-width: 0.8; stroke-linejoin: miter; stroke-linecap: square"/>
</g>
<g id="patch_67">
<path d="M 464.95 477.93 
L 464.95 296.97 
" style="fill: none; stroke: #000000; stroke-width: 0.8; stroke-linejoin: miter; stroke-linecap: square"/>
</g>
<g id="patch_68">
<path d="M 52.68 477.93 
L 464.95 477.93 
" style="fill: none; stroke: #000000; stroke-width: 0.8; stroke-linejoin: miter; stroke-linecap: square"/>
</g>
<g id="patch_69">
<path d="M 52.68 296.97 
L 464.95 296.97 
" style="fill: none; stroke: #000000; stroke-width: 0.8; stroke-linejoin: miter; stroke-linecap: square"/>
</g>
</g>
<g id="axes_4">
<g id="patch_70">
<path d="M 653.35 477.93 
L 1065.72 477.93 
L 1065.72 296.97 
L 653.35 296.97 
z
" style="fill: #ffffff"/>
</g>
<g id="matplotlib.axis_7">
<g id="xtick_15">
<g id="line2d_79">
<path d="M 672.09 477.93 
L 672.09 296.97 
" clip-path="url(#p81cbdafc3b)" style="fill: none; stroke: #b0b0b0; stroke-opacity: 0.3; stroke-width: 0.8; stroke-linecap: square"/>
</g>
<g id="line2d_80">
<g>
<use href="#m7c25c535dc" x="672.09" y="477.93" style="stroke: #000000; stroke-width: 0.8"/>
</g>
</g>
</g>
<g id="xtick_16">
<g id="line2d_81">
<path d="M 747.82 477.93 
L 747.82 296.97 
" clip-path="url(#p81cbdafc3b)" style="fill: none; stroke: #b0b0b0; stroke-opacity: 0.3; stroke-width: 0.8; stroke-linecap: square"/>
</g>
<g id="line2d_82">
<g>
<use href="#m7c25c535dc" x="747.82" y="477.93" style="stroke: #000000; stroke-width: 0.8"/>
</g>
</g>
</g>
<g id="xtick_17">
<g id="line2d_83">
<path d="M 823.56 477.93 
L 823.56 296.97 
" clip-path="url(#p81cbdafc3b)" style="fill: none; stroke: #b0b0b0; stroke-opacity: 0.3; stroke-width: 0.8; stroke-linecap: square"/>
</g>
<g id="line2d_84">
<g>
<use href="#m7c25c535dc" x="823.56" y="477.93" style="stroke: #000000; stroke-width: 0.8"/>
</g>
</g>
</g>
<g id="xtick_18">
<g id="line2d_85">
<path d="M 899.29 477.93 
L 899.29 296.97 
" clip-path="url(#p81cbdafc3b)" style="fill: none; stroke: #b0b0b0; stroke-opacity: 0.3; stroke-width: 0.8; stroke-linecap: square"/>
</g>
<g id="line2d_86">
<g>
<use href="#m7c25c535dc" x="899.29" y="477.93" style="stroke: #000000; stroke-width: 0.8"/>
</g>
</g>
</g>
<g id="xtick_19">
<g id="line2d_87">
<path d="M 975.02 477.93 
L 975.02 296.97 
" clip-path="url(#p81cbdafc3b)" style="fill: none; stroke: #b0b0b0; stroke-opacity: 0.3; stroke-width: 0.8; stroke-linecap: square"/>
</g>
<g id="line2d_88">
<g>
<use href="#m7c25c535dc" x="975.02" y="477.93" style="stroke: #000000; stroke-width: 0.8"/>
</g>
</g>
</g>
<g id="xtick_20">
<g id="line2d_89">
<path d="M 1050.76 477.93 
L 1050.76 296.97 
" clip-path="url(#p81cbdafc3b)" style="fill: none; stroke: #b0b0b0; stroke-opacity: 0.3; stroke-width: 0.8; stroke-linecap: square"/>
</g>
<g id="line2d_90">
<g>
<use href="#m7c25c535dc" x="1050.76" y="477.93" style="stroke: #000000; stroke-width: 0.8"/>
</g>
</g>
</g>
</g>
<g id="matplotlib.axis_8">
<g id="ytick_20">
<g id="line2d_91">
<path d="M 653.35 469.71 
L 1065.72 469.71 
" clip-path="url(#p81cbdafc3b)" style="fill: none; stroke: #b0b0b0; stroke-opacity: 0.3; stroke-width: 0.8; stroke-linecap: square"/>
</g>
<g id="line2d_92">
<g>
<use href="#mb258c49b38" x="653.35" y="469.71" style="stroke: #000000; stroke-width: 0.8"/>
</g>
</g>
</g>
<g id="ytick_21">
<g id="line2d_93">
<path d="M 653.35 436.80 
L 1065.72 436.80 
" clip-path="url(#p81cbdafc3b)" style="fill: none; stroke: #b0b0b0; stroke-opacity: 0.3; stroke-width: 0.8; stroke-linecap: square"/>
</g>
<g id="line2d_94">
<g>
<use href="#mb258c49b38" x="653.35" y="436.80" style="stroke: #000000; stroke-width: 0.8"/>
</g>
</g>
</g>
<g id="ytick_22">
<g id="line2d_95">
<path d="M 653.35 403.90 
L 1065.72 403.90 
" clip-path="url(#p81cbdafc3b)" style="fill: none; stroke: #b0b0b0; stroke-opacity: 0.3; stroke-width: 0.8; stroke-linecap: square"/>
</g>
<g id="line2d_96">
<g>
<use href="#mb258c49b38" x="653.35" y="403.90" style="stroke: #000000; stroke-width: 0.8"/>
</g>
</g>
</g>
<g id="ytick_23">
<g id="line2d_97">
<path d="M 653.35 371.00 
L 1065.72 371.00 
" clip-path="url(#p81cbdafc3b)" style="fill: none; stroke: #b0b0b0; stroke-opacity: 0.3; stroke-width: 0.8; stroke-linecap: square"/>
</g>
<g id="line2d_98">
<g>
<use href="#mb258c49b38" x="653.35" y="371.00" style="stroke: #000000; stroke-width: 0.8"/>
</g>
</g>
</g>
<g id="ytick_24">
<g id="line2d_99">
<path d="M 653.35 338.10 
L 1065.72 338.10 
" clip-path="url(#p81cbdafc3b)" style="fill: none; stroke: #b0b0b0; stroke-opacity: 0.3; stroke-width: 0.8; stroke-linecap: square"/>
</g>
<g id="line2d_100">
<g>
<use href="#mb258c49b38" x="653.35" y="338.10" style="stroke: #000000; stroke-width: 0.8"/>
</g>
</g>
</g>
<g id="ytick_25">
<g id="line2d_101">
<path d="M 653.35 305.20 
L 1065.72 305.20 
" clip-path="url(#p81cbdafc3b)" style="fill: none; stroke: #b0b0b0; stroke-opacity: 0.3; stroke-width: 0.8; stroke-linecap: square"/>
</g>
<g id="line2d_102">
<g>
<use href="#mb258c49b38" x="653.35" y="305.20" style="stroke: #000000; stroke-width: 0.8"/>
</g>
</g>
</g>
</g>
<g id="line2d_103">
<path d="M 672.09 305.20 
L 675.88 424.64 
L 679.66 402.56 
L 683.45 406.72 
L 687.24 418.46 
L 691.02 411.84 
L 694.81 407.79 
L 698.60 416.64 
L 702.38 427.63 
L 706.17 423.90 
L 709.96 412.59 
L 713.74 412.16 
L 717.53 414.29 
L 721.32 415.36 
L 725.10 413.12 
L 728.89 415.04 
L 732.68 419.84 
L 736.46 419.95 
L 740.25 416.43 
L 744.04 414.19 
L 747.82 414.51 
L 751.61 415.36 
L 755.40 415.15 
L 759.18 415.04 
L 762.97 417.18 
L 766.76 417.92 
L 770.54 416.64 
L 774.33 415.57 
L 778.12 415.57 
L 781.90 415.36 
L 785.69 415.15 
L 789.48 415.68 
L 793.26 415.90 
L 797.05 417.28 
L 800.84 416.96 
L 804.62 416.11 
L 808.41 415.68 
L 812.20 415.68 
L 815.98 415.36 
L 819.77 415.69 
L 823.56 415.82 
L 827.34 416.22 
L 831.13 416.81 
L 834.92 415.36 
L 838.70 416.88 
L 842.49 415.16 
L 846.28 416.48 
L 850.06 416.15 
L 853.85 416.09 
L 857.64 417.41 
L 861.42 415.03 
L 865.21 417.01 
L 869.00 415.89 
L 872.78 415.49 
L 876.57 416.48 
L 880.36 415.82 
L 884.14 416.02 
L 887.93 415.62 
L 891.72 416.28 
L 895.50 415.36 
L 899.29 415.95 
L 903.08 415.76 
L 906.86 415.95 
L 910.65 415.23 
L 914.44 416.28 
L 918.22 416.09 
L 922.01 416.02 
L 925.80 416.02 
L 929.58 415.76 
L 933.37 416.22 
L 937.16 415.82 
L 940.94 416.02 
L 944.73 416.09 
L 948.52 415.76 
L 952.30 416.10 
L 956.09 416.44 
L 959.88 416.02 
L 963.66 416.02 
L 967.45 415.76 
L 971.24 416.12 
L 975.02 416.39 
L 978.81 415.76 
L 982.60 415.86 
L 986.38 415.81 
L 990.17 415.91 
L 993.96 416.39 
L 997.74 416.28 
L 1001.53 415.91 
L 1005.32 416.02 
L 1009.10 416.44 
L 1012.89 416.12 
L 1016.68 416.55 
L 1020.46 416.39 
L 1024.25 415.12 
L 1028.04 417.08 
L 1031.82 414.96 
L 1035.61 416.92 
L 1039.40 416.39 
L 1043.18 414.96 
L 1046.97 416.81 
" clip-path="url(#p81cbdafc3b)" style="fill: none; stroke: #008000; stroke-opacity: 0.7; stroke-width: 1.5; stroke-linecap: square"/>
</g>
<g id="line2d_104">
<path d="M 653.35 469.71 
L 1065.72 469.71 
" clip-path="url(#p81cbdafc3b)" style="fill: none; stroke: #000000; stroke-opacity: 0.3; stroke-width: 1.3; stroke-linecap: square"/>
</g>
<g id="patch_71">
<path d="M 653.35 477.93 
L 653.35 296.97 
" style="fill: none; stroke: #000000; stroke-width: 0.8; stroke-linejoin: miter; stroke-linecap: square"/>
</g>
<g id="patch_72">
<path d="M 1065.72 477.93 
L 1065.72 296.97 
" style="fill: none; stroke: #000000; stroke-width: 0.8; stroke-linejoin: miter; stroke-linecap: square"/>
</g>
<g id="patch_73">
<path d="M 653.35 477.93 
L 1065.72 477.93 
" style="fill: none; stroke: #000000; stroke-width: 0.8; stroke-linejoin: miter; stroke-linecap: square"/>
</g>
<g id="patch_74">
<path d="M 653.35 296.97 
L 1065.72 296.97 
" style="fill: none; stroke: #000000; stroke-width: 0.8; stroke-linejoin: miter; stroke-linecap: square"/>
</g>
</g>
<g id="axes_5">
<g id="patch_75">
<path d="M 52.68 717.26 
L 464.95 717.26 
L 464.95 536.30 
L 52.68 536.30 
z
" style="fill: #ffffff"/>
</g>
<g id="matplotlib.axis_9">
<g id="xtick_21">
<g id="line2d_105">
<path d="M 71.41 717.26 
L 71.41 536.30 
" clip-path="url(#p51455fbb79)" style="fill: none; stroke: #b0b0b0; stroke-opacity: 0.3; stroke-width: 0.8; stroke-linecap: square"/>
</g>
<g id="line2d_106">
<g>
<use href="#m7c25c535dc" x="71.41" y="717.26" style="stroke: #000000; stroke-width: 0.8"/>
</g>
</g>
</g>
<g id="xtick_22">
<g id="line2d_107">
<path d="M 133.88 717.26 
L 133.88 536.30 
" clip-path="url(#p51455fbb79)" style="fill: none; stroke: #b0b0b0; stroke-opacity: 0.3; stroke-width: 0.8; stroke-linecap: square"/>
</g>
<g id="line2d_108">
<g>
<use href="#m7c25c535dc" x="133.88" y="717.26" style="stroke: #000000; stroke-width: 0.8"/>
</g>
</g>
</g>
<g id="xtick_23">
<g id="line2d_109">
<path d="M 196.35 717.26 
L 196.35 536.30 
" clip-path="url(#p51455fbb79)" style="fill: none; stroke: #b0b0b0; stroke-opacity: 0.3; stroke-width: 0.8; stroke-linecap: square"/>
</g>
<g id="line2d_110">
<g>
<use href="#m7c25c535dc" x="196.35" y="717.26" style="stroke: #000000; stroke-width: 0.8"/>
</g>
</g>
</g>
<g id="xtick_24">
<g id="line2d_111">
<path d="M 258.81 717.26 
L 258.81 536.30 
" clip-path="url(#p51455fbb79)" style="fill: none; stroke: #b0b0b0; stroke-opacity: 0.3; stroke-width: 0.8; stroke-linecap: square"/>
</g>
<g id="line2d_112">
<g>
<use href="#m7c25c535dc" x="258.81" y="717.26" style="stroke: #000000; stroke-width: 0.8"/>
</g>
</g>
</g>
<g id="xtick_25">
<g id="line2d_113">
<path d="M 321.28 717.26 
L 321.28 536.30 
" clip-path="url(#p51455fbb79)" style="fill: none; stroke: #b0b0b0; stroke-opacity: 0.3; stroke-width: 0.8; stroke-linecap: square"/>
</g>
<g id="line2d_114">
<g>
<use href="#m7c25c535dc" x="321.28" y="717.26" style="stroke: #000000; stroke-width: 0.8"/>
</g>
</g>
</g>
<g id="xtick_26">
<g id="line2d_115">
<path d="M 383.74 717.26 
L 383.74 536.30 
" clip-path="url(#p51455fbb79)" style="fill: none; stroke: #b0b0b0; stroke-opacity: 0.3; stroke-width: 0.8; stroke-linecap: square"/>
</g>
<g id="line2d_116">
<g>
<use href="#m7c25c535dc" x="383.74" y="717.26" style="stroke: #000000; stroke-width: 0.8"/>
</g>
</g>
</g>
<g id="xtick_27">
<g id="line2d_117">
<path d="M 446.21 717.26 
L 446.21 536.30 
" clip-path="url(#p51455fbb79)" style="fill: none; stroke: #b0b0b0; stroke-opacity: 0.3; stroke-width: 0.8; stroke-linecap: square"/>
</g>
<g id="line2d_118">
<g>
<use href="#m7c25c535dc" x="446.21" y="717.26" style="stroke: #000000; stroke-width: 0.8"/>
</g>
</g>
</g>
</g>
<g id="matplotlib.axis_10">
<g id="ytick_26">
<g id="line2d_119">
<path d="M 52.68 697.63 
L 464.95 697.63 
" clip-path="url(#p51455fbb79)" style="fill: none; stroke: #b0b0b0; stroke-opacity: 0.3; stroke-width: 0.8; stroke-linecap: square"/>
</g>
<g id="line2d_120">
<g>
<use href="#mb258c49b38" x="52.68" y="697.63" style="stroke: #000000; stroke-width: 0.8"/>
</g>
</g>
</g>
<g id="ytick_27">
<g id="line2d_121">
<path d="M 52.68 664.13 
L 464.95 664.13 
" clip-path="url(#p51455fbb79)" style="fill: none; stroke: #b0b0b0; stroke-opacity: 0.3; stroke-width: 0.8; stroke-linecap: square"/>
</g>
<g id="line2d_122">
<g>
<use href="#mb258c49b38" x="52.68" y="664.13" style="stroke: #000000; stroke-width: 0.8"/>
</g>
</g>
</g>
<g id="ytick_28">
<g id="line2d_123">
<path d="M 52.68 630.63 
L 464.95 630.63 
" clip-path="url(#p51455fbb79)" style="fill: none; stroke: #b0b0b0; stroke-opacity: 0.3; stroke-width: 0.8; stroke-linecap: square"/>
</g>
<g id="line2d_124">
<g>
<use href="#mb258c49b38" x="52.68" y="630.63" style="stroke: #000000; stroke-width: 0.8"/>
</g>
</g>
</g>
<g id="ytick_29">
<g id="line2d_125">
<path d="M 52.68 597.13 
L 464.95 597.13 
" clip-path="url(#p51455fbb79)" style="fill: none; stroke: #b0b0b0; stroke-opacity: 0.3; stroke-width: 0.8; stroke-linecap: square"/>
</g>
<g id="line2d_126">
<g>
<use href="#mb258c49b38" x="52.68" y="597.13" style="stroke: #000000; stroke-width: 0.8"/>
</g>
</g>
</g>
<g id="ytick_30">
<g id="line2d_127">
<path d="M 52.68 563.63 
L 464.95 563.63 
" clip-path="url(#p51455fbb79)" style="fill: none; stroke: #b0b0b0; stroke-opacity: 0.3; stroke-width: 0.8; stroke-linecap: square"/>
</g>
<g id="line2d_128">
<g>
<use href="#mb258c49b38" x="52.68" y="563.63" style="stroke: #000000; stroke-width: 0.8"/>
</g>
</g>
</g>
</g>
<g id="line2d_129">
<path d="M 71.41 611.82 
L 71.41 583.80 
L 71.65 582.06 
L 71.65 654.39 
L 71.89 611.97 
L 71.89 565.00 
L 72.13 576.46 
L 72.13 611.24 
L 72.37 610.20 
L 72.37 582.13 
L 72.61 583.49 
L 72.61 621.33 
L 72.85 616.22 
L 72.85 562.02 
L 73.09 583.97 
L 73.09 616.38 
L 73.33 618.79 
L 73.33 583.30 
L 73.57 582.54 
L 73.57 617.26 
L 73.81 612.75 
L 73.81 581.58 
L 74.05 574.65 
L 74.05 613.62 
L 74.29 613.98 
L 74.29 581.25 
L 74.53 577.54 
L 74.53 610.93 
L 74.77 611.44 
L 74.77 580.71 
L 75.01 583.36 
L 75.01 611.65 
L 75.25 612.15 
L 75.25 582.75 
L 75.49 581.95 
L 75.49 617.24 
L 75.73 621.18 
L 75.73 583.87 
L 75.97 582.54 
L 75.97 613.11 
L 76.21 612.83 
L 76.21 583.07 
L 76.45 584.38 
L 76.45 611.27 
L 76.69 620.97 
L 76.69 583.98 
L 76.93 582.05 
L 76.93 613.89 
L 77.17 610.62 
L 77.17 580.44 
L 77.41 582.88 
L 77.41 619.00 
L 77.65 619.72 
L 77.65 583.98 
L 77.89 581.62 
L 77.89 613.69 
L 78.13 613.53 
L 78.13 583.45 
L 78.37 582.71 
L 78.37 611.19 
L 78.61 616.30 
L 78.61 573.23 
L 78.85 563.06 
L 78.85 614.87 
L 79.09 628.83 
L 79.09 583.05 
L 79.33 583.87 
L 79.33 612.63 
L 79.57 611.72 
L 79.57 582.44 
L 79.81 583.18 
L 79.81 611.59 
L 80.05 622.36 
L 80.05 583.80 
L 80.29 578.88 
L 80.29 615.63 
L 80.53 613.12 
L 80.53 582.81 
L 80.77 582.37 
L 80.77 614.39 
L 81.01 637.65 
L 81.01 584.62 
L 81.25 584.60 
L 81.25 617.10 
L 81.49 614.45 
L 81.49 575.85 
L 81.73 564.97 
L 81.73 610.97 
L 81.97 614.40 
L 81.97 573.66 
L 82.21 583.63 
L 82.21 610.83 
L 82.45 615.20 
L 82.45 578.89 
L 82.69 584.00 
L 82.69 620.05 
L 82.93 612.86 
L 82.93 582.42 
L 83.17 582.81 
L 83.17 620.30 
L 83.41 615.70 
L 83.41 581.21 
L 83.65 580.80 
L 83.65 611.86 
L 83.89 613.70 
L 83.89 572.41 
L 84.13 584.53 
L 84.13 614.22 
L 84.37 611.00 
L 84.37 581.26 
L 84.61 582.94 
L 84.61 613.82 
L 84.85 613.57 
L 84.85 582.39 
L 85.09 582.08 
L 85.09 616.88 
L 85.33 611.11 
L 85.33 583.48 
L 85.57 583.35 
L 85.57 622.77 
L 85.81 611.99 
L 85.81 584.83 
L 86.05 583.21 
L 86.05 615.84 
L 86.29 622.98 
L 86.29 570.80 
L 86.53 584.17 
L 86.53 610.85 
L 86.77 628.80 
L 86.77 583.60 
L 87.01 579.06 
L 87.01 611.66 
L 87.25 617.02 
L 87.25 582.43 
L 87.49 583.24 
L 87.49 617.92 
L 87.73 613.99 
L 87.73 580.56 
L 87.97 560.16 
L 87.97 612.67 
L 88.21 612.63 
L 88.21 583.38 
L 88.45 581.67 
L 88.45 628.26 
L 88.69 613.65 
L 88.69 584.63 
L 88.93 582.18 
L 88.93 616.53 
L 89.17 614.27 
L 89.17 582.52 
L 89.41 583.02 
L 89.41 618.79 
L 89.65 613.33 
L 89.65 582.60 
L 89.89 584.62 
L 89.89 621.34 
L 90.13 612.33 
L 90.13 576.71 
L 90.37 578.58 
L 90.37 612.64 
L 90.61 612.22 
L 90.61 584.38 
L 90.85 584.09 
L 90.85 613.93 
L 91.09 616.85 
L 91.09 576.48 
L 91.33 584.30 
L 91.33 611.20 
L 91.57 618.74 
L 91.57 580.01 
L 91.81 582.84 
L 91.81 628.78 
L 92.05 619.97 
L 92.05 583.49 
L 92.29 580.99 
L 92.29 620.23 
L 92.53 612.16 
L 92.53 579.03 
L 92.77 563.86 
L 92.77 612.31 
L 93.01 617.33 
L 93.01 584.69 
L 93.25 583.48 
L 93.25 620.43 
L 93.49 618.08 
L 93.49 580.65 
L 93.73 584.27 
L 93.73 614.68 
L 93.97 613.57 
L 93.97 584.27 
L 94.21 583.68 
L 94.21 619.63 
L 94.45 613.96 
L 94.45 583.54 
L 94.69 574.83 
L 94.69 613.99 
L 94.93 614.91 
L 94.93 584.28 
L 95.17 569.71 
L 95.17 613.97 
L 95.41 613.40 
L 95.41 578.99 
L 95.65 580.91 
L 95.65 625.02 
L 95.89 615.64 
L 95.89 584.25 
L 96.13 583.95 
L 96.13 612.90 
L 96.37 615.56 
L 96.37 581.78 
L 96.61 561.93 
L 96.61 615.46 
L 96.85 619.10 
L 96.85 583.13 
L 97.09 582.05 
L 97.09 611.51 
L 97.33 617.29 
L 97.33 583.91 
L 97.57 583.71 
L 97.57 611.15 
L 97.81 616.86 
L 97.81 583.15 
L 98.05 579.62 
L 98.05 615.45 
L 98.29 613.99 
L 98.29 578.17 
L 98.53 582.63 
L 98.53 614.44 
L 98.77 610.73 
L 98.77 579.49 
L 99.01 584.58 
L 99.01 613.86 
L 99.25 609.86 
L 99.25 584.25 
L 99.49 584.13 
L 99.49 612.53 
L 99.73 609.61 
L 99.73 584.95 
L 99.97 584.67 
L 99.97 609.52 
L 100.21 634.52 
L 100.21 584.60 
L 100.45 585.00 
L 100.45 609.45 
L 100.69 609.31 
L 100.69 584.44 
L 100.93 584.88 
L 100.93 610.20 
L 101.17 609.72 
L 101.17 574.37 
L 101.41 584.91 
L 101.41 613.94 
L 101.65 611.99 
L 101.65 582.89 
L 101.89 584.78 
L 101.89 609.85 
L 102.13 609.48 
L 102.13 581.29 
L 102.37 573.48 
L 102.37 610.12 
L 102.61 609.50 
L 102.61 584.86 
L 102.85 584.49 
L 102.85 614.55 
L 103.09 610.86 
L 103.09 584.26 
L 103.33 584.99 
L 103.33 610.32 
L 103.57 609.72 
L 103.57 584.94 
L 103.81 584.29 
L 103.81 612.60 
L 104.05 609.53 
L 104.05 584.92 
L 104.29 584.75 
L 104.29 609.43 
L 104.53 616.27 
L 104.53 577.46 
L 104.77 584.64 
L 104.77 609.74 
L 105.01 609.21 
L 105.01 584.67 
L 105.25 577.22 
L 105.25 609.82 
L 105.49 609.23 
L 105.49 583.69 
L 105.73 584.72 
L 105.73 609.63 
L 105.97 610.13 
L 105.97 584.43 
L 106.21 584.66 
L 106.21 610.03 
L 106.45 612.90 
L 106.45 584.96 
L 106.69 585.04 
L 106.69 609.83 
L 106.93 610.19 
L 106.93 584.34 
L 107.17 584.36 
L 107.17 609.71 
L 107.41 609.41 
L 107.41 584.93 
L 107.65 584.16 
L 107.65 609.65 
L 107.89 609.93 
L 107.89 583.95 
L 108.13 584.73 
L 108.13 610.11 
L 108.37 609.98 
L 108.37 584.74 
L 108.61 583.79 
L 108.61 611.34 
L 108.85 609.70 
L 108.85 584.60 
L 109.09 584.77 
L 109.09 609.25 
L 109.33 609.50 
L 109.33 585.01 
L 109.57 584.52 
L 109.57 653.92 
L 109.81 610.20 
L 109.81 576.22 
L 110.05 584.59 
L 110.05 609.29 
L 110.29 609.57 
L 110.29 584.99 
L 110.53 584.84 
L 110.53 609.92 
L 110.77 609.49 
L 110.77 585.01 
L 111.01 577.25 
L 111.01 616.62 
L 111.25 609.60 
L 111.25 584.68 
L 111.49 584.66 
L 111.49 609.35 
L 111.73 609.75 
L 111.73 584.46 
L 111.97 584.99 
L 111.97 609.26 
L 112.21 609.65 
L 112.21 584.98 
L 112.45 584.55 
L 112.45 609.58 
L 112.69 609.72 
L 112.69 584.39 
L 112.92 583.10 
L 112.92 609.29 
L 113.16 609.51 
L 113.16 584.81 
L 113.40 576.96 
L 113.40 617.38 
L 113.64 609.39 
L 113.64 584.86 
L 113.88 584.92 
L 113.88 609.26 
L 114.12 611.04 
L 114.12 580.09 
L 114.36 584.86 
L 114.36 613.66 
L 114.60 610.74 
L 114.60 584.68 
L 114.84 584.99 
L 114.84 620.54 
L 115.08 610.13 
L 115.08 584.31 
L 115.32 577.64 
L 115.32 611.23 
L 115.56 610.72 
L 115.56 582.24 
L 115.80 583.23 
L 115.80 658.18 
L 116.04 609.97 
L 116.04 584.41 
L 116.28 583.91 
L 116.28 610.13 
L 116.52 611.21 
L 116.52 582.13 
L 116.76 584.91 
L 116.76 611.16 
L 117.00 610.48 
L 117.00 584.45 
L 117.24 584.55 
L 117.24 609.60 
L 117.48 609.84 
L 117.48 584.88 
L 117.72 584.69 
L 117.72 609.58 
L 117.96 609.78 
L 117.96 584.87 
L 118.20 584.64 
L 118.20 609.83 
L 118.44 638.73 
L 118.44 584.37 
L 118.68 584.87 
L 118.68 609.58 
L 118.92 609.30 
L 118.92 580.50 
L 119.16 584.70 
L 119.16 616.03 
L 119.40 609.92 
L 119.40 583.82 
L 119.64 584.61 
L 119.64 609.49 
L 119.88 609.89 
L 119.88 583.52 
L 120.12 584.74 
L 120.12 609.46 
L 120.36 626.75 
L 120.36 584.92 
L 120.60 584.80 
L 120.60 611.41 
L 120.84 609.54 
L 120.84 584.17 
L 121.08 581.97 
L 121.08 609.79 
L 121.32 687.06 
L 121.32 581.77 
L 121.56 584.77 
L 121.56 610.07 
L 121.80 609.83 
L 121.80 584.63 
L 122.04 575.61 
L 122.04 609.84 
L 122.28 609.93 
L 122.28 584.34 
L 122.52 584.36 
L 122.52 617.86 
L 122.76 609.66 
L 122.76 584.74 
L 123.00 584.59 
L 123.00 609.32 
L 123.24 609.60 
L 123.24 584.67 
L 123.48 584.65 
L 123.48 609.51 
L 123.72 619.40 
L 123.72 584.46 
L 123.96 584.44 
L 123.96 609.74 
L 124.20 610.04 
L 124.20 584.77 
L 124.44 584.15 
L 124.44 609.38 
L 124.68 609.44 
L 124.68 584.52 
L 124.92 574.23 
L 124.92 609.41 
L 125.16 609.56 
L 125.16 584.34 
L 125.40 584.35 
L 125.40 611.86 
L 125.64 609.84 
L 125.64 584.42 
L 125.88 584.79 
L 125.88 609.62 
L 126.12 611.65 
L 126.12 584.51 
L 126.36 584.84 
L 126.36 609.69 
L 126.60 612.53 
L 126.60 584.48 
L 126.84 584.81 
L 126.84 609.67 
L 127.08 609.49 
L 127.08 584.09 
L 127.32 576.72 
L 127.32 610.66 
L 127.56 641.09 
L 127.56 583.91 
L 127.80 584.70 
L 127.80 611.93 
L 128.04 609.93 
L 128.04 584.34 
L 128.28 584.89 
L 128.28 609.96 
L 128.52 610.06 
L 128.52 584.72 
L 128.76 584.04 
L 128.76 610.63 
L 129.00 613.06 
L 129.00 584.49 
L 129.24 584.33 
L 129.24 611.25 
L 129.48 610.15 
L 129.48 576.43 
L 129.72 583.68 
L 129.72 609.44 
L 129.96 609.71 
L 129.96 584.00 
L 130.20 584.65 
L 130.20 609.93 
L 130.44 609.84 
L 130.44 584.50 
L 130.68 584.46 
L 130.68 609.39 
L 130.92 610.55 
L 130.92 580.61 
L 131.16 583.52 
L 131.16 613.88 
L 131.40 610.77 
L 131.40 584.35 
L 131.64 584.43 
L 131.64 609.50 
L 131.88 612.52 
L 131.88 583.55 
L 132.12 581.21 
L 132.12 609.55 
L 132.36 609.57 
L 132.36 584.34 
L 132.60 584.64 
L 132.60 609.52 
L 132.84 610.39 
L 132.84 583.76 
L 133.08 584.77 
L 133.08 609.75 
L 133.32 613.76 
L 133.32 580.56 
L 133.56 581.78 
L 133.56 609.49 
L 133.80 609.70 
L 133.80 584.67 
L 134.04 583.94 
L 134.04 610.28 
L 134.28 609.38 
L 134.28 572.76 
L 134.52 584.51 
L 134.52 688.76 
L 134.76 584.36 
L 135.00 584.87 
L 135.00 610.23 
L 135.24 609.93 
L 135.24 584.71 
L 135.48 584.69 
L 135.48 610.00 
L 135.72 609.52 
L 135.72 584.79 
L 135.96 576.43 
L 135.96 610.09 
L 136.20 609.47 
L 136.20 584.26 
L 136.44 581.46 
L 136.44 609.93 
L 136.68 612.62 
L 136.68 584.59 
L 136.92 584.17 
L 136.92 609.48 
L 137.16 612.02 
L 137.16 583.84 
L 137.40 584.09 
L 137.40 610.44 
L 137.64 609.63 
L 137.64 584.54 
L 137.88 584.46 
L 137.88 609.59 
L 138.12 631.70 
L 138.12 582.82 
L 138.36 584.59 
L 138.36 609.44 
L 138.60 609.56 
L 138.60 584.21 
L 138.84 584.73 
L 138.84 610.12 
L 139.08 610.72 
L 139.08 576.12 
L 139.32 584.78 
L 139.32 610.47 
L 139.56 610.21 
L 139.56 583.84 
L 139.80 584.52 
L 139.80 609.83 
L 140.04 609.46 
L 140.04 583.78 
L 140.28 584.60 
L 140.28 613.47 
L 140.52 609.69 
L 140.52 580.07 
L 140.76 584.32 
L 140.76 609.71 
L 141.00 609.85 
L 141.00 584.79 
L 141.24 584.45 
L 141.24 609.45 
L 141.48 609.58 
L 141.48 573.91 
L 141.72 584.27 
L 141.72 613.72 
L 141.96 612.63 
L 141.96 584.02 
L 142.20 584.19 
L 142.20 609.83 
L 142.44 613.92 
L 142.44 584.59 
L 142.68 584.79 
L 142.68 610.73 
L 142.92 611.82 
L 142.92 573.05 
L 143.16 584.14 
L 143.16 612.41 
L 143.40 609.84 
L 143.40 584.74 
L 143.64 578.31 
L 143.64 609.44 
L 143.88 609.53 
L 143.88 584.66 
L 144.12 584.29 
L 144.12 609.79 
L 144.36 609.94 
L 144.36 582.93 
L 144.60 584.72 
L 144.60 609.57 
L 144.84 610.05 
L 144.84 582.15 
L 145.08 584.72 
L 145.08 609.68 
L 145.32 609.56 
L 145.32 584.55 
L 145.56 584.15 
L 145.56 609.61 
L 145.80 609.72 
L 145.80 583.26 
L 146.04 574.72 
L 146.04 609.76 
L 146.28 609.57 
L 146.28 583.97 
L 146.52 582.37 
L 146.52 610.83 
L 146.76 626.95 
L 146.76 584.29 
L 147.00 584.62 
L 147.00 610.34 
L 147.24 610.19 
L 147.24 584.47 
L 147.48 584.01 
L 147.48 611.98 
L 147.72 610.04 
L 147.72 584.41 
L 147.96 584.73 
L 147.96 609.69 
L 148.20 609.58 
L 148.20 583.78 
L 148.44 578.13 
L 148.44 621.36 
L 148.68 610.12 
L 148.68 584.68 
L 148.92 584.49 
L 148.92 610.67 
L 149.16 610.46 
L 149.16 580.80 
L 149.40 584.05 
L 149.40 622.24 
L 149.64 609.41 
L 149.64 584.62 
L 149.88 584.64 
L 149.88 609.48 
L 150.12 609.75 
L 150.12 584.82 
L 150.36 584.86 
L 150.36 609.68 
L 150.60 609.42 
L 150.60 584.45 
L 150.84 584.86 
L 150.84 609.95 
L 151.08 609.65 
L 151.08 584.55 
L 151.32 584.52 
L 151.32 616.82 
L 151.56 609.71 
L 151.56 584.85 
L 151.80 584.11 
L 151.80 609.57 
L 152.04 609.69 
L 152.04 584.34 
L 152.28 584.30 
L 152.28 611.02 
L 152.52 611.53 
L 152.52 584.57 
L 152.76 583.89 
L 152.76 621.82 
L 153.00 609.69 
L 153.00 584.63 
L 153.24 584.52 
L 153.24 610.09 
L 153.48 609.48 
L 153.48 584.69 
L 153.72 584.20 
L 153.72 609.63 
L 153.96 609.81 
L 153.96 584.60 
L 154.20 584.68 
L 154.20 612.04 
L 154.44 609.57 
L 154.44 583.96 
L 154.68 584.53 
L 154.68 609.40 
L 154.92 611.16 
L 154.92 572.56 
L 155.16 569.82 
L 155.16 635.27 
L 155.40 609.76 
L 155.40 584.76 
L 155.64 581.04 
L 155.64 610.10 
L 155.87 609.91 
L 155.87 584.41 
L 156.11 584.72 
L 156.11 621.39 
L 156.35 609.59 
L 156.35 584.16 
L 156.59 584.51 
L 156.59 609.87 
L 156.83 613.69 
L 156.83 583.97 
L 157.07 584.52 
L 157.07 609.55 
L 157.31 609.70 
L 157.31 584.35 
L 157.55 584.47 
L 157.55 609.45 
L 157.79 609.39 
L 157.79 584.77 
L 158.03 584.92 
L 158.03 609.93 
L 158.27 609.91 
L 158.27 584.68 
L 158.51 575.84 
L 158.51 614.64 
L 158.75 609.40 
L 158.75 579.78 
L 158.99 582.45 
L 158.99 615.93 
L 159.23 609.56 
L 159.23 584.83 
L 159.47 582.55 
L 159.47 609.89 
L 159.71 609.55 
L 159.71 582.86 
L 159.95 584.15 
L 159.95 610.37 
L 160.19 609.51 
L 160.19 584.96 
L 160.43 583.85 
L 160.43 609.74 
L 160.67 609.76 
L 160.67 584.60 
L 160.91 584.54 
L 160.91 610.84 
L 161.15 609.45 
L 161.15 579.65 
L 161.39 584.49 
L 161.39 609.72 
L 161.63 609.79 
L 161.63 584.74 
L 161.87 584.17 
L 161.87 609.52 
L 162.11 619.36 
L 162.11 584.47 
L 162.35 584.46 
L 162.35 609.87 
L 162.59 609.33 
L 162.59 584.48 
L 162.83 584.65 
L 162.83 609.74 
L 163.07 613.77 
L 163.07 584.96 
L 163.31 584.25 
L 163.31 609.92 
L 163.55 609.50 
L 163.55 584.73 
L 163.79 584.01 
L 163.79 610.22 
L 164.03 707.74 
L 164.03 554.18 
L 164.27 584.25 
L 164.27 611.27 
L 164.51 609.34 
L 164.51 584.13 
L 164.75 584.86 
L 164.75 610.97 
L 164.99 616.35 
L 164.99 584.72 
L 165.23 584.58 
L 165.23 609.62 
L 165.47 610.33 
L 165.47 584.83 
L 165.71 584.75 
L 165.71 613.17 
L 165.95 609.28 
L 165.95 584.17 
L 166.19 584.91 
L 166.19 610.14 
L 166.43 610.14 
L 166.43 582.29 
L 166.67 579.35 
L 166.67 609.96 
L 166.91 609.99 
L 166.91 584.92 
L 167.15 581.86 
L 167.15 613.05 
L 167.39 610.61 
L 167.39 584.14 
L 167.63 584.54 
L 167.63 609.75 
L 167.87 610.08 
L 167.87 559.32 
L 168.11 584.61 
L 168.11 609.82 
L 168.35 609.87 
L 168.35 584.58 
L 168.59 582.61 
L 168.59 628.78 
L 168.83 609.86 
L 168.83 584.86 
L 169.07 584.63 
L 169.07 609.57 
L 169.31 609.84 
L 169.31 577.13 
L 169.55 585.05 
L 169.55 611.26 
L 169.79 610.42 
L 169.79 584.51 
L 170.03 584.72 
L 170.03 610.04 
L 170.27 609.91 
L 170.27 584.61 
L 170.51 582.85 
L 170.51 609.53 
L 170.75 611.35 
L 170.75 584.85 
L 170.99 584.60 
L 170.99 609.32 
L 171.23 609.72 
L 171.23 580.99 
L 171.47 584.05 
L 171.47 612.67 
L 171.71 609.24 
L 171.71 584.52 
L 171.95 584.74 
L 171.95 609.28 
L 172.19 610.11 
L 172.19 583.10 
L 172.43 583.88 
L 172.43 610.00 
L 172.67 611.76 
L 172.67 584.93 
L 172.91 584.48 
L 172.91 618.25 
L 173.15 609.56 
L 173.15 585.06 
L 173.39 584.66 
L 173.39 609.43 
L 173.63 609.91 
L 173.63 584.87 
L 173.87 572.86 
L 173.87 609.43 
L 174.11 610.53 
L 174.11 584.92 
L 174.35 585.10 
L 174.35 609.38 
L 174.59 609.55 
L 174.59 584.85 
L 174.83 585.08 
L 174.83 610.37 
L 175.07 609.75 
L 175.07 584.48 
L 175.31 582.70 
L 175.31 609.84 
L 175.55 612.09 
L 175.55 584.21 
L 175.79 562.98 
L 175.79 612.44 
L 176.03 609.44 
L 176.03 584.98 
L 176.27 583.21 
L 176.27 609.88 
L 176.51 612.32 
L 176.51 584.37 
L 176.75 584.55 
L 176.75 609.14 
L 176.99 609.37 
L 176.99 585.10 
L 177.23 584.78 
L 177.23 609.53 
L 177.47 609.54 
L 177.47 584.46 
L 177.71 584.96 
L 177.71 610.67 
L 177.95 617.69 
L 177.95 585.03 
L 178.19 584.45 
L 178.19 609.38 
L 178.43 609.33 
L 178.43 584.43 
L 178.67 584.55 
L 178.67 609.18 
L 178.91 621.55 
L 178.91 584.70 
L 179.15 584.60 
L 179.15 609.75 
L 179.39 611.38 
L 179.39 584.54 
L 179.63 584.25 
L 179.63 609.83 
L 179.87 610.00 
L 179.87 584.58 
L 180.11 584.97 
L 180.11 610.70 
L 180.35 609.23 
L 180.35 585.10 
L 180.59 577.44 
L 180.59 609.58 
L 180.83 609.42 
L 180.83 584.62 
L 181.07 585.12 
L 181.07 609.26 
L 181.31 609.23 
L 181.31 584.77 
L 181.55 575.69 
L 181.55 611.97 
L 181.79 611.00 
L 181.79 584.41 
L 182.03 575.11 
L 182.03 614.50 
L 182.27 609.57 
L 182.27 585.15 
L 182.51 584.70 
L 182.51 615.02 
L 182.75 614.28 
L 182.75 583.01 
L 182.99 581.81 
L 182.99 609.63 
L 183.23 609.54 
L 183.23 585.03 
L 183.47 585.14 
L 183.47 609.64 
L 183.71 609.90 
L 183.71 579.67 
L 183.95 584.02 
L 183.95 610.43 
L 184.19 611.29 
L 184.19 582.92 
L 184.43 584.68 
L 184.43 609.28 
L 184.67 610.41 
L 184.67 583.63 
L 184.91 584.60 
L 184.91 609.25 
L 185.15 625.94 
L 185.15 584.25 
L 185.39 584.44 
L 185.39 609.48 
L 185.63 609.48 
L 185.63 585.08 
L 185.87 584.91 
L 185.87 609.76 
L 186.11 609.54 
L 186.11 584.07 
L 186.35 583.26 
L 186.35 641.92 
L 186.59 609.59 
L 186.59 585.04 
L 186.83 584.82 
L 186.83 610.07 
L 187.07 609.14 
L 187.07 584.98 
L 187.31 584.71 
L 187.31 609.46 
L 187.55 610.04 
L 187.55 584.88 
L 187.79 584.57 
L 187.79 609.83 
L 188.03 609.76 
L 188.03 569.26 
L 188.27 585.05 
L 188.27 609.30 
L 188.51 612.68 
L 188.51 584.78 
L 188.75 584.51 
L 188.75 609.81 
L 188.99 611.13 
L 188.99 580.26 
L 189.23 585.10 
L 189.23 610.46 
L 189.47 610.13 
L 189.47 582.11 
L 189.71 584.66 
L 189.71 609.38 
L 189.95 609.24 
L 189.95 585.00 
L 190.19 571.74 
L 190.19 609.15 
L 190.43 609.74 
L 190.43 584.46 
L 190.67 584.43 
L 190.67 609.25 
L 190.91 609.44 
L 190.91 584.08 
L 191.15 584.70 
L 191.15 609.97 
L 191.39 610.02 
L 191.39 579.16 
L 191.63 584.03 
L 191.63 609.17 
L 191.87 609.24 
L 191.87 585.06 
L 192.11 584.64 
L 192.11 609.44 
L 192.35 610.05 
L 192.35 584.89 
L 192.59 584.71 
L 192.59 614.66 
L 192.83 612.10 
L 192.83 584.53 
L 193.07 584.61 
L 193.07 609.65 
L 193.31 610.09 
L 193.31 584.87 
L 193.55 584.97 
L 193.55 609.36 
L 193.79 609.75 
L 193.79 585.00 
L 194.03 582.88 
L 194.03 612.83 
L 194.27 609.32 
L 194.27 585.05 
L 194.51 585.03 
L 194.51 609.45 
L 194.75 609.34 
L 194.75 584.81 
L 194.99 584.13 
L 194.99 609.34 
L 195.23 609.42 
L 195.23 584.90 
L 195.47 584.70 
L 195.47 612.54 
L 195.71 611.38 
L 195.71 584.50 
L 195.95 584.97 
L 195.95 609.51 
L 196.19 609.79 
L 196.19 577.15 
L 196.43 584.72 
L 196.43 610.34 
L 196.67 609.58 
L 196.67 584.91 
L 196.91 583.58 
L 196.91 616.53 
L 197.15 609.49 
L 197.15 584.76 
L 197.39 584.49 
L 197.39 609.30 
L 197.63 609.87 
L 197.63 584.94 
L 197.87 584.88 
L 197.87 614.56 
L 198.11 609.33 
L 198.11 582.56 
L 198.35 584.70 
L 198.35 609.43 
L 198.59 609.89 
L 198.59 584.59 
L 198.82 584.60 
L 198.82 610.24 
L 199.06 609.37 
L 199.06 584.85 
L 199.30 543.14 
L 199.30 631.47 
L 199.54 610.18 
L 199.54 581.33 
L 199.78 584.90 
L 199.78 609.45 
L 200.02 629.03 
L 200.02 584.64 
L 200.26 584.28 
L 200.26 610.37 
L 200.50 610.28 
L 200.50 584.73 
L 200.74 578.18 
L 200.74 609.30 
L 200.98 610.15 
L 200.98 578.35 
L 201.22 584.37 
L 201.22 609.78 
L 201.46 609.73 
L 201.46 584.99 
L 201.70 584.50 
L 201.70 614.46 
L 201.94 609.90 
L 201.94 584.64 
L 202.18 584.11 
L 202.18 611.62 
L 202.42 609.36 
L 202.42 584.31 
L 202.66 584.31 
L 202.66 609.46 
L 202.90 609.53 
L 202.90 577.24 
L 203.14 584.54 
L 203.14 609.70 
L 203.38 609.54 
L 203.38 584.81 
L 203.62 584.09 
L 203.62 609.61 
L 203.86 609.54 
L 203.86 581.64 
L 204.10 584.56 
L 204.10 610.23 
L 204.34 609.98 
L 204.34 584.73 
L 204.58 584.00 
L 204.58 609.52 
L 204.82 611.44 
L 204.82 584.63 
L 205.06 575.62 
L 205.06 617.72 
L 205.30 609.38 
L 205.30 583.77 
L 205.54 584.30 
L 205.54 609.89 
L 205.78 611.51 
L 205.78 584.78 
L 206.02 555.16 
L 206.02 613.26 
L 206.26 609.54 
L 206.26 583.32 
L 206.50 583.52 
L 206.50 610.50 
L 206.74 610.48 
L 206.74 584.65 
L 206.98 584.78 
L 206.98 609.40 
L 207.22 621.87 
L 207.22 584.71 
L 207.46 584.50 
L 207.46 609.65 
L 207.70 609.56 
L 207.70 573.59 
L 207.94 584.76 
L 207.94 609.52 
L 208.18 614.02 
L 208.18 584.28 
L 208.42 584.12 
L 208.42 613.95 
L 208.66 610.27 
L 208.66 584.35 
L 208.90 581.21 
L 208.90 609.63 
L 209.14 609.66 
L 209.14 584.58 
L 209.38 578.92 
L 209.38 610.44 
L 209.62 609.59 
L 209.62 584.87 
L 209.86 584.55 
L 209.86 610.22 
L 210.10 655.53 
L 210.10 584.81 
L 210.34 584.07 
L 210.34 609.49 
L 210.58 611.00 
L 210.58 584.41 
L 210.82 583.65 
L 210.82 613.84 
L 211.06 609.52 
L 211.06 583.47 
L 211.30 582.68 
L 211.30 610.56 
L 211.54 610.05 
L 211.54 584.85 
L 211.78 584.25 
L 211.78 609.41 
L 212.02 629.20 
L 212.02 584.39 
L 212.26 584.54 
L 212.26 613.05 
L 212.50 609.67 
L 212.50 584.36 
L 212.74 584.87 
L 212.74 609.63 
L 212.98 611.72 
L 212.98 584.71 
L 213.22 584.92 
L 213.22 609.29 
L 213.46 610.30 
L 213.46 577.37 
L 213.70 584.19 
L 213.70 611.29 
L 213.94 618.95 
L 213.94 584.62 
L 214.18 584.93 
L 214.18 612.90 
L 214.42 609.31 
L 214.42 584.56 
L 214.66 584.63 
L 214.66 611.22 
L 214.90 609.60 
L 214.90 582.78 
L 215.14 580.89 
L 215.14 610.72 
L 215.38 617.11 
L 215.38 584.76 
L 215.62 572.49 
L 215.62 610.45 
L 215.86 610.78 
L 215.86 584.26 
L 216.10 584.89 
L 216.10 609.41 
L 216.34 609.29 
L 216.34 585.02 
L 216.58 585.05 
L 216.58 609.35 
L 216.82 609.57 
L 216.82 584.48 
L 217.06 575.04 
L 217.06 611.45 
L 217.30 611.16 
L 217.30 581.68 
L 217.54 584.55 
L 217.54 609.52 
L 217.78 609.33 
L 217.78 583.21 
L 218.02 583.16 
L 218.02 609.72 
L 218.26 617.71 
L 218.26 560.86 
L 218.50 583.88 
L 218.50 609.23 
L 218.74 612.07 
L 218.74 584.64 
L 218.98 584.27 
L 218.98 609.45 
L 219.22 616.95 
L 219.22 584.95 
L 219.46 585.09 
L 219.46 609.54 
L 219.70 609.71 
L 219.70 584.50 
L 219.94 584.94 
L 219.94 609.40 
L 220.18 609.89 
L 220.18 584.46 
L 220.42 584.52 
L 220.42 609.49 
L 220.66 609.42 
L 220.66 584.62 
L 220.90 584.43 
L 220.90 626.04 
L 221.14 609.23 
L 221.14 585.14 
L 221.38 578.19 
L 221.38 609.62 
L 221.62 609.24 
L 221.62 575.80 
L 221.86 583.18 
L 221.86 609.67 
L 222.10 609.25 
L 222.10 584.28 
L 222.34 585.08 
L 222.34 617.07 
L 222.58 609.70 
L 222.58 576.43 
L 222.82 582.47 
L 222.82 609.23 
L 223.06 609.49 
L 223.06 585.12 
L 223.30 584.62 
L 223.30 609.35 
L 223.54 609.09 
L 223.54 584.97 
L 223.78 585.06 
L 223.78 609.13 
L 224.02 609.52 
L 224.02 585.13 
L 224.26 585.19 
L 224.26 609.16 
L 224.50 609.28 
L 224.50 584.59 
L 224.74 582.70 
L 224.74 614.53 
L 224.98 618.78 
L 224.98 585.16 
L 225.22 585.13 
L 225.22 609.39 
L 225.46 609.20 
L 225.46 577.21 
L 225.70 584.13 
L 225.70 615.84 
L 225.94 609.08 
L 225.94 585.08 
L 226.18 583.82 
L 226.18 609.66 
L 226.42 609.40 
L 226.42 584.49 
L 226.66 572.93 
L 226.66 609.34 
L 226.90 611.67 
L 226.90 585.06 
L 227.14 584.85 
L 227.14 609.00 
L 227.38 609.61 
L 227.38 581.52 
L 227.62 584.99 
L 227.62 609.02 
L 227.86 610.10 
L 227.86 585.10 
L 228.10 568.43 
L 228.10 689.75 
L 228.34 585.16 
L 228.58 584.67 
L 228.58 614.02 
L 228.82 610.02 
L 228.82 584.17 
L 229.06 575.98 
L 229.06 610.06 
L 229.30 609.22 
L 229.30 585.02 
L 229.54 583.58 
L 229.54 609.20 
L 229.78 609.16 
L 229.78 584.11 
L 230.02 584.93 
L 230.02 617.35 
L 230.26 611.73 
L 230.26 584.85 
L 230.50 584.95 
L 230.50 608.94 
L 230.74 609.73 
L 230.74 585.08 
L 230.98 584.63 
L 230.98 609.39 
L 231.22 609.12 
L 231.22 585.07 
L 231.46 584.91 
L 231.46 609.48 
L 231.70 609.34 
L 231.70 585.33 
L 231.94 585.07 
L 231.94 609.24 
L 232.18 609.21 
L 232.18 585.29 
L 232.42 585.09 
L 232.42 609.24 
L 232.66 609.41 
L 232.66 584.83 
L 232.90 584.67 
L 232.90 609.10 
L 233.14 608.95 
L 233.14 584.68 
L 233.38 584.95 
L 233.38 613.07 
L 233.62 609.72 
L 233.62 585.08 
L 233.86 585.19 
L 233.86 609.64 
L 234.10 609.31 
L 234.10 549.91 
L 234.34 585.16 
L 234.34 609.18 
L 234.58 608.94 
L 234.58 582.74 
L 234.82 585.36 
L 234.82 610.94 
L 235.06 609.12 
L 235.06 584.53 
L 235.30 585.24 
L 235.30 609.73 
L 235.54 609.00 
L 235.54 585.33 
L 235.78 581.10 
L 235.78 609.92 
L 236.02 608.95 
L 236.02 585.05 
L 236.26 583.16 
L 236.26 609.27 
L 236.50 609.47 
L 236.50 585.21 
L 236.74 585.30 
L 236.74 609.31 
L 236.98 609.00 
L 236.98 584.81 
L 237.22 585.00 
L 237.22 610.06 
L 237.46 609.02 
L 237.46 584.73 
L 237.70 585.28 
L 237.70 609.43 
L 237.94 613.12 
L 237.94 583.82 
L 238.18 582.57 
L 238.18 609.20 
L 238.42 609.16 
L 238.42 583.21 
L 238.66 585.11 
L 238.66 611.20 
L 238.90 609.67 
L 238.90 579.17 
L 239.14 581.88 
L 239.14 609.38 
L 239.38 609.97 
L 239.38 585.16 
L 239.62 584.78 
L 239.62 609.33 
L 239.86 609.03 
L 239.86 584.99 
L 240.10 582.64 
L 240.10 609.14 
L 240.34 609.67 
L 240.34 566.58 
L 240.58 584.43 
L 240.58 609.34 
L 240.82 609.40 
L 240.82 584.58 
L 241.06 582.60 
L 241.06 609.32 
L 241.30 610.74 
L 241.30 579.23 
L 241.54 585.18 
L 241.54 609.57 
L 241.77 609.08 
L 241.77 583.81 
L 242.01 585.16 
L 242.01 609.38 
L 242.25 609.12 
L 242.25 584.66 
L 242.49 584.32 
L 242.49 626.55 
L 242.73 609.43 
L 242.73 584.86 
L 242.97 569.31 
L 242.97 616.62 
L 243.21 609.14 
L 243.21 584.77 
L 243.45 584.41 
L 243.45 609.38 
L 243.69 610.30 
L 243.69 580.92 
L 243.93 584.54 
L 243.93 610.28 
L 244.17 609.66 
L 244.17 569.44 
L 244.41 584.80 
L 244.41 609.29 
L 244.65 609.98 
L 244.65 585.10 
L 244.89 579.32 
L 244.89 609.88 
L 245.13 609.59 
L 245.13 584.18 
L 245.37 584.54 
L 245.37 610.39 
L 245.61 609.32 
L 245.61 584.95 
L 245.85 584.89 
L 245.85 611.56 
L 246.09 610.01 
L 246.09 580.21 
L 246.33 581.19 
L 246.33 609.57 
L 246.57 610.13 
L 246.57 584.32 
L 246.81 584.92 
L 246.81 610.51 
L 247.05 609.39 
L 247.05 584.72 
L 247.29 583.82 
L 247.29 611.18 
L 247.53 609.29 
L 247.53 584.25 
L 247.77 581.46 
L 247.77 609.67 
L 248.01 610.17 
L 248.01 584.69 
L 248.25 584.42 
L 248.25 617.12 
L 248.49 612.27 
L 248.49 573.37 
L 248.73 584.95 
L 248.73 609.49 
L 248.97 610.54 
L 248.97 584.91 
L 249.21 584.73 
L 249.21 609.53 
L 249.45 609.34 
L 249.45 584.18 
L 249.69 584.04 
L 249.69 609.56 
L 249.93 609.71 
L 249.93 584.53 
L 250.17 584.84 
L 250.17 609.75 
L 250.41 609.38 
L 250.41 583.68 
L 250.65 584.41 
L 250.65 609.77 
L 250.89 609.47 
L 250.89 584.61 
L 251.13 584.67 
L 251.13 609.93 
L 251.37 611.31 
L 251.37 584.75 
L 251.61 584.64 
L 251.61 609.42 
L 251.85 609.98 
L 251.85 572.20 
L 252.09 584.89 
L 252.09 609.43 
L 252.33 629.26 
L 252.33 584.56 
L 252.57 584.24 
L 252.57 614.57 
L 252.81 614.28 
L 252.81 584.03 
L 253.05 584.22 
L 253.05 615.78 
L 253.29 609.66 
L 253.29 584.57 
L 253.53 584.78 
L 253.53 610.29 
L 253.77 609.84 
L 253.77 584.54 
L 254.01 579.53 
L 254.01 612.66 
L 254.25 609.82 
L 254.25 584.26 
L 254.49 584.91 
L 254.49 609.40 
L 254.73 609.84 
L 254.73 584.74 
L 254.97 579.40 
L 254.97 609.65 
L 255.21 609.58 
L 255.21 584.93 
L 255.45 572.97 
L 255.45 610.00 
L 255.69 610.09 
L 255.69 584.89 
L 255.93 583.92 
L 255.93 610.30 
L 256.17 609.32 
L 256.17 584.91 
L 256.41 584.42 
L 256.41 617.04 
L 256.65 614.97 
L 256.65 584.88 
L 256.89 579.84 
L 256.89 609.44 
L 257.13 609.77 
L 257.13 584.78 
L 257.37 583.71 
L 257.37 609.50 
L 257.61 609.91 
L 257.61 584.64 
L 257.85 584.29 
L 257.85 609.79 
L 258.09 621.73 
L 258.09 584.92 
L 258.33 580.99 
L 258.33 609.70 
L 258.57 615.42 
L 258.57 584.95 
L 258.81 584.54 
L 258.81 609.93 
L 259.05 615.31 
L 259.05 584.70 
L 259.29 584.83 
L 259.29 609.28 
L 259.53 609.25 
L 259.53 583.01 
L 259.77 583.70 
L 259.77 612.44 
L 260.01 610.05 
L 260.01 584.90 
L 260.25 575.75 
L 260.25 609.38 
L 260.49 612.92 
L 260.49 584.39 
L 260.73 584.79 
L 260.73 610.20 
L 260.97 609.38 
L 260.97 584.32 
L 261.21 584.97 
L 261.21 609.76 
L 261.45 609.95 
L 261.45 584.21 
L 261.69 584.97 
L 261.69 609.66 
L 261.93 609.84 
L 261.93 585.03 
L 262.17 584.98 
L 262.17 610.48 
L 262.41 611.09 
L 262.41 585.05 
L 262.65 580.60 
L 262.65 610.24 
L 262.89 612.67 
L 262.89 584.10 
L 263.13 581.83 
L 263.13 610.06 
L 263.37 609.34 
L 263.37 585.05 
L 263.61 584.17 
L 263.61 609.22 
L 263.85 614.47 
L 263.85 585.05 
L 264.09 585.07 
L 264.09 620.99 
L 264.33 609.72 
L 264.33 584.94 
L 264.57 584.97 
L 264.57 609.21 
L 264.81 609.31 
L 264.81 585.00 
L 265.05 547.09 
L 265.05 609.20 
L 265.29 609.15 
L 265.29 584.92 
L 265.53 585.08 
L 265.53 609.86 
L 265.77 609.33 
L 265.77 584.02 
L 266.01 584.96 
L 266.01 609.46 
L 266.25 609.83 
L 266.25 585.06 
L 266.49 585.02 
L 266.49 609.12 
L 266.73 611.07 
L 266.73 585.12 
L 266.97 585.10 
L 266.97 609.48 
L 267.21 609.19 
L 267.21 584.57 
L 267.45 578.61 
L 267.45 609.76 
L 267.69 609.36 
L 267.69 584.21 
L 267.93 584.81 
L 267.93 609.15 
L 268.17 609.11 
L 268.17 582.52 
L 268.41 584.50 
L 268.41 612.33 
L 268.65 610.30 
L 268.65 585.16 
L 268.89 565.04 
L 268.89 609.27 
L 269.13 610.21 
L 269.13 578.75 
L 269.37 585.00 
L 269.37 609.67 
L 269.61 609.23 
L 269.61 584.99 
L 269.85 584.84 
L 269.85 609.45 
L 270.09 609.55 
L 270.09 573.20 
L 270.33 584.89 
L 270.33 611.16 
L 270.57 609.65 
L 270.57 583.04 
L 270.81 584.64 
L 270.81 609.79 
L 271.05 609.07 
L 271.05 584.55 
L 271.29 584.59 
L 271.29 609.22 
L 271.53 610.43 
L 271.53 584.99 
L 271.77 584.40 
L 271.77 610.14 
L 272.01 609.26 
L 272.01 584.76 
L 272.25 585.02 
L 272.25 609.33 
L 272.49 610.09 
L 272.49 577.68 
L 272.73 585.06 
L 272.73 609.27 
L 272.97 609.52 
L 272.97 585.16 
L 273.21 585.04 
L 273.21 609.22 
L 273.45 612.04 
L 273.45 584.69 
L 273.69 583.68 
L 273.69 609.85 
L 273.93 609.81 
L 273.93 584.62 
L 274.17 576.53 
L 274.17 609.69 
L 274.41 622.62 
L 274.41 584.95 
L 274.65 584.65 
L 274.65 609.22 
L 274.89 609.19 
L 274.89 585.04 
L 275.13 584.87 
L 275.13 609.07 
L 275.37 609.44 
L 275.37 585.03 
L 275.61 585.13 
L 275.61 610.62 
L 275.85 612.42 
L 275.85 584.94 
L 276.09 574.34 
L 276.09 610.76 
L 276.33 616.37 
L 276.33 584.30 
L 276.57 582.98 
L 276.57 609.23 
L 276.81 609.78 
L 276.81 585.10 
L 277.05 576.43 
L 277.05 609.48 
L 277.29 610.26 
L 277.29 584.84 
L 277.53 576.27 
L 277.53 610.14 
L 277.77 609.39 
L 277.77 584.60 
L 278.01 585.06 
L 278.01 609.26 
L 278.25 610.23 
L 278.25 577.02 
L 278.49 575.31 
L 278.49 609.43 
L 278.73 622.12 
L 278.73 585.06 
L 278.97 584.49 
L 278.97 609.52 
L 279.21 609.84 
L 279.21 585.05 
L 279.45 583.32 
L 279.45 609.10 
L 279.69 613.83 
L 279.69 584.99 
L 279.93 585.16 
L 279.93 610.06 
L 280.17 609.39 
L 280.17 574.50 
L 280.41 584.76 
L 280.41 609.77 
L 280.65 609.11 
L 280.65 584.12 
L 280.89 584.77 
L 280.89 613.75 
L 281.13 615.64 
L 281.13 584.63 
L 281.37 584.08 
L 281.37 609.20 
L 281.61 609.16 
L 281.61 585.12 
L 281.85 584.49 
L 281.85 609.35 
L 282.09 609.90 
L 282.09 584.89 
L 282.33 584.70 
L 282.33 621.23 
L 282.57 613.04 
L 282.57 585.17 
L 282.81 575.74 
L 282.81 609.35 
L 283.05 609.53 
L 283.05 584.68 
L 283.29 584.94 
L 283.29 609.89 
L 283.53 610.95 
L 283.53 584.85 
L 283.77 584.90 
L 283.77 609.21 
L 284.01 609.78 
L 284.01 564.23 
L 284.25 585.02 
L 284.25 615.29 
L 284.49 609.25 
L 284.49 584.76 
L 284.72 583.70 
L 284.72 609.94 
L 284.96 610.10 
L 284.96 585.08 
L 285.20 585.12 
L 285.20 609.17 
L 285.44 610.72 
L 285.44 584.88 
L 285.68 578.74 
L 285.68 611.83 
L 285.92 609.62 
L 285.92 584.61 
L 286.16 584.58 
L 286.16 609.48 
L 286.40 609.40 
L 286.40 583.76 
L 286.64 585.16 
L 286.64 609.08 
L 286.88 610.35 
L 286.88 584.81 
L 287.12 584.87 
L 287.12 609.42 
L 287.36 609.73 
L 287.36 585.11 
L 287.60 583.37 
L 287.60 609.34 
L 287.84 609.30 
L 287.84 584.90 
L 288.08 585.02 
L 288.08 609.68 
L 288.32 612.81 
L 288.32 585.00 
L 288.56 577.09 
L 288.56 613.03 
L 288.80 609.24 
L 288.80 583.83 
L 289.04 584.45 
L 289.04 609.36 
L 289.28 609.35 
L 289.28 582.02 
L 289.52 584.32 
L 289.52 609.55 
L 289.76 609.28 
L 289.76 582.88 
L 290.00 577.51 
L 290.00 616.10 
L 290.24 609.10 
L 290.24 583.87 
L 290.48 584.97 
L 290.48 609.72 
L 290.72 609.81 
L 290.72 584.75 
L 290.96 585.10 
L 290.96 609.41 
L 291.20 609.63 
L 291.20 582.72 
L 291.44 583.82 
L 291.44 609.10 
L 291.68 610.12 
L 291.68 584.89 
L 291.92 584.84 
L 291.92 610.29 
L 292.16 622.65 
L 292.16 584.92 
L 292.40 584.94 
L 292.40 609.50 
L 292.64 609.14 
L 292.64 585.11 
L 292.88 585.04 
L 292.88 609.36 
L 293.12 612.71 
L 293.12 585.02 
L 293.36 585.12 
L 293.36 610.35 
L 293.60 611.75 
L 293.60 584.69 
L 293.84 580.54 
L 293.84 609.25 
L 294.08 609.21 
L 294.08 585.09 
L 294.32 584.89 
L 294.32 609.72 
L 294.56 609.48 
L 294.56 584.88 
L 294.80 583.02 
L 294.80 609.21 
L 295.04 609.34 
L 295.04 584.85 
L 295.28 584.95 
L 295.28 609.76 
L 295.52 609.54 
L 295.52 584.47 
L 295.76 582.68 
L 295.76 609.92 
L 296.00 610.76 
L 296.00 585.15 
L 296.24 584.65 
L 296.24 610.65 
L 296.48 627.58 
L 296.48 583.22 
L 296.72 584.54 
L 296.72 609.78 
L 296.96 609.17 
L 296.96 584.96 
L 297.20 585.04 
L 297.20 609.52 
L 297.44 609.80 
L 297.44 585.11 
L 297.68 584.21 
L 297.68 609.41 
L 297.92 610.32 
L 297.92 584.30 
L 298.16 585.13 
L 298.16 609.23 
L 298.40 613.39 
L 298.40 583.71 
L 298.64 584.69 
L 298.64 610.79 
L 298.88 609.24 
L 298.88 584.99 
L 299.12 584.39 
L 299.12 609.21 
L 299.36 609.20 
L 299.36 584.00 
L 299.60 584.89 
L 299.60 613.42 
L 299.84 610.09 
L 299.84 584.86 
L 300.08 584.49 
L 300.08 609.60 
L 300.32 609.95 
L 300.32 584.44 
L 300.56 584.83 
L 300.56 620.50 
L 300.80 615.99 
L 300.80 584.16 
L 301.04 585.11 
L 301.04 609.40 
L 301.28 612.61 
L 301.28 584.33 
L 301.52 584.75 
L 301.52 614.98 
L 301.76 609.52 
L 301.76 584.51 
L 302.00 584.34 
L 302.00 611.00 
L 302.24 610.94 
L 302.24 578.41 
L 302.48 582.03 
L 302.48 609.47 
L 302.72 612.85 
L 302.72 583.07 
L 302.96 585.00 
L 302.96 609.55 
L 303.20 609.22 
L 303.20 584.89 
L 303.44 583.38 
L 303.44 609.91 
L 303.68 609.21 
L 303.68 584.13 
L 303.92 584.45 
L 303.92 609.18 
L 304.16 619.25 
L 304.16 584.03 
L 304.40 584.49 
L 304.40 613.09 
L 304.64 612.66 
L 304.64 584.67 
L 304.88 584.94 
L 304.88 609.20 
L 305.12 609.34 
L 305.12 584.81 
L 305.36 584.79 
L 305.36 614.83 
L 305.60 613.09 
L 305.60 584.81 
L 305.84 584.86 
L 305.84 609.24 
L 306.08 609.19 
L 306.08 584.68 
L 306.32 585.08 
L 306.32 609.56 
L 306.56 609.30 
L 306.56 584.01 
L 306.80 580.76 
L 306.80 609.31 
L 307.04 610.85 
L 307.04 584.48 
L 307.28 571.49 
L 307.28 609.47 
L 307.52 609.84 
L 307.52 583.86 
L 307.76 585.03 
L 307.76 612.44 
L 308.00 609.60 
L 308.00 584.61 
L 308.24 584.84 
L 308.24 609.38 
L 308.48 615.79 
L 308.48 583.81 
L 308.72 584.73 
L 308.72 609.93 
L 308.96 609.31 
L 308.96 585.07 
L 309.20 584.70 
L 309.20 609.71 
L 309.44 609.30 
L 309.44 584.56 
L 309.68 584.46 
L 309.68 610.05 
L 309.92 609.32 
L 309.92 579.02 
L 310.16 584.96 
L 310.16 609.44 
L 310.40 611.19 
L 310.40 585.00 
L 310.64 584.79 
L 310.64 609.45 
L 310.88 609.25 
L 310.88 584.15 
L 311.12 584.99 
L 311.12 609.30 
L 311.36 609.18 
L 311.36 584.52 
L 311.60 584.50 
L 311.60 609.32 
L 311.84 615.31 
L 311.84 584.74 
L 312.08 583.75 
L 312.08 610.05 
L 312.32 609.17 
L 312.32 584.17 
L 312.56 582.95 
L 312.56 609.50 
L 312.80 609.26 
L 312.80 579.78 
L 313.04 584.48 
L 313.04 609.72 
L 313.28 609.25 
L 313.28 585.00 
L 313.52 584.81 
L 313.52 609.40 
L 313.76 609.60 
L 313.76 584.62 
L 314.00 584.42 
L 314.00 609.60 
L 314.24 609.83 
L 314.24 584.96 
L 314.48 584.77 
L 314.48 609.40 
L 314.72 612.70 
L 314.72 584.96 
L 314.96 584.68 
L 314.96 609.46 
L 315.20 609.58 
L 315.20 584.80 
L 315.44 581.78 
L 315.44 609.66 
L 315.68 609.44 
L 315.68 564.45 
L 315.92 584.86 
L 315.92 609.77 
L 316.16 609.57 
L 316.16 585.02 
L 316.40 584.52 
L 316.40 610.84 
L 316.64 611.07 
L 316.64 584.92 
L 316.88 584.32 
L 316.88 609.21 
L 317.12 618.76 
L 317.12 584.79 
L 317.36 583.23 
L 317.36 609.33 
L 317.60 609.42 
L 317.60 585.05 
L 317.84 584.84 
L 317.84 609.56 
L 318.08 610.06 
L 318.08 579.78 
L 318.32 584.79 
L 318.32 609.27 
L 318.56 609.44 
L 318.56 578.49 
L 318.80 584.58 
L 318.80 613.06 
L 319.04 609.56 
L 319.04 584.29 
L 319.28 584.97 
L 319.28 609.27 
L 319.52 609.60 
L 319.52 584.81 
L 319.76 576.31 
L 319.76 609.75 
L 320.00 609.61 
L 320.00 585.01 
L 320.24 580.64 
L 320.24 609.30 
L 320.48 609.53 
L 320.48 584.96 
L 320.72 584.86 
L 320.72 611.23 
L 320.96 609.64 
L 320.96 584.97 
L 321.20 584.82 
L 321.20 609.36 
L 321.44 609.84 
L 321.44 584.44 
L 321.68 573.79 
L 321.68 685.00 
L 321.92 580.42 
L 322.16 584.79 
L 322.16 609.21 
L 322.40 609.41 
L 322.40 584.47 
L 322.64 585.06 
L 322.64 609.30 
L 322.88 609.39 
L 322.88 581.19 
L 323.12 584.98 
L 323.12 609.33 
L 323.36 609.23 
L 323.36 584.51 
L 323.60 584.69 
L 323.60 609.55 
L 323.84 612.15 
L 323.84 584.53 
L 324.08 583.89 
L 324.08 610.22 
L 324.32 609.69 
L 324.32 583.98 
L 324.56 584.29 
L 324.56 609.47 
L 324.80 611.18 
L 324.80 584.25 
L 325.04 584.94 
L 325.04 609.62 
L 325.28 609.69 
L 325.28 584.85 
L 325.52 584.61 
L 325.52 609.60 
L 325.76 637.65 
L 325.76 584.85 
L 326.00 584.24 
L 326.00 609.73 
L 326.24 609.72 
L 326.24 574.61 
L 326.48 583.18 
L 326.48 610.27 
L 326.72 609.37 
L 326.72 584.63 
L 326.96 584.52 
L 326.96 612.68 
L 327.20 609.57 
L 327.20 584.93 
L 327.44 584.94 
L 327.44 609.41 
L 327.67 609.55 
L 327.67 583.33 
L 327.91 581.18 
L 327.91 610.29 
L 328.15 609.28 
L 328.15 584.32 
L 328.39 578.42 
L 328.39 611.08 
L 328.63 609.54 
L 328.63 584.57 
L 328.87 583.28 
L 328.87 609.78 
L 329.11 609.60 
L 329.11 584.88 
L 329.35 583.16 
L 329.35 612.03 
L 329.59 609.38 
L 329.59 584.71 
L 329.83 584.95 
L 329.83 610.02 
L 330.07 609.76 
L 330.07 584.46 
L 330.31 583.61 
L 330.31 610.16 
L 330.55 609.60 
L 330.55 583.95 
L 330.79 581.97 
L 330.79 609.58 
L 331.03 613.70 
L 331.03 584.67 
L 331.27 580.43 
L 331.27 616.71 
L 331.51 609.61 
L 331.51 584.79 
L 331.75 584.60 
L 331.75 612.48 
L 331.99 609.86 
L 331.99 583.69 
L 332.23 584.96 
L 332.23 609.32 
L 332.47 609.75 
L 332.47 581.81 
L 332.71 584.52 
L 332.71 613.22 
L 332.95 609.84 
L 332.95 584.55 
L 333.19 584.92 
L 333.19 609.47 
L 333.43 609.43 
L 333.43 578.09 
L 333.67 584.61 
L 333.67 611.67 
L 333.91 610.49 
L 333.91 584.93 
L 334.15 584.52 
L 334.15 610.05 
L 334.39 609.31 
L 334.39 573.38 
L 334.63 584.93 
L 334.63 609.73 
L 334.87 609.51 
L 334.87 584.93 
L 335.11 584.55 
L 335.11 609.36 
L 335.35 614.54 
L 335.35 573.79 
L 335.59 584.29 
L 335.59 609.81 
L 335.83 617.41 
L 335.83 584.83 
L 336.07 584.27 
L 336.07 609.41 
L 336.31 609.83 
L 336.31 584.39 
L 336.55 583.89 
L 336.55 609.55 
L 336.79 621.44 
L 336.79 579.70 
L 337.03 584.27 
L 337.03 610.48 
L 337.27 609.65 
L 337.27 580.85 
L 337.51 577.46 
L 337.51 609.44 
L 337.75 609.61 
L 337.75 583.69 
L 337.99 584.86 
L 337.99 610.41 
L 338.23 609.91 
L 338.23 581.43 
L 338.47 583.82 
L 338.47 609.50 
L 338.71 610.22 
L 338.71 584.91 
L 338.95 584.47 
L 338.95 609.50 
L 339.19 609.39 
L 339.19 582.02 
L 339.43 584.03 
L 339.43 609.85 
L 339.67 613.52 
L 339.67 580.41 
L 339.91 584.62 
L 339.91 609.78 
L 340.15 609.60 
L 340.15 584.53 
L 340.39 584.47 
L 340.39 609.48 
L 340.63 612.26 
L 340.63 579.60 
L 340.87 581.72 
L 340.87 610.71 
L 341.11 609.60 
L 341.11 584.35 
L 341.35 584.29 
L 341.35 609.66 
L 341.59 609.44 
L 341.59 577.37 
L 341.83 584.59 
L 341.83 610.05 
L 342.07 663.77 
L 342.07 584.52 
L 342.31 584.35 
L 342.31 610.98 
L 342.55 610.29 
L 342.55 584.87 
L 342.79 584.51 
L 342.79 609.99 
L 343.03 610.67 
L 343.03 584.50 
L 343.27 581.59 
L 343.27 609.66 
L 343.51 609.54 
L 343.51 584.85 
L 343.75 580.15 
L 343.75 612.14 
L 343.99 609.62 
L 343.99 583.48 
L 344.23 584.82 
L 344.23 611.28 
L 344.47 610.49 
L 344.47 584.65 
L 344.71 583.04 
L 344.71 614.86 
L 344.95 621.93 
L 344.95 583.29 
L 345.19 584.85 
L 345.19 609.88 
L 345.43 610.36 
L 345.43 584.53 
L 345.67 584.56 
L 345.67 609.78 
L 345.91 615.03 
L 345.91 576.73 
L 346.15 584.89 
L 346.15 610.53 
L 346.39 610.12 
L 346.39 584.17 
L 346.63 584.71 
L 346.63 617.10 
L 346.87 609.37 
L 346.87 584.48 
L 347.11 584.65 
L 347.11 609.51 
L 347.35 609.44 
L 347.35 584.56 
L 347.59 583.94 
L 347.59 610.42 
L 347.83 609.51 
L 347.83 584.48 
L 348.07 553.48 
L 348.07 609.59 
L 348.31 610.02 
L 348.31 584.51 
L 348.55 581.39 
L 348.55 612.90 
L 348.79 609.74 
L 348.79 584.57 
L 349.03 584.79 
L 349.03 611.24 
L 349.27 609.74 
L 349.27 581.52 
L 349.51 584.62 
L 349.51 610.18 
L 349.75 611.15 
L 349.75 584.83 
L 349.99 584.62 
L 349.99 613.48 
L 350.23 617.92 
L 350.23 582.87 
L 350.47 583.91 
L 350.47 610.65 
L 350.71 614.49 
L 350.71 584.82 
L 350.95 584.78 
L 350.95 609.98 
L 351.19 609.56 
L 351.19 584.02 
L 351.43 583.66 
L 351.43 609.80 
L 351.67 609.86 
L 351.67 582.15 
L 351.91 584.55 
L 351.91 610.80 
L 352.15 609.93 
L 352.15 584.38 
L 352.39 584.25 
L 352.39 610.28 
L 352.63 610.13 
L 352.63 572.64 
L 352.87 584.74 
L 352.87 609.66 
L 353.11 609.54 
L 353.11 584.49 
L 353.35 584.43 
L 353.35 610.86 
L 353.59 611.02 
L 353.59 583.93 
L 353.83 583.30 
L 353.83 609.46 
L 354.07 609.86 
L 354.07 584.46 
L 354.31 584.35 
L 354.31 609.53 
L 354.55 609.68 
L 354.55 584.83 
L 354.79 576.53 
L 354.79 610.13 
L 355.03 610.11 
L 355.03 584.49 
L 355.27 583.22 
L 355.27 625.47 
L 355.51 609.67 
L 355.51 584.23 
L 355.75 584.25 
L 355.75 612.78 
L 355.99 617.49 
L 355.99 584.07 
L 356.23 583.12 
L 356.23 610.21 
L 356.47 609.78 
L 356.47 583.26 
L 356.71 584.55 
L 356.71 609.43 
L 356.95 609.94 
L 356.95 584.58 
L 357.19 584.18 
L 357.19 609.88 
L 357.43 610.23 
L 357.43 584.77 
L 357.67 580.96 
L 357.67 609.94 
L 357.91 609.83 
L 357.91 584.36 
L 358.15 584.27 
L 358.15 609.87 
L 358.39 614.85 
L 358.39 584.50 
L 358.63 584.40 
L 358.63 610.50 
L 358.87 674.34 
L 358.87 574.62 
L 359.11 584.66 
L 359.11 614.51 
L 359.35 609.69 
L 359.35 582.71 
L 359.59 584.30 
L 359.59 610.65 
L 359.83 610.94 
L 359.83 583.47 
L 360.07 576.40 
L 360.07 609.50 
L 360.31 609.56 
L 360.31 584.76 
L 360.55 584.78 
L 360.55 611.01 
L 360.79 609.79 
L 360.79 584.44 
L 361.03 584.47 
L 361.03 610.18 
L 361.27 610.41 
L 361.27 575.31 
L 361.51 584.78 
L 361.51 611.64 
L 361.75 609.59 
L 361.75 584.43 
L 361.99 584.32 
L 361.99 610.15 
L 362.23 609.47 
L 362.23 584.56 
L 362.47 583.89 
L 362.47 609.69 
L 362.71 609.47 
L 362.71 584.55 
L 362.95 583.21 
L 362.95 609.76 
L 363.19 610.21 
L 363.19 584.04 
L 363.43 576.86 
L 363.43 609.59 
L 363.67 635.38 
L 363.67 583.62 
L 363.91 582.56 
L 363.91 614.42 
L 364.15 610.33 
L 364.15 584.48 
L 364.39 584.12 
L 364.39 610.63 
L 364.63 610.98 
L 364.63 584.51 
L 364.87 583.95 
L 364.87 609.52 
L 365.11 609.71 
L 365.11 584.66 
L 365.35 584.40 
L 365.35 609.82 
L 365.59 610.46 
L 365.59 583.71 
L 365.83 584.39 
L 365.83 611.56 
L 366.07 611.45 
L 366.07 584.43 
L 366.31 584.72 
L 366.31 610.21 
L 366.55 609.91 
L 366.55 583.79 
L 366.79 584.54 
L 366.79 616.17 
L 367.03 624.66 
L 367.03 572.51 
L 367.27 583.70 
L 367.27 609.91 
L 367.51 609.98 
L 367.51 584.57 
L 367.75 584.33 
L 367.75 610.06 
L 367.99 610.07 
L 367.99 584.61 
L 368.23 584.57 
L 368.23 609.87 
L 368.47 613.01 
L 368.47 584.45 
L 368.71 584.01 
L 368.71 629.94 
L 368.95 612.71 
L 368.95 579.38 
L 369.19 584.09 
L 369.19 609.54 
L 369.43 609.94 
L 369.43 584.70 
L 369.67 583.01 
L 369.67 610.80 
L 369.91 610.18 
L 369.91 582.20 
L 370.15 584.30 
L 370.15 609.65 
L 370.39 614.47 
L 370.39 584.40 
L 370.62 584.33 
L 370.62 610.91 
L 370.86 612.07 
L 370.86 584.21 
L 371.10 578.27 
L 371.10 609.53 
L 371.34 609.72 
L 371.34 584.24 
L 371.58 584.63 
L 371.58 609.72 
L 371.82 610.10 
L 371.82 584.63 
L 372.06 584.71 
L 372.06 609.52 
L 372.30 609.98 
L 372.30 584.33 
L 372.54 582.87 
L 372.54 610.43 
L 372.78 609.52 
L 372.78 558.89 
L 373.02 584.22 
L 373.02 610.03 
L 373.26 651.16 
L 373.26 583.45 
L 373.50 584.52 
L 373.50 609.75 
L 373.74 613.51 
L 373.74 584.60 
L 373.98 566.55 
L 373.98 609.86 
L 374.22 610.25 
L 374.22 583.13 
L 374.46 584.41 
L 374.46 609.64 
L 374.70 609.52 
L 374.70 583.85 
L 374.94 584.49 
L 374.94 609.65 
L 375.18 609.79 
L 375.18 584.75 
L 375.42 583.77 
L 375.42 609.76 
L 375.66 609.73 
L 375.66 577.40 
L 375.90 584.74 
L 375.90 609.60 
L 376.14 610.26 
L 376.14 584.10 
L 376.38 582.40 
L 376.38 609.62 
L 376.62 610.75 
L 376.62 584.18 
L 376.86 565.79 
L 376.86 611.15 
L 377.10 699.88 
L 377.10 584.81 
L 377.34 584.05 
L 377.34 609.64 
L 377.58 610.00 
L 377.58 583.61 
L 377.82 582.18 
L 377.82 610.15 
L 378.06 609.83 
L 378.06 584.04 
L 378.30 582.23 
L 378.30 613.92 
L 378.54 609.40 
L 378.54 584.19 
L 378.78 584.77 
L 378.78 619.21 
L 379.02 609.83 
L 379.02 584.79 
L 379.26 583.43 
L 379.26 610.18 
L 379.50 609.61 
L 379.50 584.42 
L 379.74 584.17 
L 379.74 609.66 
L 379.98 609.74 
L 379.98 578.76 
L 380.22 584.42 
L 380.22 609.81 
L 380.46 615.64 
L 380.46 584.64 
L 380.70 584.60 
L 380.70 609.81 
L 380.94 609.99 
L 380.94 584.80 
L 381.18 584.66 
L 381.18 610.02 
L 381.42 609.55 
L 381.42 584.40 
L 381.66 580.89 
L 381.66 609.89 
L 381.90 611.37 
L 381.90 578.22 
L 382.14 583.61 
L 382.14 609.48 
L 382.38 609.56 
L 382.38 584.52 
L 382.62 581.43 
L 382.62 609.47 
L 382.86 609.43 
L 382.86 581.86 
L 383.10 584.93 
L 383.10 609.84 
L 383.34 609.31 
L 383.34 584.18 
L 383.58 584.89 
L 383.58 609.58 
L 383.82 611.91 
L 383.82 580.57 
L 384.06 584.90 
L 384.06 609.48 
L 384.30 609.39 
L 384.30 584.91 
L 384.54 580.60 
L 384.54 609.69 
L 384.78 610.56 
L 384.78 584.52 
L 385.02 582.04 
L 385.02 609.43 
L 385.26 609.81 
L 385.26 584.77 
L 385.50 584.64 
L 385.50 610.20 
L 385.74 614.03 
L 385.74 585.04 
L 385.98 584.42 
L 385.98 609.21 
L 386.22 609.26 
L 386.22 573.73 
L 386.46 584.73 
L 386.46 609.34 
L 386.70 610.25 
L 386.70 584.81 
L 386.94 584.95 
L 386.94 609.85 
L 387.18 612.51 
L 387.18 584.97 
L 387.42 585.03 
L 387.42 615.23 
L 387.66 610.01 
L 387.66 584.48 
L 387.90 583.96 
L 387.90 609.35 
L 388.14 609.44 
L 388.14 573.94 
L 388.38 584.58 
L 388.38 612.80 
L 388.62 620.89 
L 388.62 584.97 
L 388.86 583.60 
L 388.86 609.98 
L 389.10 609.65 
L 389.10 584.72 
L 389.34 584.99 
L 389.34 609.97 
L 389.58 609.50 
L 389.58 585.07 
L 389.82 584.46 
L 389.82 614.36 
L 390.06 610.00 
L 390.06 573.35 
L 390.30 584.78 
L 390.30 613.83 
L 390.54 609.29 
L 390.54 584.46 
L 390.78 585.09 
L 390.78 610.07 
L 391.02 609.48 
L 391.02 584.26 
L 391.26 584.90 
L 391.26 610.36 
L 391.50 609.63 
L 391.50 584.76 
L 391.74 581.98 
L 391.74 610.67 
L 391.98 609.08 
L 391.98 576.94 
L 392.22 584.41 
L 392.22 609.12 
L 392.46 609.09 
L 392.46 584.91 
L 392.70 584.37 
L 392.70 609.38 
L 392.94 609.38 
L 392.94 584.92 
L 393.18 584.85 
L 393.18 609.26 
L 393.42 609.86 
L 393.42 584.89 
L 393.66 580.08 
L 393.66 612.71 
L 393.90 620.76 
L 393.90 584.70 
L 394.14 585.02 
L 394.14 613.39 
L 394.38 609.24 
L 394.38 585.12 
L 394.62 585.10 
L 394.62 609.30 
L 394.86 609.12 
L 394.86 584.98 
L 395.10 584.17 
L 395.10 609.78 
L 395.34 610.01 
L 395.34 584.95 
L 395.58 584.88 
L 395.58 609.42 
L 395.82 609.82 
L 395.82 580.82 
L 396.06 584.60 
L 396.06 609.53 
L 396.30 610.00 
L 396.30 585.10 
L 396.54 584.78 
L 396.54 609.61 
L 396.78 609.05 
L 396.78 582.27 
L 397.02 585.18 
L 397.02 609.20 
L 397.26 608.96 
L 397.26 584.15 
L 397.50 585.16 
L 397.50 616.10 
L 397.74 610.34 
L 397.74 584.92 
L 397.98 580.12 
L 397.98 640.41 
L 398.22 609.27 
L 398.22 583.55 
L 398.46 582.33 
L 398.46 609.00 
L 398.70 609.76 
L 398.70 585.29 
L 398.94 585.30 
L 398.94 608.95 
L 399.18 609.11 
L 399.18 585.08 
L 399.42 584.85 
L 399.42 608.96 
L 399.66 609.63 
L 399.66 584.58 
L 399.90 576.19 
L 399.90 608.90 
L 400.14 609.24 
L 400.14 572.82 
L 400.38 585.03 
L 400.38 613.01 
L 400.62 612.00 
L 400.62 562.49 
L 400.86 582.34 
L 400.86 609.64 
L 401.10 608.92 
L 401.10 585.14 
L 401.34 584.91 
L 401.34 609.38 
L 401.58 609.04 
L 401.58 585.22 
L 401.82 584.57 
L 401.82 609.54 
L 402.06 608.91 
L 402.06 585.23 
L 402.30 585.09 
L 402.30 609.01 
L 402.54 610.43 
L 402.54 585.03 
L 402.78 585.09 
L 402.78 609.48 
L 403.02 612.54 
L 403.02 584.63 
L 403.26 584.47 
L 403.26 608.86 
L 403.50 608.81 
L 403.50 585.41 
L 403.74 585.30 
L 403.74 631.33 
L 403.98 609.21 
L 403.98 573.87 
L 404.22 585.36 
L 404.22 609.33 
L 404.46 621.23 
L 404.46 584.62 
L 404.70 585.34 
L 404.70 608.95 
L 404.94 608.94 
L 404.94 584.93 
L 405.18 584.70 
L 405.18 610.58 
L 405.42 609.05 
L 405.42 585.32 
L 405.66 585.29 
L 405.66 609.07 
L 405.90 609.18 
L 405.90 585.15 
L 406.14 581.84 
L 406.14 608.84 
L 406.38 609.28 
L 406.38 585.42 
L 406.62 585.41 
L 406.62 609.41 
L 406.86 609.65 
L 406.86 585.14 
L 407.10 585.38 
L 407.10 608.90 
L 407.34 610.70 
L 407.34 584.30 
L 407.58 585.39 
L 407.58 609.72 
L 407.82 608.93 
L 407.82 585.28 
L 408.06 585.26 
L 408.06 610.93 
L 408.30 610.12 
L 408.30 579.70 
L 408.54 585.20 
L 408.54 609.39 
L 408.78 608.73 
L 408.78 583.93 
L 409.02 585.43 
L 409.02 609.27 
L 409.26 612.31 
L 409.26 585.51 
L 409.50 585.39 
L 409.50 609.37 
L 409.74 609.60 
L 409.74 585.47 
L 409.98 585.15 
L 409.98 609.08 
L 410.22 613.80 
L 410.22 585.49 
L 410.46 585.38 
L 410.46 610.36 
L 410.70 609.65 
L 410.70 585.10 
L 410.94 585.48 
L 410.94 620.55 
L 411.18 609.30 
L 411.18 578.41 
L 411.42 584.86 
L 411.42 609.29 
L 411.66 608.97 
L 411.66 585.37 
L 411.90 584.17 
L 411.90 620.66 
L 412.14 611.60 
L 412.14 585.56 
L 412.38 585.20 
L 412.38 609.16 
L 412.62 609.98 
L 412.62 584.61 
L 412.86 580.51 
L 412.86 626.50 
L 413.10 609.19 
L 413.10 585.47 
L 413.34 584.68 
L 413.34 611.77 
L 413.57 608.77 
L 413.57 585.16 
L 413.81 584.88 
L 413.81 613.77 
L 414.05 609.29 
L 414.05 585.52 
L 414.29 585.01 
L 414.29 609.50 
L 414.53 608.67 
L 414.53 581.42 
L 414.77 584.56 
L 414.77 609.49 
L 415.01 608.69 
L 415.01 585.23 
L 415.25 584.96 
L 415.25 608.79 
L 415.49 608.73 
L 415.49 577.75 
L 415.73 585.07 
L 415.73 610.98 
L 415.97 608.70 
L 415.97 585.54 
L 416.21 585.57 
L 416.21 609.80 
L 416.45 608.89 
L 416.45 581.57 
L 416.69 584.15 
L 416.69 608.87 
L 416.93 612.10 
L 416.93 570.83 
L 417.17 584.72 
L 417.17 608.76 
L 417.41 617.23 
L 417.41 579.19 
L 417.65 584.92 
L 417.65 609.55 
L 417.89 608.75 
L 417.89 585.08 
L 418.13 585.37 
L 418.13 608.89 
L 418.37 610.10 
L 418.37 585.43 
L 418.61 585.34 
L 418.61 608.74 
L 418.85 609.09 
L 418.85 585.42 
L 419.09 574.01 
L 419.09 608.79 
L 419.33 609.15 
L 419.33 585.36 
L 419.57 584.84 
L 419.57 608.94 
L 419.81 608.76 
L 419.81 585.05 
L 420.05 584.93 
L 420.05 609.23 
L 420.29 613.58 
L 420.29 581.73 
L 420.53 584.21 
L 420.53 609.15 
L 420.77 610.19 
L 420.77 585.62 
L 421.01 585.56 
L 421.01 639.56 
L 421.25 608.94 
L 421.25 585.18 
L 421.49 585.27 
L 421.49 608.66 
L 421.73 608.68 
L 421.73 585.38 
L 421.97 585.60 
L 421.97 629.66 
L 422.21 609.08 
L 422.21 581.43 
L 422.45 584.69 
L 422.45 609.33 
L 422.69 609.26 
L 422.69 585.22 
L 422.93 585.20 
L 422.93 609.19 
L 423.17 608.63 
L 423.17 584.85 
L 423.41 585.56 
L 423.41 614.20 
L 423.65 608.92 
L 423.65 585.25 
L 423.89 585.48 
L 423.89 608.94 
L 424.13 608.71 
L 424.13 584.95 
L 424.37 585.49 
L 424.37 609.50 
L 424.61 609.44 
L 424.61 584.98 
L 424.85 585.52 
L 424.85 608.68 
L 425.09 608.75 
L 425.09 584.81 
L 425.33 584.89 
L 425.33 616.55 
L 425.57 609.07 
L 425.57 585.47 
L 425.81 584.67 
L 425.81 614.07 
L 426.05 608.64 
L 426.05 585.36 
L 426.29 585.42 
L 426.29 608.67 
L 426.53 608.78 
L 426.53 585.58 
L 426.77 583.53 
L 426.77 609.29 
L 427.01 608.72 
L 427.01 585.13 
L 427.25 585.01 
L 427.25 609.87 
L 427.49 608.85 
L 427.49 585.29 
L 427.73 584.47 
L 427.73 609.12 
L 427.97 609.33 
L 427.97 585.00 
L 428.21 585.46 
L 428.21 609.62 
L 428.45 608.91 
L 428.45 585.23 
L 428.69 585.63 
L 428.69 609.84 
L 428.93 608.78 
L 428.93 585.55 
L 429.17 585.62 
L 429.17 609.93 
L 429.41 608.79 
L 429.41 583.50 
L 429.65 585.17 
L 429.65 608.61 
L 429.89 608.84 
L 429.89 585.13 
L 430.13 585.54 
L 430.13 608.60 
L 430.37 608.60 
L 430.37 585.46 
L 430.61 585.48 
L 430.61 610.24 
L 430.85 609.58 
L 430.85 585.54 
L 431.09 575.55 
L 431.09 613.65 
L 431.33 608.61 
L 431.33 585.02 
L 431.57 585.53 
L 431.57 608.91 
L 431.81 608.62 
L 431.81 585.52 
L 432.05 585.42 
L 432.05 609.22 
L 432.29 608.96 
L 432.29 584.84 
L 432.53 584.99 
L 432.53 611.45 
L 432.77 608.67 
L 432.77 585.61 
L 433.01 580.65 
L 433.01 611.07 
L 433.25 612.01 
L 433.25 585.55 
L 433.49 585.40 
L 433.49 609.48 
L 433.73 615.09 
L 433.73 585.50 
L 433.97 585.15 
L 433.97 609.13 
L 434.21 610.80 
L 434.21 585.41 
L 434.45 584.63 
L 434.45 617.75 
L 434.69 608.68 
L 434.69 583.99 
L 434.93 584.67 
L 434.93 608.74 
L 435.17 609.04 
L 435.17 585.40 
L 435.41 579.84 
L 435.41 608.66 
L 435.65 609.68 
L 435.65 585.03 
L 435.89 579.04 
L 435.89 701.21 
L 436.13 585.13 
L 436.37 582.35 
L 436.37 608.89 
L 436.61 610.42 
L 436.61 585.63 
L 436.85 585.49 
L 436.85 609.07 
L 437.09 608.61 
L 437.09 585.45 
L 437.33 585.66 
L 437.33 608.99 
L 437.57 613.79 
L 437.57 585.32 
L 437.81 585.21 
L 437.81 608.67 
L 438.05 610.38 
L 438.05 585.50 
L 438.29 585.65 
L 438.29 609.16 
L 438.53 609.02 
L 438.53 584.87 
L 438.77 585.22 
L 438.77 608.60 
L 439.01 609.47 
L 439.01 585.47 
L 439.25 585.52 
L 439.25 616.28 
L 439.49 608.63 
L 439.49 584.49 
L 439.73 579.83 
L 439.73 608.73 
L 439.97 612.53 
L 439.97 585.52 
L 440.21 584.85 
L 440.21 609.67 
L 440.45 610.03 
L 440.45 585.70 
L 440.69 563.59 
L 440.69 609.40 
L 440.93 608.63 
L 440.93 585.09 
L 441.17 585.63 
L 441.17 608.60 
L 441.41 609.34 
L 441.41 584.54 
L 441.65 573.70 
L 441.65 608.55 
L 441.89 609.22 
L 441.89 585.12 
L 442.13 584.89 
L 442.13 609.89 
L 442.37 609.35 
L 442.37 585.69 
L 442.61 583.59 
L 442.61 615.73 
L 442.85 608.57 
L 442.85 585.32 
L 443.09 585.48 
L 443.09 608.83 
L 443.33 609.00 
L 443.33 584.75 
L 443.57 585.40 
L 443.57 609.06 
L 443.81 608.73 
L 443.81 584.57 
L 444.05 585.69 
L 444.05 613.48 
L 444.29 619.46 
L 444.29 585.59 
L 444.53 579.86 
L 444.53 609.51 
L 444.77 608.68 
L 444.77 585.65 
L 445.01 583.19 
L 445.01 608.94 
L 445.25 608.84 
L 445.25 585.58 
L 445.49 584.96 
L 445.49 613.06 
L 445.73 609.59 
L 445.73 585.53 
L 445.97 585.52 
L 445.97 608.71 
L 446.21 609.28 
L 446.21 576.78 
L 446.21 576.78 
" clip-path="url(#p51455fbb79)" style="fill: none; stroke: #ff0000; stroke-opacity: 0.7; stroke-linecap: square"/>
</g>
<g id="line2d_130">
<path d="M 52.68 597.13 
L 464.95 597.13 
" clip-path="url(#p51455fbb79)" style="fill: none; stroke: #000000; stroke-opacity: 0.3; stroke-width: 1.3; stroke-linecap: square"/>
</g>
<g id="patch_76">
<path d="M 52.68 717.26 
L 52.68 536.30 
" style="fill: none; stroke: #000000; stroke-width: 0.8; stroke-linejoin: miter; stroke-linecap: square"/>
</g>
<g id="patch_77">
<path d="M 464.95 717.26 
L 464.95 536.30 
" style="fill: none; stroke: #000000; stroke-width: 0.8; stroke-linejoin: miter; stroke-linecap: square"/>
</g>
<g id="patch_78">
<path d="M 52.68 717.26 
L 464.95 717.26 
" style="fill: none; stroke: #000000; stroke-width: 0.8; stroke-linejoin: miter; stroke-linecap: square"/>
</g>
<g id="patch_79">
<path d="M 52.68 536.30 
L 464.95 536.30 
" style="fill: none; stroke: #000000; stroke-width: 0.8; stroke-linejoin: miter; stroke-linecap: square"/>
</g>
</g>
<g id="axes_6">
</g>
</g>
<defs>
<clipPath id="pfc996ee8aa">
<rect x="52.68" y="57.64" width="412.27" height="180.96"/>
</clipPath>
<clipPath id="p48c5f17e4d">
<rect x="653.35" y="57.64" width="412.36" height="180.96"/>
</clipPath>
<clipPath id="p7c2e4f9756">
<rect x="52.68" y="296.97" width="412.27" height="180.96"/>
</clipPath>
<clipPath id="p81cbdafc3b">
<rect x="653.35" y="296.97" width="412.36" height="180.96"/>
</clipPath>
<clipPath id="p51455fbb79">
<rect x="52.68" y="536.30" width="412.27" height="180.96"/>
</clipPath>
</defs>
<g transform="scale(0.24)">
<text x="284.33" y="1057.37" style="font-family:'Liberation Sans',sans-serif;font-size:43.75px" textLength="26.51" lengthAdjust="spacingAndGlyphs">0</text>
<text x="531.35" y="1057.37" style="font-family:'Liberation Sans',sans-serif;font-size:43.75px" textLength="53.02" lengthAdjust="spacingAndGlyphs">50</text>
<text x="778.38" y="1057.37" style="font-family:'Liberation Sans',sans-serif;font-size:43.75px" textLength="79.53" lengthAdjust="spacingAndGlyphs">100</text>
<text x="1038.65" y="1057.37" style="font-family:'Liberation Sans',sans-serif;font-size:43.75px" textLength="79.53" lengthAdjust="spacingAndGlyphs">150</text>
<text x="1298.99" y="1057.37" style="font-family:'Liberation Sans',sans-serif;font-size:43.75px" textLength="79.53" lengthAdjust="spacingAndGlyphs">200</text>
<text x="1559.26" y="1057.37" style="font-family:'Liberation Sans',sans-serif;font-size:43.75px" textLength="79.53" lengthAdjust="spacingAndGlyphs">250</text>
<text x="1819.41" y="1057.37" style="font-family:'Liberation Sans',sans-serif;font-size:43.75px" textLength="79.53" lengthAdjust="spacingAndGlyphs">300</text>
<text x="967.90" y="1116.03" style="font-family:'Liberation Sans',sans-serif;font-size:43.75px" textLength="221.35" lengthAdjust="spacingAndGlyphs">Tiempo (s)</text>
<text x="123.96" y="1008.20" style="font-family:'Liberation Sans',sans-serif;font-size:43.75px" textLength="66.26" lengthAdjust="spacingAndGlyphs">1.8</text>
<text x="124.21" y="868.31" style="font-family:'Liberation Sans',sans-serif;font-size:43.75px" textLength="66.26" lengthAdjust="spacingAndGlyphs">1.9</text>
<text x="124.21" y="728.43" style="font-family:'Liberation Sans',sans-serif;font-size:43.75px" textLength="66.26" lengthAdjust="spacingAndGlyphs">2.0</text>
<text x="124.21" y="588.54" style="font-family:'Liberation Sans',sans-serif;font-size:43.75px" textLength="66.26" lengthAdjust="spacingAndGlyphs">2.1</text>
<text x="124.33" y="448.65" style="font-family:'Liberation Sans',sans-serif;font-size:43.75px" textLength="66.26" lengthAdjust="spacingAndGlyphs">2.2</text>
<text x="124.08" y="308.76" style="font-family:'Liberation Sans',sans-serif;font-size:43.75px" textLength="66.26" lengthAdjust="spacingAndGlyphs">2.3</text>
<text x="98.29" y="703.89" style="font-family:'Liberation Sans',sans-serif;font-size:43.75px" textLength="171.53" lengthAdjust="spacingAndGlyphs" transform="rotate(-90 98.29 703.89)">Luz4 (V)</text>
<text x="763.46" y="216.20" style="font-family:'Liberation Sans',sans-serif;font-size:52.50px" textLength="629.28" lengthAdjust="spacingAndGlyphs">Serie Temporal Completa</text>
<text x="1599.93" y="311.70" style="font-family:'Liberation Sans',sans-serif;font-size:43.75px" textLength="300.21" lengthAdjust="spacingAndGlyphs">Media: 2.150V</text>
<text x="2697.08" y="1057.37" style="font-family:'Liberation Sans',sans-serif;font-size:43.75px" textLength="66.26" lengthAdjust="spacingAndGlyphs">1.8</text>
<text x="3015.98" y="1057.37" style="font-family:'Liberation Sans',sans-serif;font-size:43.75px" textLength="66.26" lengthAdjust="spacingAndGlyphs">1.9</text>
<text x="3334.76" y="1057.37" style="font-family:'Liberation Sans',sans-serif;font-size:43.75px" textLength="66.26" lengthAdjust="spacingAndGlyphs">2.0</text>
<text x="3653.53" y="1057.37" style="font-family:'Liberation Sans',sans-serif;font-size:43.75px" textLength="66.26" lengthAdjust="spacingAndGlyphs">2.1</text>
<text x="3972.37" y="1057.37" style="font-family:'Liberation Sans',sans-serif;font-size:43.75px" textLength="66.26" lengthAdjust="spacingAndGlyphs">2.2</text>
<text x="4291.02" y="1057.37" style="font-family:'Liberation Sans',sans-serif;font-size:43.75px" textLength="66.26" lengthAdjust="spacingAndGlyphs">2.3</text>
<text x="3495.71" y="1116.03" style="font-family:'Liberation Sans',sans-serif;font-size:43.75px" textLength="171.53" lengthAdjust="spacingAndGlyphs">Luz4 (V)</text>
<text x="2666.63" y="1011.70" style="font-family:'Liberation Sans',sans-serif;font-size:43.75px" textLength="26.51" lengthAdjust="spacingAndGlyphs">0</text>
<text x="2666.63" y="886.82" style="font-family:'Liberation Sans',sans-serif;font-size:43.75px" textLength="26.51" lengthAdjust="spacingAndGlyphs">5</text>
<text x="2640.13" y="761.95" style="font-family:'Liberation Sans',sans-serif;font-size:43.75px" textLength="53.02" lengthAdjust="spacingAndGlyphs">10</text>
<text x="2640.13" y="637.07" style="font-family:'Liberation Sans',sans-serif;font-size:43.75px" textLength="53.02" lengthAdjust="spacingAndGlyphs">15</text>
<text x="2640.26" y="512.20" style="font-family:'Liberation Sans',sans-serif;font-size:43.75px" textLength="53.02" lengthAdjust="spacingAndGlyphs">20</text>
<text x="2640.26" y="387.32" style="font-family:'Liberation Sans',sans-serif;font-size:43.75px" textLength="53.02" lengthAdjust="spacingAndGlyphs">25</text>
<text x="2640.01" y="262.45" style="font-family:'Liberation Sans',sans-serif;font-size:43.75px" textLength="53.02" lengthAdjust="spacingAndGlyphs">30</text>
<text x="2614.34" y="716.01" style="font-family:'Liberation Sans',sans-serif;font-size:43.75px" textLength="195.85" lengthAdjust="spacingAndGlyphs" transform="rotate(-90 2614.34 716.01)">Densidad</text>
<text x="3293.21" y="216.20" style="font-family:'Liberation Sans',sans-serif;font-size:52.50px" textLength="575.56" lengthAdjust="spacingAndGlyphs">Distribución de Valores</text>
<text x="4051.38" y="311.70" style="font-family:'Liberation Sans',sans-serif;font-size:43.75px" textLength="300.21" lengthAdjust="spacingAndGlyphs">Media: 2.150V</text>
<text x="4051.38" y="374.53" style="font-family:'Liberation Sans',sans-serif;font-size:43.75px" textLength="352.15" lengthAdjust="spacingAndGlyphs">Mediana: 2.149V</text>
<text x="1065.15" y="2054.57" style="font-family:'Liberation Sans',sans-serif;font-size:43.75px" textLength="26.51" lengthAdjust="spacingAndGlyphs">1</text>
<text x="123.96" y="2005.40" style="font-family:'Liberation Sans',sans-serif;font-size:43.75px" textLength="66.26" lengthAdjust="spacingAndGlyphs">1.8</text>
<text x="124.21" y="1865.51" style="font-family:'Liberation Sans',sans-serif;font-size:43.75px" textLength="66.26" lengthAdjust="spacingAndGlyphs">1.9</text>
<text x="124.21" y="1725.63" style="font-family:'Liberation Sans',sans-serif;font-size:43.75px" textLength="66.26" lengthAdjust="spacingAndGlyphs">2.0</text>
<text x="124.21" y="1585.74" style="font-family:'Liberation Sans',sans-serif;font-size:43.75px" textLength="66.26" lengthAdjust="spacingAndGlyphs">2.1</text>
<text x="124.33" y="1445.85" style="font-family:'Liberation Sans',sans-serif;font-size:43.75px" textLength="66.26" lengthAdjust="spacingAndGlyphs">2.2</text>
<text x="124.08" y="1305.96" style="font-family:'Liberation Sans',sans-serif;font-size:43.75px" textLength="66.26" lengthAdjust="spacingAndGlyphs">2.3</text>
<text x="98.29" y="1701.09" style="font-family:'Liberation Sans',sans-serif;font-size:43.75px" textLength="171.53" lengthAdjust="spacingAndGlyphs" transform="rotate(-90 98.29 1701.09)">Luz4 (V)</text>
<text x="2199.61" y="1542.20" style="font-family:'Liberation Mono',monospace;font-size:40.12px" textLength="248.34" lengthAdjust="spacingAndGlyphs">Mín: 1.822V</text>
<text x="2199.61" y="1583.80" style="font-family:'Liberation Mono',monospace;font-size:40.12px" textLength="225.76" lengthAdjust="spacingAndGlyphs">Q1: 2.141V</text>
<text x="2199.61" y="1625.40" style="font-family:'Liberation Mono',monospace;font-size:40.12px" textLength="338.64" lengthAdjust="spacingAndGlyphs">Mediana: 2.149V</text>
<text x="2199.61" y="1667.00" style="font-family:'Liberation Mono',monospace;font-size:40.12px" textLength="225.76" lengthAdjust="spacingAndGlyphs">Q3: 2.159V</text>
<text x="2199.61" y="1708.60" style="font-family:'Liberation Mono',monospace;font-size:40.12px" textLength="248.34" lengthAdjust="spacingAndGlyphs">Máx: 2.312V</text>
<text x="853.46" y="1213.40" style="font-family:'Liberation Sans',sans-serif;font-size:52.50px" textLength="449.69" lengthAdjust="spacingAndGlyphs">Diagrama de Caja</text>
<text x="2787.15" y="2054.57" style="font-family:'Liberation Sans',sans-serif;font-size:43.75px" textLength="26.51" lengthAdjust="spacingAndGlyphs">0</text>
<text x="3089.52" y="2054.57" style="font-family:'Liberation Sans',sans-serif;font-size:43.75px" textLength="53.02" lengthAdjust="spacingAndGlyphs">20</text>
<text x="3405.01" y="2054.57" style="font-family:'Liberation Sans',sans-serif;font-size:43.75px" textLength="53.02" lengthAdjust="spacingAndGlyphs">40</text>
<text x="3720.57" y="2054.57" style="font-family:'Liberation Sans',sans-serif;font-size:43.75px" textLength="53.02" lengthAdjust="spacingAndGlyphs">60</text>
<text x="4036.06" y="2054.57" style="font-family:'Liberation Sans',sans-serif;font-size:43.75px" textLength="53.02" lengthAdjust="spacingAndGlyphs">80</text>
<text x="4338.43" y="2054.57" style="font-family:'Liberation Sans',sans-serif;font-size:43.75px" textLength="79.53" lengthAdjust="spacingAndGlyphs">100</text>
<text x="3423.46" y="2113.23" style="font-family:'Liberation Sans',sans-serif;font-size:43.75px" textLength="316.00" lengthAdjust="spacingAndGlyphs">Lag (muestras)</text>
<text x="2626.88" y="1974.63" style="font-family:'Liberation Sans',sans-serif;font-size:43.75px" textLength="66.26" lengthAdjust="spacingAndGlyphs">0.0</text>
<text x="2627.01" y="1837.54" style="font-family:'Liberation Sans',sans-serif;font-size:43.75px" textLength="66.26" lengthAdjust="spacingAndGlyphs">0.2</text>
<text x="2626.88" y="1700.45" style="font-family:'Liberation Sans',sans-serif;font-size:43.75px" textLength="66.26" lengthAdjust="spacingAndGlyphs">0.4</text>
<text x="2626.88" y="1563.35" style="font-family:'Liberation Sans',sans-serif;font-size:43.75px" textLength="66.26" lengthAdjust="spacingAndGlyphs">0.6</text>
<text x="2626.76" y="1426.26" style="font-family:'Liberation Sans',sans-serif;font-size:43.75px" textLength="66.26" lengthAdjust="spacingAndGlyphs">0.8</text>
<text x="2626.88" y="1289.17" style="font-family:'Liberation Sans',sans-serif;font-size:43.75px" textLength="66.26" lengthAdjust="spacingAndGlyphs">1.0</text>
<text x="2601.09" y="1778.53" style="font-family:'Liberation Sans',sans-serif;font-size:43.75px" textLength="326.87" lengthAdjust="spacingAndGlyphs" transform="rotate(-90 2601.09 1778.53)">Autocorrelación</text>
<text x="3131.84" y="1213.40" style="font-family:'Liberation Sans',sans-serif;font-size:52.50px" textLength="898.41" lengthAdjust="spacingAndGlyphs">Autocorrelación (primeros 100 lags)</text>
<text x="284.33" y="3051.77" style="font-family:'Liberation Sans',sans-serif;font-size:43.75px" textLength="26.51" lengthAdjust="spacingAndGlyphs">0</text>
<text x="531.35" y="3051.77" style="font-family:'Liberation Sans',sans-serif;font-size:43.75px" textLength="53.02" lengthAdjust="spacingAndGlyphs">50</text>
<text x="778.38" y="3051.77" style="font-family:'Liberation Sans',sans-serif;font-size:43.75px" textLength="79.53" lengthAdjust="spacingAndGlyphs">100</text>
<text x="1038.65" y="3051.77" style="font-family:'Liberation Sans',sans-serif;font-size:43.75px" textLength="79.53" lengthAdjust="spacingAndGlyphs">150</text>
<text x="1298.99" y="3051.77" style="font-family:'Liberation Sans',sans-serif;font-size:43.75px" textLength="79.53" lengthAdjust="spacingAndGlyphs">200</text>
<text x="1559.26" y="3051.77" style="font-family:'Liberation Sans',sans-serif;font-size:43.75px" textLength="79.53" lengthAdjust="spacingAndGlyphs">250</text>
<text x="1819.41" y="3051.77" style="font-family:'Liberation Sans',sans-serif;font-size:43.75px" textLength="79.53" lengthAdjust="spacingAndGlyphs">300</text>
<text x="967.90" y="3110.43" style="font-family:'Liberation Sans',sans-serif;font-size:43.75px" textLength="221.35" lengthAdjust="spacingAndGlyphs">Tiempo (s)</text>
<text x="89.08" y="2924.31" style="font-family:'Liberation Sans',sans-serif;font-size:43.75px" textLength="101.18" lengthAdjust="spacingAndGlyphs">−0.3</text>
<text x="89.33" y="2784.73" style="font-family:'Liberation Sans',sans-serif;font-size:43.75px" textLength="101.18" lengthAdjust="spacingAndGlyphs">−0.2</text>
<text x="89.21" y="2645.15" style="font-family:'Liberation Sans',sans-serif;font-size:43.75px" textLength="101.18" lengthAdjust="spacingAndGlyphs">−0.1</text>
<text x="124.08" y="2505.57" style="font-family:'Liberation Sans',sans-serif;font-size:43.75px" textLength="66.26" lengthAdjust="spacingAndGlyphs">0.0</text>
<text x="124.08" y="2366.00" style="font-family:'Liberation Sans',sans-serif;font-size:43.75px" textLength="66.26" lengthAdjust="spacingAndGlyphs">0.1</text>
<text x="63.42" y="2737.60" style="font-family:'Liberation Sans',sans-serif;font-size:43.75px" textLength="250.22" lengthAdjust="spacingAndGlyphs" transform="rotate(-90 63.42 2737.60)">Residual (V)</text>
<text x="698.40" y="2210.60" style="font-family:'Liberation Sans',sans-serif;font-size:52.50px" textLength="759.59" lengthAdjust="spacingAndGlyphs">Residuales (datos - tendencia)</text>
<text x="2898.51" y="2342.90" style="font-family:'Liberation Mono',monospace;font-size:40.12px" textLength="586.98" lengthAdjust="spacingAndGlyphs">RESUMEN DE MÉTRICAS - Luz4</text>
<text x="2898.51" y="2426.10" style="font-family:'Liberation Mono',monospace;font-size:40.12px" textLength="474.10" lengthAdjust="spacingAndGlyphs">Estadísticas Básicas:</text>
<text x="2898.51" y="2467.70" style="font-family:'Liberation Mono',monospace;font-size:40.12px" textLength="406.37" lengthAdjust="spacingAndGlyphs">• Muestras: 150000</text>
<text x="2898.51" y="2509.30" style="font-family:'Liberation Mono',monospace;font-size:40.12px" textLength="361.22" lengthAdjust="spacingAndGlyphs">• Media: 2.150 V</text>
<text x="2898.51" y="2550.90" style="font-family:'Liberation Mono',monospace;font-size:40.12px" textLength="406.37" lengthAdjust="spacingAndGlyphs">• Mediana: 2.149 V</text>
<text x="2898.51" y="2592.50" style="font-family:'Liberation Mono',monospace;font-size:40.12px" textLength="383.79" lengthAdjust="spacingAndGlyphs">• Mínimo: 1.822 V</text>
<text x="2898.51" y="2634.10" style="font-family:'Liberation Mono',monospace;font-size:40.12px" textLength="383.79" lengthAdjust="spacingAndGlyphs">• Máximo: 2.312 V</text>
<text x="2898.51" y="2675.70" style="font-family:'Liberation Mono',monospace;font-size:40.12px" textLength="361.22" lengthAdjust="spacingAndGlyphs">• Rango: 0.490 V</text>
<text x="2898.51" y="2758.90" style="font-family:'Liberation Mono',monospace;font-size:40.12px" textLength="180.61" lengthAdjust="spacingAndGlyphs">Calidad:</text>
<text x="2898.51" y="2800.50" style="font-family:'Liberation Mono',monospace;font-size:40.12px" textLength="564.40" lengthAdjust="spacingAndGlyphs">• Calidad general: 9.5/10</text>
<text x="2898.51" y="2842.10" style="font-family:'Liberation Mono',monospace;font-size:40.12px" textLength="474.10" lengthAdjust="spacingAndGlyphs">• Ruido RMS: 0.0145 V</text>
<text x="2898.51" y="2883.70" style="font-family:'Liberation Mono',monospace;font-size:40.12px" textLength="316.07" lengthAdjust="spacingAndGlyphs">• SNR: 43.4 dB</text>
<text x="2898.51" y="2925.30" style="font-family:'Liberation Mono',monospace;font-size:40.12px" textLength="519.25" lengthAdjust="spacingAndGlyphs">• Coef. variación: 0.7%</text>
<text x="2898.51" y="3008.50" style="font-family:'Liberation Mono',monospace;font-size:40.12px" textLength="270.91" lengthAdjust="spacingAndGlyphs">Estabilidad:</text>
<text x="2898.51" y="3050.10" style="font-family:'Liberation Mono',monospace;font-size:40.12px" textLength="677.29" lengthAdjust="spacingAndGlyphs">• Tendencia: -0.000 mV/muestra</text>
<text x="2898.51" y="3091.70" style="font-family:'Liberation Mono',monospace;font-size:40.12px" textLength="609.56" lengthAdjust="spacingAndGlyphs">• Valores fuera de rango: 0</text>
<text x="2898.51" y="3174.90" style="font-family:'Liberation Mono',monospace;font-size:40.12px" textLength="248.34" lengthAdjust="spacingAndGlyphs">Validación:</text>
<text x="2898.51" y="3216.50" style="font-family:'Liberation Mono',monospace;font-size:40.12px" textLength="316.07" lengthAdjust="spacingAndGlyphs">• Válido: True</text>
<text x="2898.51" y="3260.50" style="font-family:'Liberation Mono',monospace;font-size:40.12px" textLength="948.20" lengthAdjust="spacingAndGlyphs">• Razón: Valores dentro de rango aceptable</text>
<text x="2898.51" y="3343.70" style="font-family:'Liberation Mono',monospace;font-size:40.12px" textLength="361.22" lengthAdjust="spacingAndGlyphs">RECOMENDACIONES:</text>
<text x="2898.51" y="3385.30" style="font-family:'Liberation Mono',monospace;font-size:40.12px" textLength="428.95" lengthAdjust="spacingAndGlyphs">• Calidad aceptable</text>
<text x="2808.21" y="3426.90" style="font-family:'Liberation Mono',monospace;font-size:40.12px" textLength="338.64" lengthAdjust="spacingAndGlyphs">• SNR aceptable</text>
<text x="1613.19" y="75.79" style="font-family:'Liberation Sans',sans-serif;font-size:61.25px;font-weight:700" textLength="1242.38" lengthAdjust="spacingAndGlyphs">ANÁLISIS DETALLADO - 1medcolor.csv</text>
<text x="1627.88" y="141.79" style="font-family:'Liberation Sans',sans-serif;font-size:61.25px;font-weight:700" textLength="1213.76" lengthAdjust="spacingAndGlyphs">Columna: Luz4 | Tipo: DESCONOCIDO</text>
</g>
</svg>
</body></html>
